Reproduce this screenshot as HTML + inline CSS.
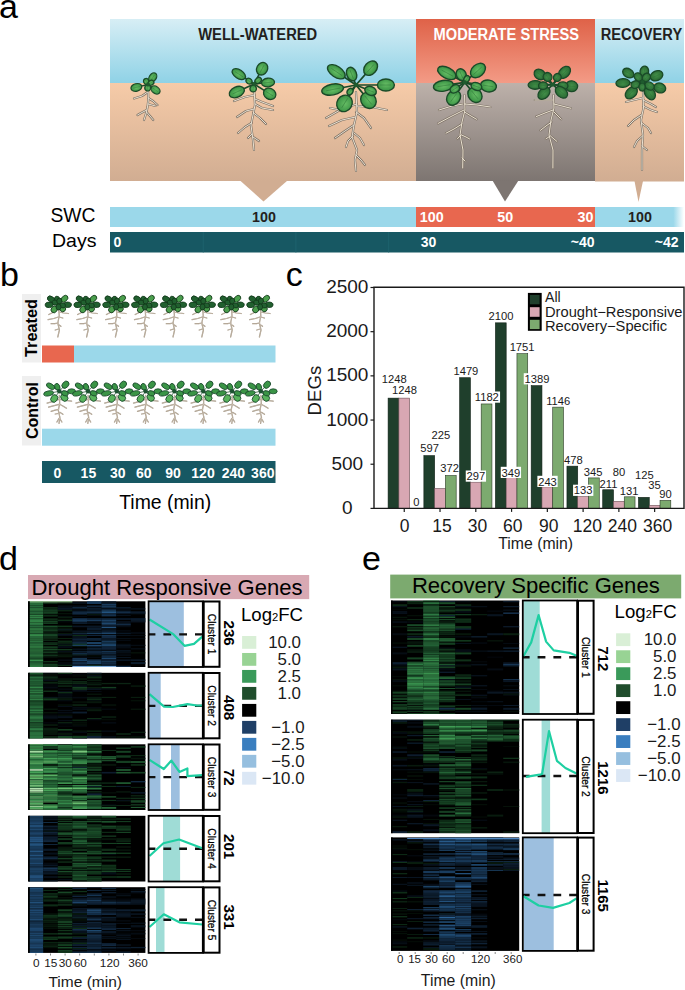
<!DOCTYPE html>
<html><head><meta charset="utf-8"><style>
html,body{margin:0;padding:0;background:#fff;}
body{width:685px;height:990px;overflow:hidden;}
svg{display:block;font-family:"Liberation Sans", sans-serif;}
</style></head><body>
<svg width="685" height="990" viewBox="0 0 685 990" font-family='"Liberation Sans", sans-serif'>
<defs><linearGradient id="skyB" x1="0" y1="0" x2="0" y2="1"><stop offset="0" stop-color="#d7eef5"/><stop offset="1" stop-color="#8fd2e6"/></linearGradient><linearGradient id="soilB" x1="0" y1="0" x2="0" y2="1"><stop offset="0" stop-color="#f6cba8"/><stop offset="1" stop-color="#d1ad92"/></linearGradient><linearGradient id="skyR" x1="0" y1="0" x2="0" y2="1"><stop offset="0" stop-color="#df6248"/><stop offset="1" stop-color="#f39b86"/></linearGradient><linearGradient id="soilG" x1="0" y1="0" x2="0" y2="1"><stop offset="0" stop-color="#bdb1aa"/><stop offset="1" stop-color="#7d7571"/></linearGradient><linearGradient id="swcFade" x1="0" y1="0" x2="1" y2="0"><stop offset="0" stop-color="#9bd8ea"/><stop offset="0.88" stop-color="#9bd8ea"/><stop offset="1" stop-color="#9bd8ea" stop-opacity="0"/></linearGradient><radialGradient id="leafG" cx="0.5" cy="0.45" r="0.6"><stop offset="0" stop-color="#66bd64"/><stop offset="1" stop-color="#338c40"/></radialGradient><radialGradient id="leafD" cx="0.5" cy="0.45" r="0.6"><stop offset="0" stop-color="#44914a"/><stop offset="1" stop-color="#25632f"/></radialGradient></defs>
<rect x="110.00" y="19.00" width="306.00" height="64.00" fill="url(#skyB)" />
<rect x="110.00" y="83.00" width="306.00" height="98.00" fill="url(#soilB)" />
<polygon points="240,180.5 287.5,180.5 263.5,201.5" fill="#d1ad92"/>
<rect x="416.00" y="19.00" width="179.00" height="64.00" fill="url(#skyR)" />
<rect x="416.00" y="83.00" width="179.00" height="98.00" fill="url(#soilG)" />
<polygon points="492.5,180.5 518.5,180.5 505,201.5" fill="#7d7571"/>
<rect x="595.00" y="19.00" width="89.00" height="64.00" fill="url(#skyB)" />
<rect x="595.00" y="83.00" width="89.00" height="98.50" fill="url(#soilB)" />
<polygon points="634.5,181 643,181 638.5,202" fill="#d1ad92"/>
<text x="257.70" y="40.40" font-size="15.6" text-anchor="middle" font-weight="bold" fill="#231f20" textLength="119" lengthAdjust="spacingAndGlyphs" >WELL-WATERED</text>
<text x="506.30" y="40.40" font-size="15.6" text-anchor="middle" font-weight="bold" fill="#ffffff" textLength="145.5" lengthAdjust="spacingAndGlyphs" >MODERATE STRESS</text>
<text x="641.40" y="40.20" font-size="15.6" text-anchor="middle" font-weight="bold" fill="#231f20" textLength="81.5" lengthAdjust="spacingAndGlyphs" >RECOVERY</text>
<rect x="110.00" y="207.00" width="306.00" height="20.00" fill="#9bd8ea" />
<rect x="416.00" y="207.00" width="179.00" height="20.00" fill="#e8674f" />
<rect x="595.00" y="207.00" width="89.00" height="20.00" fill="url(#swcFade)" />
<rect x="110.00" y="232.00" width="574.00" height="20.50" fill="#175863" />
<rect x="202.80" y="232.00" width="0.80" height="20.50" fill="#1e6470" />
<rect x="295.50" y="232.00" width="0.80" height="20.50" fill="#1e6470" />
<rect x="388.30" y="232.00" width="0.80" height="20.50" fill="#1e6470" />
<text x="72.90" y="222.00" font-size="19.3" text-anchor="middle" fill="#000" textLength="45" lengthAdjust="spacingAndGlyphs" >SWC</text>
<text x="74.20" y="247.40" font-size="19.0" text-anchor="middle" fill="#000" textLength="44.5" lengthAdjust="spacingAndGlyphs" >Days</text>
<text x="264.00" y="222.20" font-size="14.3" text-anchor="middle" font-weight="bold" fill="#231f20" >100</text>
<text x="431.80" y="222.20" font-size="14.3" text-anchor="middle" font-weight="bold" fill="#fff" >100</text>
<text x="505.30" y="222.20" font-size="14.3" text-anchor="middle" font-weight="bold" fill="#fff" >50</text>
<text x="585.50" y="222.20" font-size="14.3" text-anchor="middle" font-weight="bold" fill="#fff" >30</text>
<text x="640.00" y="222.20" font-size="14.3" text-anchor="middle" font-weight="bold" fill="#231f20" >100</text>
<text x="113.60" y="246.80" font-size="14" text-anchor="start" font-weight="bold" fill="#fff" >0</text>
<text x="428.50" y="246.80" font-size="14" text-anchor="middle" font-weight="bold" fill="#fff" >30</text>
<text x="594.50" y="246.80" font-size="14" text-anchor="end" font-weight="bold" fill="#fff" >~40</text>
<text x="678.50" y="246.80" font-size="14" text-anchor="end" font-weight="bold" fill="#fff" >~42</text>
<text x="-1.00" y="17.80" font-size="34" text-anchor="start" fill="#000" >a</text>
<g><path d="M148.0,86.0 L148.3,100.0 L147.5,107.0 L146.5,112.0 L144.0,120.0" fill="none" stroke="#7d7266" stroke-width="2.2" stroke-linecap="round" stroke-linejoin="round"/><path d="M147.8,92.0 L142.0,96.0 L134.0,98.5" fill="none" stroke="#7d7266" stroke-width="2.2" stroke-linecap="round" stroke-linejoin="round"/><path d="M148.2,98.0 L153.0,101.0 L157.5,105.0" fill="none" stroke="#7d7266" stroke-width="2.2" stroke-linecap="round" stroke-linejoin="round"/><path d="M148.2,104.0 L155.5,106.0" fill="none" stroke="#7d7266" stroke-width="2.2" stroke-linecap="round" stroke-linejoin="round"/><path d="M146.8,110.0 L141.0,113.0 L137.5,115.0" fill="none" stroke="#7d7266" stroke-width="2.2" stroke-linecap="round" stroke-linejoin="round"/><path d="M146.5,112.0 L150.0,116.0 L153.3,120.0" fill="none" stroke="#7d7266" stroke-width="2.2" stroke-linecap="round" stroke-linejoin="round"/><path d="M148.0,86.0 L148.3,100.0 L147.5,107.0 L146.5,112.0 L144.0,120.0" fill="none" stroke="#e9e0d0" stroke-width="1.0" stroke-linecap="round" stroke-linejoin="round"/><path d="M147.8,92.0 L142.0,96.0 L134.0,98.5" fill="none" stroke="#e9e0d0" stroke-width="1.0" stroke-linecap="round" stroke-linejoin="round"/><path d="M148.2,98.0 L153.0,101.0 L157.5,105.0" fill="none" stroke="#e9e0d0" stroke-width="1.0" stroke-linecap="round" stroke-linejoin="round"/><path d="M148.2,104.0 L155.5,106.0" fill="none" stroke="#e9e0d0" stroke-width="1.0" stroke-linecap="round" stroke-linejoin="round"/><path d="M146.8,110.0 L141.0,113.0 L137.5,115.0" fill="none" stroke="#e9e0d0" stroke-width="1.0" stroke-linecap="round" stroke-linejoin="round"/><path d="M146.5,112.0 L150.0,116.0 L153.3,120.0" fill="none" stroke="#e9e0d0" stroke-width="1.0" stroke-linecap="round" stroke-linejoin="round"/><line x1="148.0" y1="84.5" x2="147.0" y2="82.8" stroke="#1a4a28" stroke-width="1.44" stroke-linecap="round"/><line x1="148.0" y1="84.5" x2="147.8" y2="86.5" stroke="#1a4a28" stroke-width="1.44" stroke-linecap="round"/><line x1="148.0" y1="84.5" x2="149.7" y2="83.5" stroke="#1a4a28" stroke-width="1.44" stroke-linecap="round"/><line x1="148.0" y1="84.5" x2="150.8" y2="80.4" stroke="#1a4a28" stroke-width="1.44" stroke-linecap="round"/><line x1="148.0" y1="84.5" x2="140.2" y2="86.4" stroke="#1a4a28" stroke-width="1.44" stroke-linecap="round"/><line x1="148.0" y1="84.5" x2="152.7" y2="87.9" stroke="#1a4a28" stroke-width="1.44" stroke-linecap="round"/><g transform="translate(136.36,87.40) rotate(166.0)"><ellipse cx="0" cy="0" rx="5.50" ry="3.78" fill="url(#leafG)" stroke="#1a4a28" stroke-width="1.20"/><line x1="-3.85" y1="0" x2="3.30" y2="0" stroke="#2b7236" stroke-width="0.66" opacity="0.6"/></g><g transform="translate(155.52,89.97) rotate(36.0)"><ellipse cx="0" cy="0" rx="5.00" ry="3.51" fill="url(#leafG)" stroke="#1a4a28" stroke-width="1.20"/><line x1="-3.50" y1="0" x2="3.00" y2="0" stroke="#2b7236" stroke-width="0.66" opacity="0.6"/></g><g transform="translate(152.75,77.45) rotate(-56.0)"><ellipse cx="0" cy="0" rx="5.00" ry="3.51" fill="url(#leafG)" stroke="#1a4a28" stroke-width="1.20"/><line x1="-3.50" y1="0" x2="3.00" y2="0" stroke="#2b7236" stroke-width="0.66" opacity="0.6"/></g><g transform="translate(146.25,81.47) rotate(-120.0)"><ellipse cx="0" cy="0" rx="3.00" ry="2.70" fill="url(#leafG)" stroke="#1a4a28" stroke-width="1.20"/><line x1="-2.10" y1="0" x2="1.80" y2="0" stroke="#2b7236" stroke-width="0.66" opacity="0.6"/></g><g transform="translate(147.69,87.99) rotate(95.0)"><ellipse cx="0" cy="0" rx="3.00" ry="2.97" fill="url(#leafG)" stroke="#1a4a28" stroke-width="1.20"/><line x1="-2.10" y1="0" x2="1.80" y2="0" stroke="#2b7236" stroke-width="0.66" opacity="0.6"/></g><g transform="translate(151.03,82.75) rotate(-30.0)"><ellipse cx="0" cy="0" rx="3.00" ry="2.43" fill="url(#leafG)" stroke="#1a4a28" stroke-width="1.20"/><line x1="-2.10" y1="0" x2="1.80" y2="0" stroke="#2b7236" stroke-width="0.66" opacity="0.6"/></g><circle cx="148.0" cy="84.5" r="1.9" fill="#1f5a2e"/></g>
<g><path d="M254.0,88.0 L255.0,105.0 L253.0,115.0 L251.0,125.0 L253.0,140.0 L254.0,150.0" fill="none" stroke="#7d7266" stroke-width="2.2" stroke-linecap="round" stroke-linejoin="round"/><path d="M254.5,95.0 L245.0,97.0 L234.0,101.0" fill="none" stroke="#7d7266" stroke-width="2.2" stroke-linecap="round" stroke-linejoin="round"/><path d="M255.0,99.0 L262.0,102.0 L273.0,106.0" fill="none" stroke="#7d7266" stroke-width="2.2" stroke-linecap="round" stroke-linejoin="round"/><path d="M255.0,104.0 L262.0,108.0 L273.0,110.0" fill="none" stroke="#7d7266" stroke-width="2.2" stroke-linecap="round" stroke-linejoin="round"/><path d="M254.0,109.0 L246.0,111.0 L237.0,117.0" fill="none" stroke="#7d7266" stroke-width="2.2" stroke-linecap="round" stroke-linejoin="round"/><path d="M253.5,113.0 L260.0,118.0 L266.0,124.0" fill="none" stroke="#7d7266" stroke-width="2.2" stroke-linecap="round" stroke-linejoin="round"/><path d="M251.5,123.0 L245.0,127.0 L238.0,133.0" fill="none" stroke="#7d7266" stroke-width="2.2" stroke-linecap="round" stroke-linejoin="round"/><path d="M252.0,134.0 L248.0,138.0" fill="none" stroke="#7d7266" stroke-width="2.2" stroke-linecap="round" stroke-linejoin="round"/><path d="M253.0,137.0 L259.0,141.0" fill="none" stroke="#7d7266" stroke-width="2.2" stroke-linecap="round" stroke-linejoin="round"/><path d="M254.0,88.0 L255.0,105.0 L253.0,115.0 L251.0,125.0 L253.0,140.0 L254.0,150.0" fill="none" stroke="#e9e0d0" stroke-width="1.0" stroke-linecap="round" stroke-linejoin="round"/><path d="M254.5,95.0 L245.0,97.0 L234.0,101.0" fill="none" stroke="#e9e0d0" stroke-width="1.0" stroke-linecap="round" stroke-linejoin="round"/><path d="M255.0,99.0 L262.0,102.0 L273.0,106.0" fill="none" stroke="#e9e0d0" stroke-width="1.0" stroke-linecap="round" stroke-linejoin="round"/><path d="M255.0,104.0 L262.0,108.0 L273.0,110.0" fill="none" stroke="#e9e0d0" stroke-width="1.0" stroke-linecap="round" stroke-linejoin="round"/><path d="M254.0,109.0 L246.0,111.0 L237.0,117.0" fill="none" stroke="#e9e0d0" stroke-width="1.0" stroke-linecap="round" stroke-linejoin="round"/><path d="M253.5,113.0 L260.0,118.0 L266.0,124.0" fill="none" stroke="#e9e0d0" stroke-width="1.0" stroke-linecap="round" stroke-linejoin="round"/><path d="M251.5,123.0 L245.0,127.0 L238.0,133.0" fill="none" stroke="#e9e0d0" stroke-width="1.0" stroke-linecap="round" stroke-linejoin="round"/><path d="M252.0,134.0 L248.0,138.0" fill="none" stroke="#e9e0d0" stroke-width="1.0" stroke-linecap="round" stroke-linejoin="round"/><path d="M253.0,137.0 L259.0,141.0" fill="none" stroke="#e9e0d0" stroke-width="1.0" stroke-linecap="round" stroke-linejoin="round"/><line x1="254.0" y1="84.0" x2="250.5" y2="82.0" stroke="#1a4a28" stroke-width="1.56" stroke-linecap="round"/><line x1="254.0" y1="84.0" x2="253.5" y2="87.0" stroke="#1a4a28" stroke-width="1.56" stroke-linecap="round"/><line x1="254.0" y1="84.0" x2="256.7" y2="81.8" stroke="#1a4a28" stroke-width="1.56" stroke-linecap="round"/><line x1="254.0" y1="84.0" x2="259.8" y2="73.1" stroke="#1a4a28" stroke-width="1.56" stroke-linecap="round"/><line x1="254.0" y1="84.0" x2="243.9" y2="77.4" stroke="#1a4a28" stroke-width="1.56" stroke-linecap="round"/><line x1="254.0" y1="84.0" x2="242.7" y2="89.3" stroke="#1a4a28" stroke-width="1.56" stroke-linecap="round"/><line x1="254.0" y1="84.0" x2="263.1" y2="83.0" stroke="#1a4a28" stroke-width="1.56" stroke-linecap="round"/><line x1="254.0" y1="84.0" x2="265.4" y2="91.2" stroke="#1a4a28" stroke-width="1.56" stroke-linecap="round"/><g transform="translate(269.69,93.80) rotate(32.0)"><ellipse cx="0" cy="0" rx="6.50" ry="5.40" fill="url(#leafG)" stroke="#1a4a28" stroke-width="1.30"/><line x1="-4.55" y1="0" x2="3.90" y2="0" stroke="#2b7236" stroke-width="0.72" opacity="0.6"/></g><g transform="translate(236.78,92.03) rotate(155.0)"><ellipse cx="0" cy="0" rx="8.00" ry="5.13" fill="url(#leafG)" stroke="#1a4a28" stroke-width="1.30"/><line x1="-5.60" y1="0" x2="4.80" y2="0" stroke="#2b7236" stroke-width="0.72" opacity="0.6"/></g><g transform="translate(262.12,68.73) rotate(-62.0)"><ellipse cx="0" cy="0" rx="6.50" ry="5.40" fill="url(#leafG)" stroke="#1a4a28" stroke-width="1.30"/><line x1="-4.55" y1="0" x2="3.90" y2="0" stroke="#2b7236" stroke-width="0.72" opacity="0.6"/></g><g transform="translate(238.82,74.14) rotate(-147.0)"><ellipse cx="0" cy="0" rx="7.50" ry="4.32" fill="url(#leafG)" stroke="#1a4a28" stroke-width="1.30"/><line x1="-5.25" y1="0" x2="4.50" y2="0" stroke="#2b7236" stroke-width="0.72" opacity="0.6"/></g><g transform="translate(268.02,82.53) rotate(-6.0)"><ellipse cx="0" cy="0" rx="6.50" ry="4.32" fill="url(#leafG)" stroke="#1a4a28" stroke-width="1.30"/><line x1="-4.55" y1="0" x2="3.90" y2="0" stroke="#2b7236" stroke-width="0.72" opacity="0.6"/></g><g transform="translate(249.02,81.12) rotate(-150.0)"><ellipse cx="0" cy="0" rx="3.25" ry="2.70" fill="url(#leafG)" stroke="#1a4a28" stroke-width="1.30"/><line x1="-2.27" y1="0" x2="1.95" y2="0" stroke="#2b7236" stroke-width="0.72" opacity="0.6"/></g><g transform="translate(258.21,80.46) rotate(-40.0)"><ellipse cx="0" cy="0" rx="3.50" ry="2.70" fill="url(#leafG)" stroke="#1a4a28" stroke-width="1.30"/><line x1="-2.45" y1="0" x2="2.10" y2="0" stroke="#2b7236" stroke-width="0.72" opacity="0.6"/></g><g transform="translate(253.18,88.68) rotate(100.0)"><ellipse cx="0" cy="0" rx="3.25" ry="3.24" fill="url(#leafG)" stroke="#1a4a28" stroke-width="1.30"/><line x1="-2.27" y1="0" x2="1.95" y2="0" stroke="#2b7236" stroke-width="0.72" opacity="0.6"/></g><circle cx="254.0" cy="84.0" r="2.1" fill="#1f5a2e"/></g>
<g><path d="M356.0,92.0 L357.0,112.0 L354.0,125.0 L352.0,137.0 L357.0,150.0 L355.0,160.0 L356.0,171.0" fill="none" stroke="#7d7266" stroke-width="2.2" stroke-linecap="round" stroke-linejoin="round"/><path d="M356.5,104.0 L340.0,110.0 L326.0,118.0" fill="none" stroke="#7d7266" stroke-width="2.2" stroke-linecap="round" stroke-linejoin="round"/><path d="M340.0,110.0 L330.0,108.0" fill="none" stroke="#7d7266" stroke-width="2.2" stroke-linecap="round" stroke-linejoin="round"/><path d="M357.0,106.0 L372.0,107.0 L387.0,110.0" fill="none" stroke="#7d7266" stroke-width="2.2" stroke-linecap="round" stroke-linejoin="round"/><path d="M355.5,117.0 L342.0,120.0 L329.0,126.0" fill="none" stroke="#7d7266" stroke-width="2.2" stroke-linecap="round" stroke-linejoin="round"/><path d="M356.0,112.0 L364.0,118.0 L371.0,128.0" fill="none" stroke="#7d7266" stroke-width="2.2" stroke-linecap="round" stroke-linejoin="round"/><path d="M354.0,125.0 L345.0,131.0 L335.0,138.0" fill="none" stroke="#7d7266" stroke-width="2.2" stroke-linecap="round" stroke-linejoin="round"/><path d="M353.0,136.0 L348.0,141.0 L346.0,147.0" fill="none" stroke="#7d7266" stroke-width="2.2" stroke-linecap="round" stroke-linejoin="round"/><path d="M354.0,133.0 L360.0,138.0 L364.0,145.0" fill="none" stroke="#7d7266" stroke-width="2.2" stroke-linecap="round" stroke-linejoin="round"/><path d="M356.0,155.0 L361.0,160.0 L365.0,165.0" fill="none" stroke="#7d7266" stroke-width="2.2" stroke-linecap="round" stroke-linejoin="round"/><path d="M356.0,92.0 L357.0,112.0 L354.0,125.0 L352.0,137.0 L357.0,150.0 L355.0,160.0 L356.0,171.0" fill="none" stroke="#e9e0d0" stroke-width="1.0" stroke-linecap="round" stroke-linejoin="round"/><path d="M356.5,104.0 L340.0,110.0 L326.0,118.0" fill="none" stroke="#e9e0d0" stroke-width="1.0" stroke-linecap="round" stroke-linejoin="round"/><path d="M340.0,110.0 L330.0,108.0" fill="none" stroke="#e9e0d0" stroke-width="1.0" stroke-linecap="round" stroke-linejoin="round"/><path d="M357.0,106.0 L372.0,107.0 L387.0,110.0" fill="none" stroke="#e9e0d0" stroke-width="1.0" stroke-linecap="round" stroke-linejoin="round"/><path d="M355.5,117.0 L342.0,120.0 L329.0,126.0" fill="none" stroke="#e9e0d0" stroke-width="1.0" stroke-linecap="round" stroke-linejoin="round"/><path d="M356.0,112.0 L364.0,118.0 L371.0,128.0" fill="none" stroke="#e9e0d0" stroke-width="1.0" stroke-linecap="round" stroke-linejoin="round"/><path d="M354.0,125.0 L345.0,131.0 L335.0,138.0" fill="none" stroke="#e9e0d0" stroke-width="1.0" stroke-linecap="round" stroke-linejoin="round"/><path d="M353.0,136.0 L348.0,141.0 L346.0,147.0" fill="none" stroke="#e9e0d0" stroke-width="1.0" stroke-linecap="round" stroke-linejoin="round"/><path d="M354.0,133.0 L360.0,138.0 L364.0,145.0" fill="none" stroke="#e9e0d0" stroke-width="1.0" stroke-linecap="round" stroke-linejoin="round"/><path d="M356.0,155.0 L361.0,160.0 L365.0,165.0" fill="none" stroke="#e9e0d0" stroke-width="1.0" stroke-linecap="round" stroke-linejoin="round"/><line x1="356.0" y1="85.0" x2="351.4" y2="90.1" stroke="#1a4a28" stroke-width="1.68" stroke-linecap="round"/><line x1="356.0" y1="85.0" x2="353.6" y2="79.2" stroke="#1a4a28" stroke-width="1.68" stroke-linecap="round"/><line x1="356.0" y1="85.0" x2="343.4" y2="76.5" stroke="#1a4a28" stroke-width="1.68" stroke-linecap="round"/><line x1="356.0" y1="85.0" x2="366.4" y2="73.1" stroke="#1a4a28" stroke-width="1.68" stroke-linecap="round"/><line x1="356.0" y1="85.0" x2="378.9" y2="85.0" stroke="#1a4a28" stroke-width="1.68" stroke-linecap="round"/><line x1="356.0" y1="85.0" x2="342.0" y2="87.7" stroke="#1a4a28" stroke-width="1.68" stroke-linecap="round"/><line x1="356.0" y1="85.0" x2="366.4" y2="89.2" stroke="#1a4a28" stroke-width="1.68" stroke-linecap="round"/><line x1="356.0" y1="85.0" x2="348.2" y2="97.5" stroke="#1a4a28" stroke-width="1.68" stroke-linecap="round"/><line x1="356.0" y1="85.0" x2="364.1" y2="94.9" stroke="#1a4a28" stroke-width="1.68" stroke-linecap="round"/><g transform="translate(385.90,85.00) rotate(0.0)"><ellipse cx="0" cy="0" rx="8.50" ry="5.94" fill="url(#leafG)" stroke="#1a4a28" stroke-width="1.40"/><line x1="-5.95" y1="0" x2="5.10" y2="0" stroke="#2b7236" stroke-width="0.77" opacity="0.6"/></g><g transform="translate(370.63,68.17) rotate(-49.0)"><ellipse cx="0" cy="0" rx="8.00" ry="5.94" fill="url(#leafG)" stroke="#1a4a28" stroke-width="1.40"/><line x1="-5.60" y1="0" x2="4.80" y2="0" stroke="#2b7236" stroke-width="0.77" opacity="0.6"/></g><g transform="translate(336.35,71.75) rotate(-146.0)"><ellipse cx="0" cy="0" rx="10.00" ry="5.40" fill="url(#leafG)" stroke="#1a4a28" stroke-width="1.40"/><line x1="-7.00" y1="0" x2="6.00" y2="0" stroke="#2b7236" stroke-width="0.77" opacity="0.6"/></g><g transform="translate(344.50,103.40) rotate(122.0)"><ellipse cx="0" cy="0" rx="8.50" ry="7.56" fill="url(#leafG)" stroke="#1a4a28" stroke-width="1.40"/><line x1="-5.95" y1="0" x2="5.10" y2="0" stroke="#2b7236" stroke-width="0.77" opacity="0.6"/></g><g transform="translate(332.64,89.54) rotate(169.0)"><ellipse cx="0" cy="0" rx="11.00" ry="5.40" fill="url(#leafG)" stroke="#1a4a28" stroke-width="1.40"/><line x1="-7.70" y1="0" x2="6.60" y2="0" stroke="#2b7236" stroke-width="0.77" opacity="0.6"/></g><g transform="translate(368.46,100.39) rotate(51.0)"><ellipse cx="0" cy="0" rx="8.50" ry="7.29" fill="url(#leafG)" stroke="#1a4a28" stroke-width="1.40"/><line x1="-5.95" y1="0" x2="5.10" y2="0" stroke="#2b7236" stroke-width="0.77" opacity="0.6"/></g><g transform="translate(370.56,90.88) rotate(22.0)"><ellipse cx="0" cy="0" rx="6.00" ry="4.32" fill="url(#leafG)" stroke="#1a4a28" stroke-width="1.40"/><line x1="-4.20" y1="0" x2="3.60" y2="0" stroke="#2b7236" stroke-width="0.77" opacity="0.6"/></g><g transform="translate(350.04,91.61) rotate(132.0)"><ellipse cx="0" cy="0" rx="3.50" ry="2.70" fill="url(#leafG)" stroke="#1a4a28" stroke-width="1.40"/><line x1="-2.45" y1="0" x2="2.10" y2="0" stroke="#2b7236" stroke-width="0.77" opacity="0.6"/></g><g transform="translate(351.58,74.06) rotate(-112.0)"><ellipse cx="0" cy="0" rx="7.00" ry="4.86" fill="url(#leafG)" stroke="#1a4a28" stroke-width="1.40"/><line x1="-4.90" y1="0" x2="4.20" y2="0" stroke="#2b7236" stroke-width="0.77" opacity="0.6"/></g><circle cx="356.0" cy="85.0" r="2.2" fill="#1f5a2e"/></g>
<g><path d="M464.5,95.0 L465.0,110.0 L462.0,122.0 L460.0,135.0 L463.0,150.0 L462.7,168.0" fill="none" stroke="#7d7266" stroke-width="2.2" stroke-linecap="round" stroke-linejoin="round"/><path d="M463.0,104.0 L452.0,106.0 L439.0,110.0" fill="none" stroke="#7d7266" stroke-width="2.2" stroke-linecap="round" stroke-linejoin="round"/><path d="M464.0,110.0 L452.0,116.0 L438.0,123.5" fill="none" stroke="#7d7266" stroke-width="2.2" stroke-linecap="round" stroke-linejoin="round"/><path d="M464.5,104.0 L477.0,105.0 L490.4,107.0" fill="none" stroke="#7d7266" stroke-width="2.2" stroke-linecap="round" stroke-linejoin="round"/><path d="M464.5,112.0 L471.0,116.0 L476.6,119.3" fill="none" stroke="#7d7266" stroke-width="2.2" stroke-linecap="round" stroke-linejoin="round"/><path d="M462.0,124.0 L454.0,129.0 L446.0,133.2" fill="none" stroke="#7d7266" stroke-width="2.2" stroke-linecap="round" stroke-linejoin="round"/><path d="M461.0,135.0 L459.0,137.0 L457.2,139.0" fill="none" stroke="#7d7266" stroke-width="2.2" stroke-linecap="round" stroke-linejoin="round"/><path d="M461.5,135.0 L466.0,137.0 L469.6,139.0" fill="none" stroke="#7d7266" stroke-width="2.2" stroke-linecap="round" stroke-linejoin="round"/><path d="M462.0,158.0 L465.0,161.0" fill="none" stroke="#7d7266" stroke-width="2.2" stroke-linecap="round" stroke-linejoin="round"/><path d="M464.5,95.0 L465.0,110.0 L462.0,122.0 L460.0,135.0 L463.0,150.0 L462.7,168.0" fill="none" stroke="#e9e0d0" stroke-width="1.0" stroke-linecap="round" stroke-linejoin="round"/><path d="M463.0,104.0 L452.0,106.0 L439.0,110.0" fill="none" stroke="#e9e0d0" stroke-width="1.0" stroke-linecap="round" stroke-linejoin="round"/><path d="M464.0,110.0 L452.0,116.0 L438.0,123.5" fill="none" stroke="#e9e0d0" stroke-width="1.0" stroke-linecap="round" stroke-linejoin="round"/><path d="M464.5,104.0 L477.0,105.0 L490.4,107.0" fill="none" stroke="#e9e0d0" stroke-width="1.0" stroke-linecap="round" stroke-linejoin="round"/><path d="M464.5,112.0 L471.0,116.0 L476.6,119.3" fill="none" stroke="#e9e0d0" stroke-width="1.0" stroke-linecap="round" stroke-linejoin="round"/><path d="M462.0,124.0 L454.0,129.0 L446.0,133.2" fill="none" stroke="#e9e0d0" stroke-width="1.0" stroke-linecap="round" stroke-linejoin="round"/><path d="M461.0,135.0 L459.0,137.0 L457.2,139.0" fill="none" stroke="#e9e0d0" stroke-width="1.0" stroke-linecap="round" stroke-linejoin="round"/><path d="M461.5,135.0 L466.0,137.0 L469.6,139.0" fill="none" stroke="#e9e0d0" stroke-width="1.0" stroke-linecap="round" stroke-linejoin="round"/><path d="M462.0,158.0 L465.0,161.0" fill="none" stroke="#e9e0d0" stroke-width="1.0" stroke-linecap="round" stroke-linejoin="round"/><line x1="464.7" y1="82.4" x2="465.7" y2="80.7" stroke="#1a4a28" stroke-width="1.68" stroke-linecap="round"/><line x1="464.7" y1="82.4" x2="463.0" y2="78.7" stroke="#1a4a28" stroke-width="1.68" stroke-linecap="round"/><line x1="464.7" y1="82.4" x2="454.4" y2="76.9" stroke="#1a4a28" stroke-width="1.68" stroke-linecap="round"/><line x1="464.7" y1="82.4" x2="472.7" y2="75.2" stroke="#1a4a28" stroke-width="1.68" stroke-linecap="round"/><line x1="464.7" y1="82.4" x2="482.0" y2="85.0" stroke="#1a4a28" stroke-width="1.68" stroke-linecap="round"/><line x1="464.7" y1="82.4" x2="451.8" y2="84.4" stroke="#1a4a28" stroke-width="1.68" stroke-linecap="round"/><line x1="464.7" y1="82.4" x2="457.7" y2="86.9" stroke="#1a4a28" stroke-width="1.68" stroke-linecap="round"/><line x1="464.7" y1="82.4" x2="472.6" y2="85.1" stroke="#1a4a28" stroke-width="1.68" stroke-linecap="round"/><line x1="464.7" y1="82.4" x2="457.4" y2="92.4" stroke="#1a4a28" stroke-width="1.68" stroke-linecap="round"/><line x1="464.7" y1="82.4" x2="470.9" y2="90.0" stroke="#1a4a28" stroke-width="1.68" stroke-linecap="round"/><g transform="translate(488.43,85.99) rotate(8.6)"><ellipse cx="0" cy="0" rx="8.00" ry="5.94" fill="url(#leafG)" stroke="#1a4a28" stroke-width="1.40"/><line x1="-5.60" y1="0" x2="4.80" y2="0" stroke="#2b7236" stroke-width="0.77" opacity="0.6"/></g><g transform="translate(443.37,85.78) rotate(171.0)"><ellipse cx="0" cy="0" rx="10.00" ry="5.40" fill="url(#leafG)" stroke="#1a4a28" stroke-width="1.40"/><line x1="-7.00" y1="0" x2="6.00" y2="0" stroke="#2b7236" stroke-width="0.77" opacity="0.6"/></g><g transform="translate(453.59,97.69) rotate(126.0)"><ellipse cx="0" cy="0" rx="8.00" ry="6.48" fill="url(#leafG)" stroke="#1a4a28" stroke-width="1.40"/><line x1="-5.60" y1="0" x2="4.80" y2="0" stroke="#2b7236" stroke-width="0.77" opacity="0.6"/></g><g transform="translate(446.86,72.92) rotate(-152.0)"><ellipse cx="0" cy="0" rx="10.00" ry="5.40" fill="url(#leafG)" stroke="#1a4a28" stroke-width="1.40"/><line x1="-7.00" y1="0" x2="6.00" y2="0" stroke="#2b7236" stroke-width="0.77" opacity="0.6"/></g><g transform="translate(477.93,70.49) rotate(-42.0)"><ellipse cx="0" cy="0" rx="8.50" ry="5.94" fill="url(#leafG)" stroke="#1a4a28" stroke-width="1.40"/><line x1="-5.95" y1="0" x2="5.10" y2="0" stroke="#2b7236" stroke-width="0.77" opacity="0.6"/></g><g transform="translate(474.96,95.07) rotate(51.0)"><ellipse cx="0" cy="0" rx="8.00" ry="6.48" fill="url(#leafG)" stroke="#1a4a28" stroke-width="1.40"/><line x1="-5.60" y1="0" x2="4.80" y2="0" stroke="#2b7236" stroke-width="0.77" opacity="0.6"/></g><g transform="translate(476.42,86.44) rotate(19.0)"><ellipse cx="0" cy="0" rx="5.50" ry="3.78" fill="url(#leafG)" stroke="#1a4a28" stroke-width="1.40"/><line x1="-3.85" y1="0" x2="3.30" y2="0" stroke="#2b7236" stroke-width="0.77" opacity="0.6"/></g><g transform="translate(454.80,88.83) rotate(147.0)"><ellipse cx="0" cy="0" rx="5.00" ry="3.78" fill="url(#leafG)" stroke="#1a4a28" stroke-width="1.40"/><line x1="-3.50" y1="0" x2="3.00" y2="0" stroke="#2b7236" stroke-width="0.77" opacity="0.6"/></g><g transform="translate(461.20,74.54) rotate(-114.0)"><ellipse cx="0" cy="0" rx="6.00" ry="4.86" fill="url(#leafG)" stroke="#1a4a28" stroke-width="1.40"/><line x1="-4.20" y1="0" x2="3.60" y2="0" stroke="#2b7236" stroke-width="0.77" opacity="0.6"/></g><g transform="translate(466.70,78.94) rotate(-60.0)"><ellipse cx="0" cy="0" rx="3.50" ry="2.70" fill="url(#leafG)" stroke="#1a4a28" stroke-width="1.40"/><line x1="-2.45" y1="0" x2="2.10" y2="0" stroke="#2b7236" stroke-width="0.77" opacity="0.6"/></g><circle cx="464.7" cy="82.4" r="2.2" fill="#1f5a2e"/></g>
<g><path d="M553.5,95.0 L554.0,108.0 L551.0,120.0 L549.0,135.0 L553.0,150.0 L552.9,168.0" fill="none" stroke="#7d7266" stroke-width="2.2" stroke-linecap="round" stroke-linejoin="round"/><path d="M552.5,100.0 L543.0,100.0 L534.8,100.0" fill="none" stroke="#7d7266" stroke-width="2.2" stroke-linecap="round" stroke-linejoin="round"/><path d="M553.0,110.0 L545.0,113.0 L536.2,116.6" fill="none" stroke="#7d7266" stroke-width="2.2" stroke-linecap="round" stroke-linejoin="round"/><path d="M554.0,104.0 L562.0,106.0 L570.9,108.3" fill="none" stroke="#7d7266" stroke-width="2.2" stroke-linecap="round" stroke-linejoin="round"/><path d="M554.0,112.0 L558.0,116.0 L561.2,119.3" fill="none" stroke="#7d7266" stroke-width="2.2" stroke-linecap="round" stroke-linejoin="round"/><path d="M551.5,122.0 L546.0,126.0 L540.4,130.4" fill="none" stroke="#7d7266" stroke-width="2.2" stroke-linecap="round" stroke-linejoin="round"/><path d="M550.0,136.0 L548.0,137.5 L545.9,138.8" fill="none" stroke="#7d7266" stroke-width="2.2" stroke-linecap="round" stroke-linejoin="round"/><path d="M550.5,136.0 L554.0,139.0 L557.0,141.5" fill="none" stroke="#7d7266" stroke-width="2.2" stroke-linecap="round" stroke-linejoin="round"/><path d="M553.5,95.0 L554.0,108.0 L551.0,120.0 L549.0,135.0 L553.0,150.0 L552.9,168.0" fill="none" stroke="#e9e0d0" stroke-width="1.0" stroke-linecap="round" stroke-linejoin="round"/><path d="M552.5,100.0 L543.0,100.0 L534.8,100.0" fill="none" stroke="#e9e0d0" stroke-width="1.0" stroke-linecap="round" stroke-linejoin="round"/><path d="M553.0,110.0 L545.0,113.0 L536.2,116.6" fill="none" stroke="#e9e0d0" stroke-width="1.0" stroke-linecap="round" stroke-linejoin="round"/><path d="M554.0,104.0 L562.0,106.0 L570.9,108.3" fill="none" stroke="#e9e0d0" stroke-width="1.0" stroke-linecap="round" stroke-linejoin="round"/><path d="M554.0,112.0 L558.0,116.0 L561.2,119.3" fill="none" stroke="#e9e0d0" stroke-width="1.0" stroke-linecap="round" stroke-linejoin="round"/><path d="M551.5,122.0 L546.0,126.0 L540.4,130.4" fill="none" stroke="#e9e0d0" stroke-width="1.0" stroke-linecap="round" stroke-linejoin="round"/><path d="M550.0,136.0 L548.0,137.5 L545.9,138.8" fill="none" stroke="#e9e0d0" stroke-width="1.0" stroke-linecap="round" stroke-linejoin="round"/><path d="M550.5,136.0 L554.0,139.0 L557.0,141.5" fill="none" stroke="#e9e0d0" stroke-width="1.0" stroke-linecap="round" stroke-linejoin="round"/><line x1="552.7" y1="84.6" x2="549.2" y2="79.5" stroke="#1a4a28" stroke-width="1.56" stroke-linecap="round"/><line x1="552.7" y1="84.6" x2="556.0" y2="79.6" stroke="#1a4a28" stroke-width="1.56" stroke-linecap="round"/><line x1="552.7" y1="84.6" x2="543.2" y2="77.2" stroke="#1a4a28" stroke-width="1.56" stroke-linecap="round"/><line x1="552.7" y1="84.6" x2="560.7" y2="76.3" stroke="#1a4a28" stroke-width="1.56" stroke-linecap="round"/><line x1="552.7" y1="84.6" x2="567.1" y2="85.9" stroke="#1a4a28" stroke-width="1.56" stroke-linecap="round"/><line x1="552.7" y1="84.6" x2="540.6" y2="84.8" stroke="#1a4a28" stroke-width="1.56" stroke-linecap="round"/><line x1="552.7" y1="84.6" x2="546.0" y2="85.3" stroke="#1a4a28" stroke-width="1.56" stroke-linecap="round"/><line x1="552.7" y1="84.6" x2="559.5" y2="85.3" stroke="#1a4a28" stroke-width="1.56" stroke-linecap="round"/><line x1="552.7" y1="84.6" x2="547.9" y2="89.4" stroke="#1a4a28" stroke-width="1.56" stroke-linecap="round"/><line x1="552.7" y1="84.6" x2="557.3" y2="88.6" stroke="#1a4a28" stroke-width="1.56" stroke-linecap="round"/><g transform="translate(571.63,86.26) rotate(5.0)"><ellipse cx="0" cy="0" rx="6.00" ry="5.40" fill="url(#leafD)" stroke="#1a4a28" stroke-width="1.30"/><line x1="-4.20" y1="0" x2="3.60" y2="0" stroke="#2b7236" stroke-width="0.72" opacity="0.6"/></g><g transform="translate(535.10,84.91) rotate(179.0)"><ellipse cx="0" cy="0" rx="7.00" ry="4.32" fill="url(#leafD)" stroke="#1a4a28" stroke-width="1.30"/><line x1="-4.90" y1="0" x2="4.20" y2="0" stroke="#2b7236" stroke-width="0.72" opacity="0.6"/></g><g transform="translate(539.70,74.44) rotate(-142.0)"><ellipse cx="0" cy="0" rx="6.00" ry="4.86" fill="url(#leafD)" stroke="#1a4a28" stroke-width="1.30"/><line x1="-4.20" y1="0" x2="3.60" y2="0" stroke="#2b7236" stroke-width="0.72" opacity="0.6"/></g><g transform="translate(564.51,72.37) rotate(-46.0)"><ellipse cx="0" cy="0" rx="7.00" ry="4.86" fill="url(#leafD)" stroke="#1a4a28" stroke-width="1.30"/><line x1="-4.90" y1="0" x2="4.20" y2="0" stroke="#2b7236" stroke-width="0.72" opacity="0.6"/></g><g transform="translate(562.94,85.68) rotate(6.0)"><ellipse cx="0" cy="0" rx="5.00" ry="3.78" fill="url(#leafD)" stroke="#1a4a28" stroke-width="1.30"/><line x1="-3.50" y1="0" x2="3.00" y2="0" stroke="#2b7236" stroke-width="0.72" opacity="0.6"/></g><g transform="translate(544.00,93.30) rotate(135.0)"><ellipse cx="0" cy="0" rx="7.00" ry="4.86" fill="url(#leafD)" stroke="#1a4a28" stroke-width="1.30"/><line x1="-4.90" y1="0" x2="4.20" y2="0" stroke="#2b7236" stroke-width="0.72" opacity="0.6"/></g><g transform="translate(543.05,85.61) rotate(174.0)"><ellipse cx="0" cy="0" rx="4.50" ry="3.78" fill="url(#leafD)" stroke="#1a4a28" stroke-width="1.30"/><line x1="-3.15" y1="0" x2="2.70" y2="0" stroke="#2b7236" stroke-width="0.72" opacity="0.6"/></g><g transform="translate(547.56,76.97) rotate(-124.0)"><ellipse cx="0" cy="0" rx="4.50" ry="4.32" fill="url(#leafD)" stroke="#1a4a28" stroke-width="1.30"/><line x1="-3.15" y1="0" x2="2.70" y2="0" stroke="#2b7236" stroke-width="0.72" opacity="0.6"/></g><g transform="translate(561.45,92.21) rotate(41.0)"><ellipse cx="0" cy="0" rx="7.00" ry="4.86" fill="url(#leafD)" stroke="#1a4a28" stroke-width="1.30"/><line x1="-4.90" y1="0" x2="4.20" y2="0" stroke="#2b7236" stroke-width="0.72" opacity="0.6"/></g><g transform="translate(557.33,77.47) rotate(-57.0)"><ellipse cx="0" cy="0" rx="4.00" ry="3.78" fill="url(#leafD)" stroke="#1a4a28" stroke-width="1.30"/><line x1="-2.80" y1="0" x2="2.40" y2="0" stroke="#2b7236" stroke-width="0.72" opacity="0.6"/></g><circle cx="552.7" cy="84.6" r="2.1" fill="#1f5a2e"/></g>
<g><path d="M643.0,92.0 L643.5,108.0 L641.0,120.0 L643.0,135.0 L642.0,150.0 L642.0,170.0" fill="none" stroke="#7d7266" stroke-width="2.2" stroke-linecap="round" stroke-linejoin="round"/><path d="M642.5,98.0 L634.0,100.0 L626.0,102.0" fill="none" stroke="#7d7266" stroke-width="2.2" stroke-linecap="round" stroke-linejoin="round"/><path d="M643.0,100.0 L651.0,104.0 L656.0,107.0" fill="none" stroke="#7d7266" stroke-width="2.2" stroke-linecap="round" stroke-linejoin="round"/><path d="M643.0,106.0 L651.0,110.0 L657.0,112.0" fill="none" stroke="#7d7266" stroke-width="2.2" stroke-linecap="round" stroke-linejoin="round"/><path d="M641.5,115.0 L634.0,120.0 L628.0,126.0" fill="none" stroke="#7d7266" stroke-width="2.2" stroke-linecap="round" stroke-linejoin="round"/><path d="M641.5,123.0 L648.0,128.0 L651.0,133.0" fill="none" stroke="#7d7266" stroke-width="2.2" stroke-linecap="round" stroke-linejoin="round"/><path d="M642.5,136.0 L637.0,141.0 L634.0,147.0" fill="none" stroke="#7d7266" stroke-width="2.2" stroke-linecap="round" stroke-linejoin="round"/><path d="M642.0,146.0 L647.0,150.0" fill="none" stroke="#7d7266" stroke-width="2.2" stroke-linecap="round" stroke-linejoin="round"/><path d="M643.0,92.0 L643.5,108.0 L641.0,120.0 L643.0,135.0 L642.0,150.0 L642.0,170.0" fill="none" stroke="#e9e0d0" stroke-width="1.0" stroke-linecap="round" stroke-linejoin="round"/><path d="M642.5,98.0 L634.0,100.0 L626.0,102.0" fill="none" stroke="#e9e0d0" stroke-width="1.0" stroke-linecap="round" stroke-linejoin="round"/><path d="M643.0,100.0 L651.0,104.0 L656.0,107.0" fill="none" stroke="#e9e0d0" stroke-width="1.0" stroke-linecap="round" stroke-linejoin="round"/><path d="M643.0,106.0 L651.0,110.0 L657.0,112.0" fill="none" stroke="#e9e0d0" stroke-width="1.0" stroke-linecap="round" stroke-linejoin="round"/><path d="M641.5,115.0 L634.0,120.0 L628.0,126.0" fill="none" stroke="#e9e0d0" stroke-width="1.0" stroke-linecap="round" stroke-linejoin="round"/><path d="M641.5,123.0 L648.0,128.0 L651.0,133.0" fill="none" stroke="#e9e0d0" stroke-width="1.0" stroke-linecap="round" stroke-linejoin="round"/><path d="M642.5,136.0 L637.0,141.0 L634.0,147.0" fill="none" stroke="#e9e0d0" stroke-width="1.0" stroke-linecap="round" stroke-linejoin="round"/><path d="M642.0,146.0 L647.0,150.0" fill="none" stroke="#e9e0d0" stroke-width="1.0" stroke-linecap="round" stroke-linejoin="round"/><line x1="642.5" y1="82.0" x2="632.1" y2="75.5" stroke="#1a4a28" stroke-width="1.56" stroke-linecap="round"/><line x1="642.5" y1="82.0" x2="643.6" y2="75.6" stroke="#1a4a28" stroke-width="1.56" stroke-linecap="round"/><line x1="642.5" y1="82.0" x2="652.0" y2="77.8" stroke="#1a4a28" stroke-width="1.56" stroke-linecap="round"/><line x1="642.5" y1="82.0" x2="655.5" y2="86.5" stroke="#1a4a28" stroke-width="1.56" stroke-linecap="round"/><line x1="642.5" y1="82.0" x2="628.4" y2="82.7" stroke="#1a4a28" stroke-width="1.56" stroke-linecap="round"/><line x1="642.5" y1="82.0" x2="635.2" y2="89.0" stroke="#1a4a28" stroke-width="1.56" stroke-linecap="round"/><line x1="642.5" y1="82.0" x2="646.9" y2="88.7" stroke="#1a4a28" stroke-width="1.56" stroke-linecap="round"/><line x1="642.5" y1="82.0" x2="640.3" y2="79.3" stroke="#1a4a28" stroke-width="1.56" stroke-linecap="round"/><line x1="642.5" y1="82.0" x2="644.4" y2="79.7" stroke="#1a4a28" stroke-width="1.56" stroke-linecap="round"/><line x1="642.5" y1="82.0" x2="638.3" y2="83.5" stroke="#1a4a28" stroke-width="1.56" stroke-linecap="round"/><line x1="642.5" y1="82.0" x2="646.4" y2="84.2" stroke="#1a4a28" stroke-width="1.56" stroke-linecap="round"/><line x1="642.5" y1="82.0" x2="642.3" y2="84.5" stroke="#1a4a28" stroke-width="1.56" stroke-linecap="round"/><g transform="translate(622.93,83.03) rotate(177.0)"><ellipse cx="0" cy="0" rx="7.00" ry="4.32" fill="url(#leafD)" stroke="#1a4a28" stroke-width="1.30"/><line x1="-4.90" y1="0" x2="4.20" y2="0" stroke="#2b7236" stroke-width="0.72" opacity="0.6"/></g><g transform="translate(659.80,87.96) rotate(19.0)"><ellipse cx="0" cy="0" rx="6.00" ry="4.86" fill="url(#leafD)" stroke="#1a4a28" stroke-width="1.30"/><line x1="-4.20" y1="0" x2="3.60" y2="0" stroke="#2b7236" stroke-width="0.72" opacity="0.6"/></g><g transform="translate(628.25,73.10) rotate(-148.0)"><ellipse cx="0" cy="0" rx="6.00" ry="4.32" fill="url(#leafD)" stroke="#1a4a28" stroke-width="1.30"/><line x1="-4.20" y1="0" x2="3.60" y2="0" stroke="#2b7236" stroke-width="0.72" opacity="0.6"/></g><g transform="translate(656.57,75.74) rotate(-24.0)"><ellipse cx="0" cy="0" rx="6.50" ry="4.86" fill="url(#leafD)" stroke="#1a4a28" stroke-width="1.30"/><line x1="-4.55" y1="0" x2="3.90" y2="0" stroke="#2b7236" stroke-width="0.72" opacity="0.6"/></g><g transform="translate(631.28,92.84) rotate(136.0)"><ellipse cx="0" cy="0" rx="7.00" ry="4.86" fill="url(#leafD)" stroke="#1a4a28" stroke-width="1.30"/><line x1="-4.90" y1="0" x2="4.20" y2="0" stroke="#2b7236" stroke-width="0.72" opacity="0.6"/></g><g transform="translate(649.85,93.32) rotate(57.0)"><ellipse cx="0" cy="0" rx="7.00" ry="4.86" fill="url(#leafD)" stroke="#1a4a28" stroke-width="1.30"/><line x1="-4.90" y1="0" x2="4.20" y2="0" stroke="#2b7236" stroke-width="0.72" opacity="0.6"/></g><g transform="translate(644.32,71.66) rotate(-80.0)"><ellipse cx="0" cy="0" rx="5.50" ry="4.32" fill="url(#leafD)" stroke="#1a4a28" stroke-width="1.30"/><line x1="-3.85" y1="0" x2="3.30" y2="0" stroke="#2b7236" stroke-width="0.72" opacity="0.6"/></g><g transform="translate(635.45,84.57) rotate(160.0)"><ellipse cx="0" cy="0" rx="4.50" ry="3.78" fill="url(#leafD)" stroke="#1a4a28" stroke-width="1.30"/><line x1="-3.15" y1="0" x2="2.70" y2="0" stroke="#2b7236" stroke-width="0.72" opacity="0.6"/></g><g transform="translate(649.43,86.00) rotate(30.0)"><ellipse cx="0" cy="0" rx="5.00" ry="3.78" fill="url(#leafD)" stroke="#1a4a28" stroke-width="1.30"/><line x1="-3.50" y1="0" x2="3.00" y2="0" stroke="#2b7236" stroke-width="0.72" opacity="0.6"/></g><g transform="translate(638.32,77.02) rotate(-130.0)"><ellipse cx="0" cy="0" rx="4.50" ry="3.78" fill="url(#leafD)" stroke="#1a4a28" stroke-width="1.30"/><line x1="-3.15" y1="0" x2="2.70" y2="0" stroke="#2b7236" stroke-width="0.72" opacity="0.6"/></g><g transform="translate(646.36,77.40) rotate(-50.0)"><ellipse cx="0" cy="0" rx="4.50" ry="3.78" fill="url(#leafD)" stroke="#1a4a28" stroke-width="1.30"/><line x1="-3.15" y1="0" x2="2.70" y2="0" stroke="#2b7236" stroke-width="0.72" opacity="0.6"/></g><g transform="translate(642.06,86.98) rotate(95.0)"><ellipse cx="0" cy="0" rx="4.00" ry="3.24" fill="url(#leafD)" stroke="#1a4a28" stroke-width="1.30"/><line x1="-2.80" y1="0" x2="2.40" y2="0" stroke="#2b7236" stroke-width="0.72" opacity="0.6"/></g><circle cx="642.5" cy="82.0" r="2.1" fill="#1f5a2e"/></g>
<text x="0.00" y="285.50" font-size="34" text-anchor="start" fill="#000" >b</text>
<rect x="22.00" y="294.00" width="19.00" height="68.50" fill="#efefef" />
<rect x="22.00" y="376.00" width="19.00" height="69.50" fill="#efefef" />
<text transform="translate(37.4,328.0) rotate(-90)" font-size="16.6" font-weight="bold" text-anchor="middle" textLength="58" lengthAdjust="spacingAndGlyphs">Treated</text>
<text transform="translate(37.8,410.6) rotate(-90)" font-size="17" font-weight="bold" text-anchor="middle" textLength="57" lengthAdjust="spacingAndGlyphs">Control</text>
<g><path d="M58.8,308.0 L59.2,316.0 L57.8,323.0 L59.4,330.0 L57.8,337.0" fill="none" stroke="#9b8e7c" stroke-width="1.25" stroke-linecap="round" stroke-linejoin="round"/><path d="M58.3,309.0 L53.8,312.0 L48.8,314.5" fill="none" stroke="#9b8e7c" stroke-width="1.25" stroke-linecap="round" stroke-linejoin="round"/><path d="M59.0,312.0 L63.8,313.0 L68.5,313.5" fill="none" stroke="#9b8e7c" stroke-width="1.25" stroke-linecap="round" stroke-linejoin="round"/><path d="M58.3,317.0 L53.8,318.5 L48.1,319.6" fill="none" stroke="#9b8e7c" stroke-width="1.25" stroke-linecap="round" stroke-linejoin="round"/><path d="M59.1,317.0 L62.8,318.0" fill="none" stroke="#9b8e7c" stroke-width="1.25" stroke-linecap="round" stroke-linejoin="round"/><path d="M58.0,323.0 L54.8,323.7 L51.1,323.7" fill="none" stroke="#9b8e7c" stroke-width="1.25" stroke-linecap="round" stroke-linejoin="round"/><path d="M59.1,325.0 L60.9,326.3" fill="none" stroke="#9b8e7c" stroke-width="1.25" stroke-linecap="round" stroke-linejoin="round"/><path d="M58.5,329.0 L55.2,330.0" fill="none" stroke="#9b8e7c" stroke-width="1.25" stroke-linecap="round" stroke-linejoin="round"/><path d="M58.8,308.0 L59.2,316.0 L57.8,323.0 L59.4,330.0 L57.8,337.0" fill="none" stroke="#e4dacb" stroke-width="0.45" stroke-linecap="round" stroke-linejoin="round"/><path d="M58.3,309.0 L53.8,312.0 L48.8,314.5" fill="none" stroke="#e4dacb" stroke-width="0.45" stroke-linecap="round" stroke-linejoin="round"/><path d="M59.0,312.0 L63.8,313.0 L68.5,313.5" fill="none" stroke="#e4dacb" stroke-width="0.45" stroke-linecap="round" stroke-linejoin="round"/><path d="M58.3,317.0 L53.8,318.5 L48.1,319.6" fill="none" stroke="#e4dacb" stroke-width="0.45" stroke-linecap="round" stroke-linejoin="round"/><path d="M59.1,317.0 L62.8,318.0" fill="none" stroke="#e4dacb" stroke-width="0.45" stroke-linecap="round" stroke-linejoin="round"/><path d="M58.0,323.0 L54.8,323.7 L51.1,323.7" fill="none" stroke="#e4dacb" stroke-width="0.45" stroke-linecap="round" stroke-linejoin="round"/><path d="M59.1,325.0 L60.9,326.3" fill="none" stroke="#e4dacb" stroke-width="0.45" stroke-linecap="round" stroke-linejoin="round"/><path d="M58.5,329.0 L55.2,330.0" fill="none" stroke="#e4dacb" stroke-width="0.45" stroke-linecap="round" stroke-linejoin="round"/><line x1="58.8" y1="304.0" x2="53.2" y2="300.5" stroke="#143d1f" stroke-width="0.72" stroke-linecap="round"/><line x1="58.8" y1="304.0" x2="58.0" y2="301.5" stroke="#143d1f" stroke-width="0.72" stroke-linecap="round"/><line x1="58.8" y1="304.0" x2="51.6" y2="304.6" stroke="#143d1f" stroke-width="0.72" stroke-linecap="round"/><line x1="58.8" y1="304.0" x2="65.0" y2="304.5" stroke="#143d1f" stroke-width="0.72" stroke-linecap="round"/><line x1="58.8" y1="304.0" x2="62.6" y2="300.5" stroke="#143d1f" stroke-width="0.72" stroke-linecap="round"/><line x1="58.8" y1="304.0" x2="55.5" y2="307.9" stroke="#143d1f" stroke-width="0.72" stroke-linecap="round"/><line x1="58.8" y1="304.0" x2="61.1" y2="306.9" stroke="#143d1f" stroke-width="0.72" stroke-linecap="round"/><line x1="58.8" y1="304.0" x2="59.1" y2="302.5" stroke="#143d1f" stroke-width="0.72" stroke-linecap="round"/><line x1="58.8" y1="304.0" x2="56.5" y2="303.1" stroke="#143d1f" stroke-width="0.72" stroke-linecap="round"/><line x1="58.8" y1="304.0" x2="61.1" y2="304.9" stroke="#143d1f" stroke-width="0.72" stroke-linecap="round"/><line x1="58.8" y1="304.0" x2="58.7" y2="305.5" stroke="#143d1f" stroke-width="0.72" stroke-linecap="round"/><g transform="translate(49.14,304.85) rotate(175.0)"><ellipse cx="0" cy="0" rx="4.00" ry="2.75" fill="#21602f" stroke="#113719" stroke-width="0.80"/></g><g transform="translate(51.08,299.18) rotate(-148.0)"><ellipse cx="0" cy="0" rx="4.00" ry="2.75" fill="#21602f" stroke="#113719" stroke-width="0.80"/></g><g transform="translate(67.47,304.76) rotate(5.0)"><ellipse cx="0" cy="0" rx="4.00" ry="2.75" fill="#21602f" stroke="#113719" stroke-width="0.80"/></g><g transform="translate(64.43,298.75) rotate(-43.0)"><ellipse cx="0" cy="0" rx="4.00" ry="2.75" fill="#4a9e4c" stroke="#113719" stroke-width="0.80"/></g><g transform="translate(54.24,309.44) rotate(130.0)"><ellipse cx="0" cy="0" rx="3.50" ry="3.00" fill="#4a9e4c" stroke="#113719" stroke-width="0.80"/></g><g transform="translate(62.39,308.43) rotate(51.0)"><ellipse cx="0" cy="0" rx="3.50" ry="3.00" fill="#4a9e4c" stroke="#113719" stroke-width="0.80"/></g><g transform="translate(57.30,299.65) rotate(-109.0)"><ellipse cx="0" cy="0" rx="3.50" ry="2.75" fill="#21602f" stroke="#113719" stroke-width="0.80"/></g><g transform="translate(55.04,302.63) rotate(-160.0)"><ellipse cx="0" cy="0" rx="3.00" ry="2.50" fill="#21602f" stroke="#113719" stroke-width="0.80"/></g><g transform="translate(62.56,305.37) rotate(20.0)"><ellipse cx="0" cy="0" rx="3.00" ry="2.50" fill="#21602f" stroke="#113719" stroke-width="0.80"/></g><g transform="translate(59.32,301.05) rotate(-80.0)"><ellipse cx="0" cy="0" rx="3.00" ry="2.50" fill="#21602f" stroke="#113719" stroke-width="0.80"/></g><g transform="translate(58.54,306.99) rotate(95.0)"><ellipse cx="0" cy="0" rx="3.00" ry="2.50" fill="#21602f" stroke="#113719" stroke-width="0.80"/></g></g>
<g><path d="M87.6,308.0 L88.0,316.0 L86.6,323.0 L88.2,330.0 L86.6,337.0" fill="none" stroke="#9b8e7c" stroke-width="1.25" stroke-linecap="round" stroke-linejoin="round"/><path d="M87.1,309.0 L82.6,312.0 L77.6,314.5" fill="none" stroke="#9b8e7c" stroke-width="1.25" stroke-linecap="round" stroke-linejoin="round"/><path d="M87.8,312.0 L92.6,313.0 L97.3,313.5" fill="none" stroke="#9b8e7c" stroke-width="1.25" stroke-linecap="round" stroke-linejoin="round"/><path d="M87.1,317.0 L82.6,318.5 L76.9,319.6" fill="none" stroke="#9b8e7c" stroke-width="1.25" stroke-linecap="round" stroke-linejoin="round"/><path d="M87.9,317.0 L91.6,318.0" fill="none" stroke="#9b8e7c" stroke-width="1.25" stroke-linecap="round" stroke-linejoin="round"/><path d="M86.8,323.0 L83.6,323.7 L79.9,323.7" fill="none" stroke="#9b8e7c" stroke-width="1.25" stroke-linecap="round" stroke-linejoin="round"/><path d="M87.9,325.0 L89.7,326.3" fill="none" stroke="#9b8e7c" stroke-width="1.25" stroke-linecap="round" stroke-linejoin="round"/><path d="M87.3,329.0 L84.0,330.0" fill="none" stroke="#9b8e7c" stroke-width="1.25" stroke-linecap="round" stroke-linejoin="round"/><path d="M87.6,308.0 L88.0,316.0 L86.6,323.0 L88.2,330.0 L86.6,337.0" fill="none" stroke="#e4dacb" stroke-width="0.45" stroke-linecap="round" stroke-linejoin="round"/><path d="M87.1,309.0 L82.6,312.0 L77.6,314.5" fill="none" stroke="#e4dacb" stroke-width="0.45" stroke-linecap="round" stroke-linejoin="round"/><path d="M87.8,312.0 L92.6,313.0 L97.3,313.5" fill="none" stroke="#e4dacb" stroke-width="0.45" stroke-linecap="round" stroke-linejoin="round"/><path d="M87.1,317.0 L82.6,318.5 L76.9,319.6" fill="none" stroke="#e4dacb" stroke-width="0.45" stroke-linecap="round" stroke-linejoin="round"/><path d="M87.9,317.0 L91.6,318.0" fill="none" stroke="#e4dacb" stroke-width="0.45" stroke-linecap="round" stroke-linejoin="round"/><path d="M86.8,323.0 L83.6,323.7 L79.9,323.7" fill="none" stroke="#e4dacb" stroke-width="0.45" stroke-linecap="round" stroke-linejoin="round"/><path d="M87.9,325.0 L89.7,326.3" fill="none" stroke="#e4dacb" stroke-width="0.45" stroke-linecap="round" stroke-linejoin="round"/><path d="M87.3,329.0 L84.0,330.0" fill="none" stroke="#e4dacb" stroke-width="0.45" stroke-linecap="round" stroke-linejoin="round"/><line x1="87.6" y1="304.0" x2="82.0" y2="300.5" stroke="#143d1f" stroke-width="0.72" stroke-linecap="round"/><line x1="87.6" y1="304.0" x2="86.8" y2="301.5" stroke="#143d1f" stroke-width="0.72" stroke-linecap="round"/><line x1="87.6" y1="304.0" x2="80.4" y2="304.6" stroke="#143d1f" stroke-width="0.72" stroke-linecap="round"/><line x1="87.6" y1="304.0" x2="93.8" y2="304.5" stroke="#143d1f" stroke-width="0.72" stroke-linecap="round"/><line x1="87.6" y1="304.0" x2="91.4" y2="300.5" stroke="#143d1f" stroke-width="0.72" stroke-linecap="round"/><line x1="87.6" y1="304.0" x2="84.3" y2="307.9" stroke="#143d1f" stroke-width="0.72" stroke-linecap="round"/><line x1="87.6" y1="304.0" x2="89.9" y2="306.9" stroke="#143d1f" stroke-width="0.72" stroke-linecap="round"/><line x1="87.6" y1="304.0" x2="87.9" y2="302.5" stroke="#143d1f" stroke-width="0.72" stroke-linecap="round"/><line x1="87.6" y1="304.0" x2="85.3" y2="303.1" stroke="#143d1f" stroke-width="0.72" stroke-linecap="round"/><line x1="87.6" y1="304.0" x2="89.9" y2="304.9" stroke="#143d1f" stroke-width="0.72" stroke-linecap="round"/><line x1="87.6" y1="304.0" x2="87.5" y2="305.5" stroke="#143d1f" stroke-width="0.72" stroke-linecap="round"/><g transform="translate(77.94,304.85) rotate(175.0)"><ellipse cx="0" cy="0" rx="4.00" ry="2.75" fill="#21602f" stroke="#113719" stroke-width="0.80"/></g><g transform="translate(79.88,299.18) rotate(-148.0)"><ellipse cx="0" cy="0" rx="4.00" ry="2.75" fill="#21602f" stroke="#113719" stroke-width="0.80"/></g><g transform="translate(96.27,304.76) rotate(5.0)"><ellipse cx="0" cy="0" rx="4.00" ry="2.75" fill="#21602f" stroke="#113719" stroke-width="0.80"/></g><g transform="translate(93.23,298.75) rotate(-43.0)"><ellipse cx="0" cy="0" rx="4.00" ry="2.75" fill="#4a9e4c" stroke="#113719" stroke-width="0.80"/></g><g transform="translate(83.04,309.44) rotate(130.0)"><ellipse cx="0" cy="0" rx="3.50" ry="3.00" fill="#4a9e4c" stroke="#113719" stroke-width="0.80"/></g><g transform="translate(91.19,308.43) rotate(51.0)"><ellipse cx="0" cy="0" rx="3.50" ry="3.00" fill="#4a9e4c" stroke="#113719" stroke-width="0.80"/></g><g transform="translate(86.10,299.65) rotate(-109.0)"><ellipse cx="0" cy="0" rx="3.50" ry="2.75" fill="#21602f" stroke="#113719" stroke-width="0.80"/></g><g transform="translate(83.84,302.63) rotate(-160.0)"><ellipse cx="0" cy="0" rx="3.00" ry="2.50" fill="#21602f" stroke="#113719" stroke-width="0.80"/></g><g transform="translate(91.36,305.37) rotate(20.0)"><ellipse cx="0" cy="0" rx="3.00" ry="2.50" fill="#21602f" stroke="#113719" stroke-width="0.80"/></g><g transform="translate(88.12,301.05) rotate(-80.0)"><ellipse cx="0" cy="0" rx="3.00" ry="2.50" fill="#21602f" stroke="#113719" stroke-width="0.80"/></g><g transform="translate(87.34,306.99) rotate(95.0)"><ellipse cx="0" cy="0" rx="3.00" ry="2.50" fill="#21602f" stroke="#113719" stroke-width="0.80"/></g></g>
<g><path d="M116.4,308.0 L116.8,316.0 L115.4,323.0 L117.0,330.0 L115.4,337.0" fill="none" stroke="#9b8e7c" stroke-width="1.25" stroke-linecap="round" stroke-linejoin="round"/><path d="M115.9,309.0 L111.4,312.0 L106.4,314.5" fill="none" stroke="#9b8e7c" stroke-width="1.25" stroke-linecap="round" stroke-linejoin="round"/><path d="M116.6,312.0 L121.4,313.0 L126.1,313.5" fill="none" stroke="#9b8e7c" stroke-width="1.25" stroke-linecap="round" stroke-linejoin="round"/><path d="M115.9,317.0 L111.4,318.5 L105.7,319.6" fill="none" stroke="#9b8e7c" stroke-width="1.25" stroke-linecap="round" stroke-linejoin="round"/><path d="M116.7,317.0 L120.4,318.0" fill="none" stroke="#9b8e7c" stroke-width="1.25" stroke-linecap="round" stroke-linejoin="round"/><path d="M115.6,323.0 L112.4,323.7 L108.7,323.7" fill="none" stroke="#9b8e7c" stroke-width="1.25" stroke-linecap="round" stroke-linejoin="round"/><path d="M116.7,325.0 L118.5,326.3" fill="none" stroke="#9b8e7c" stroke-width="1.25" stroke-linecap="round" stroke-linejoin="round"/><path d="M116.1,329.0 L112.8,330.0" fill="none" stroke="#9b8e7c" stroke-width="1.25" stroke-linecap="round" stroke-linejoin="round"/><path d="M116.4,308.0 L116.8,316.0 L115.4,323.0 L117.0,330.0 L115.4,337.0" fill="none" stroke="#e4dacb" stroke-width="0.45" stroke-linecap="round" stroke-linejoin="round"/><path d="M115.9,309.0 L111.4,312.0 L106.4,314.5" fill="none" stroke="#e4dacb" stroke-width="0.45" stroke-linecap="round" stroke-linejoin="round"/><path d="M116.6,312.0 L121.4,313.0 L126.1,313.5" fill="none" stroke="#e4dacb" stroke-width="0.45" stroke-linecap="round" stroke-linejoin="round"/><path d="M115.9,317.0 L111.4,318.5 L105.7,319.6" fill="none" stroke="#e4dacb" stroke-width="0.45" stroke-linecap="round" stroke-linejoin="round"/><path d="M116.7,317.0 L120.4,318.0" fill="none" stroke="#e4dacb" stroke-width="0.45" stroke-linecap="round" stroke-linejoin="round"/><path d="M115.6,323.0 L112.4,323.7 L108.7,323.7" fill="none" stroke="#e4dacb" stroke-width="0.45" stroke-linecap="round" stroke-linejoin="round"/><path d="M116.7,325.0 L118.5,326.3" fill="none" stroke="#e4dacb" stroke-width="0.45" stroke-linecap="round" stroke-linejoin="round"/><path d="M116.1,329.0 L112.8,330.0" fill="none" stroke="#e4dacb" stroke-width="0.45" stroke-linecap="round" stroke-linejoin="round"/><line x1="116.4" y1="304.0" x2="110.8" y2="300.5" stroke="#143d1f" stroke-width="0.72" stroke-linecap="round"/><line x1="116.4" y1="304.0" x2="115.6" y2="301.5" stroke="#143d1f" stroke-width="0.72" stroke-linecap="round"/><line x1="116.4" y1="304.0" x2="109.2" y2="304.6" stroke="#143d1f" stroke-width="0.72" stroke-linecap="round"/><line x1="116.4" y1="304.0" x2="122.6" y2="304.5" stroke="#143d1f" stroke-width="0.72" stroke-linecap="round"/><line x1="116.4" y1="304.0" x2="120.2" y2="300.5" stroke="#143d1f" stroke-width="0.72" stroke-linecap="round"/><line x1="116.4" y1="304.0" x2="113.1" y2="307.9" stroke="#143d1f" stroke-width="0.72" stroke-linecap="round"/><line x1="116.4" y1="304.0" x2="118.7" y2="306.9" stroke="#143d1f" stroke-width="0.72" stroke-linecap="round"/><line x1="116.4" y1="304.0" x2="116.7" y2="302.5" stroke="#143d1f" stroke-width="0.72" stroke-linecap="round"/><line x1="116.4" y1="304.0" x2="114.1" y2="303.1" stroke="#143d1f" stroke-width="0.72" stroke-linecap="round"/><line x1="116.4" y1="304.0" x2="118.7" y2="304.9" stroke="#143d1f" stroke-width="0.72" stroke-linecap="round"/><line x1="116.4" y1="304.0" x2="116.3" y2="305.5" stroke="#143d1f" stroke-width="0.72" stroke-linecap="round"/><g transform="translate(106.74,304.85) rotate(175.0)"><ellipse cx="0" cy="0" rx="4.00" ry="2.75" fill="#21602f" stroke="#113719" stroke-width="0.80"/></g><g transform="translate(108.68,299.18) rotate(-148.0)"><ellipse cx="0" cy="0" rx="4.00" ry="2.75" fill="#21602f" stroke="#113719" stroke-width="0.80"/></g><g transform="translate(125.07,304.76) rotate(5.0)"><ellipse cx="0" cy="0" rx="4.00" ry="2.75" fill="#21602f" stroke="#113719" stroke-width="0.80"/></g><g transform="translate(122.03,298.75) rotate(-43.0)"><ellipse cx="0" cy="0" rx="4.00" ry="2.75" fill="#4a9e4c" stroke="#113719" stroke-width="0.80"/></g><g transform="translate(111.84,309.44) rotate(130.0)"><ellipse cx="0" cy="0" rx="3.50" ry="3.00" fill="#4a9e4c" stroke="#113719" stroke-width="0.80"/></g><g transform="translate(119.99,308.43) rotate(51.0)"><ellipse cx="0" cy="0" rx="3.50" ry="3.00" fill="#4a9e4c" stroke="#113719" stroke-width="0.80"/></g><g transform="translate(114.90,299.65) rotate(-109.0)"><ellipse cx="0" cy="0" rx="3.50" ry="2.75" fill="#21602f" stroke="#113719" stroke-width="0.80"/></g><g transform="translate(112.64,302.63) rotate(-160.0)"><ellipse cx="0" cy="0" rx="3.00" ry="2.50" fill="#21602f" stroke="#113719" stroke-width="0.80"/></g><g transform="translate(120.16,305.37) rotate(20.0)"><ellipse cx="0" cy="0" rx="3.00" ry="2.50" fill="#21602f" stroke="#113719" stroke-width="0.80"/></g><g transform="translate(116.92,301.05) rotate(-80.0)"><ellipse cx="0" cy="0" rx="3.00" ry="2.50" fill="#21602f" stroke="#113719" stroke-width="0.80"/></g><g transform="translate(116.14,306.99) rotate(95.0)"><ellipse cx="0" cy="0" rx="3.00" ry="2.50" fill="#21602f" stroke="#113719" stroke-width="0.80"/></g></g>
<g><path d="M145.2,308.0 L145.6,316.0 L144.2,323.0 L145.8,330.0 L144.2,337.0" fill="none" stroke="#9b8e7c" stroke-width="1.25" stroke-linecap="round" stroke-linejoin="round"/><path d="M144.7,309.0 L140.2,312.0 L135.2,314.5" fill="none" stroke="#9b8e7c" stroke-width="1.25" stroke-linecap="round" stroke-linejoin="round"/><path d="M145.4,312.0 L150.2,313.0 L154.9,313.5" fill="none" stroke="#9b8e7c" stroke-width="1.25" stroke-linecap="round" stroke-linejoin="round"/><path d="M144.7,317.0 L140.2,318.5 L134.5,319.6" fill="none" stroke="#9b8e7c" stroke-width="1.25" stroke-linecap="round" stroke-linejoin="round"/><path d="M145.5,317.0 L149.2,318.0" fill="none" stroke="#9b8e7c" stroke-width="1.25" stroke-linecap="round" stroke-linejoin="round"/><path d="M144.4,323.0 L141.2,323.7 L137.5,323.7" fill="none" stroke="#9b8e7c" stroke-width="1.25" stroke-linecap="round" stroke-linejoin="round"/><path d="M145.5,325.0 L147.3,326.3" fill="none" stroke="#9b8e7c" stroke-width="1.25" stroke-linecap="round" stroke-linejoin="round"/><path d="M144.9,329.0 L141.6,330.0" fill="none" stroke="#9b8e7c" stroke-width="1.25" stroke-linecap="round" stroke-linejoin="round"/><path d="M145.2,308.0 L145.6,316.0 L144.2,323.0 L145.8,330.0 L144.2,337.0" fill="none" stroke="#e4dacb" stroke-width="0.45" stroke-linecap="round" stroke-linejoin="round"/><path d="M144.7,309.0 L140.2,312.0 L135.2,314.5" fill="none" stroke="#e4dacb" stroke-width="0.45" stroke-linecap="round" stroke-linejoin="round"/><path d="M145.4,312.0 L150.2,313.0 L154.9,313.5" fill="none" stroke="#e4dacb" stroke-width="0.45" stroke-linecap="round" stroke-linejoin="round"/><path d="M144.7,317.0 L140.2,318.5 L134.5,319.6" fill="none" stroke="#e4dacb" stroke-width="0.45" stroke-linecap="round" stroke-linejoin="round"/><path d="M145.5,317.0 L149.2,318.0" fill="none" stroke="#e4dacb" stroke-width="0.45" stroke-linecap="round" stroke-linejoin="round"/><path d="M144.4,323.0 L141.2,323.7 L137.5,323.7" fill="none" stroke="#e4dacb" stroke-width="0.45" stroke-linecap="round" stroke-linejoin="round"/><path d="M145.5,325.0 L147.3,326.3" fill="none" stroke="#e4dacb" stroke-width="0.45" stroke-linecap="round" stroke-linejoin="round"/><path d="M144.9,329.0 L141.6,330.0" fill="none" stroke="#e4dacb" stroke-width="0.45" stroke-linecap="round" stroke-linejoin="round"/><line x1="145.2" y1="304.0" x2="139.6" y2="300.5" stroke="#143d1f" stroke-width="0.72" stroke-linecap="round"/><line x1="145.2" y1="304.0" x2="144.4" y2="301.5" stroke="#143d1f" stroke-width="0.72" stroke-linecap="round"/><line x1="145.2" y1="304.0" x2="138.0" y2="304.6" stroke="#143d1f" stroke-width="0.72" stroke-linecap="round"/><line x1="145.2" y1="304.0" x2="151.4" y2="304.5" stroke="#143d1f" stroke-width="0.72" stroke-linecap="round"/><line x1="145.2" y1="304.0" x2="149.0" y2="300.5" stroke="#143d1f" stroke-width="0.72" stroke-linecap="round"/><line x1="145.2" y1="304.0" x2="141.9" y2="307.9" stroke="#143d1f" stroke-width="0.72" stroke-linecap="round"/><line x1="145.2" y1="304.0" x2="147.5" y2="306.9" stroke="#143d1f" stroke-width="0.72" stroke-linecap="round"/><line x1="145.2" y1="304.0" x2="145.5" y2="302.5" stroke="#143d1f" stroke-width="0.72" stroke-linecap="round"/><line x1="145.2" y1="304.0" x2="142.9" y2="303.1" stroke="#143d1f" stroke-width="0.72" stroke-linecap="round"/><line x1="145.2" y1="304.0" x2="147.5" y2="304.9" stroke="#143d1f" stroke-width="0.72" stroke-linecap="round"/><line x1="145.2" y1="304.0" x2="145.1" y2="305.5" stroke="#143d1f" stroke-width="0.72" stroke-linecap="round"/><g transform="translate(135.54,304.85) rotate(175.0)"><ellipse cx="0" cy="0" rx="4.00" ry="2.75" fill="#21602f" stroke="#113719" stroke-width="0.80"/></g><g transform="translate(137.48,299.18) rotate(-148.0)"><ellipse cx="0" cy="0" rx="4.00" ry="2.75" fill="#21602f" stroke="#113719" stroke-width="0.80"/></g><g transform="translate(153.87,304.76) rotate(5.0)"><ellipse cx="0" cy="0" rx="4.00" ry="2.75" fill="#21602f" stroke="#113719" stroke-width="0.80"/></g><g transform="translate(150.83,298.75) rotate(-43.0)"><ellipse cx="0" cy="0" rx="4.00" ry="2.75" fill="#4a9e4c" stroke="#113719" stroke-width="0.80"/></g><g transform="translate(140.64,309.44) rotate(130.0)"><ellipse cx="0" cy="0" rx="3.50" ry="3.00" fill="#4a9e4c" stroke="#113719" stroke-width="0.80"/></g><g transform="translate(148.79,308.43) rotate(51.0)"><ellipse cx="0" cy="0" rx="3.50" ry="3.00" fill="#4a9e4c" stroke="#113719" stroke-width="0.80"/></g><g transform="translate(143.70,299.65) rotate(-109.0)"><ellipse cx="0" cy="0" rx="3.50" ry="2.75" fill="#21602f" stroke="#113719" stroke-width="0.80"/></g><g transform="translate(141.44,302.63) rotate(-160.0)"><ellipse cx="0" cy="0" rx="3.00" ry="2.50" fill="#21602f" stroke="#113719" stroke-width="0.80"/></g><g transform="translate(148.96,305.37) rotate(20.0)"><ellipse cx="0" cy="0" rx="3.00" ry="2.50" fill="#21602f" stroke="#113719" stroke-width="0.80"/></g><g transform="translate(145.72,301.05) rotate(-80.0)"><ellipse cx="0" cy="0" rx="3.00" ry="2.50" fill="#21602f" stroke="#113719" stroke-width="0.80"/></g><g transform="translate(144.94,306.99) rotate(95.0)"><ellipse cx="0" cy="0" rx="3.00" ry="2.50" fill="#21602f" stroke="#113719" stroke-width="0.80"/></g></g>
<g><path d="M174.0,308.0 L174.4,316.0 L173.0,323.0 L174.6,330.0 L173.0,337.0" fill="none" stroke="#9b8e7c" stroke-width="1.25" stroke-linecap="round" stroke-linejoin="round"/><path d="M173.5,309.0 L169.0,312.0 L164.0,314.5" fill="none" stroke="#9b8e7c" stroke-width="1.25" stroke-linecap="round" stroke-linejoin="round"/><path d="M174.2,312.0 L179.0,313.0 L183.7,313.5" fill="none" stroke="#9b8e7c" stroke-width="1.25" stroke-linecap="round" stroke-linejoin="round"/><path d="M173.5,317.0 L169.0,318.5 L163.3,319.6" fill="none" stroke="#9b8e7c" stroke-width="1.25" stroke-linecap="round" stroke-linejoin="round"/><path d="M174.3,317.0 L178.0,318.0" fill="none" stroke="#9b8e7c" stroke-width="1.25" stroke-linecap="round" stroke-linejoin="round"/><path d="M173.2,323.0 L170.0,323.7 L166.3,323.7" fill="none" stroke="#9b8e7c" stroke-width="1.25" stroke-linecap="round" stroke-linejoin="round"/><path d="M174.3,325.0 L176.1,326.3" fill="none" stroke="#9b8e7c" stroke-width="1.25" stroke-linecap="round" stroke-linejoin="round"/><path d="M173.7,329.0 L170.4,330.0" fill="none" stroke="#9b8e7c" stroke-width="1.25" stroke-linecap="round" stroke-linejoin="round"/><path d="M174.0,308.0 L174.4,316.0 L173.0,323.0 L174.6,330.0 L173.0,337.0" fill="none" stroke="#e4dacb" stroke-width="0.45" stroke-linecap="round" stroke-linejoin="round"/><path d="M173.5,309.0 L169.0,312.0 L164.0,314.5" fill="none" stroke="#e4dacb" stroke-width="0.45" stroke-linecap="round" stroke-linejoin="round"/><path d="M174.2,312.0 L179.0,313.0 L183.7,313.5" fill="none" stroke="#e4dacb" stroke-width="0.45" stroke-linecap="round" stroke-linejoin="round"/><path d="M173.5,317.0 L169.0,318.5 L163.3,319.6" fill="none" stroke="#e4dacb" stroke-width="0.45" stroke-linecap="round" stroke-linejoin="round"/><path d="M174.3,317.0 L178.0,318.0" fill="none" stroke="#e4dacb" stroke-width="0.45" stroke-linecap="round" stroke-linejoin="round"/><path d="M173.2,323.0 L170.0,323.7 L166.3,323.7" fill="none" stroke="#e4dacb" stroke-width="0.45" stroke-linecap="round" stroke-linejoin="round"/><path d="M174.3,325.0 L176.1,326.3" fill="none" stroke="#e4dacb" stroke-width="0.45" stroke-linecap="round" stroke-linejoin="round"/><path d="M173.7,329.0 L170.4,330.0" fill="none" stroke="#e4dacb" stroke-width="0.45" stroke-linecap="round" stroke-linejoin="round"/><line x1="174.0" y1="304.0" x2="168.4" y2="300.5" stroke="#143d1f" stroke-width="0.72" stroke-linecap="round"/><line x1="174.0" y1="304.0" x2="173.2" y2="301.5" stroke="#143d1f" stroke-width="0.72" stroke-linecap="round"/><line x1="174.0" y1="304.0" x2="166.8" y2="304.6" stroke="#143d1f" stroke-width="0.72" stroke-linecap="round"/><line x1="174.0" y1="304.0" x2="180.2" y2="304.5" stroke="#143d1f" stroke-width="0.72" stroke-linecap="round"/><line x1="174.0" y1="304.0" x2="177.8" y2="300.5" stroke="#143d1f" stroke-width="0.72" stroke-linecap="round"/><line x1="174.0" y1="304.0" x2="170.7" y2="307.9" stroke="#143d1f" stroke-width="0.72" stroke-linecap="round"/><line x1="174.0" y1="304.0" x2="176.3" y2="306.9" stroke="#143d1f" stroke-width="0.72" stroke-linecap="round"/><line x1="174.0" y1="304.0" x2="174.3" y2="302.5" stroke="#143d1f" stroke-width="0.72" stroke-linecap="round"/><line x1="174.0" y1="304.0" x2="171.7" y2="303.1" stroke="#143d1f" stroke-width="0.72" stroke-linecap="round"/><line x1="174.0" y1="304.0" x2="176.3" y2="304.9" stroke="#143d1f" stroke-width="0.72" stroke-linecap="round"/><line x1="174.0" y1="304.0" x2="173.9" y2="305.5" stroke="#143d1f" stroke-width="0.72" stroke-linecap="round"/><g transform="translate(164.34,304.85) rotate(175.0)"><ellipse cx="0" cy="0" rx="4.00" ry="2.75" fill="#21602f" stroke="#113719" stroke-width="0.80"/></g><g transform="translate(166.28,299.18) rotate(-148.0)"><ellipse cx="0" cy="0" rx="4.00" ry="2.75" fill="#21602f" stroke="#113719" stroke-width="0.80"/></g><g transform="translate(182.67,304.76) rotate(5.0)"><ellipse cx="0" cy="0" rx="4.00" ry="2.75" fill="#21602f" stroke="#113719" stroke-width="0.80"/></g><g transform="translate(179.63,298.75) rotate(-43.0)"><ellipse cx="0" cy="0" rx="4.00" ry="2.75" fill="#4a9e4c" stroke="#113719" stroke-width="0.80"/></g><g transform="translate(169.44,309.44) rotate(130.0)"><ellipse cx="0" cy="0" rx="3.50" ry="3.00" fill="#4a9e4c" stroke="#113719" stroke-width="0.80"/></g><g transform="translate(177.59,308.43) rotate(51.0)"><ellipse cx="0" cy="0" rx="3.50" ry="3.00" fill="#4a9e4c" stroke="#113719" stroke-width="0.80"/></g><g transform="translate(172.50,299.65) rotate(-109.0)"><ellipse cx="0" cy="0" rx="3.50" ry="2.75" fill="#21602f" stroke="#113719" stroke-width="0.80"/></g><g transform="translate(170.24,302.63) rotate(-160.0)"><ellipse cx="0" cy="0" rx="3.00" ry="2.50" fill="#21602f" stroke="#113719" stroke-width="0.80"/></g><g transform="translate(177.76,305.37) rotate(20.0)"><ellipse cx="0" cy="0" rx="3.00" ry="2.50" fill="#21602f" stroke="#113719" stroke-width="0.80"/></g><g transform="translate(174.52,301.05) rotate(-80.0)"><ellipse cx="0" cy="0" rx="3.00" ry="2.50" fill="#21602f" stroke="#113719" stroke-width="0.80"/></g><g transform="translate(173.74,306.99) rotate(95.0)"><ellipse cx="0" cy="0" rx="3.00" ry="2.50" fill="#21602f" stroke="#113719" stroke-width="0.80"/></g></g>
<g><path d="M202.8,308.0 L203.2,316.0 L201.8,323.0 L203.4,330.0 L201.8,337.0" fill="none" stroke="#9b8e7c" stroke-width="1.25" stroke-linecap="round" stroke-linejoin="round"/><path d="M202.3,309.0 L197.8,312.0 L192.8,314.5" fill="none" stroke="#9b8e7c" stroke-width="1.25" stroke-linecap="round" stroke-linejoin="round"/><path d="M203.0,312.0 L207.8,313.0 L212.5,313.5" fill="none" stroke="#9b8e7c" stroke-width="1.25" stroke-linecap="round" stroke-linejoin="round"/><path d="M202.3,317.0 L197.8,318.5 L192.1,319.6" fill="none" stroke="#9b8e7c" stroke-width="1.25" stroke-linecap="round" stroke-linejoin="round"/><path d="M203.1,317.0 L206.8,318.0" fill="none" stroke="#9b8e7c" stroke-width="1.25" stroke-linecap="round" stroke-linejoin="round"/><path d="M202.0,323.0 L198.8,323.7 L195.1,323.7" fill="none" stroke="#9b8e7c" stroke-width="1.25" stroke-linecap="round" stroke-linejoin="round"/><path d="M203.1,325.0 L204.9,326.3" fill="none" stroke="#9b8e7c" stroke-width="1.25" stroke-linecap="round" stroke-linejoin="round"/><path d="M202.5,329.0 L199.2,330.0" fill="none" stroke="#9b8e7c" stroke-width="1.25" stroke-linecap="round" stroke-linejoin="round"/><path d="M202.8,308.0 L203.2,316.0 L201.8,323.0 L203.4,330.0 L201.8,337.0" fill="none" stroke="#e4dacb" stroke-width="0.45" stroke-linecap="round" stroke-linejoin="round"/><path d="M202.3,309.0 L197.8,312.0 L192.8,314.5" fill="none" stroke="#e4dacb" stroke-width="0.45" stroke-linecap="round" stroke-linejoin="round"/><path d="M203.0,312.0 L207.8,313.0 L212.5,313.5" fill="none" stroke="#e4dacb" stroke-width="0.45" stroke-linecap="round" stroke-linejoin="round"/><path d="M202.3,317.0 L197.8,318.5 L192.1,319.6" fill="none" stroke="#e4dacb" stroke-width="0.45" stroke-linecap="round" stroke-linejoin="round"/><path d="M203.1,317.0 L206.8,318.0" fill="none" stroke="#e4dacb" stroke-width="0.45" stroke-linecap="round" stroke-linejoin="round"/><path d="M202.0,323.0 L198.8,323.7 L195.1,323.7" fill="none" stroke="#e4dacb" stroke-width="0.45" stroke-linecap="round" stroke-linejoin="round"/><path d="M203.1,325.0 L204.9,326.3" fill="none" stroke="#e4dacb" stroke-width="0.45" stroke-linecap="round" stroke-linejoin="round"/><path d="M202.5,329.0 L199.2,330.0" fill="none" stroke="#e4dacb" stroke-width="0.45" stroke-linecap="round" stroke-linejoin="round"/><line x1="202.8" y1="304.0" x2="197.2" y2="300.5" stroke="#143d1f" stroke-width="0.72" stroke-linecap="round"/><line x1="202.8" y1="304.0" x2="202.0" y2="301.5" stroke="#143d1f" stroke-width="0.72" stroke-linecap="round"/><line x1="202.8" y1="304.0" x2="195.6" y2="304.6" stroke="#143d1f" stroke-width="0.72" stroke-linecap="round"/><line x1="202.8" y1="304.0" x2="209.0" y2="304.5" stroke="#143d1f" stroke-width="0.72" stroke-linecap="round"/><line x1="202.8" y1="304.0" x2="206.6" y2="300.5" stroke="#143d1f" stroke-width="0.72" stroke-linecap="round"/><line x1="202.8" y1="304.0" x2="199.5" y2="307.9" stroke="#143d1f" stroke-width="0.72" stroke-linecap="round"/><line x1="202.8" y1="304.0" x2="205.1" y2="306.9" stroke="#143d1f" stroke-width="0.72" stroke-linecap="round"/><line x1="202.8" y1="304.0" x2="203.1" y2="302.5" stroke="#143d1f" stroke-width="0.72" stroke-linecap="round"/><line x1="202.8" y1="304.0" x2="200.5" y2="303.1" stroke="#143d1f" stroke-width="0.72" stroke-linecap="round"/><line x1="202.8" y1="304.0" x2="205.1" y2="304.9" stroke="#143d1f" stroke-width="0.72" stroke-linecap="round"/><line x1="202.8" y1="304.0" x2="202.7" y2="305.5" stroke="#143d1f" stroke-width="0.72" stroke-linecap="round"/><g transform="translate(193.14,304.85) rotate(175.0)"><ellipse cx="0" cy="0" rx="4.00" ry="2.75" fill="#21602f" stroke="#113719" stroke-width="0.80"/></g><g transform="translate(195.08,299.18) rotate(-148.0)"><ellipse cx="0" cy="0" rx="4.00" ry="2.75" fill="#21602f" stroke="#113719" stroke-width="0.80"/></g><g transform="translate(211.47,304.76) rotate(5.0)"><ellipse cx="0" cy="0" rx="4.00" ry="2.75" fill="#21602f" stroke="#113719" stroke-width="0.80"/></g><g transform="translate(208.43,298.75) rotate(-43.0)"><ellipse cx="0" cy="0" rx="4.00" ry="2.75" fill="#4a9e4c" stroke="#113719" stroke-width="0.80"/></g><g transform="translate(198.24,309.44) rotate(130.0)"><ellipse cx="0" cy="0" rx="3.50" ry="3.00" fill="#4a9e4c" stroke="#113719" stroke-width="0.80"/></g><g transform="translate(206.39,308.43) rotate(51.0)"><ellipse cx="0" cy="0" rx="3.50" ry="3.00" fill="#4a9e4c" stroke="#113719" stroke-width="0.80"/></g><g transform="translate(201.30,299.65) rotate(-109.0)"><ellipse cx="0" cy="0" rx="3.50" ry="2.75" fill="#21602f" stroke="#113719" stroke-width="0.80"/></g><g transform="translate(199.04,302.63) rotate(-160.0)"><ellipse cx="0" cy="0" rx="3.00" ry="2.50" fill="#21602f" stroke="#113719" stroke-width="0.80"/></g><g transform="translate(206.56,305.37) rotate(20.0)"><ellipse cx="0" cy="0" rx="3.00" ry="2.50" fill="#21602f" stroke="#113719" stroke-width="0.80"/></g><g transform="translate(203.32,301.05) rotate(-80.0)"><ellipse cx="0" cy="0" rx="3.00" ry="2.50" fill="#21602f" stroke="#113719" stroke-width="0.80"/></g><g transform="translate(202.54,306.99) rotate(95.0)"><ellipse cx="0" cy="0" rx="3.00" ry="2.50" fill="#21602f" stroke="#113719" stroke-width="0.80"/></g></g>
<g><path d="M231.6,308.0 L232.0,316.0 L230.6,323.0 L232.2,330.0 L230.6,337.0" fill="none" stroke="#9b8e7c" stroke-width="1.25" stroke-linecap="round" stroke-linejoin="round"/><path d="M231.1,309.0 L226.6,312.0 L221.6,314.5" fill="none" stroke="#9b8e7c" stroke-width="1.25" stroke-linecap="round" stroke-linejoin="round"/><path d="M231.8,312.0 L236.6,313.0 L241.3,313.5" fill="none" stroke="#9b8e7c" stroke-width="1.25" stroke-linecap="round" stroke-linejoin="round"/><path d="M231.1,317.0 L226.6,318.5 L220.9,319.6" fill="none" stroke="#9b8e7c" stroke-width="1.25" stroke-linecap="round" stroke-linejoin="round"/><path d="M231.9,317.0 L235.6,318.0" fill="none" stroke="#9b8e7c" stroke-width="1.25" stroke-linecap="round" stroke-linejoin="round"/><path d="M230.8,323.0 L227.6,323.7 L223.9,323.7" fill="none" stroke="#9b8e7c" stroke-width="1.25" stroke-linecap="round" stroke-linejoin="round"/><path d="M231.9,325.0 L233.7,326.3" fill="none" stroke="#9b8e7c" stroke-width="1.25" stroke-linecap="round" stroke-linejoin="round"/><path d="M231.3,329.0 L228.0,330.0" fill="none" stroke="#9b8e7c" stroke-width="1.25" stroke-linecap="round" stroke-linejoin="round"/><path d="M231.6,308.0 L232.0,316.0 L230.6,323.0 L232.2,330.0 L230.6,337.0" fill="none" stroke="#e4dacb" stroke-width="0.45" stroke-linecap="round" stroke-linejoin="round"/><path d="M231.1,309.0 L226.6,312.0 L221.6,314.5" fill="none" stroke="#e4dacb" stroke-width="0.45" stroke-linecap="round" stroke-linejoin="round"/><path d="M231.8,312.0 L236.6,313.0 L241.3,313.5" fill="none" stroke="#e4dacb" stroke-width="0.45" stroke-linecap="round" stroke-linejoin="round"/><path d="M231.1,317.0 L226.6,318.5 L220.9,319.6" fill="none" stroke="#e4dacb" stroke-width="0.45" stroke-linecap="round" stroke-linejoin="round"/><path d="M231.9,317.0 L235.6,318.0" fill="none" stroke="#e4dacb" stroke-width="0.45" stroke-linecap="round" stroke-linejoin="round"/><path d="M230.8,323.0 L227.6,323.7 L223.9,323.7" fill="none" stroke="#e4dacb" stroke-width="0.45" stroke-linecap="round" stroke-linejoin="round"/><path d="M231.9,325.0 L233.7,326.3" fill="none" stroke="#e4dacb" stroke-width="0.45" stroke-linecap="round" stroke-linejoin="round"/><path d="M231.3,329.0 L228.0,330.0" fill="none" stroke="#e4dacb" stroke-width="0.45" stroke-linecap="round" stroke-linejoin="round"/><line x1="231.6" y1="304.0" x2="226.0" y2="300.5" stroke="#143d1f" stroke-width="0.72" stroke-linecap="round"/><line x1="231.6" y1="304.0" x2="230.8" y2="301.5" stroke="#143d1f" stroke-width="0.72" stroke-linecap="round"/><line x1="231.6" y1="304.0" x2="224.4" y2="304.6" stroke="#143d1f" stroke-width="0.72" stroke-linecap="round"/><line x1="231.6" y1="304.0" x2="237.8" y2="304.5" stroke="#143d1f" stroke-width="0.72" stroke-linecap="round"/><line x1="231.6" y1="304.0" x2="235.4" y2="300.5" stroke="#143d1f" stroke-width="0.72" stroke-linecap="round"/><line x1="231.6" y1="304.0" x2="228.3" y2="307.9" stroke="#143d1f" stroke-width="0.72" stroke-linecap="round"/><line x1="231.6" y1="304.0" x2="233.9" y2="306.9" stroke="#143d1f" stroke-width="0.72" stroke-linecap="round"/><line x1="231.6" y1="304.0" x2="231.9" y2="302.5" stroke="#143d1f" stroke-width="0.72" stroke-linecap="round"/><line x1="231.6" y1="304.0" x2="229.3" y2="303.1" stroke="#143d1f" stroke-width="0.72" stroke-linecap="round"/><line x1="231.6" y1="304.0" x2="233.9" y2="304.9" stroke="#143d1f" stroke-width="0.72" stroke-linecap="round"/><line x1="231.6" y1="304.0" x2="231.5" y2="305.5" stroke="#143d1f" stroke-width="0.72" stroke-linecap="round"/><g transform="translate(221.94,304.85) rotate(175.0)"><ellipse cx="0" cy="0" rx="4.00" ry="2.75" fill="#21602f" stroke="#113719" stroke-width="0.80"/></g><g transform="translate(223.88,299.18) rotate(-148.0)"><ellipse cx="0" cy="0" rx="4.00" ry="2.75" fill="#21602f" stroke="#113719" stroke-width="0.80"/></g><g transform="translate(240.27,304.76) rotate(5.0)"><ellipse cx="0" cy="0" rx="4.00" ry="2.75" fill="#21602f" stroke="#113719" stroke-width="0.80"/></g><g transform="translate(237.23,298.75) rotate(-43.0)"><ellipse cx="0" cy="0" rx="4.00" ry="2.75" fill="#4a9e4c" stroke="#113719" stroke-width="0.80"/></g><g transform="translate(227.04,309.44) rotate(130.0)"><ellipse cx="0" cy="0" rx="3.50" ry="3.00" fill="#4a9e4c" stroke="#113719" stroke-width="0.80"/></g><g transform="translate(235.19,308.43) rotate(51.0)"><ellipse cx="0" cy="0" rx="3.50" ry="3.00" fill="#4a9e4c" stroke="#113719" stroke-width="0.80"/></g><g transform="translate(230.10,299.65) rotate(-109.0)"><ellipse cx="0" cy="0" rx="3.50" ry="2.75" fill="#21602f" stroke="#113719" stroke-width="0.80"/></g><g transform="translate(227.84,302.63) rotate(-160.0)"><ellipse cx="0" cy="0" rx="3.00" ry="2.50" fill="#21602f" stroke="#113719" stroke-width="0.80"/></g><g transform="translate(235.36,305.37) rotate(20.0)"><ellipse cx="0" cy="0" rx="3.00" ry="2.50" fill="#21602f" stroke="#113719" stroke-width="0.80"/></g><g transform="translate(232.12,301.05) rotate(-80.0)"><ellipse cx="0" cy="0" rx="3.00" ry="2.50" fill="#21602f" stroke="#113719" stroke-width="0.80"/></g><g transform="translate(231.34,306.99) rotate(95.0)"><ellipse cx="0" cy="0" rx="3.00" ry="2.50" fill="#21602f" stroke="#113719" stroke-width="0.80"/></g></g>
<g><path d="M260.4,308.0 L260.8,316.0 L259.4,323.0 L261.0,330.0 L259.4,337.0" fill="none" stroke="#9b8e7c" stroke-width="1.25" stroke-linecap="round" stroke-linejoin="round"/><path d="M259.9,309.0 L255.4,312.0 L250.4,314.5" fill="none" stroke="#9b8e7c" stroke-width="1.25" stroke-linecap="round" stroke-linejoin="round"/><path d="M260.6,312.0 L265.4,313.0 L270.1,313.5" fill="none" stroke="#9b8e7c" stroke-width="1.25" stroke-linecap="round" stroke-linejoin="round"/><path d="M259.9,317.0 L255.4,318.5 L249.7,319.6" fill="none" stroke="#9b8e7c" stroke-width="1.25" stroke-linecap="round" stroke-linejoin="round"/><path d="M260.7,317.0 L264.4,318.0" fill="none" stroke="#9b8e7c" stroke-width="1.25" stroke-linecap="round" stroke-linejoin="round"/><path d="M259.6,323.0 L256.4,323.7 L252.7,323.7" fill="none" stroke="#9b8e7c" stroke-width="1.25" stroke-linecap="round" stroke-linejoin="round"/><path d="M260.7,325.0 L262.5,326.3" fill="none" stroke="#9b8e7c" stroke-width="1.25" stroke-linecap="round" stroke-linejoin="round"/><path d="M260.1,329.0 L256.8,330.0" fill="none" stroke="#9b8e7c" stroke-width="1.25" stroke-linecap="round" stroke-linejoin="round"/><path d="M260.4,308.0 L260.8,316.0 L259.4,323.0 L261.0,330.0 L259.4,337.0" fill="none" stroke="#e4dacb" stroke-width="0.45" stroke-linecap="round" stroke-linejoin="round"/><path d="M259.9,309.0 L255.4,312.0 L250.4,314.5" fill="none" stroke="#e4dacb" stroke-width="0.45" stroke-linecap="round" stroke-linejoin="round"/><path d="M260.6,312.0 L265.4,313.0 L270.1,313.5" fill="none" stroke="#e4dacb" stroke-width="0.45" stroke-linecap="round" stroke-linejoin="round"/><path d="M259.9,317.0 L255.4,318.5 L249.7,319.6" fill="none" stroke="#e4dacb" stroke-width="0.45" stroke-linecap="round" stroke-linejoin="round"/><path d="M260.7,317.0 L264.4,318.0" fill="none" stroke="#e4dacb" stroke-width="0.45" stroke-linecap="round" stroke-linejoin="round"/><path d="M259.6,323.0 L256.4,323.7 L252.7,323.7" fill="none" stroke="#e4dacb" stroke-width="0.45" stroke-linecap="round" stroke-linejoin="round"/><path d="M260.7,325.0 L262.5,326.3" fill="none" stroke="#e4dacb" stroke-width="0.45" stroke-linecap="round" stroke-linejoin="round"/><path d="M260.1,329.0 L256.8,330.0" fill="none" stroke="#e4dacb" stroke-width="0.45" stroke-linecap="round" stroke-linejoin="round"/><line x1="260.4" y1="304.0" x2="254.8" y2="300.5" stroke="#143d1f" stroke-width="0.72" stroke-linecap="round"/><line x1="260.4" y1="304.0" x2="259.6" y2="301.5" stroke="#143d1f" stroke-width="0.72" stroke-linecap="round"/><line x1="260.4" y1="304.0" x2="253.2" y2="304.6" stroke="#143d1f" stroke-width="0.72" stroke-linecap="round"/><line x1="260.4" y1="304.0" x2="266.6" y2="304.5" stroke="#143d1f" stroke-width="0.72" stroke-linecap="round"/><line x1="260.4" y1="304.0" x2="264.2" y2="300.5" stroke="#143d1f" stroke-width="0.72" stroke-linecap="round"/><line x1="260.4" y1="304.0" x2="257.1" y2="307.9" stroke="#143d1f" stroke-width="0.72" stroke-linecap="round"/><line x1="260.4" y1="304.0" x2="262.7" y2="306.9" stroke="#143d1f" stroke-width="0.72" stroke-linecap="round"/><line x1="260.4" y1="304.0" x2="260.7" y2="302.5" stroke="#143d1f" stroke-width="0.72" stroke-linecap="round"/><line x1="260.4" y1="304.0" x2="258.1" y2="303.1" stroke="#143d1f" stroke-width="0.72" stroke-linecap="round"/><line x1="260.4" y1="304.0" x2="262.7" y2="304.9" stroke="#143d1f" stroke-width="0.72" stroke-linecap="round"/><line x1="260.4" y1="304.0" x2="260.3" y2="305.5" stroke="#143d1f" stroke-width="0.72" stroke-linecap="round"/><g transform="translate(250.74,304.85) rotate(175.0)"><ellipse cx="0" cy="0" rx="4.00" ry="2.75" fill="#21602f" stroke="#113719" stroke-width="0.80"/></g><g transform="translate(252.68,299.18) rotate(-148.0)"><ellipse cx="0" cy="0" rx="4.00" ry="2.75" fill="#21602f" stroke="#113719" stroke-width="0.80"/></g><g transform="translate(269.07,304.76) rotate(5.0)"><ellipse cx="0" cy="0" rx="4.00" ry="2.75" fill="#21602f" stroke="#113719" stroke-width="0.80"/></g><g transform="translate(266.03,298.75) rotate(-43.0)"><ellipse cx="0" cy="0" rx="4.00" ry="2.75" fill="#4a9e4c" stroke="#113719" stroke-width="0.80"/></g><g transform="translate(255.84,309.44) rotate(130.0)"><ellipse cx="0" cy="0" rx="3.50" ry="3.00" fill="#4a9e4c" stroke="#113719" stroke-width="0.80"/></g><g transform="translate(263.99,308.43) rotate(51.0)"><ellipse cx="0" cy="0" rx="3.50" ry="3.00" fill="#4a9e4c" stroke="#113719" stroke-width="0.80"/></g><g transform="translate(258.90,299.65) rotate(-109.0)"><ellipse cx="0" cy="0" rx="3.50" ry="2.75" fill="#21602f" stroke="#113719" stroke-width="0.80"/></g><g transform="translate(256.64,302.63) rotate(-160.0)"><ellipse cx="0" cy="0" rx="3.00" ry="2.50" fill="#21602f" stroke="#113719" stroke-width="0.80"/></g><g transform="translate(264.16,305.37) rotate(20.0)"><ellipse cx="0" cy="0" rx="3.00" ry="2.50" fill="#21602f" stroke="#113719" stroke-width="0.80"/></g><g transform="translate(260.92,301.05) rotate(-80.0)"><ellipse cx="0" cy="0" rx="3.00" ry="2.50" fill="#21602f" stroke="#113719" stroke-width="0.80"/></g><g transform="translate(260.14,306.99) rotate(95.0)"><ellipse cx="0" cy="0" rx="3.00" ry="2.50" fill="#21602f" stroke="#113719" stroke-width="0.80"/></g></g>
<g><path d="M59.3,395.3 L59.7,403.3 L58.3,410.3 L59.9,417.3 L59.0,423.3" fill="none" stroke="#9b8e7c" stroke-width="1.25" stroke-linecap="round" stroke-linejoin="round"/><path d="M58.8,399.3 L53.3,401.3 L47.1,403.1" fill="none" stroke="#9b8e7c" stroke-width="1.25" stroke-linecap="round" stroke-linejoin="round"/><path d="M59.0,404.3 L53.3,405.8 L48.6,407.2" fill="none" stroke="#9b8e7c" stroke-width="1.25" stroke-linecap="round" stroke-linejoin="round"/><path d="M58.5,409.3 L54.3,410.3 L51.1,411.3" fill="none" stroke="#9b8e7c" stroke-width="1.25" stroke-linecap="round" stroke-linejoin="round"/><path d="M58.8,413.3 L55.2,414.0" fill="none" stroke="#9b8e7c" stroke-width="1.25" stroke-linecap="round" stroke-linejoin="round"/><path d="M59.6,399.3 L65.3,400.3 L71.6,401.1" fill="none" stroke="#9b8e7c" stroke-width="1.25" stroke-linecap="round" stroke-linejoin="round"/><path d="M59.6,404.3 L63.3,406.3 L66.5,408.2" fill="none" stroke="#9b8e7c" stroke-width="1.25" stroke-linecap="round" stroke-linejoin="round"/><path d="M59.8,412.3 L62.9,414.3" fill="none" stroke="#9b8e7c" stroke-width="1.25" stroke-linecap="round" stroke-linejoin="round"/><path d="M59.6,418.3 L61.9,422.0" fill="none" stroke="#9b8e7c" stroke-width="1.25" stroke-linecap="round" stroke-linejoin="round"/><path d="M59.1,418.3 L56.9,422.0" fill="none" stroke="#9b8e7c" stroke-width="1.25" stroke-linecap="round" stroke-linejoin="round"/><path d="M59.3,395.3 L59.7,403.3 L58.3,410.3 L59.9,417.3 L59.0,423.3" fill="none" stroke="#e4dacb" stroke-width="0.45" stroke-linecap="round" stroke-linejoin="round"/><path d="M58.8,399.3 L53.3,401.3 L47.1,403.1" fill="none" stroke="#e4dacb" stroke-width="0.45" stroke-linecap="round" stroke-linejoin="round"/><path d="M59.0,404.3 L53.3,405.8 L48.6,407.2" fill="none" stroke="#e4dacb" stroke-width="0.45" stroke-linecap="round" stroke-linejoin="round"/><path d="M58.5,409.3 L54.3,410.3 L51.1,411.3" fill="none" stroke="#e4dacb" stroke-width="0.45" stroke-linecap="round" stroke-linejoin="round"/><path d="M58.8,413.3 L55.2,414.0" fill="none" stroke="#e4dacb" stroke-width="0.45" stroke-linecap="round" stroke-linejoin="round"/><path d="M59.6,399.3 L65.3,400.3 L71.6,401.1" fill="none" stroke="#e4dacb" stroke-width="0.45" stroke-linecap="round" stroke-linejoin="round"/><path d="M59.6,404.3 L63.3,406.3 L66.5,408.2" fill="none" stroke="#e4dacb" stroke-width="0.45" stroke-linecap="round" stroke-linejoin="round"/><path d="M59.8,412.3 L62.9,414.3" fill="none" stroke="#e4dacb" stroke-width="0.45" stroke-linecap="round" stroke-linejoin="round"/><path d="M59.6,418.3 L61.9,422.0" fill="none" stroke="#e4dacb" stroke-width="0.45" stroke-linecap="round" stroke-linejoin="round"/><path d="M59.1,418.3 L56.9,422.0" fill="none" stroke="#e4dacb" stroke-width="0.45" stroke-linecap="round" stroke-linejoin="round"/><line x1="59.3" y1="391.3" x2="53.2" y2="387.8" stroke="#1a4a28" stroke-width="0.72" stroke-linecap="round"/><line x1="59.3" y1="391.3" x2="58.1" y2="388.7" stroke="#1a4a28" stroke-width="0.72" stroke-linecap="round"/><line x1="59.3" y1="391.3" x2="63.7" y2="386.5" stroke="#1a4a28" stroke-width="0.72" stroke-linecap="round"/><line x1="59.3" y1="391.3" x2="52.0" y2="392.7" stroke="#1a4a28" stroke-width="0.72" stroke-linecap="round"/><line x1="59.3" y1="391.3" x2="69.1" y2="391.3" stroke="#1a4a28" stroke-width="0.72" stroke-linecap="round"/><line x1="59.3" y1="391.3" x2="63.1" y2="392.7" stroke="#1a4a28" stroke-width="0.72" stroke-linecap="round"/><line x1="59.3" y1="391.3" x2="55.7" y2="396.5" stroke="#1a4a28" stroke-width="0.72" stroke-linecap="round"/><line x1="59.3" y1="391.3" x2="62.8" y2="395.6" stroke="#1a4a28" stroke-width="0.72" stroke-linecap="round"/><g transform="translate(71.60,391.30) rotate(0.0)"><ellipse cx="0" cy="0" rx="4.00" ry="2.50" fill="#3a9446" stroke="#17452a" stroke-width="0.80"/></g><g transform="translate(48.60,393.38) rotate(169.0)"><ellipse cx="0" cy="0" rx="5.00" ry="2.50" fill="#3a9446" stroke="#17452a" stroke-width="0.80"/></g><g transform="translate(50.55,386.25) rotate(-150.0)"><ellipse cx="0" cy="0" rx="4.50" ry="2.50" fill="#3a9446" stroke="#17452a" stroke-width="0.80"/></g><g transform="translate(65.44,384.72) rotate(-47.0)"><ellipse cx="0" cy="0" rx="4.00" ry="3.00" fill="#3a9446" stroke="#17452a" stroke-width="0.80"/></g><g transform="translate(54.25,398.51) rotate(125.0)"><ellipse cx="0" cy="0" rx="4.00" ry="3.25" fill="#58b35c" stroke="#17452a" stroke-width="0.80"/></g><g transform="translate(64.33,397.52) rotate(51.0)"><ellipse cx="0" cy="0" rx="4.00" ry="3.25" fill="#58b35c" stroke="#17452a" stroke-width="0.80"/></g><g transform="translate(64.94,393.35) rotate(20.0)"><ellipse cx="0" cy="0" rx="3.50" ry="2.50" fill="#3a9446" stroke="#17452a" stroke-width="0.80"/></g><g transform="translate(57.31,386.82) rotate(-114.0)"><ellipse cx="0" cy="0" rx="3.50" ry="2.50" fill="#3a9446" stroke="#17452a" stroke-width="0.80"/></g><circle cx="59.3" cy="391.3" r="2.2" fill="#1c5230"/></g>
<g><path d="M88.1,395.3 L88.5,403.3 L87.1,410.3 L88.7,417.3 L87.8,423.3" fill="none" stroke="#9b8e7c" stroke-width="1.25" stroke-linecap="round" stroke-linejoin="round"/><path d="M87.6,399.3 L82.1,401.3 L75.9,403.1" fill="none" stroke="#9b8e7c" stroke-width="1.25" stroke-linecap="round" stroke-linejoin="round"/><path d="M87.8,404.3 L82.1,405.8 L77.4,407.2" fill="none" stroke="#9b8e7c" stroke-width="1.25" stroke-linecap="round" stroke-linejoin="round"/><path d="M87.3,409.3 L83.1,410.3 L79.9,411.3" fill="none" stroke="#9b8e7c" stroke-width="1.25" stroke-linecap="round" stroke-linejoin="round"/><path d="M87.6,413.3 L84.0,414.0" fill="none" stroke="#9b8e7c" stroke-width="1.25" stroke-linecap="round" stroke-linejoin="round"/><path d="M88.4,399.3 L94.1,400.3 L100.4,401.1" fill="none" stroke="#9b8e7c" stroke-width="1.25" stroke-linecap="round" stroke-linejoin="round"/><path d="M88.4,404.3 L92.1,406.3 L95.3,408.2" fill="none" stroke="#9b8e7c" stroke-width="1.25" stroke-linecap="round" stroke-linejoin="round"/><path d="M88.6,412.3 L91.7,414.3" fill="none" stroke="#9b8e7c" stroke-width="1.25" stroke-linecap="round" stroke-linejoin="round"/><path d="M88.4,418.3 L90.7,422.0" fill="none" stroke="#9b8e7c" stroke-width="1.25" stroke-linecap="round" stroke-linejoin="round"/><path d="M87.9,418.3 L85.7,422.0" fill="none" stroke="#9b8e7c" stroke-width="1.25" stroke-linecap="round" stroke-linejoin="round"/><path d="M88.1,395.3 L88.5,403.3 L87.1,410.3 L88.7,417.3 L87.8,423.3" fill="none" stroke="#e4dacb" stroke-width="0.45" stroke-linecap="round" stroke-linejoin="round"/><path d="M87.6,399.3 L82.1,401.3 L75.9,403.1" fill="none" stroke="#e4dacb" stroke-width="0.45" stroke-linecap="round" stroke-linejoin="round"/><path d="M87.8,404.3 L82.1,405.8 L77.4,407.2" fill="none" stroke="#e4dacb" stroke-width="0.45" stroke-linecap="round" stroke-linejoin="round"/><path d="M87.3,409.3 L83.1,410.3 L79.9,411.3" fill="none" stroke="#e4dacb" stroke-width="0.45" stroke-linecap="round" stroke-linejoin="round"/><path d="M87.6,413.3 L84.0,414.0" fill="none" stroke="#e4dacb" stroke-width="0.45" stroke-linecap="round" stroke-linejoin="round"/><path d="M88.4,399.3 L94.1,400.3 L100.4,401.1" fill="none" stroke="#e4dacb" stroke-width="0.45" stroke-linecap="round" stroke-linejoin="round"/><path d="M88.4,404.3 L92.1,406.3 L95.3,408.2" fill="none" stroke="#e4dacb" stroke-width="0.45" stroke-linecap="round" stroke-linejoin="round"/><path d="M88.6,412.3 L91.7,414.3" fill="none" stroke="#e4dacb" stroke-width="0.45" stroke-linecap="round" stroke-linejoin="round"/><path d="M88.4,418.3 L90.7,422.0" fill="none" stroke="#e4dacb" stroke-width="0.45" stroke-linecap="round" stroke-linejoin="round"/><path d="M87.9,418.3 L85.7,422.0" fill="none" stroke="#e4dacb" stroke-width="0.45" stroke-linecap="round" stroke-linejoin="round"/><line x1="88.1" y1="391.3" x2="82.0" y2="387.8" stroke="#1a4a28" stroke-width="0.72" stroke-linecap="round"/><line x1="88.1" y1="391.3" x2="86.9" y2="388.7" stroke="#1a4a28" stroke-width="0.72" stroke-linecap="round"/><line x1="88.1" y1="391.3" x2="92.5" y2="386.5" stroke="#1a4a28" stroke-width="0.72" stroke-linecap="round"/><line x1="88.1" y1="391.3" x2="80.8" y2="392.7" stroke="#1a4a28" stroke-width="0.72" stroke-linecap="round"/><line x1="88.1" y1="391.3" x2="97.9" y2="391.3" stroke="#1a4a28" stroke-width="0.72" stroke-linecap="round"/><line x1="88.1" y1="391.3" x2="91.9" y2="392.7" stroke="#1a4a28" stroke-width="0.72" stroke-linecap="round"/><line x1="88.1" y1="391.3" x2="84.5" y2="396.5" stroke="#1a4a28" stroke-width="0.72" stroke-linecap="round"/><line x1="88.1" y1="391.3" x2="91.6" y2="395.6" stroke="#1a4a28" stroke-width="0.72" stroke-linecap="round"/><g transform="translate(100.40,391.30) rotate(0.0)"><ellipse cx="0" cy="0" rx="4.00" ry="2.50" fill="#3a9446" stroke="#17452a" stroke-width="0.80"/></g><g transform="translate(77.40,393.38) rotate(169.0)"><ellipse cx="0" cy="0" rx="5.00" ry="2.50" fill="#3a9446" stroke="#17452a" stroke-width="0.80"/></g><g transform="translate(79.35,386.25) rotate(-150.0)"><ellipse cx="0" cy="0" rx="4.50" ry="2.50" fill="#3a9446" stroke="#17452a" stroke-width="0.80"/></g><g transform="translate(94.24,384.72) rotate(-47.0)"><ellipse cx="0" cy="0" rx="4.00" ry="3.00" fill="#3a9446" stroke="#17452a" stroke-width="0.80"/></g><g transform="translate(83.05,398.51) rotate(125.0)"><ellipse cx="0" cy="0" rx="4.00" ry="3.25" fill="#58b35c" stroke="#17452a" stroke-width="0.80"/></g><g transform="translate(93.13,397.52) rotate(51.0)"><ellipse cx="0" cy="0" rx="4.00" ry="3.25" fill="#58b35c" stroke="#17452a" stroke-width="0.80"/></g><g transform="translate(93.74,393.35) rotate(20.0)"><ellipse cx="0" cy="0" rx="3.50" ry="2.50" fill="#3a9446" stroke="#17452a" stroke-width="0.80"/></g><g transform="translate(86.11,386.82) rotate(-114.0)"><ellipse cx="0" cy="0" rx="3.50" ry="2.50" fill="#3a9446" stroke="#17452a" stroke-width="0.80"/></g><circle cx="88.1" cy="391.3" r="2.2" fill="#1c5230"/></g>
<g><path d="M116.9,395.3 L117.3,403.3 L115.9,410.3 L117.5,417.3 L116.6,423.3" fill="none" stroke="#9b8e7c" stroke-width="1.25" stroke-linecap="round" stroke-linejoin="round"/><path d="M116.4,399.3 L110.9,401.3 L104.7,403.1" fill="none" stroke="#9b8e7c" stroke-width="1.25" stroke-linecap="round" stroke-linejoin="round"/><path d="M116.6,404.3 L110.9,405.8 L106.2,407.2" fill="none" stroke="#9b8e7c" stroke-width="1.25" stroke-linecap="round" stroke-linejoin="round"/><path d="M116.1,409.3 L111.9,410.3 L108.7,411.3" fill="none" stroke="#9b8e7c" stroke-width="1.25" stroke-linecap="round" stroke-linejoin="round"/><path d="M116.4,413.3 L112.8,414.0" fill="none" stroke="#9b8e7c" stroke-width="1.25" stroke-linecap="round" stroke-linejoin="round"/><path d="M117.2,399.3 L122.9,400.3 L129.2,401.1" fill="none" stroke="#9b8e7c" stroke-width="1.25" stroke-linecap="round" stroke-linejoin="round"/><path d="M117.2,404.3 L120.9,406.3 L124.1,408.2" fill="none" stroke="#9b8e7c" stroke-width="1.25" stroke-linecap="round" stroke-linejoin="round"/><path d="M117.4,412.3 L120.5,414.3" fill="none" stroke="#9b8e7c" stroke-width="1.25" stroke-linecap="round" stroke-linejoin="round"/><path d="M117.2,418.3 L119.5,422.0" fill="none" stroke="#9b8e7c" stroke-width="1.25" stroke-linecap="round" stroke-linejoin="round"/><path d="M116.7,418.3 L114.5,422.0" fill="none" stroke="#9b8e7c" stroke-width="1.25" stroke-linecap="round" stroke-linejoin="round"/><path d="M116.9,395.3 L117.3,403.3 L115.9,410.3 L117.5,417.3 L116.6,423.3" fill="none" stroke="#e4dacb" stroke-width="0.45" stroke-linecap="round" stroke-linejoin="round"/><path d="M116.4,399.3 L110.9,401.3 L104.7,403.1" fill="none" stroke="#e4dacb" stroke-width="0.45" stroke-linecap="round" stroke-linejoin="round"/><path d="M116.6,404.3 L110.9,405.8 L106.2,407.2" fill="none" stroke="#e4dacb" stroke-width="0.45" stroke-linecap="round" stroke-linejoin="round"/><path d="M116.1,409.3 L111.9,410.3 L108.7,411.3" fill="none" stroke="#e4dacb" stroke-width="0.45" stroke-linecap="round" stroke-linejoin="round"/><path d="M116.4,413.3 L112.8,414.0" fill="none" stroke="#e4dacb" stroke-width="0.45" stroke-linecap="round" stroke-linejoin="round"/><path d="M117.2,399.3 L122.9,400.3 L129.2,401.1" fill="none" stroke="#e4dacb" stroke-width="0.45" stroke-linecap="round" stroke-linejoin="round"/><path d="M117.2,404.3 L120.9,406.3 L124.1,408.2" fill="none" stroke="#e4dacb" stroke-width="0.45" stroke-linecap="round" stroke-linejoin="round"/><path d="M117.4,412.3 L120.5,414.3" fill="none" stroke="#e4dacb" stroke-width="0.45" stroke-linecap="round" stroke-linejoin="round"/><path d="M117.2,418.3 L119.5,422.0" fill="none" stroke="#e4dacb" stroke-width="0.45" stroke-linecap="round" stroke-linejoin="round"/><path d="M116.7,418.3 L114.5,422.0" fill="none" stroke="#e4dacb" stroke-width="0.45" stroke-linecap="round" stroke-linejoin="round"/><line x1="116.9" y1="391.3" x2="110.8" y2="387.8" stroke="#1a4a28" stroke-width="0.72" stroke-linecap="round"/><line x1="116.9" y1="391.3" x2="115.7" y2="388.7" stroke="#1a4a28" stroke-width="0.72" stroke-linecap="round"/><line x1="116.9" y1="391.3" x2="121.3" y2="386.5" stroke="#1a4a28" stroke-width="0.72" stroke-linecap="round"/><line x1="116.9" y1="391.3" x2="109.6" y2="392.7" stroke="#1a4a28" stroke-width="0.72" stroke-linecap="round"/><line x1="116.9" y1="391.3" x2="126.7" y2="391.3" stroke="#1a4a28" stroke-width="0.72" stroke-linecap="round"/><line x1="116.9" y1="391.3" x2="120.7" y2="392.7" stroke="#1a4a28" stroke-width="0.72" stroke-linecap="round"/><line x1="116.9" y1="391.3" x2="113.3" y2="396.5" stroke="#1a4a28" stroke-width="0.72" stroke-linecap="round"/><line x1="116.9" y1="391.3" x2="120.4" y2="395.6" stroke="#1a4a28" stroke-width="0.72" stroke-linecap="round"/><g transform="translate(129.20,391.30) rotate(0.0)"><ellipse cx="0" cy="0" rx="4.00" ry="2.50" fill="#3a9446" stroke="#17452a" stroke-width="0.80"/></g><g transform="translate(106.20,393.38) rotate(169.0)"><ellipse cx="0" cy="0" rx="5.00" ry="2.50" fill="#3a9446" stroke="#17452a" stroke-width="0.80"/></g><g transform="translate(108.15,386.25) rotate(-150.0)"><ellipse cx="0" cy="0" rx="4.50" ry="2.50" fill="#3a9446" stroke="#17452a" stroke-width="0.80"/></g><g transform="translate(123.04,384.72) rotate(-47.0)"><ellipse cx="0" cy="0" rx="4.00" ry="3.00" fill="#3a9446" stroke="#17452a" stroke-width="0.80"/></g><g transform="translate(111.85,398.51) rotate(125.0)"><ellipse cx="0" cy="0" rx="4.00" ry="3.25" fill="#58b35c" stroke="#17452a" stroke-width="0.80"/></g><g transform="translate(121.93,397.52) rotate(51.0)"><ellipse cx="0" cy="0" rx="4.00" ry="3.25" fill="#58b35c" stroke="#17452a" stroke-width="0.80"/></g><g transform="translate(122.54,393.35) rotate(20.0)"><ellipse cx="0" cy="0" rx="3.50" ry="2.50" fill="#3a9446" stroke="#17452a" stroke-width="0.80"/></g><g transform="translate(114.91,386.82) rotate(-114.0)"><ellipse cx="0" cy="0" rx="3.50" ry="2.50" fill="#3a9446" stroke="#17452a" stroke-width="0.80"/></g><circle cx="116.9" cy="391.3" r="2.2" fill="#1c5230"/></g>
<g><path d="M145.7,395.3 L146.1,403.3 L144.7,410.3 L146.3,417.3 L145.4,423.3" fill="none" stroke="#9b8e7c" stroke-width="1.25" stroke-linecap="round" stroke-linejoin="round"/><path d="M145.2,399.3 L139.7,401.3 L133.5,403.1" fill="none" stroke="#9b8e7c" stroke-width="1.25" stroke-linecap="round" stroke-linejoin="round"/><path d="M145.4,404.3 L139.7,405.8 L135.0,407.2" fill="none" stroke="#9b8e7c" stroke-width="1.25" stroke-linecap="round" stroke-linejoin="round"/><path d="M144.9,409.3 L140.7,410.3 L137.5,411.3" fill="none" stroke="#9b8e7c" stroke-width="1.25" stroke-linecap="round" stroke-linejoin="round"/><path d="M145.2,413.3 L141.6,414.0" fill="none" stroke="#9b8e7c" stroke-width="1.25" stroke-linecap="round" stroke-linejoin="round"/><path d="M146.0,399.3 L151.7,400.3 L158.0,401.1" fill="none" stroke="#9b8e7c" stroke-width="1.25" stroke-linecap="round" stroke-linejoin="round"/><path d="M146.0,404.3 L149.7,406.3 L152.9,408.2" fill="none" stroke="#9b8e7c" stroke-width="1.25" stroke-linecap="round" stroke-linejoin="round"/><path d="M146.2,412.3 L149.3,414.3" fill="none" stroke="#9b8e7c" stroke-width="1.25" stroke-linecap="round" stroke-linejoin="round"/><path d="M146.0,418.3 L148.3,422.0" fill="none" stroke="#9b8e7c" stroke-width="1.25" stroke-linecap="round" stroke-linejoin="round"/><path d="M145.5,418.3 L143.3,422.0" fill="none" stroke="#9b8e7c" stroke-width="1.25" stroke-linecap="round" stroke-linejoin="round"/><path d="M145.7,395.3 L146.1,403.3 L144.7,410.3 L146.3,417.3 L145.4,423.3" fill="none" stroke="#e4dacb" stroke-width="0.45" stroke-linecap="round" stroke-linejoin="round"/><path d="M145.2,399.3 L139.7,401.3 L133.5,403.1" fill="none" stroke="#e4dacb" stroke-width="0.45" stroke-linecap="round" stroke-linejoin="round"/><path d="M145.4,404.3 L139.7,405.8 L135.0,407.2" fill="none" stroke="#e4dacb" stroke-width="0.45" stroke-linecap="round" stroke-linejoin="round"/><path d="M144.9,409.3 L140.7,410.3 L137.5,411.3" fill="none" stroke="#e4dacb" stroke-width="0.45" stroke-linecap="round" stroke-linejoin="round"/><path d="M145.2,413.3 L141.6,414.0" fill="none" stroke="#e4dacb" stroke-width="0.45" stroke-linecap="round" stroke-linejoin="round"/><path d="M146.0,399.3 L151.7,400.3 L158.0,401.1" fill="none" stroke="#e4dacb" stroke-width="0.45" stroke-linecap="round" stroke-linejoin="round"/><path d="M146.0,404.3 L149.7,406.3 L152.9,408.2" fill="none" stroke="#e4dacb" stroke-width="0.45" stroke-linecap="round" stroke-linejoin="round"/><path d="M146.2,412.3 L149.3,414.3" fill="none" stroke="#e4dacb" stroke-width="0.45" stroke-linecap="round" stroke-linejoin="round"/><path d="M146.0,418.3 L148.3,422.0" fill="none" stroke="#e4dacb" stroke-width="0.45" stroke-linecap="round" stroke-linejoin="round"/><path d="M145.5,418.3 L143.3,422.0" fill="none" stroke="#e4dacb" stroke-width="0.45" stroke-linecap="round" stroke-linejoin="round"/><line x1="145.7" y1="391.3" x2="139.6" y2="387.8" stroke="#1a4a28" stroke-width="0.72" stroke-linecap="round"/><line x1="145.7" y1="391.3" x2="144.5" y2="388.7" stroke="#1a4a28" stroke-width="0.72" stroke-linecap="round"/><line x1="145.7" y1="391.3" x2="150.1" y2="386.5" stroke="#1a4a28" stroke-width="0.72" stroke-linecap="round"/><line x1="145.7" y1="391.3" x2="138.4" y2="392.7" stroke="#1a4a28" stroke-width="0.72" stroke-linecap="round"/><line x1="145.7" y1="391.3" x2="155.5" y2="391.3" stroke="#1a4a28" stroke-width="0.72" stroke-linecap="round"/><line x1="145.7" y1="391.3" x2="149.5" y2="392.7" stroke="#1a4a28" stroke-width="0.72" stroke-linecap="round"/><line x1="145.7" y1="391.3" x2="142.1" y2="396.5" stroke="#1a4a28" stroke-width="0.72" stroke-linecap="round"/><line x1="145.7" y1="391.3" x2="149.2" y2="395.6" stroke="#1a4a28" stroke-width="0.72" stroke-linecap="round"/><g transform="translate(158.00,391.30) rotate(0.0)"><ellipse cx="0" cy="0" rx="4.00" ry="2.50" fill="#3a9446" stroke="#17452a" stroke-width="0.80"/></g><g transform="translate(135.00,393.38) rotate(169.0)"><ellipse cx="0" cy="0" rx="5.00" ry="2.50" fill="#3a9446" stroke="#17452a" stroke-width="0.80"/></g><g transform="translate(136.95,386.25) rotate(-150.0)"><ellipse cx="0" cy="0" rx="4.50" ry="2.50" fill="#3a9446" stroke="#17452a" stroke-width="0.80"/></g><g transform="translate(151.84,384.72) rotate(-47.0)"><ellipse cx="0" cy="0" rx="4.00" ry="3.00" fill="#3a9446" stroke="#17452a" stroke-width="0.80"/></g><g transform="translate(140.65,398.51) rotate(125.0)"><ellipse cx="0" cy="0" rx="4.00" ry="3.25" fill="#58b35c" stroke="#17452a" stroke-width="0.80"/></g><g transform="translate(150.73,397.52) rotate(51.0)"><ellipse cx="0" cy="0" rx="4.00" ry="3.25" fill="#58b35c" stroke="#17452a" stroke-width="0.80"/></g><g transform="translate(151.34,393.35) rotate(20.0)"><ellipse cx="0" cy="0" rx="3.50" ry="2.50" fill="#3a9446" stroke="#17452a" stroke-width="0.80"/></g><g transform="translate(143.71,386.82) rotate(-114.0)"><ellipse cx="0" cy="0" rx="3.50" ry="2.50" fill="#3a9446" stroke="#17452a" stroke-width="0.80"/></g><circle cx="145.7" cy="391.3" r="2.2" fill="#1c5230"/></g>
<g><path d="M174.5,395.3 L174.9,403.3 L173.5,410.3 L175.1,417.3 L174.2,423.3" fill="none" stroke="#9b8e7c" stroke-width="1.25" stroke-linecap="round" stroke-linejoin="round"/><path d="M174.0,399.3 L168.5,401.3 L162.3,403.1" fill="none" stroke="#9b8e7c" stroke-width="1.25" stroke-linecap="round" stroke-linejoin="round"/><path d="M174.2,404.3 L168.5,405.8 L163.8,407.2" fill="none" stroke="#9b8e7c" stroke-width="1.25" stroke-linecap="round" stroke-linejoin="round"/><path d="M173.7,409.3 L169.5,410.3 L166.3,411.3" fill="none" stroke="#9b8e7c" stroke-width="1.25" stroke-linecap="round" stroke-linejoin="round"/><path d="M174.0,413.3 L170.4,414.0" fill="none" stroke="#9b8e7c" stroke-width="1.25" stroke-linecap="round" stroke-linejoin="round"/><path d="M174.8,399.3 L180.5,400.3 L186.8,401.1" fill="none" stroke="#9b8e7c" stroke-width="1.25" stroke-linecap="round" stroke-linejoin="round"/><path d="M174.8,404.3 L178.5,406.3 L181.7,408.2" fill="none" stroke="#9b8e7c" stroke-width="1.25" stroke-linecap="round" stroke-linejoin="round"/><path d="M175.0,412.3 L178.1,414.3" fill="none" stroke="#9b8e7c" stroke-width="1.25" stroke-linecap="round" stroke-linejoin="round"/><path d="M174.8,418.3 L177.1,422.0" fill="none" stroke="#9b8e7c" stroke-width="1.25" stroke-linecap="round" stroke-linejoin="round"/><path d="M174.3,418.3 L172.1,422.0" fill="none" stroke="#9b8e7c" stroke-width="1.25" stroke-linecap="round" stroke-linejoin="round"/><path d="M174.5,395.3 L174.9,403.3 L173.5,410.3 L175.1,417.3 L174.2,423.3" fill="none" stroke="#e4dacb" stroke-width="0.45" stroke-linecap="round" stroke-linejoin="round"/><path d="M174.0,399.3 L168.5,401.3 L162.3,403.1" fill="none" stroke="#e4dacb" stroke-width="0.45" stroke-linecap="round" stroke-linejoin="round"/><path d="M174.2,404.3 L168.5,405.8 L163.8,407.2" fill="none" stroke="#e4dacb" stroke-width="0.45" stroke-linecap="round" stroke-linejoin="round"/><path d="M173.7,409.3 L169.5,410.3 L166.3,411.3" fill="none" stroke="#e4dacb" stroke-width="0.45" stroke-linecap="round" stroke-linejoin="round"/><path d="M174.0,413.3 L170.4,414.0" fill="none" stroke="#e4dacb" stroke-width="0.45" stroke-linecap="round" stroke-linejoin="round"/><path d="M174.8,399.3 L180.5,400.3 L186.8,401.1" fill="none" stroke="#e4dacb" stroke-width="0.45" stroke-linecap="round" stroke-linejoin="round"/><path d="M174.8,404.3 L178.5,406.3 L181.7,408.2" fill="none" stroke="#e4dacb" stroke-width="0.45" stroke-linecap="round" stroke-linejoin="round"/><path d="M175.0,412.3 L178.1,414.3" fill="none" stroke="#e4dacb" stroke-width="0.45" stroke-linecap="round" stroke-linejoin="round"/><path d="M174.8,418.3 L177.1,422.0" fill="none" stroke="#e4dacb" stroke-width="0.45" stroke-linecap="round" stroke-linejoin="round"/><path d="M174.3,418.3 L172.1,422.0" fill="none" stroke="#e4dacb" stroke-width="0.45" stroke-linecap="round" stroke-linejoin="round"/><line x1="174.5" y1="391.3" x2="168.4" y2="387.8" stroke="#1a4a28" stroke-width="0.72" stroke-linecap="round"/><line x1="174.5" y1="391.3" x2="173.3" y2="388.7" stroke="#1a4a28" stroke-width="0.72" stroke-linecap="round"/><line x1="174.5" y1="391.3" x2="178.9" y2="386.5" stroke="#1a4a28" stroke-width="0.72" stroke-linecap="round"/><line x1="174.5" y1="391.3" x2="167.2" y2="392.7" stroke="#1a4a28" stroke-width="0.72" stroke-linecap="round"/><line x1="174.5" y1="391.3" x2="184.3" y2="391.3" stroke="#1a4a28" stroke-width="0.72" stroke-linecap="round"/><line x1="174.5" y1="391.3" x2="178.3" y2="392.7" stroke="#1a4a28" stroke-width="0.72" stroke-linecap="round"/><line x1="174.5" y1="391.3" x2="170.9" y2="396.5" stroke="#1a4a28" stroke-width="0.72" stroke-linecap="round"/><line x1="174.5" y1="391.3" x2="178.0" y2="395.6" stroke="#1a4a28" stroke-width="0.72" stroke-linecap="round"/><g transform="translate(186.80,391.30) rotate(0.0)"><ellipse cx="0" cy="0" rx="4.00" ry="2.50" fill="#3a9446" stroke="#17452a" stroke-width="0.80"/></g><g transform="translate(163.80,393.38) rotate(169.0)"><ellipse cx="0" cy="0" rx="5.00" ry="2.50" fill="#3a9446" stroke="#17452a" stroke-width="0.80"/></g><g transform="translate(165.75,386.25) rotate(-150.0)"><ellipse cx="0" cy="0" rx="4.50" ry="2.50" fill="#3a9446" stroke="#17452a" stroke-width="0.80"/></g><g transform="translate(180.64,384.72) rotate(-47.0)"><ellipse cx="0" cy="0" rx="4.00" ry="3.00" fill="#3a9446" stroke="#17452a" stroke-width="0.80"/></g><g transform="translate(169.45,398.51) rotate(125.0)"><ellipse cx="0" cy="0" rx="4.00" ry="3.25" fill="#58b35c" stroke="#17452a" stroke-width="0.80"/></g><g transform="translate(179.53,397.52) rotate(51.0)"><ellipse cx="0" cy="0" rx="4.00" ry="3.25" fill="#58b35c" stroke="#17452a" stroke-width="0.80"/></g><g transform="translate(180.14,393.35) rotate(20.0)"><ellipse cx="0" cy="0" rx="3.50" ry="2.50" fill="#3a9446" stroke="#17452a" stroke-width="0.80"/></g><g transform="translate(172.51,386.82) rotate(-114.0)"><ellipse cx="0" cy="0" rx="3.50" ry="2.50" fill="#3a9446" stroke="#17452a" stroke-width="0.80"/></g><circle cx="174.5" cy="391.3" r="2.2" fill="#1c5230"/></g>
<g><path d="M203.3,395.3 L203.7,403.3 L202.3,410.3 L203.9,417.3 L203.0,423.3" fill="none" stroke="#9b8e7c" stroke-width="1.25" stroke-linecap="round" stroke-linejoin="round"/><path d="M202.8,399.3 L197.3,401.3 L191.1,403.1" fill="none" stroke="#9b8e7c" stroke-width="1.25" stroke-linecap="round" stroke-linejoin="round"/><path d="M203.0,404.3 L197.3,405.8 L192.6,407.2" fill="none" stroke="#9b8e7c" stroke-width="1.25" stroke-linecap="round" stroke-linejoin="round"/><path d="M202.5,409.3 L198.3,410.3 L195.1,411.3" fill="none" stroke="#9b8e7c" stroke-width="1.25" stroke-linecap="round" stroke-linejoin="round"/><path d="M202.8,413.3 L199.2,414.0" fill="none" stroke="#9b8e7c" stroke-width="1.25" stroke-linecap="round" stroke-linejoin="round"/><path d="M203.6,399.3 L209.3,400.3 L215.6,401.1" fill="none" stroke="#9b8e7c" stroke-width="1.25" stroke-linecap="round" stroke-linejoin="round"/><path d="M203.6,404.3 L207.3,406.3 L210.5,408.2" fill="none" stroke="#9b8e7c" stroke-width="1.25" stroke-linecap="round" stroke-linejoin="round"/><path d="M203.8,412.3 L206.9,414.3" fill="none" stroke="#9b8e7c" stroke-width="1.25" stroke-linecap="round" stroke-linejoin="round"/><path d="M203.6,418.3 L205.9,422.0" fill="none" stroke="#9b8e7c" stroke-width="1.25" stroke-linecap="round" stroke-linejoin="round"/><path d="M203.1,418.3 L200.9,422.0" fill="none" stroke="#9b8e7c" stroke-width="1.25" stroke-linecap="round" stroke-linejoin="round"/><path d="M203.3,395.3 L203.7,403.3 L202.3,410.3 L203.9,417.3 L203.0,423.3" fill="none" stroke="#e4dacb" stroke-width="0.45" stroke-linecap="round" stroke-linejoin="round"/><path d="M202.8,399.3 L197.3,401.3 L191.1,403.1" fill="none" stroke="#e4dacb" stroke-width="0.45" stroke-linecap="round" stroke-linejoin="round"/><path d="M203.0,404.3 L197.3,405.8 L192.6,407.2" fill="none" stroke="#e4dacb" stroke-width="0.45" stroke-linecap="round" stroke-linejoin="round"/><path d="M202.5,409.3 L198.3,410.3 L195.1,411.3" fill="none" stroke="#e4dacb" stroke-width="0.45" stroke-linecap="round" stroke-linejoin="round"/><path d="M202.8,413.3 L199.2,414.0" fill="none" stroke="#e4dacb" stroke-width="0.45" stroke-linecap="round" stroke-linejoin="round"/><path d="M203.6,399.3 L209.3,400.3 L215.6,401.1" fill="none" stroke="#e4dacb" stroke-width="0.45" stroke-linecap="round" stroke-linejoin="round"/><path d="M203.6,404.3 L207.3,406.3 L210.5,408.2" fill="none" stroke="#e4dacb" stroke-width="0.45" stroke-linecap="round" stroke-linejoin="round"/><path d="M203.8,412.3 L206.9,414.3" fill="none" stroke="#e4dacb" stroke-width="0.45" stroke-linecap="round" stroke-linejoin="round"/><path d="M203.6,418.3 L205.9,422.0" fill="none" stroke="#e4dacb" stroke-width="0.45" stroke-linecap="round" stroke-linejoin="round"/><path d="M203.1,418.3 L200.9,422.0" fill="none" stroke="#e4dacb" stroke-width="0.45" stroke-linecap="round" stroke-linejoin="round"/><line x1="203.3" y1="391.3" x2="197.2" y2="387.8" stroke="#1a4a28" stroke-width="0.72" stroke-linecap="round"/><line x1="203.3" y1="391.3" x2="202.1" y2="388.7" stroke="#1a4a28" stroke-width="0.72" stroke-linecap="round"/><line x1="203.3" y1="391.3" x2="207.7" y2="386.5" stroke="#1a4a28" stroke-width="0.72" stroke-linecap="round"/><line x1="203.3" y1="391.3" x2="196.0" y2="392.7" stroke="#1a4a28" stroke-width="0.72" stroke-linecap="round"/><line x1="203.3" y1="391.3" x2="213.1" y2="391.3" stroke="#1a4a28" stroke-width="0.72" stroke-linecap="round"/><line x1="203.3" y1="391.3" x2="207.1" y2="392.7" stroke="#1a4a28" stroke-width="0.72" stroke-linecap="round"/><line x1="203.3" y1="391.3" x2="199.7" y2="396.5" stroke="#1a4a28" stroke-width="0.72" stroke-linecap="round"/><line x1="203.3" y1="391.3" x2="206.8" y2="395.6" stroke="#1a4a28" stroke-width="0.72" stroke-linecap="round"/><g transform="translate(215.60,391.30) rotate(0.0)"><ellipse cx="0" cy="0" rx="4.00" ry="2.50" fill="#3a9446" stroke="#17452a" stroke-width="0.80"/></g><g transform="translate(192.60,393.38) rotate(169.0)"><ellipse cx="0" cy="0" rx="5.00" ry="2.50" fill="#3a9446" stroke="#17452a" stroke-width="0.80"/></g><g transform="translate(194.55,386.25) rotate(-150.0)"><ellipse cx="0" cy="0" rx="4.50" ry="2.50" fill="#3a9446" stroke="#17452a" stroke-width="0.80"/></g><g transform="translate(209.44,384.72) rotate(-47.0)"><ellipse cx="0" cy="0" rx="4.00" ry="3.00" fill="#3a9446" stroke="#17452a" stroke-width="0.80"/></g><g transform="translate(198.25,398.51) rotate(125.0)"><ellipse cx="0" cy="0" rx="4.00" ry="3.25" fill="#58b35c" stroke="#17452a" stroke-width="0.80"/></g><g transform="translate(208.33,397.52) rotate(51.0)"><ellipse cx="0" cy="0" rx="4.00" ry="3.25" fill="#58b35c" stroke="#17452a" stroke-width="0.80"/></g><g transform="translate(208.94,393.35) rotate(20.0)"><ellipse cx="0" cy="0" rx="3.50" ry="2.50" fill="#3a9446" stroke="#17452a" stroke-width="0.80"/></g><g transform="translate(201.31,386.82) rotate(-114.0)"><ellipse cx="0" cy="0" rx="3.50" ry="2.50" fill="#3a9446" stroke="#17452a" stroke-width="0.80"/></g><circle cx="203.3" cy="391.3" r="2.2" fill="#1c5230"/></g>
<g><path d="M232.1,395.3 L232.5,403.3 L231.1,410.3 L232.7,417.3 L231.8,423.3" fill="none" stroke="#9b8e7c" stroke-width="1.25" stroke-linecap="round" stroke-linejoin="round"/><path d="M231.6,399.3 L226.1,401.3 L219.9,403.1" fill="none" stroke="#9b8e7c" stroke-width="1.25" stroke-linecap="round" stroke-linejoin="round"/><path d="M231.8,404.3 L226.1,405.8 L221.4,407.2" fill="none" stroke="#9b8e7c" stroke-width="1.25" stroke-linecap="round" stroke-linejoin="round"/><path d="M231.3,409.3 L227.1,410.3 L223.9,411.3" fill="none" stroke="#9b8e7c" stroke-width="1.25" stroke-linecap="round" stroke-linejoin="round"/><path d="M231.6,413.3 L228.0,414.0" fill="none" stroke="#9b8e7c" stroke-width="1.25" stroke-linecap="round" stroke-linejoin="round"/><path d="M232.4,399.3 L238.1,400.3 L244.4,401.1" fill="none" stroke="#9b8e7c" stroke-width="1.25" stroke-linecap="round" stroke-linejoin="round"/><path d="M232.4,404.3 L236.1,406.3 L239.3,408.2" fill="none" stroke="#9b8e7c" stroke-width="1.25" stroke-linecap="round" stroke-linejoin="round"/><path d="M232.6,412.3 L235.7,414.3" fill="none" stroke="#9b8e7c" stroke-width="1.25" stroke-linecap="round" stroke-linejoin="round"/><path d="M232.4,418.3 L234.7,422.0" fill="none" stroke="#9b8e7c" stroke-width="1.25" stroke-linecap="round" stroke-linejoin="round"/><path d="M231.9,418.3 L229.7,422.0" fill="none" stroke="#9b8e7c" stroke-width="1.25" stroke-linecap="round" stroke-linejoin="round"/><path d="M232.1,395.3 L232.5,403.3 L231.1,410.3 L232.7,417.3 L231.8,423.3" fill="none" stroke="#e4dacb" stroke-width="0.45" stroke-linecap="round" stroke-linejoin="round"/><path d="M231.6,399.3 L226.1,401.3 L219.9,403.1" fill="none" stroke="#e4dacb" stroke-width="0.45" stroke-linecap="round" stroke-linejoin="round"/><path d="M231.8,404.3 L226.1,405.8 L221.4,407.2" fill="none" stroke="#e4dacb" stroke-width="0.45" stroke-linecap="round" stroke-linejoin="round"/><path d="M231.3,409.3 L227.1,410.3 L223.9,411.3" fill="none" stroke="#e4dacb" stroke-width="0.45" stroke-linecap="round" stroke-linejoin="round"/><path d="M231.6,413.3 L228.0,414.0" fill="none" stroke="#e4dacb" stroke-width="0.45" stroke-linecap="round" stroke-linejoin="round"/><path d="M232.4,399.3 L238.1,400.3 L244.4,401.1" fill="none" stroke="#e4dacb" stroke-width="0.45" stroke-linecap="round" stroke-linejoin="round"/><path d="M232.4,404.3 L236.1,406.3 L239.3,408.2" fill="none" stroke="#e4dacb" stroke-width="0.45" stroke-linecap="round" stroke-linejoin="round"/><path d="M232.6,412.3 L235.7,414.3" fill="none" stroke="#e4dacb" stroke-width="0.45" stroke-linecap="round" stroke-linejoin="round"/><path d="M232.4,418.3 L234.7,422.0" fill="none" stroke="#e4dacb" stroke-width="0.45" stroke-linecap="round" stroke-linejoin="round"/><path d="M231.9,418.3 L229.7,422.0" fill="none" stroke="#e4dacb" stroke-width="0.45" stroke-linecap="round" stroke-linejoin="round"/><line x1="232.1" y1="391.3" x2="226.0" y2="387.8" stroke="#1a4a28" stroke-width="0.72" stroke-linecap="round"/><line x1="232.1" y1="391.3" x2="230.9" y2="388.7" stroke="#1a4a28" stroke-width="0.72" stroke-linecap="round"/><line x1="232.1" y1="391.3" x2="236.5" y2="386.5" stroke="#1a4a28" stroke-width="0.72" stroke-linecap="round"/><line x1="232.1" y1="391.3" x2="224.8" y2="392.7" stroke="#1a4a28" stroke-width="0.72" stroke-linecap="round"/><line x1="232.1" y1="391.3" x2="241.9" y2="391.3" stroke="#1a4a28" stroke-width="0.72" stroke-linecap="round"/><line x1="232.1" y1="391.3" x2="235.9" y2="392.7" stroke="#1a4a28" stroke-width="0.72" stroke-linecap="round"/><line x1="232.1" y1="391.3" x2="228.5" y2="396.5" stroke="#1a4a28" stroke-width="0.72" stroke-linecap="round"/><line x1="232.1" y1="391.3" x2="235.6" y2="395.6" stroke="#1a4a28" stroke-width="0.72" stroke-linecap="round"/><g transform="translate(244.40,391.30) rotate(0.0)"><ellipse cx="0" cy="0" rx="4.00" ry="2.50" fill="#3a9446" stroke="#17452a" stroke-width="0.80"/></g><g transform="translate(221.40,393.38) rotate(169.0)"><ellipse cx="0" cy="0" rx="5.00" ry="2.50" fill="#3a9446" stroke="#17452a" stroke-width="0.80"/></g><g transform="translate(223.35,386.25) rotate(-150.0)"><ellipse cx="0" cy="0" rx="4.50" ry="2.50" fill="#3a9446" stroke="#17452a" stroke-width="0.80"/></g><g transform="translate(238.24,384.72) rotate(-47.0)"><ellipse cx="0" cy="0" rx="4.00" ry="3.00" fill="#3a9446" stroke="#17452a" stroke-width="0.80"/></g><g transform="translate(227.05,398.51) rotate(125.0)"><ellipse cx="0" cy="0" rx="4.00" ry="3.25" fill="#58b35c" stroke="#17452a" stroke-width="0.80"/></g><g transform="translate(237.13,397.52) rotate(51.0)"><ellipse cx="0" cy="0" rx="4.00" ry="3.25" fill="#58b35c" stroke="#17452a" stroke-width="0.80"/></g><g transform="translate(237.74,393.35) rotate(20.0)"><ellipse cx="0" cy="0" rx="3.50" ry="2.50" fill="#3a9446" stroke="#17452a" stroke-width="0.80"/></g><g transform="translate(230.11,386.82) rotate(-114.0)"><ellipse cx="0" cy="0" rx="3.50" ry="2.50" fill="#3a9446" stroke="#17452a" stroke-width="0.80"/></g><circle cx="232.10000000000002" cy="391.3" r="2.2" fill="#1c5230"/></g>
<g><path d="M260.9,395.3 L261.3,403.3 L259.9,410.3 L261.5,417.3 L260.6,423.3" fill="none" stroke="#9b8e7c" stroke-width="1.25" stroke-linecap="round" stroke-linejoin="round"/><path d="M260.4,399.3 L254.9,401.3 L248.7,403.1" fill="none" stroke="#9b8e7c" stroke-width="1.25" stroke-linecap="round" stroke-linejoin="round"/><path d="M260.6,404.3 L254.9,405.8 L250.2,407.2" fill="none" stroke="#9b8e7c" stroke-width="1.25" stroke-linecap="round" stroke-linejoin="round"/><path d="M260.1,409.3 L255.9,410.3 L252.7,411.3" fill="none" stroke="#9b8e7c" stroke-width="1.25" stroke-linecap="round" stroke-linejoin="round"/><path d="M260.4,413.3 L256.8,414.0" fill="none" stroke="#9b8e7c" stroke-width="1.25" stroke-linecap="round" stroke-linejoin="round"/><path d="M261.2,399.3 L266.9,400.3 L273.2,401.1" fill="none" stroke="#9b8e7c" stroke-width="1.25" stroke-linecap="round" stroke-linejoin="round"/><path d="M261.2,404.3 L264.9,406.3 L268.1,408.2" fill="none" stroke="#9b8e7c" stroke-width="1.25" stroke-linecap="round" stroke-linejoin="round"/><path d="M261.4,412.3 L264.5,414.3" fill="none" stroke="#9b8e7c" stroke-width="1.25" stroke-linecap="round" stroke-linejoin="round"/><path d="M261.2,418.3 L263.5,422.0" fill="none" stroke="#9b8e7c" stroke-width="1.25" stroke-linecap="round" stroke-linejoin="round"/><path d="M260.7,418.3 L258.5,422.0" fill="none" stroke="#9b8e7c" stroke-width="1.25" stroke-linecap="round" stroke-linejoin="round"/><path d="M260.9,395.3 L261.3,403.3 L259.9,410.3 L261.5,417.3 L260.6,423.3" fill="none" stroke="#e4dacb" stroke-width="0.45" stroke-linecap="round" stroke-linejoin="round"/><path d="M260.4,399.3 L254.9,401.3 L248.7,403.1" fill="none" stroke="#e4dacb" stroke-width="0.45" stroke-linecap="round" stroke-linejoin="round"/><path d="M260.6,404.3 L254.9,405.8 L250.2,407.2" fill="none" stroke="#e4dacb" stroke-width="0.45" stroke-linecap="round" stroke-linejoin="round"/><path d="M260.1,409.3 L255.9,410.3 L252.7,411.3" fill="none" stroke="#e4dacb" stroke-width="0.45" stroke-linecap="round" stroke-linejoin="round"/><path d="M260.4,413.3 L256.8,414.0" fill="none" stroke="#e4dacb" stroke-width="0.45" stroke-linecap="round" stroke-linejoin="round"/><path d="M261.2,399.3 L266.9,400.3 L273.2,401.1" fill="none" stroke="#e4dacb" stroke-width="0.45" stroke-linecap="round" stroke-linejoin="round"/><path d="M261.2,404.3 L264.9,406.3 L268.1,408.2" fill="none" stroke="#e4dacb" stroke-width="0.45" stroke-linecap="round" stroke-linejoin="round"/><path d="M261.4,412.3 L264.5,414.3" fill="none" stroke="#e4dacb" stroke-width="0.45" stroke-linecap="round" stroke-linejoin="round"/><path d="M261.2,418.3 L263.5,422.0" fill="none" stroke="#e4dacb" stroke-width="0.45" stroke-linecap="round" stroke-linejoin="round"/><path d="M260.7,418.3 L258.5,422.0" fill="none" stroke="#e4dacb" stroke-width="0.45" stroke-linecap="round" stroke-linejoin="round"/><line x1="260.9" y1="391.3" x2="254.8" y2="387.8" stroke="#1a4a28" stroke-width="0.72" stroke-linecap="round"/><line x1="260.9" y1="391.3" x2="259.7" y2="388.7" stroke="#1a4a28" stroke-width="0.72" stroke-linecap="round"/><line x1="260.9" y1="391.3" x2="265.3" y2="386.5" stroke="#1a4a28" stroke-width="0.72" stroke-linecap="round"/><line x1="260.9" y1="391.3" x2="253.6" y2="392.7" stroke="#1a4a28" stroke-width="0.72" stroke-linecap="round"/><line x1="260.9" y1="391.3" x2="270.7" y2="391.3" stroke="#1a4a28" stroke-width="0.72" stroke-linecap="round"/><line x1="260.9" y1="391.3" x2="264.7" y2="392.7" stroke="#1a4a28" stroke-width="0.72" stroke-linecap="round"/><line x1="260.9" y1="391.3" x2="257.3" y2="396.5" stroke="#1a4a28" stroke-width="0.72" stroke-linecap="round"/><line x1="260.9" y1="391.3" x2="264.4" y2="395.6" stroke="#1a4a28" stroke-width="0.72" stroke-linecap="round"/><g transform="translate(273.20,391.30) rotate(0.0)"><ellipse cx="0" cy="0" rx="4.00" ry="2.50" fill="#3a9446" stroke="#17452a" stroke-width="0.80"/></g><g transform="translate(250.20,393.38) rotate(169.0)"><ellipse cx="0" cy="0" rx="5.00" ry="2.50" fill="#3a9446" stroke="#17452a" stroke-width="0.80"/></g><g transform="translate(252.15,386.25) rotate(-150.0)"><ellipse cx="0" cy="0" rx="4.50" ry="2.50" fill="#3a9446" stroke="#17452a" stroke-width="0.80"/></g><g transform="translate(267.04,384.72) rotate(-47.0)"><ellipse cx="0" cy="0" rx="4.00" ry="3.00" fill="#3a9446" stroke="#17452a" stroke-width="0.80"/></g><g transform="translate(255.85,398.51) rotate(125.0)"><ellipse cx="0" cy="0" rx="4.00" ry="3.25" fill="#58b35c" stroke="#17452a" stroke-width="0.80"/></g><g transform="translate(265.93,397.52) rotate(51.0)"><ellipse cx="0" cy="0" rx="4.00" ry="3.25" fill="#58b35c" stroke="#17452a" stroke-width="0.80"/></g><g transform="translate(266.54,393.35) rotate(20.0)"><ellipse cx="0" cy="0" rx="3.50" ry="2.50" fill="#3a9446" stroke="#17452a" stroke-width="0.80"/></g><g transform="translate(258.91,386.82) rotate(-114.0)"><ellipse cx="0" cy="0" rx="3.50" ry="2.50" fill="#3a9446" stroke="#17452a" stroke-width="0.80"/></g><circle cx="260.9" cy="391.3" r="2.2" fill="#1c5230"/></g>
<rect x="42.00" y="345.50" width="32.00" height="17.00" fill="#e8674f" />
<rect x="74.00" y="345.50" width="201.50" height="17.00" fill="#9bd8ea" />
<rect x="42.00" y="428.70" width="233.50" height="17.00" fill="#9bd8ea" />
<rect x="42.00" y="461.00" width="233.50" height="22.00" fill="#175863" />
<text x="57.50" y="477.80" font-size="14" text-anchor="middle" font-weight="bold" fill="#fff" >0</text>
<text x="88.40" y="477.80" font-size="14" text-anchor="middle" font-weight="bold" fill="#fff" >15</text>
<text x="117.80" y="477.80" font-size="14" text-anchor="middle" font-weight="bold" fill="#fff" >30</text>
<text x="143.70" y="477.80" font-size="14" text-anchor="middle" font-weight="bold" fill="#fff" >60</text>
<text x="173.00" y="477.80" font-size="14" text-anchor="middle" font-weight="bold" fill="#fff" >90</text>
<text x="203.00" y="477.80" font-size="14" text-anchor="middle" font-weight="bold" fill="#fff" >120</text>
<text x="233.40" y="477.80" font-size="14" text-anchor="middle" font-weight="bold" fill="#fff" >240</text>
<text x="262.80" y="477.80" font-size="14" text-anchor="middle" font-weight="bold" fill="#fff" >360</text>
<text x="165.20" y="509.20" font-size="19.3" text-anchor="middle" fill="#000" textLength="92" lengthAdjust="spacingAndGlyphs" >Time (min)</text>
<text x="285.70" y="285.80" font-size="34" text-anchor="start" fill="#000" >c</text>
<rect x="388.10" y="398.13" width="10.77" height="110.27" fill="#1f3f2c" stroke="#0f1f15" stroke-width="0.6"/>
<rect x="398.87" y="398.13" width="10.77" height="110.27" fill="#d8a7b3" stroke="#6a5055" stroke-width="0.6"/>
<rect x="423.87" y="455.65" width="10.77" height="52.75" fill="#1f3f2c" stroke="#0f1f15" stroke-width="0.6"/>
<rect x="434.64" y="488.52" width="10.77" height="19.88" fill="#d8a7b3" stroke="#6a5055" stroke-width="0.6"/>
<rect x="445.41" y="475.53" width="10.77" height="32.87" fill="#7caa6f" stroke="#2a3a25" stroke-width="0.6"/>
<rect x="459.64" y="377.72" width="10.77" height="130.68" fill="#1f3f2c" stroke="#0f1f15" stroke-width="0.6"/>
<rect x="470.41" y="482.16" width="10.77" height="26.24" fill="#d8a7b3" stroke="#6a5055" stroke-width="0.6"/>
<rect x="481.18" y="403.96" width="10.77" height="104.44" fill="#7caa6f" stroke="#2a3a25" stroke-width="0.6"/>
<rect x="495.41" y="322.84" width="10.77" height="185.56" fill="#1f3f2c" stroke="#0f1f15" stroke-width="0.6"/>
<rect x="506.18" y="477.56" width="10.77" height="30.84" fill="#d8a7b3" stroke="#6a5055" stroke-width="0.6"/>
<rect x="516.95" y="353.68" width="10.77" height="154.72" fill="#7caa6f" stroke="#2a3a25" stroke-width="0.6"/>
<rect x="531.18" y="385.67" width="10.77" height="122.73" fill="#1f3f2c" stroke="#0f1f15" stroke-width="0.6"/>
<rect x="541.95" y="486.93" width="10.77" height="21.47" fill="#d8a7b3" stroke="#6a5055" stroke-width="0.6"/>
<rect x="552.72" y="407.14" width="10.77" height="101.26" fill="#7caa6f" stroke="#2a3a25" stroke-width="0.6"/>
<rect x="566.95" y="466.16" width="10.77" height="42.24" fill="#1f3f2c" stroke="#0f1f15" stroke-width="0.6"/>
<rect x="577.72" y="496.65" width="10.77" height="11.75" fill="#d8a7b3" stroke="#6a5055" stroke-width="0.6"/>
<rect x="588.49" y="477.92" width="10.77" height="30.48" fill="#7caa6f" stroke="#2a3a25" stroke-width="0.6"/>
<rect x="602.72" y="489.76" width="10.77" height="18.64" fill="#1f3f2c" stroke="#0f1f15" stroke-width="0.6"/>
<rect x="613.49" y="501.33" width="10.77" height="7.07" fill="#d8a7b3" stroke="#6a5055" stroke-width="0.6"/>
<rect x="624.26" y="496.82" width="10.77" height="11.58" fill="#7caa6f" stroke="#2a3a25" stroke-width="0.6"/>
<rect x="638.49" y="497.35" width="10.77" height="11.04" fill="#1f3f2c" stroke="#0f1f15" stroke-width="0.6"/>
<rect x="649.26" y="505.31" width="10.77" height="3.09" fill="#d8a7b3" stroke="#6a5055" stroke-width="0.6"/>
<rect x="660.03" y="500.45" width="10.77" height="7.95" fill="#7caa6f" stroke="#2a3a25" stroke-width="0.6"/>
<path d="M374,287.2 H684 V508.4 H374 Z" fill="none" stroke="#1a1a1a" stroke-width="1.4"/>
<line x1="370.5" y1="508.40" x2="374" y2="508.40" stroke="#1a1a1a" stroke-width="1.2"/>
<text x="347.30" y="513.90" font-size="19" text-anchor="middle" fill="#1a1a1a" >0</text>
<line x1="370.5" y1="464.22" x2="374" y2="464.22" stroke="#1a1a1a" stroke-width="1.2"/>
<text x="347.30" y="469.72" font-size="19" text-anchor="middle" fill="#1a1a1a" >500</text>
<line x1="370.5" y1="420.04" x2="374" y2="420.04" stroke="#1a1a1a" stroke-width="1.2"/>
<text x="347.30" y="425.54" font-size="19" text-anchor="middle" fill="#1a1a1a" >1000</text>
<line x1="370.5" y1="375.86" x2="374" y2="375.86" stroke="#1a1a1a" stroke-width="1.2"/>
<text x="347.30" y="381.36" font-size="19" text-anchor="middle" fill="#1a1a1a" >1500</text>
<line x1="370.5" y1="331.68" x2="374" y2="331.68" stroke="#1a1a1a" stroke-width="1.2"/>
<text x="347.30" y="337.18" font-size="19" text-anchor="middle" fill="#1a1a1a" >2000</text>
<line x1="370.5" y1="287.50" x2="374" y2="287.50" stroke="#1a1a1a" stroke-width="1.2"/>
<text x="347.30" y="293.00" font-size="19" text-anchor="middle" fill="#1a1a1a" >2500</text>
<line x1="404.25" y1="508.4" x2="404.25" y2="511.9" stroke="#1a1a1a" stroke-width="1.2"/>
<text x="404.50" y="531.50" font-size="17.5" text-anchor="middle" fill="#1a1a1a" >0</text>
<line x1="440.02" y1="508.4" x2="440.02" y2="511.9" stroke="#1a1a1a" stroke-width="1.2"/>
<text x="441.90" y="531.50" font-size="17.5" text-anchor="middle" fill="#1a1a1a" >15</text>
<line x1="475.80" y1="508.4" x2="475.80" y2="511.9" stroke="#1a1a1a" stroke-width="1.2"/>
<text x="477.40" y="531.50" font-size="17.5" text-anchor="middle" fill="#1a1a1a" >30</text>
<line x1="511.57" y1="508.4" x2="511.57" y2="511.9" stroke="#1a1a1a" stroke-width="1.2"/>
<text x="512.70" y="531.50" font-size="17.5" text-anchor="middle" fill="#1a1a1a" >60</text>
<line x1="547.34" y1="508.4" x2="547.34" y2="511.9" stroke="#1a1a1a" stroke-width="1.2"/>
<text x="548.70" y="531.50" font-size="17.5" text-anchor="middle" fill="#1a1a1a" >90</text>
<line x1="583.11" y1="508.4" x2="583.11" y2="511.9" stroke="#1a1a1a" stroke-width="1.2"/>
<text x="587.30" y="531.50" font-size="17.5" text-anchor="middle" fill="#1a1a1a" >120</text>
<line x1="618.88" y1="508.4" x2="618.88" y2="511.9" stroke="#1a1a1a" stroke-width="1.2"/>
<text x="622.30" y="531.50" font-size="17.5" text-anchor="middle" fill="#1a1a1a" >240</text>
<line x1="654.64" y1="508.4" x2="654.64" y2="511.9" stroke="#1a1a1a" stroke-width="1.2"/>
<text x="657.60" y="531.50" font-size="17.5" text-anchor="middle" fill="#1a1a1a" >360</text>
<text x="535.70" y="549.40" font-size="15.8" text-anchor="middle" fill="#1a1a1a" >Time (min)</text>
<text transform="translate(320.9,390.6) rotate(-90)" font-size="18.6" text-anchor="middle" fill="#1a1a1a">DEGs</text>
<text x="394.30" y="383.20" font-size="11.2" text-anchor="middle" fill="#1a1a1a" >1248</text>
<text x="404.50" y="394.00" font-size="11.2" text-anchor="middle" fill="#1a1a1a" >1248</text>
<text x="416.40" y="505.70" font-size="11.2" text-anchor="middle" fill="#1a1a1a" >0</text>
<text x="440.80" y="438.60" font-size="11.2" text-anchor="middle" fill="#1a1a1a" >225</text>
<text x="429.70" y="452.30" font-size="11.2" text-anchor="middle" fill="#1a1a1a" >597</text>
<text x="449.70" y="471.80" font-size="11.2" text-anchor="middle" fill="#1a1a1a" >372</text>
<text x="465.90" y="375.00" font-size="11.2" text-anchor="middle" fill="#1a1a1a" >1479</text>
<rect x="473.54" y="391.50" width="26.52" height="11.20" fill="#ffffff" />
<text x="486.80" y="401.20" font-size="11.2" text-anchor="middle" fill="#1a1a1a" >1182</text>
<rect x="465.75" y="470.50" width="20.29" height="11.20" fill="#ffffff" />
<text x="475.90" y="480.20" font-size="11.2" text-anchor="middle" fill="#1a1a1a" >297</text>
<text x="501.00" y="319.90" font-size="11.2" text-anchor="middle" fill="#1a1a1a" >2100</text>
<text x="522.10" y="350.80" font-size="11.2" text-anchor="middle" fill="#1a1a1a" >1751</text>
<rect x="500.75" y="466.80" width="20.29" height="11.20" fill="#ffffff" />
<text x="510.90" y="476.50" font-size="11.2" text-anchor="middle" fill="#1a1a1a" >349</text>
<rect x="523.74" y="373.20" width="26.52" height="11.20" fill="#ffffff" />
<text x="537.00" y="382.90" font-size="11.2" text-anchor="middle" fill="#1a1a1a" >1389</text>
<text x="558.20" y="405.30" font-size="11.2" text-anchor="middle" fill="#1a1a1a" >1146</text>
<rect x="537.36" y="475.80" width="20.29" height="11.20" fill="#ffffff" />
<text x="547.50" y="485.50" font-size="11.2" text-anchor="middle" fill="#1a1a1a" >243</text>
<text x="573.30" y="463.70" font-size="11.2" text-anchor="middle" fill="#1a1a1a" >478</text>
<text x="593.20" y="475.80" font-size="11.2" text-anchor="middle" fill="#1a1a1a" >345</text>
<rect x="573.06" y="484.70" width="20.29" height="11.20" fill="#ffffff" />
<text x="583.20" y="494.40" font-size="11.2" text-anchor="middle" fill="#1a1a1a" >133</text>
<text x="608.50" y="487.60" font-size="11.2" text-anchor="middle" fill="#1a1a1a" >211</text>
<text x="618.90" y="476.30" font-size="11.2" text-anchor="middle" fill="#1a1a1a" >80</text>
<text x="629.10" y="494.80" font-size="11.2" text-anchor="middle" fill="#1a1a1a" >131</text>
<text x="644.30" y="478.50" font-size="11.2" text-anchor="middle" fill="#1a1a1a" >125</text>
<text x="654.40" y="488.50" font-size="11.2" text-anchor="middle" fill="#1a1a1a" >35</text>
<text x="665.40" y="498.20" font-size="11.2" text-anchor="middle" fill="#1a1a1a" >90</text>
<rect x="527.90" y="292.90" width="13.80" height="37.90" fill="#000" />
<rect x="529.90" y="294.90" width="9.70" height="9.40" fill="#1f3f2c" />
<rect x="529.90" y="307.20" width="9.70" height="9.60" fill="#d8a7b3" />
<rect x="529.90" y="319.80" width="9.70" height="9.30" fill="#7caa6f" />
<text x="545.00" y="301.60" font-size="14.1" text-anchor="start" fill="#1a1a1a" >All</text>
<text x="545.00" y="316.50" font-size="14.1" text-anchor="start" fill="#1a1a1a" textLength="137.5" lengthAdjust="spacingAndGlyphs" >Drought&#8722;Responsive</text>
<text x="545.00" y="331.30" font-size="14.1" text-anchor="start" fill="#1a1a1a" textLength="122" lengthAdjust="spacingAndGlyphs" >Recovery&#8722;Specific</text>
<text x="-1.00" y="569.50" font-size="34" text-anchor="start" fill="#000" >d</text>
<rect x="28.00" y="575.00" width="281.20" height="24.10" fill="#d8a9b3" />
<text x="31.60" y="594.80" font-size="22.3" text-anchor="start" fill="#000" textLength="271" lengthAdjust="spacingAndGlyphs" >Drought Responsive Genes</text>
<rect x="28.60" y="601.30" width="116.80" height="65.70" fill="#000"/>
<rect x="28.6" y="601.3" width="14.6" height="0.9" fill="#256638"/><rect x="28.6" y="602.2" width="14.6" height="1.6" fill="#328347"/><rect x="28.6" y="603.8" width="14.6" height="1.6" fill="#276c3b"/><rect x="28.6" y="605.4" width="14.6" height="2.0" fill="#256839"/><rect x="28.6" y="607.4" width="14.6" height="1.0" fill="#26683a"/><rect x="28.6" y="608.4" width="14.6" height="1.0" fill="#3b9851"/><rect x="28.6" y="609.4" width="14.6" height="0.9" fill="#38914d"/><rect x="28.6" y="610.3" width="14.6" height="1.0" fill="#2d7942"/><rect x="28.6" y="611.3" width="14.6" height="2.0" fill="#246538"/><rect x="28.6" y="613.3" width="14.6" height="0.9" fill="#2f7d44"/><rect x="28.6" y="614.2" width="14.6" height="0.8" fill="#1d542e"/><rect x="28.6" y="615.0" width="14.6" height="0.9" fill="#368e4c"/><rect x="28.6" y="615.9" width="14.6" height="0.6" fill="#368d4c"/><rect x="28.6" y="616.5" width="14.6" height="1.6" fill="#307f45"/><rect x="28.6" y="618.1" width="14.6" height="0.6" fill="#236236"/><rect x="28.6" y="618.7" width="14.6" height="1.1" fill="#348849"/><rect x="28.6" y="619.8" width="14.6" height="1.3" fill="#307f45"/><rect x="28.6" y="621.1" width="14.6" height="1.3" fill="#378f4d"/><rect x="28.6" y="622.4" width="14.6" height="1.6" fill="#2e7a42"/><rect x="28.6" y="624.0" width="14.6" height="1.6" fill="#29703e"/><rect x="28.6" y="625.6" width="14.6" height="1.6" fill="#26683a"/><rect x="28.6" y="627.2" width="14.6" height="1.1" fill="#215e33"/><rect x="28.6" y="628.3" width="14.6" height="1.3" fill="#38924e"/><rect x="28.6" y="629.6" width="14.6" height="0.8" fill="#3f9d54"/><rect x="28.6" y="630.4" width="14.6" height="1.0" fill="#2d7942"/><rect x="28.6" y="631.4" width="14.6" height="1.3" fill="#368d4b"/><rect x="28.6" y="632.7" width="14.6" height="0.6" fill="#2f7c43"/><rect x="28.6" y="633.3" width="14.6" height="0.8" fill="#205b31"/><rect x="28.6" y="634.1" width="14.6" height="1.0" fill="#368d4c"/><rect x="28.6" y="635.1" width="14.6" height="0.9" fill="#3c9a52"/><rect x="28.6" y="636.0" width="14.6" height="2.0" fill="#256638"/><rect x="28.6" y="638.0" width="14.6" height="0.6" fill="#236336"/><rect x="28.6" y="638.6" width="14.6" height="0.6" fill="#358a4a"/><rect x="28.6" y="639.2" width="14.6" height="0.6" fill="#338749"/><rect x="28.6" y="639.8" width="14.6" height="0.8" fill="#328447"/><rect x="28.6" y="640.6" width="14.6" height="1.6" fill="#2a713e"/><rect x="28.6" y="642.2" width="14.6" height="1.6" fill="#266839"/><rect x="28.6" y="643.8" width="14.6" height="1.0" fill="#368c4b"/><rect x="28.6" y="644.8" width="14.6" height="1.1" fill="#276b3b"/><rect x="28.6" y="645.9" width="14.6" height="0.8" fill="#3d9b53"/><rect x="28.6" y="646.7" width="14.6" height="1.1" fill="#378f4d"/><rect x="28.6" y="647.8" width="14.6" height="0.8" fill="#286e3c"/><rect x="28.6" y="648.6" width="14.6" height="0.6" fill="#338548"/><rect x="28.6" y="649.2" width="14.6" height="1.1" fill="#2b743f"/><rect x="28.6" y="650.3" width="14.6" height="0.6" fill="#378e4c"/><rect x="28.6" y="650.9" width="14.6" height="0.6" fill="#328347"/><rect x="28.6" y="651.5" width="14.6" height="1.0" fill="#307e44"/><rect x="28.6" y="652.5" width="14.6" height="0.8" fill="#2e7b43"/><rect x="28.6" y="653.3" width="14.6" height="1.3" fill="#29713e"/><rect x="28.6" y="654.6" width="14.6" height="0.9" fill="#3a9650"/><rect x="28.6" y="655.5" width="14.6" height="0.8" fill="#39934e"/><rect x="28.6" y="656.3" width="14.6" height="0.9" fill="#2c7741"/><rect x="28.6" y="657.2" width="14.6" height="0.6" fill="#318246"/><rect x="28.6" y="657.8" width="14.6" height="1.6" fill="#184726"/><rect x="28.6" y="659.4" width="14.6" height="1.6" fill="#368c4b"/><rect x="28.6" y="661.0" width="14.6" height="1.1" fill="#1d552e"/><rect x="28.6" y="662.1" width="14.6" height="2.0" fill="#226035"/><rect x="28.6" y="664.1" width="14.6" height="0.8" fill="#2e7c43"/><rect x="28.6" y="664.9" width="14.6" height="0.9" fill="#348949"/><rect x="28.6" y="665.8" width="14.6" height="1.2" fill="#2d7942"/>
<rect x="43.2" y="602.2" width="14.6" height="1.6" fill="#10331a"/><rect x="43.2" y="607.4" width="14.6" height="1.0" fill="#164424"/><rect x="43.2" y="608.4" width="14.6" height="1.0" fill="#0d2915"/><rect x="43.2" y="609.4" width="14.6" height="0.9" fill="#143f21"/><rect x="43.2" y="610.3" width="14.6" height="1.0" fill="#194b28"/><rect x="43.2" y="611.3" width="14.6" height="2.0" fill="#144021"/><rect x="43.2" y="613.3" width="14.6" height="0.9" fill="#164524"/><rect x="43.2" y="615.0" width="14.6" height="0.9" fill="#10321a"/><rect x="43.2" y="615.9" width="14.6" height="0.6" fill="#10341b"/><rect x="43.2" y="618.1" width="14.6" height="0.6" fill="#091d0f"/><rect x="43.2" y="618.7" width="14.6" height="1.1" fill="#143e21"/><rect x="43.2" y="619.8" width="14.6" height="1.3" fill="#0a1f10"/><rect x="43.2" y="621.1" width="14.6" height="1.3" fill="#184826"/><rect x="43.2" y="622.4" width="14.6" height="1.6" fill="#133b1f"/><rect x="43.2" y="625.6" width="14.6" height="1.6" fill="#1a4d29"/><rect x="43.2" y="627.2" width="14.6" height="1.1" fill="#0e2e18"/><rect x="43.2" y="628.3" width="14.6" height="1.3" fill="#10321a"/><rect x="43.2" y="629.6" width="14.6" height="0.8" fill="#184927"/><rect x="43.2" y="630.4" width="14.6" height="1.0" fill="#1b502b"/><rect x="43.2" y="632.7" width="14.6" height="0.6" fill="#1b4f2b"/><rect x="43.2" y="633.3" width="14.6" height="0.8" fill="#0b2212"/><rect x="43.2" y="634.1" width="14.6" height="1.0" fill="#184927"/><rect x="43.2" y="635.1" width="14.6" height="0.9" fill="#1b4f2b"/><rect x="43.2" y="636.0" width="14.6" height="2.0" fill="#0d2a16"/><rect x="43.2" y="638.0" width="14.6" height="0.6" fill="#07170c"/><rect x="43.2" y="638.6" width="14.6" height="0.6" fill="#194a27"/><rect x="43.2" y="639.8" width="14.6" height="0.8" fill="#154022"/><rect x="43.2" y="642.2" width="14.6" height="1.6" fill="#0f2f19"/><rect x="43.2" y="643.8" width="14.6" height="1.0" fill="#133c1f"/><rect x="43.2" y="645.9" width="14.6" height="0.8" fill="#0d2b16"/><rect x="43.2" y="646.7" width="14.6" height="1.1" fill="#1a4c29"/><rect x="43.2" y="647.8" width="14.6" height="0.8" fill="#10351b"/><rect x="43.2" y="649.2" width="14.6" height="1.1" fill="#1f5930"/><rect x="43.2" y="650.9" width="14.6" height="0.6" fill="#133e20"/><rect x="43.2" y="651.5" width="14.6" height="1.0" fill="#0d2a16"/><rect x="43.2" y="652.5" width="14.6" height="0.8" fill="#205c32"/><rect x="43.2" y="653.3" width="14.6" height="1.3" fill="#051008"/><rect x="43.2" y="654.6" width="14.6" height="0.9" fill="#11371c"/><rect x="43.2" y="655.5" width="14.6" height="0.8" fill="#194a28"/><rect x="43.2" y="657.2" width="14.6" height="0.6" fill="#07170c"/><rect x="43.2" y="661.0" width="14.6" height="1.1" fill="#10331a"/><rect x="43.2" y="662.1" width="14.6" height="2.0" fill="#07160b"/><rect x="43.2" y="664.1" width="14.6" height="0.8" fill="#1a4c29"/><rect x="43.2" y="664.9" width="14.6" height="0.9" fill="#184726"/><rect x="43.2" y="665.8" width="14.6" height="1.2" fill="#11381d"/>
<rect x="57.8" y="602.2" width="14.6" height="1.6" fill="#0a1f10"/><rect x="57.8" y="605.4" width="14.6" height="2.0" fill="#060d15"/><rect x="57.8" y="607.4" width="14.6" height="1.0" fill="#091522"/><rect x="57.8" y="608.4" width="14.6" height="1.0" fill="#0f2135"/><rect x="57.8" y="609.4" width="14.6" height="0.9" fill="#0a1725"/><rect x="57.8" y="610.3" width="14.6" height="1.0" fill="#0f3019"/><rect x="57.8" y="613.3" width="14.6" height="0.9" fill="#081b0e"/><rect x="57.8" y="615.9" width="14.6" height="0.6" fill="#07111a"/><rect x="57.8" y="616.5" width="14.6" height="1.6" fill="#081b0e"/><rect x="57.8" y="618.7" width="14.6" height="1.1" fill="#07150b"/><rect x="57.8" y="619.8" width="14.6" height="1.3" fill="#0f3019"/><rect x="57.8" y="621.1" width="14.6" height="1.3" fill="#03080c"/><rect x="57.8" y="625.6" width="14.6" height="1.6" fill="#11371c"/><rect x="57.8" y="628.3" width="14.6" height="1.3" fill="#0a2011"/><rect x="57.8" y="629.6" width="14.6" height="0.8" fill="#10263c"/><rect x="57.8" y="630.4" width="14.6" height="1.0" fill="#091c0f"/><rect x="57.8" y="633.3" width="14.6" height="0.8" fill="#0b2212"/><rect x="57.8" y="634.1" width="14.6" height="1.0" fill="#0b1826"/><rect x="57.8" y="635.1" width="14.6" height="0.9" fill="#08111b"/><rect x="57.8" y="638.0" width="14.6" height="0.6" fill="#11371c"/><rect x="57.8" y="640.6" width="14.6" height="1.6" fill="#0d2b16"/><rect x="57.8" y="642.2" width="14.6" height="1.6" fill="#0d2a16"/><rect x="57.8" y="643.8" width="14.6" height="1.0" fill="#060e16"/><rect x="57.8" y="644.8" width="14.6" height="1.1" fill="#0c2815"/><rect x="57.8" y="645.9" width="14.6" height="0.8" fill="#08111c"/><rect x="57.8" y="646.7" width="14.6" height="1.1" fill="#07101a"/><rect x="57.8" y="649.2" width="14.6" height="1.1" fill="#184927"/><rect x="57.8" y="650.9" width="14.6" height="0.6" fill="#091522"/><rect x="57.8" y="651.5" width="14.6" height="1.0" fill="#08131d"/><rect x="57.8" y="652.5" width="14.6" height="0.8" fill="#07160b"/><rect x="57.8" y="654.6" width="14.6" height="0.9" fill="#0c2815"/><rect x="57.8" y="656.3" width="14.6" height="0.9" fill="#0a2111"/><rect x="57.8" y="659.4" width="14.6" height="1.6" fill="#050a11"/><rect x="57.8" y="662.1" width="14.6" height="2.0" fill="#04090e"/><rect x="57.8" y="664.1" width="14.6" height="0.8" fill="#060e16"/><rect x="57.8" y="664.9" width="14.6" height="0.9" fill="#123a1e"/>
<rect x="72.4" y="602.2" width="14.6" height="1.6" fill="#091420"/><rect x="72.4" y="605.4" width="14.6" height="2.0" fill="#060e17"/><rect x="72.4" y="607.4" width="14.6" height="1.0" fill="#1b4063"/><rect x="72.4" y="609.4" width="14.6" height="0.9" fill="#07111a"/><rect x="72.4" y="610.3" width="14.6" height="1.0" fill="#08111b"/><rect x="72.4" y="611.3" width="14.6" height="2.0" fill="#11283f"/><rect x="72.4" y="613.3" width="14.6" height="0.9" fill="#173654"/><rect x="72.4" y="614.2" width="14.6" height="0.8" fill="#0c1c2c"/><rect x="72.4" y="615.9" width="14.6" height="0.6" fill="#07111b"/><rect x="72.4" y="618.1" width="14.6" height="0.6" fill="#173553"/><rect x="72.4" y="618.7" width="14.6" height="1.1" fill="#1a3e60"/><rect x="72.4" y="619.8" width="14.6" height="1.3" fill="#193b5c"/><rect x="72.4" y="621.1" width="14.6" height="1.3" fill="#163350"/><rect x="72.4" y="622.4" width="14.6" height="1.6" fill="#0c1c2c"/><rect x="72.4" y="625.6" width="14.6" height="1.6" fill="#0a1624"/><rect x="72.4" y="630.4" width="14.6" height="1.0" fill="#08111b"/><rect x="72.4" y="631.4" width="14.6" height="1.3" fill="#0c1b2a"/><rect x="72.4" y="632.7" width="14.6" height="0.6" fill="#051109"/><rect x="72.4" y="633.3" width="14.6" height="0.8" fill="#173553"/><rect x="72.4" y="634.1" width="14.6" height="1.0" fill="#08111b"/><rect x="72.4" y="635.1" width="14.6" height="0.9" fill="#10331a"/><rect x="72.4" y="636.0" width="14.6" height="2.0" fill="#07111b"/><rect x="72.4" y="638.0" width="14.6" height="0.6" fill="#132c46"/><rect x="72.4" y="638.6" width="14.6" height="0.6" fill="#0a1725"/><rect x="72.4" y="639.2" width="14.6" height="0.6" fill="#173655"/><rect x="72.4" y="639.8" width="14.6" height="0.8" fill="#11273d"/><rect x="72.4" y="640.6" width="14.6" height="1.6" fill="#0b1a29"/><rect x="72.4" y="642.2" width="14.6" height="1.6" fill="#15314d"/><rect x="72.4" y="643.8" width="14.6" height="1.0" fill="#133d20"/><rect x="72.4" y="644.8" width="14.6" height="1.1" fill="#204c75"/><rect x="72.4" y="645.9" width="14.6" height="0.8" fill="#081a0d"/><rect x="72.4" y="648.6" width="14.6" height="0.6" fill="#08131d"/><rect x="72.4" y="649.2" width="14.6" height="1.1" fill="#091420"/><rect x="72.4" y="650.9" width="14.6" height="0.6" fill="#04090e"/><rect x="72.4" y="651.5" width="14.6" height="1.0" fill="#173655"/><rect x="72.4" y="652.5" width="14.6" height="0.8" fill="#060e17"/><rect x="72.4" y="653.3" width="14.6" height="1.3" fill="#193b5c"/><rect x="72.4" y="654.6" width="14.6" height="0.9" fill="#0b2312"/><rect x="72.4" y="655.5" width="14.6" height="0.8" fill="#0a1826"/><rect x="72.4" y="657.8" width="14.6" height="1.6" fill="#16334f"/><rect x="72.4" y="659.4" width="14.6" height="1.6" fill="#1d4469"/><rect x="72.4" y="661.0" width="14.6" height="1.1" fill="#0c1a29"/><rect x="72.4" y="662.1" width="14.6" height="2.0" fill="#132d47"/><rect x="72.4" y="664.1" width="14.6" height="0.8" fill="#11263d"/><rect x="72.4" y="664.9" width="14.6" height="0.9" fill="#0f2236"/><rect x="72.4" y="665.8" width="14.6" height="1.2" fill="#193a5b"/>
<rect x="87.0" y="601.3" width="14.6" height="0.9" fill="#1d456a"/><rect x="87.0" y="602.2" width="14.6" height="1.6" fill="#1d456b"/><rect x="87.0" y="605.4" width="14.6" height="2.0" fill="#11263c"/><rect x="87.0" y="607.4" width="14.6" height="1.0" fill="#050b12"/><rect x="87.0" y="608.4" width="14.6" height="1.0" fill="#132b44"/><rect x="87.0" y="609.4" width="14.6" height="0.9" fill="#0d1d2e"/><rect x="87.0" y="610.3" width="14.6" height="1.0" fill="#0c1a2a"/><rect x="87.0" y="611.3" width="14.6" height="2.0" fill="#142e47"/><rect x="87.0" y="613.3" width="14.6" height="0.9" fill="#0e2033"/><rect x="87.0" y="614.2" width="14.6" height="0.8" fill="#081a0d"/><rect x="87.0" y="615.0" width="14.6" height="0.9" fill="#050c12"/><rect x="87.0" y="618.1" width="14.6" height="0.6" fill="#142f4a"/><rect x="87.0" y="618.7" width="14.6" height="1.1" fill="#11273e"/><rect x="87.0" y="619.8" width="14.6" height="1.3" fill="#193a5a"/><rect x="87.0" y="621.1" width="14.6" height="1.3" fill="#0a1724"/><rect x="87.0" y="622.4" width="14.6" height="1.6" fill="#08121d"/><rect x="87.0" y="625.6" width="14.6" height="1.6" fill="#0a1826"/><rect x="87.0" y="627.2" width="14.6" height="1.1" fill="#0a1725"/><rect x="87.0" y="628.3" width="14.6" height="1.3" fill="#11263c"/><rect x="87.0" y="629.6" width="14.6" height="0.8" fill="#102438"/><rect x="87.0" y="631.4" width="14.6" height="1.3" fill="#10253a"/><rect x="87.0" y="632.7" width="14.6" height="0.6" fill="#0b1927"/><rect x="87.0" y="633.3" width="14.6" height="0.8" fill="#23517c"/><rect x="87.0" y="635.1" width="14.6" height="0.9" fill="#11283f"/><rect x="87.0" y="638.0" width="14.6" height="0.6" fill="#1a3c5e"/><rect x="87.0" y="639.2" width="14.6" height="0.6" fill="#173653"/><rect x="87.0" y="639.8" width="14.6" height="0.8" fill="#15304b"/><rect x="87.0" y="642.2" width="14.6" height="1.6" fill="#214f79"/><rect x="87.0" y="644.8" width="14.6" height="1.1" fill="#23537f"/><rect x="87.0" y="645.9" width="14.6" height="0.8" fill="#173653"/><rect x="87.0" y="646.7" width="14.6" height="1.1" fill="#08121c"/><rect x="87.0" y="647.8" width="14.6" height="0.8" fill="#091522"/><rect x="87.0" y="648.6" width="14.6" height="0.6" fill="#1a3f61"/><rect x="87.0" y="649.2" width="14.6" height="1.1" fill="#0d1e30"/><rect x="87.0" y="650.3" width="14.6" height="0.6" fill="#09141f"/><rect x="87.0" y="650.9" width="14.6" height="0.6" fill="#11263c"/><rect x="87.0" y="651.5" width="14.6" height="1.0" fill="#173755"/><rect x="87.0" y="652.5" width="14.6" height="0.8" fill="#142e48"/><rect x="87.0" y="653.3" width="14.6" height="1.3" fill="#10253b"/><rect x="87.0" y="655.5" width="14.6" height="0.8" fill="#06130a"/><rect x="87.0" y="657.2" width="14.6" height="0.6" fill="#07111b"/><rect x="87.0" y="659.4" width="14.6" height="1.6" fill="#142f49"/><rect x="87.0" y="661.0" width="14.6" height="1.1" fill="#1a3e5f"/><rect x="87.0" y="662.1" width="14.6" height="2.0" fill="#1b4063"/><rect x="87.0" y="664.1" width="14.6" height="0.8" fill="#091521"/><rect x="87.0" y="664.9" width="14.6" height="0.9" fill="#11361c"/><rect x="87.0" y="665.8" width="14.6" height="1.2" fill="#1d456a"/>
<rect x="101.6" y="601.3" width="14.6" height="0.9" fill="#0d1d2d"/><rect x="101.6" y="602.2" width="14.6" height="1.6" fill="#0b1928"/><rect x="101.6" y="603.8" width="14.6" height="1.6" fill="#193b5c"/><rect x="101.6" y="605.4" width="14.6" height="2.0" fill="#183857"/><rect x="101.6" y="607.4" width="14.6" height="1.0" fill="#173653"/><rect x="101.6" y="608.4" width="14.6" height="1.0" fill="#060e16"/><rect x="101.6" y="609.4" width="14.6" height="0.9" fill="#183857"/><rect x="101.6" y="610.3" width="14.6" height="1.0" fill="#1c4368"/><rect x="101.6" y="611.3" width="14.6" height="2.0" fill="#23537f"/><rect x="101.6" y="613.3" width="14.6" height="0.9" fill="#132b44"/><rect x="101.6" y="614.2" width="14.6" height="0.8" fill="#15304b"/><rect x="101.6" y="615.0" width="14.6" height="0.9" fill="#183756"/><rect x="101.6" y="615.9" width="14.6" height="0.6" fill="#102439"/><rect x="101.6" y="618.1" width="14.6" height="0.6" fill="#15304b"/><rect x="101.6" y="618.7" width="14.6" height="1.1" fill="#132b44"/><rect x="101.6" y="619.8" width="14.6" height="1.3" fill="#1b4063"/><rect x="101.6" y="621.1" width="14.6" height="1.3" fill="#15324e"/><rect x="101.6" y="622.4" width="14.6" height="1.6" fill="#1e476d"/><rect x="101.6" y="624.0" width="14.6" height="1.6" fill="#142f49"/><rect x="101.6" y="625.6" width="14.6" height="1.6" fill="#0e2033"/><rect x="101.6" y="627.2" width="14.6" height="1.1" fill="#2c6498"/><rect x="101.6" y="628.3" width="14.6" height="1.3" fill="#060d14"/><rect x="101.6" y="629.6" width="14.6" height="0.8" fill="#0f2135"/><rect x="101.6" y="630.4" width="14.6" height="1.0" fill="#0d1e30"/><rect x="101.6" y="631.4" width="14.6" height="1.3" fill="#11273e"/><rect x="101.6" y="632.7" width="14.6" height="0.6" fill="#245581"/><rect x="101.6" y="633.3" width="14.6" height="0.8" fill="#265785"/><rect x="101.6" y="635.1" width="14.6" height="0.9" fill="#193a5b"/><rect x="101.6" y="636.0" width="14.6" height="2.0" fill="#122840"/><rect x="101.6" y="638.0" width="14.6" height="0.6" fill="#122940"/><rect x="101.6" y="639.2" width="14.6" height="1.4" fill="#0d1d2f"/><rect x="101.6" y="640.6" width="14.6" height="1.6" fill="#183a59"/><rect x="101.6" y="642.2" width="14.6" height="1.6" fill="#15324d"/><rect x="101.6" y="643.8" width="14.6" height="1.0" fill="#204d76"/><rect x="101.6" y="644.8" width="14.6" height="1.1" fill="#22517c"/><rect x="101.6" y="645.9" width="14.6" height="0.8" fill="#15324e"/><rect x="101.6" y="646.7" width="14.6" height="1.1" fill="#11263d"/><rect x="101.6" y="647.8" width="14.6" height="0.8" fill="#142f4a"/><rect x="101.6" y="648.6" width="14.6" height="0.6" fill="#142f49"/><rect x="101.6" y="649.2" width="14.6" height="1.1" fill="#0e2033"/><rect x="101.6" y="650.9" width="14.6" height="0.6" fill="#163452"/><rect x="101.6" y="651.5" width="14.6" height="1.0" fill="#214d76"/><rect x="101.6" y="652.5" width="14.6" height="0.8" fill="#0d1d2e"/><rect x="101.6" y="653.3" width="14.6" height="1.3" fill="#16334f"/><rect x="101.6" y="654.6" width="14.6" height="0.9" fill="#04090e"/><rect x="101.6" y="655.5" width="14.6" height="0.8" fill="#183857"/><rect x="101.6" y="656.3" width="14.6" height="0.9" fill="#163452"/><rect x="101.6" y="657.2" width="14.6" height="0.6" fill="#15304b"/><rect x="101.6" y="657.8" width="14.6" height="1.6" fill="#1d456b"/><rect x="101.6" y="659.4" width="14.6" height="1.6" fill="#0e1f32"/><rect x="101.6" y="661.0" width="14.6" height="1.1" fill="#163451"/><rect x="101.6" y="662.1" width="14.6" height="2.0" fill="#122840"/><rect x="101.6" y="664.1" width="14.6" height="0.8" fill="#11263c"/><rect x="101.6" y="664.9" width="14.6" height="0.9" fill="#10263b"/><rect x="101.6" y="665.8" width="14.6" height="1.2" fill="#193b5c"/>
<rect x="116.2" y="607.4" width="14.6" height="1.0" fill="#122a42"/><rect x="116.2" y="609.4" width="14.6" height="0.9" fill="#07101a"/><rect x="116.2" y="610.3" width="14.6" height="1.0" fill="#07111a"/><rect x="116.2" y="611.3" width="14.6" height="2.0" fill="#132c45"/><rect x="116.2" y="613.3" width="14.6" height="0.9" fill="#0c1b2b"/><rect x="116.2" y="615.0" width="14.6" height="0.9" fill="#08121d"/><rect x="116.2" y="618.1" width="14.6" height="0.6" fill="#0f2338"/><rect x="116.2" y="618.7" width="14.6" height="1.1" fill="#0d1c2d"/><rect x="116.2" y="621.1" width="14.6" height="1.3" fill="#08111c"/><rect x="116.2" y="622.4" width="14.6" height="1.6" fill="#0a1724"/><rect x="116.2" y="624.0" width="14.6" height="1.6" fill="#122a43"/><rect x="116.2" y="625.6" width="14.6" height="1.6" fill="#050b12"/><rect x="116.2" y="630.4" width="14.6" height="1.0" fill="#060e17"/><rect x="116.2" y="632.7" width="14.6" height="0.6" fill="#0c1b2b"/><rect x="116.2" y="633.3" width="14.6" height="0.8" fill="#0e2033"/><rect x="116.2" y="635.1" width="14.6" height="0.9" fill="#08131e"/><rect x="116.2" y="638.0" width="14.6" height="0.6" fill="#0b1927"/><rect x="116.2" y="639.8" width="14.6" height="0.8" fill="#08121d"/><rect x="116.2" y="643.8" width="14.6" height="1.0" fill="#070f18"/><rect x="116.2" y="644.8" width="14.6" height="1.9" fill="#091420"/><rect x="116.2" y="646.7" width="14.6" height="1.1" fill="#070f18"/><rect x="116.2" y="648.6" width="14.6" height="0.6" fill="#060e17"/><rect x="116.2" y="650.3" width="14.6" height="0.6" fill="#0d1d2e"/><rect x="116.2" y="650.9" width="14.6" height="0.6" fill="#0e2134"/><rect x="116.2" y="651.5" width="14.6" height="1.0" fill="#050c13"/><rect x="116.2" y="652.5" width="14.6" height="0.8" fill="#0a1623"/><rect x="116.2" y="654.6" width="14.6" height="0.9" fill="#091521"/><rect x="116.2" y="657.2" width="14.6" height="0.6" fill="#0e2033"/><rect x="116.2" y="659.4" width="14.6" height="1.6" fill="#091522"/><rect x="116.2" y="665.8" width="14.6" height="1.2" fill="#132c46"/>
<rect x="130.8" y="608.4" width="14.6" height="1.0" fill="#0b1a29"/><rect x="130.8" y="611.3" width="14.6" height="2.0" fill="#0c1a2a"/><rect x="130.8" y="613.3" width="14.6" height="0.9" fill="#0b1927"/><rect x="130.8" y="618.1" width="14.6" height="0.6" fill="#0f2337"/><rect x="130.8" y="618.7" width="14.6" height="1.1" fill="#102439"/><rect x="130.8" y="619.8" width="14.6" height="1.3" fill="#0a1725"/><rect x="130.8" y="621.1" width="14.6" height="1.3" fill="#0a1623"/><rect x="130.8" y="632.7" width="14.6" height="0.6" fill="#0e2033"/><rect x="130.8" y="635.1" width="14.6" height="0.9" fill="#060e16"/><rect x="130.8" y="638.0" width="14.6" height="0.6" fill="#08121c"/><rect x="130.8" y="644.8" width="14.6" height="1.1" fill="#060e16"/><rect x="130.8" y="648.6" width="14.6" height="0.6" fill="#0e1f31"/><rect x="130.8" y="652.5" width="14.6" height="0.8" fill="#0a1f10"/><rect x="130.8" y="659.4" width="14.6" height="1.6" fill="#0b1826"/><rect x="130.8" y="662.1" width="14.6" height="2.0" fill="#0c1c2c"/>
<rect x="28.60" y="601.30" width="43.80" height="1.00" fill="#a8d8a0" />
<rect x="72.40" y="666.00" width="43.80" height="1.00" fill="#7aa8d8" />
<rect x="28" y="601.30" width="1.8" height="65.70" fill="#000"/>
<rect x="28.60" y="672.80" width="116.80" height="65.70" fill="#000"/>
<rect x="28.6" y="672.8" width="14.6" height="1.0" fill="#266a3a"/><rect x="28.6" y="673.8" width="14.6" height="0.6" fill="#205c32"/><rect x="28.6" y="674.4" width="14.6" height="1.0" fill="#194a28"/><rect x="28.6" y="675.4" width="14.6" height="1.0" fill="#12391d"/><rect x="28.6" y="676.4" width="14.6" height="2.0" fill="#276a3b"/><rect x="28.6" y="678.4" width="14.6" height="1.3" fill="#2a723e"/><rect x="28.6" y="679.7" width="14.6" height="1.3" fill="#246538"/><rect x="28.6" y="681.0" width="14.6" height="0.8" fill="#246437"/><rect x="28.6" y="681.8" width="14.6" height="1.1" fill="#236336"/><rect x="28.6" y="682.9" width="14.6" height="1.3" fill="#1e562f"/><rect x="28.6" y="684.2" width="14.6" height="1.1" fill="#286e3c"/><rect x="28.6" y="685.3" width="14.6" height="1.6" fill="#236236"/><rect x="28.6" y="686.9" width="14.6" height="1.6" fill="#308045"/><rect x="28.6" y="688.5" width="14.6" height="1.3" fill="#256638"/><rect x="28.6" y="689.8" width="14.6" height="1.3" fill="#29713e"/><rect x="28.6" y="691.1" width="14.6" height="0.9" fill="#246437"/><rect x="28.6" y="692.0" width="14.6" height="1.6" fill="#2e7a42"/><rect x="28.6" y="693.6" width="14.6" height="1.3" fill="#225f34"/><rect x="28.6" y="694.9" width="14.6" height="2.0" fill="#29713e"/><rect x="28.6" y="696.9" width="14.6" height="0.9" fill="#2e7b43"/><rect x="28.6" y="697.8" width="14.6" height="0.6" fill="#2a713e"/><rect x="28.6" y="698.4" width="14.6" height="2.0" fill="#2d7a42"/><rect x="28.6" y="700.4" width="14.6" height="0.8" fill="#1e572f"/><rect x="28.6" y="701.2" width="14.6" height="2.0" fill="#1a4c29"/><rect x="28.6" y="703.2" width="14.6" height="0.9" fill="#236135"/><rect x="28.6" y="704.1" width="14.6" height="2.0" fill="#1c512c"/><rect x="28.6" y="706.1" width="14.6" height="0.9" fill="#286e3c"/><rect x="28.6" y="707.0" width="14.6" height="1.6" fill="#256839"/><rect x="28.6" y="708.6" width="14.6" height="1.3" fill="#26693a"/><rect x="28.6" y="709.9" width="14.6" height="1.3" fill="#2d7942"/><rect x="28.6" y="711.2" width="14.6" height="0.9" fill="#246437"/><rect x="28.6" y="712.1" width="14.6" height="1.3" fill="#2d7841"/><rect x="28.6" y="713.4" width="14.6" height="1.1" fill="#276b3b"/><rect x="28.6" y="714.5" width="14.6" height="1.6" fill="#215c32"/><rect x="28.6" y="716.1" width="14.6" height="2.0" fill="#2d7842"/><rect x="28.6" y="718.1" width="14.6" height="1.1" fill="#2e7b43"/><rect x="28.6" y="719.2" width="14.6" height="1.0" fill="#266a3a"/><rect x="28.6" y="720.2" width="14.6" height="0.9" fill="#276c3c"/><rect x="28.6" y="721.1" width="14.6" height="1.3" fill="#2a723f"/><rect x="28.6" y="722.4" width="14.6" height="1.0" fill="#184726"/><rect x="28.6" y="723.4" width="14.6" height="1.0" fill="#286c3c"/><rect x="28.6" y="724.4" width="14.6" height="1.3" fill="#256839"/><rect x="28.6" y="725.7" width="14.6" height="2.0" fill="#1e572f"/><rect x="28.6" y="727.7" width="14.6" height="1.3" fill="#286e3d"/><rect x="28.6" y="729.0" width="14.6" height="1.6" fill="#2d7942"/><rect x="28.6" y="730.6" width="14.6" height="1.1" fill="#286e3c"/><rect x="28.6" y="731.7" width="14.6" height="1.3" fill="#276b3b"/><rect x="28.6" y="733.0" width="14.6" height="2.0" fill="#296f3d"/><rect x="28.6" y="735.0" width="14.6" height="1.0" fill="#266839"/><rect x="28.6" y="736.0" width="14.6" height="2.0" fill="#2a723f"/><rect x="28.6" y="738.0" width="14.6" height="0.5" fill="#2f7d44"/>
<rect x="43.2" y="672.8" width="14.6" height="1.0" fill="#040a10"/><rect x="43.2" y="673.8" width="14.6" height="0.6" fill="#0a2211"/><rect x="43.2" y="675.4" width="14.6" height="1.0" fill="#07150b"/><rect x="43.2" y="676.4" width="14.6" height="2.0" fill="#0c2714"/><rect x="43.2" y="678.4" width="14.6" height="1.3" fill="#0c2614"/><rect x="43.2" y="679.7" width="14.6" height="1.3" fill="#060e16"/><rect x="43.2" y="681.8" width="14.6" height="1.1" fill="#0e2d17"/><rect x="43.2" y="682.9" width="14.6" height="1.3" fill="#081a0e"/><rect x="43.2" y="684.2" width="14.6" height="1.1" fill="#03060a"/><rect x="43.2" y="685.3" width="14.6" height="1.6" fill="#03080c"/><rect x="43.2" y="686.9" width="14.6" height="1.6" fill="#050b12"/><rect x="43.2" y="689.8" width="14.6" height="1.3" fill="#08180d"/><rect x="43.2" y="691.1" width="14.6" height="0.9" fill="#11351c"/><rect x="43.2" y="696.9" width="14.6" height="0.9" fill="#0a1724"/><rect x="43.2" y="697.8" width="14.6" height="0.6" fill="#0c2613"/><rect x="43.2" y="698.4" width="14.6" height="2.0" fill="#123b1f"/><rect x="43.2" y="708.6" width="14.6" height="1.3" fill="#06140a"/><rect x="43.2" y="712.1" width="14.6" height="1.3" fill="#08180d"/><rect x="43.2" y="714.5" width="14.6" height="1.6" fill="#04090e"/><rect x="43.2" y="716.1" width="14.6" height="2.0" fill="#070f18"/><rect x="43.2" y="718.1" width="14.6" height="1.1" fill="#050c13"/><rect x="43.2" y="722.4" width="14.6" height="1.0" fill="#050a11"/><rect x="43.2" y="724.4" width="14.6" height="1.3" fill="#0a2211"/><rect x="43.2" y="727.7" width="14.6" height="1.3" fill="#091d0f"/><rect x="43.2" y="729.0" width="14.6" height="1.6" fill="#0a2011"/><rect x="43.2" y="730.6" width="14.6" height="1.1" fill="#0b2412"/><rect x="43.2" y="731.7" width="14.6" height="1.3" fill="#07160b"/><rect x="43.2" y="733.0" width="14.6" height="2.0" fill="#06140b"/><rect x="43.2" y="736.0" width="14.6" height="2.0" fill="#0b2412"/>
<rect x="57.8" y="672.8" width="14.6" height="1.0" fill="#133c1f"/><rect x="57.8" y="674.4" width="14.6" height="1.0" fill="#03060a"/><rect x="57.8" y="678.4" width="14.6" height="1.3" fill="#081a0e"/><rect x="57.8" y="679.7" width="14.6" height="1.3" fill="#07160b"/><rect x="57.8" y="681.0" width="14.6" height="0.8" fill="#10331b"/><rect x="57.8" y="681.8" width="14.6" height="1.1" fill="#0a2010"/><rect x="57.8" y="682.9" width="14.6" height="1.3" fill="#0e2e18"/><rect x="57.8" y="685.3" width="14.6" height="1.6" fill="#0b2413"/><rect x="57.8" y="688.5" width="14.6" height="1.3" fill="#050a11"/><rect x="57.8" y="691.1" width="14.6" height="0.9" fill="#070f18"/><rect x="57.8" y="692.0" width="14.6" height="1.6" fill="#0e2f18"/><rect x="57.8" y="693.6" width="14.6" height="1.3" fill="#050c13"/><rect x="57.8" y="694.9" width="14.6" height="2.0" fill="#04090e"/><rect x="57.8" y="696.9" width="14.6" height="0.9" fill="#07111a"/><rect x="57.8" y="697.8" width="14.6" height="0.6" fill="#0f2f18"/><rect x="57.8" y="698.4" width="14.6" height="2.0" fill="#07170c"/><rect x="57.8" y="700.4" width="14.6" height="0.8" fill="#060e16"/><rect x="57.8" y="704.1" width="14.6" height="2.0" fill="#040e07"/><rect x="57.8" y="706.1" width="14.6" height="0.9" fill="#07101a"/><rect x="57.8" y="709.9" width="14.6" height="1.3" fill="#060d15"/><rect x="57.8" y="712.1" width="14.6" height="1.3" fill="#060e17"/><rect x="57.8" y="714.5" width="14.6" height="1.6" fill="#050f08"/><rect x="57.8" y="716.1" width="14.6" height="2.0" fill="#08111c"/><rect x="57.8" y="720.2" width="14.6" height="0.9" fill="#070f18"/><rect x="57.8" y="722.4" width="14.6" height="1.0" fill="#11361c"/><rect x="57.8" y="723.4" width="14.6" height="1.0" fill="#04090e"/><rect x="57.8" y="725.7" width="14.6" height="1.0" fill="#04090e"/><rect x="57.8" y="729.0" width="14.6" height="1.6" fill="#144021"/><rect x="57.8" y="731.7" width="14.6" height="1.3" fill="#03070b"/><rect x="57.8" y="733.0" width="14.6" height="2.0" fill="#07160b"/><rect x="57.8" y="735.0" width="14.6" height="1.0" fill="#04090e"/><rect x="57.8" y="736.0" width="14.6" height="2.0" fill="#174625"/>
<rect x="72.4" y="673.8" width="14.6" height="0.6" fill="#060e17"/><rect x="72.4" y="675.4" width="14.6" height="1.0" fill="#050f08"/><rect x="72.4" y="678.4" width="14.6" height="1.3" fill="#091d0f"/><rect x="72.4" y="681.0" width="14.6" height="0.8" fill="#10321a"/><rect x="72.4" y="681.8" width="14.6" height="1.1" fill="#0a2111"/><rect x="72.4" y="682.9" width="14.6" height="1.3" fill="#0d2815"/><rect x="72.4" y="684.2" width="14.6" height="1.1" fill="#040a10"/><rect x="72.4" y="685.3" width="14.6" height="1.6" fill="#070f18"/><rect x="72.4" y="686.9" width="14.6" height="1.6" fill="#144021"/><rect x="72.4" y="688.5" width="14.6" height="1.3" fill="#154122"/><rect x="72.4" y="689.8" width="14.6" height="1.3" fill="#070f18"/><rect x="72.4" y="691.1" width="14.6" height="0.9" fill="#050c12"/><rect x="72.4" y="696.9" width="14.6" height="0.9" fill="#060e16"/><rect x="72.4" y="697.8" width="14.6" height="0.6" fill="#050b11"/><rect x="72.4" y="701.2" width="14.6" height="2.0" fill="#051008"/><rect x="72.4" y="704.1" width="14.6" height="2.0" fill="#0a2010"/><rect x="72.4" y="707.0" width="14.6" height="1.6" fill="#050b12"/><rect x="72.4" y="708.6" width="14.6" height="1.3" fill="#060e16"/><rect x="72.4" y="711.2" width="14.6" height="0.9" fill="#050c13"/><rect x="72.4" y="712.1" width="14.6" height="1.3" fill="#0e2134"/><rect x="72.4" y="719.2" width="14.6" height="1.0" fill="#07170c"/><rect x="72.4" y="720.2" width="14.6" height="0.9" fill="#0e2e18"/><rect x="72.4" y="722.4" width="14.6" height="1.0" fill="#06140a"/><rect x="72.4" y="724.4" width="14.6" height="1.3" fill="#07150b"/><rect x="72.4" y="725.7" width="14.6" height="1.0" fill="#04090e"/><rect x="72.4" y="730.6" width="14.6" height="1.1" fill="#091f10"/><rect x="72.4" y="731.7" width="14.6" height="1.3" fill="#050b12"/><rect x="72.4" y="735.0" width="14.6" height="1.0" fill="#040c06"/><rect x="72.4" y="736.0" width="14.6" height="2.0" fill="#133d20"/><rect x="72.4" y="738.0" width="14.6" height="0.5" fill="#071019"/>
<rect x="87.0" y="672.8" width="14.6" height="1.0" fill="#0c1b2b"/><rect x="87.0" y="673.8" width="14.6" height="0.6" fill="#0a2111"/><rect x="87.0" y="675.4" width="14.6" height="1.0" fill="#0a1725"/><rect x="87.0" y="676.4" width="14.6" height="2.0" fill="#0d2815"/><rect x="87.0" y="679.7" width="14.6" height="1.3" fill="#081b0e"/><rect x="87.0" y="681.8" width="14.6" height="1.1" fill="#06140b"/><rect x="87.0" y="682.9" width="14.6" height="1.3" fill="#051109"/><rect x="87.0" y="684.2" width="14.6" height="1.1" fill="#0c2614"/><rect x="87.0" y="686.9" width="14.6" height="1.6" fill="#091d0f"/><rect x="87.0" y="688.5" width="14.6" height="1.3" fill="#0a1624"/><rect x="87.0" y="691.1" width="14.6" height="0.9" fill="#050c13"/><rect x="87.0" y="693.6" width="14.6" height="1.3" fill="#07160b"/><rect x="87.0" y="696.9" width="14.6" height="0.9" fill="#0b2413"/><rect x="87.0" y="697.8" width="14.6" height="0.6" fill="#070f18"/><rect x="87.0" y="698.4" width="14.6" height="2.0" fill="#0d2915"/><rect x="87.0" y="700.4" width="14.6" height="0.8" fill="#040a10"/><rect x="87.0" y="701.2" width="14.6" height="2.0" fill="#07170c"/><rect x="87.0" y="707.0" width="14.6" height="1.6" fill="#04090e"/><rect x="87.0" y="708.6" width="14.6" height="1.3" fill="#08190d"/><rect x="87.0" y="709.9" width="14.6" height="1.3" fill="#081b0e"/><rect x="87.0" y="718.1" width="14.6" height="1.1" fill="#0f3119"/><rect x="87.0" y="719.2" width="14.6" height="1.0" fill="#060d15"/><rect x="87.0" y="730.6" width="14.6" height="1.1" fill="#0f2f18"/><rect x="87.0" y="733.0" width="14.6" height="2.0" fill="#07180c"/><rect x="87.0" y="735.0" width="14.6" height="1.0" fill="#091d0f"/><rect x="87.0" y="736.0" width="14.6" height="2.0" fill="#0f2236"/>
<rect x="101.6" y="682.9" width="14.6" height="1.3" fill="#0b2312"/><rect x="101.6" y="686.9" width="14.6" height="1.6" fill="#143f21"/><rect x="101.6" y="688.5" width="14.6" height="1.3" fill="#040a10"/><rect x="101.6" y="696.9" width="14.6" height="0.9" fill="#0d2915"/><rect x="101.6" y="704.1" width="14.6" height="2.0" fill="#050f08"/><rect x="101.6" y="708.6" width="14.6" height="1.3" fill="#04090f"/><rect x="101.6" y="716.1" width="14.6" height="2.0" fill="#081a0e"/><rect x="101.6" y="719.2" width="14.6" height="1.0" fill="#051008"/><rect x="101.6" y="722.4" width="14.6" height="1.0" fill="#071019"/><rect x="101.6" y="730.6" width="14.6" height="1.1" fill="#07101a"/><rect x="101.6" y="736.0" width="14.6" height="2.0" fill="#060f17"/>
<rect x="116.2" y="682.9" width="14.6" height="1.3" fill="#0b2413"/><rect x="116.2" y="733.0" width="14.6" height="2.0" fill="#0a1f10"/><rect x="116.2" y="736.0" width="14.6" height="2.0" fill="#051109"/>
<rect x="130.8" y="685.3" width="14.6" height="1.6" fill="#07180c"/><rect x="130.8" y="696.9" width="14.6" height="0.9" fill="#0b2312"/><rect x="130.8" y="700.4" width="14.6" height="0.8" fill="#08190d"/><rect x="130.8" y="708.6" width="14.6" height="1.3" fill="#07160b"/><rect x="130.8" y="731.7" width="14.6" height="1.3" fill="#0a1f10"/><rect x="130.8" y="736.0" width="14.6" height="2.0" fill="#051109"/>
<rect x="28" y="672.80" width="1.8" height="65.70" fill="#000"/>
<rect x="28.60" y="744.30" width="116.80" height="65.70" fill="#000"/>
<rect x="28.6" y="744.3" width="14.6" height="0.9" fill="#5cb366"/><rect x="28.6" y="745.2" width="14.6" height="0.9" fill="#2f7d44"/><rect x="28.6" y="746.1" width="14.6" height="1.6" fill="#38914d"/><rect x="28.6" y="747.7" width="14.6" height="0.9" fill="#54ad61"/><rect x="28.6" y="748.6" width="14.6" height="1.6" fill="#358b4b"/><rect x="28.6" y="750.2" width="14.6" height="0.6" fill="#348849"/><rect x="28.6" y="750.8" width="14.6" height="2.0" fill="#a5daa2"/><rect x="28.6" y="752.8" width="14.6" height="0.9" fill="#358a4a"/><rect x="28.6" y="753.7" width="14.6" height="1.6" fill="#4ba65b"/><rect x="28.6" y="755.3" width="14.6" height="0.8" fill="#69be6e"/><rect x="28.6" y="756.1" width="14.6" height="1.6" fill="#7dc87f"/><rect x="28.6" y="757.7" width="14.6" height="1.6" fill="#328447"/><rect x="28.6" y="759.3" width="14.6" height="0.9" fill="#2d7942"/><rect x="28.6" y="760.2" width="14.6" height="1.0" fill="#38914e"/><rect x="28.6" y="761.2" width="14.6" height="1.6" fill="#4da75c"/><rect x="28.6" y="762.8" width="14.6" height="1.1" fill="#5eb567"/><rect x="28.6" y="763.9" width="14.6" height="2.0" fill="#2e7b43"/><rect x="28.6" y="765.9" width="14.6" height="1.0" fill="#318146"/><rect x="28.6" y="766.9" width="14.6" height="1.0" fill="#338548"/><rect x="28.6" y="767.9" width="14.6" height="1.3" fill="#338749"/><rect x="28.6" y="769.2" width="14.6" height="1.6" fill="#c8ebc2"/><rect x="28.6" y="770.8" width="14.6" height="1.1" fill="#3a9650"/><rect x="28.6" y="771.9" width="14.6" height="1.6" fill="#46a258"/><rect x="28.6" y="773.5" width="14.6" height="0.9" fill="#338548"/><rect x="28.6" y="774.4" width="14.6" height="2.0" fill="#5ab265"/><rect x="28.6" y="776.4" width="14.6" height="0.9" fill="#77c579"/><rect x="28.6" y="777.3" width="14.6" height="2.0" fill="#61b869"/><rect x="28.6" y="779.3" width="14.6" height="1.1" fill="#2c7741"/><rect x="28.6" y="780.4" width="14.6" height="0.8" fill="#7ac77d"/><rect x="28.6" y="781.2" width="14.6" height="1.1" fill="#54ad61"/><rect x="28.6" y="782.3" width="14.6" height="1.6" fill="#64b96b"/><rect x="28.6" y="783.9" width="14.6" height="1.0" fill="#328447"/><rect x="28.6" y="784.9" width="14.6" height="1.0" fill="#85cc87"/><rect x="28.6" y="785.9" width="14.6" height="1.0" fill="#67bc6d"/><rect x="28.6" y="786.9" width="14.6" height="1.0" fill="#236236"/><rect x="28.6" y="787.9" width="14.6" height="1.6" fill="#b1e0ad"/><rect x="28.6" y="789.5" width="14.6" height="2.0" fill="#afdfab"/><rect x="28.6" y="791.5" width="14.6" height="0.9" fill="#addeaa"/><rect x="28.6" y="792.4" width="14.6" height="1.0" fill="#7ec880"/><rect x="28.6" y="793.4" width="14.6" height="2.0" fill="#2b743f"/><rect x="28.6" y="795.4" width="14.6" height="0.9" fill="#328447"/><rect x="28.6" y="796.3" width="14.6" height="0.6" fill="#7fc981"/><rect x="28.6" y="796.9" width="14.6" height="0.9" fill="#3b9851"/><rect x="28.6" y="797.8" width="14.6" height="0.8" fill="#94d394"/><rect x="28.6" y="798.6" width="14.6" height="1.3" fill="#2f7c43"/><rect x="28.6" y="799.9" width="14.6" height="1.0" fill="#4ba65c"/><rect x="28.6" y="800.9" width="14.6" height="0.6" fill="#368e4c"/><rect x="28.6" y="801.5" width="14.6" height="0.9" fill="#90d190"/><rect x="28.6" y="802.4" width="14.6" height="2.0" fill="#52ab60"/><rect x="28.6" y="804.4" width="14.6" height="1.0" fill="#74c477"/><rect x="28.6" y="805.4" width="14.6" height="0.6" fill="#38914e"/><rect x="28.6" y="806.0" width="14.6" height="0.9" fill="#addeaa"/><rect x="28.6" y="806.9" width="14.6" height="1.1" fill="#48a359"/><rect x="28.6" y="808.0" width="14.6" height="0.9" fill="#5eb567"/><rect x="28.6" y="808.9" width="14.6" height="0.8" fill="#83cb85"/><rect x="28.6" y="809.7" width="14.6" height="0.3" fill="#143e21"/>
<rect x="43.2" y="744.3" width="14.6" height="0.9" fill="#34894a"/><rect x="43.2" y="745.2" width="14.6" height="0.9" fill="#378f4d"/><rect x="43.2" y="746.1" width="14.6" height="1.6" fill="#123a1e"/><rect x="43.2" y="747.7" width="14.6" height="0.9" fill="#205b32"/><rect x="43.2" y="750.2" width="14.6" height="0.6" fill="#419e55"/><rect x="43.2" y="750.8" width="14.6" height="2.0" fill="#38904d"/><rect x="43.2" y="752.8" width="14.6" height="0.9" fill="#246538"/><rect x="43.2" y="753.7" width="14.6" height="1.6" fill="#286d3c"/><rect x="43.2" y="755.3" width="14.6" height="0.8" fill="#3a954f"/><rect x="43.2" y="756.1" width="14.6" height="1.6" fill="#296f3d"/><rect x="43.2" y="757.7" width="14.6" height="1.6" fill="#419e55"/><rect x="43.2" y="759.3" width="14.6" height="0.9" fill="#3e9b53"/><rect x="43.2" y="760.2" width="14.6" height="1.0" fill="#439f56"/><rect x="43.2" y="761.2" width="14.6" height="1.6" fill="#62b86a"/><rect x="43.2" y="762.8" width="14.6" height="1.1" fill="#38924e"/><rect x="43.2" y="763.9" width="14.6" height="2.0" fill="#091e0f"/><rect x="43.2" y="765.9" width="14.6" height="1.0" fill="#256638"/><rect x="43.2" y="766.9" width="14.6" height="1.0" fill="#215e33"/><rect x="43.2" y="767.9" width="14.6" height="1.3" fill="#43a057"/><rect x="43.2" y="769.2" width="14.6" height="1.6" fill="#368c4b"/><rect x="43.2" y="770.8" width="14.6" height="1.1" fill="#43a057"/><rect x="43.2" y="771.9" width="14.6" height="1.6" fill="#2f7d44"/><rect x="43.2" y="773.5" width="14.6" height="0.9" fill="#0a2111"/><rect x="43.2" y="774.4" width="14.6" height="2.0" fill="#58b063"/><rect x="43.2" y="776.4" width="14.6" height="0.9" fill="#307e44"/><rect x="43.2" y="777.3" width="14.6" height="2.0" fill="#378e4c"/><rect x="43.2" y="779.3" width="14.6" height="1.1" fill="#4aa55b"/><rect x="43.2" y="780.4" width="14.6" height="0.8" fill="#184826"/><rect x="43.2" y="781.2" width="14.6" height="1.1" fill="#226135"/><rect x="43.2" y="782.3" width="14.6" height="1.6" fill="#2c7741"/><rect x="43.2" y="783.9" width="14.6" height="1.0" fill="#1d542e"/><rect x="43.2" y="784.9" width="14.6" height="1.0" fill="#2a723e"/><rect x="43.2" y="785.9" width="14.6" height="1.0" fill="#256638"/><rect x="43.2" y="786.9" width="14.6" height="1.0" fill="#2a723f"/><rect x="43.2" y="787.9" width="14.6" height="1.6" fill="#5ab265"/><rect x="43.2" y="789.5" width="14.6" height="2.0" fill="#46a258"/><rect x="43.2" y="791.5" width="14.6" height="0.9" fill="#307e44"/><rect x="43.2" y="792.4" width="14.6" height="1.0" fill="#46a258"/><rect x="43.2" y="793.4" width="14.6" height="2.0" fill="#2f7c44"/><rect x="43.2" y="795.4" width="14.6" height="0.9" fill="#5fb568"/><rect x="43.2" y="796.3" width="14.6" height="0.6" fill="#45a158"/><rect x="43.2" y="796.9" width="14.6" height="0.9" fill="#2c7741"/><rect x="43.2" y="797.8" width="14.6" height="0.8" fill="#51ab5f"/><rect x="43.2" y="798.6" width="14.6" height="1.3" fill="#2d7841"/><rect x="43.2" y="799.9" width="14.6" height="1.0" fill="#409d54"/><rect x="43.2" y="800.9" width="14.6" height="0.6" fill="#184927"/><rect x="43.2" y="801.5" width="14.6" height="0.9" fill="#61b769"/><rect x="43.2" y="804.4" width="14.6" height="1.0" fill="#3b9851"/><rect x="43.2" y="805.4" width="14.6" height="0.6" fill="#4ea85d"/><rect x="43.2" y="806.0" width="14.6" height="0.9" fill="#5db467"/><rect x="43.2" y="806.9" width="14.6" height="1.1" fill="#419e55"/><rect x="43.2" y="808.0" width="14.6" height="0.9" fill="#2d7942"/><rect x="43.2" y="808.9" width="14.6" height="0.8" fill="#46a258"/><rect x="43.2" y="809.7" width="14.6" height="0.3" fill="#1a4c29"/>
<rect x="57.8" y="744.3" width="14.6" height="0.9" fill="#10331a"/><rect x="57.8" y="745.2" width="14.6" height="0.9" fill="#368c4b"/><rect x="57.8" y="746.1" width="14.6" height="1.6" fill="#2a733f"/><rect x="57.8" y="747.7" width="14.6" height="0.9" fill="#3b9751"/><rect x="57.8" y="748.6" width="14.6" height="1.6" fill="#1e572f"/><rect x="57.8" y="750.2" width="14.6" height="0.6" fill="#184826"/><rect x="57.8" y="750.8" width="14.6" height="2.0" fill="#2d7942"/><rect x="57.8" y="752.8" width="14.6" height="0.9" fill="#1c512b"/><rect x="57.8" y="753.7" width="14.6" height="1.6" fill="#2b743f"/><rect x="57.8" y="755.3" width="14.6" height="0.8" fill="#256638"/><rect x="57.8" y="756.1" width="14.6" height="1.6" fill="#2d7841"/><rect x="57.8" y="757.7" width="14.6" height="1.6" fill="#3b9750"/><rect x="57.8" y="759.3" width="14.6" height="0.9" fill="#429f56"/><rect x="57.8" y="760.2" width="14.6" height="1.0" fill="#34894a"/><rect x="57.8" y="761.2" width="14.6" height="1.6" fill="#256638"/><rect x="57.8" y="762.8" width="14.6" height="1.1" fill="#46a259"/><rect x="57.8" y="763.9" width="14.6" height="2.0" fill="#1b502b"/><rect x="57.8" y="765.9" width="14.6" height="1.0" fill="#328447"/><rect x="57.8" y="766.9" width="14.6" height="1.0" fill="#0f3119"/><rect x="57.8" y="767.9" width="14.6" height="1.3" fill="#256638"/><rect x="57.8" y="769.2" width="14.6" height="1.6" fill="#338648"/><rect x="57.8" y="770.8" width="14.6" height="1.1" fill="#2a723f"/><rect x="57.8" y="771.9" width="14.6" height="1.6" fill="#1d532d"/><rect x="57.8" y="773.5" width="14.6" height="0.9" fill="#2f7c43"/><rect x="57.8" y="774.4" width="14.6" height="2.0" fill="#215d33"/><rect x="57.8" y="776.4" width="14.6" height="0.9" fill="#3c9a52"/><rect x="57.8" y="777.3" width="14.6" height="2.0" fill="#276b3b"/><rect x="57.8" y="779.3" width="14.6" height="1.1" fill="#39934e"/><rect x="57.8" y="780.4" width="14.6" height="0.8" fill="#286e3c"/><rect x="57.8" y="781.2" width="14.6" height="1.1" fill="#1a4e2a"/><rect x="57.8" y="782.3" width="14.6" height="1.6" fill="#429f56"/><rect x="57.8" y="784.9" width="14.6" height="1.0" fill="#1e572f"/><rect x="57.8" y="785.9" width="14.6" height="1.0" fill="#0a2111"/><rect x="57.8" y="786.9" width="14.6" height="1.0" fill="#378f4d"/><rect x="57.8" y="787.9" width="14.6" height="1.6" fill="#72c375"/><rect x="57.8" y="789.5" width="14.6" height="2.0" fill="#307e44"/><rect x="57.8" y="791.5" width="14.6" height="0.9" fill="#1a4d29"/><rect x="57.8" y="792.4" width="14.6" height="1.0" fill="#154022"/><rect x="57.8" y="793.4" width="14.6" height="2.0" fill="#12391d"/><rect x="57.8" y="795.4" width="14.6" height="0.9" fill="#307f45"/><rect x="57.8" y="796.3" width="14.6" height="0.6" fill="#4ea85d"/><rect x="57.8" y="796.9" width="14.6" height="0.9" fill="#1f5930"/><rect x="57.8" y="797.8" width="14.6" height="0.8" fill="#348949"/><rect x="57.8" y="798.6" width="14.6" height="1.3" fill="#1e562e"/><rect x="57.8" y="799.9" width="14.6" height="1.0" fill="#368d4c"/><rect x="57.8" y="800.9" width="14.6" height="0.6" fill="#276a3b"/><rect x="57.8" y="801.5" width="14.6" height="0.9" fill="#409d55"/><rect x="57.8" y="802.4" width="14.6" height="2.0" fill="#34894a"/><rect x="57.8" y="804.4" width="14.6" height="1.0" fill="#307e44"/><rect x="57.8" y="805.4" width="14.6" height="0.6" fill="#2c7640"/><rect x="57.8" y="806.0" width="14.6" height="0.9" fill="#2c7641"/><rect x="57.8" y="806.9" width="14.6" height="1.1" fill="#10321a"/><rect x="57.8" y="808.0" width="14.6" height="0.9" fill="#194a27"/><rect x="57.8" y="808.9" width="14.6" height="0.8" fill="#439f56"/><rect x="57.8" y="809.7" width="14.6" height="0.3" fill="#1f5930"/>
<rect x="72.4" y="744.3" width="14.6" height="0.9" fill="#338648"/><rect x="72.4" y="745.2" width="14.6" height="0.9" fill="#236336"/><rect x="72.4" y="746.1" width="14.6" height="1.6" fill="#38904d"/><rect x="72.4" y="747.7" width="14.6" height="0.9" fill="#368c4b"/><rect x="72.4" y="748.6" width="14.6" height="1.6" fill="#1c522c"/><rect x="72.4" y="750.2" width="14.6" height="0.6" fill="#4ea85d"/><rect x="72.4" y="750.8" width="14.6" height="2.0" fill="#78c67b"/><rect x="72.4" y="752.8" width="14.6" height="0.9" fill="#225f34"/><rect x="72.4" y="753.7" width="14.6" height="1.6" fill="#276b3b"/><rect x="72.4" y="755.3" width="14.6" height="0.8" fill="#1d552e"/><rect x="72.4" y="756.1" width="14.6" height="1.6" fill="#236236"/><rect x="72.4" y="757.7" width="14.6" height="1.6" fill="#0f3019"/><rect x="72.4" y="759.3" width="14.6" height="0.9" fill="#2e7b43"/><rect x="72.4" y="760.2" width="14.6" height="1.0" fill="#348849"/><rect x="72.4" y="761.2" width="14.6" height="1.6" fill="#3f9c54"/><rect x="72.4" y="762.8" width="14.6" height="1.1" fill="#48a359"/><rect x="72.4" y="763.9" width="14.6" height="2.0" fill="#0e2e18"/><rect x="72.4" y="765.9" width="14.6" height="1.0" fill="#123a1e"/><rect x="72.4" y="766.9" width="14.6" height="1.0" fill="#0d1e30"/><rect x="72.4" y="767.9" width="14.6" height="1.3" fill="#266a3a"/><rect x="72.4" y="769.2" width="14.6" height="1.6" fill="#225f34"/><rect x="72.4" y="770.8" width="14.6" height="1.1" fill="#43a057"/><rect x="72.4" y="771.9" width="14.6" height="1.6" fill="#286c3c"/><rect x="72.4" y="773.5" width="14.6" height="0.9" fill="#338648"/><rect x="72.4" y="774.4" width="14.6" height="2.0" fill="#091d0f"/><rect x="72.4" y="776.4" width="14.6" height="0.9" fill="#2e7c43"/><rect x="72.4" y="777.3" width="14.6" height="2.0" fill="#4ba65b"/><rect x="72.4" y="779.3" width="14.6" height="1.1" fill="#2f7d44"/><rect x="72.4" y="780.4" width="14.6" height="0.8" fill="#47a359"/><rect x="72.4" y="781.2" width="14.6" height="1.1" fill="#39934e"/><rect x="72.4" y="782.3" width="14.6" height="1.6" fill="#318246"/><rect x="72.4" y="784.9" width="14.6" height="1.0" fill="#43a056"/><rect x="72.4" y="785.9" width="14.6" height="1.0" fill="#205a31"/><rect x="72.4" y="786.9" width="14.6" height="1.0" fill="#3c9a52"/><rect x="72.4" y="787.9" width="14.6" height="1.6" fill="#66bc6d"/><rect x="72.4" y="789.5" width="14.6" height="2.0" fill="#296f3d"/><rect x="72.4" y="791.5" width="14.6" height="0.9" fill="#3a9750"/><rect x="72.4" y="792.4" width="14.6" height="1.0" fill="#236236"/><rect x="72.4" y="795.4" width="14.6" height="0.9" fill="#1d552e"/><rect x="72.4" y="796.3" width="14.6" height="0.6" fill="#5db467"/><rect x="72.4" y="796.9" width="14.6" height="0.9" fill="#3a9550"/><rect x="72.4" y="797.8" width="14.6" height="0.8" fill="#296f3d"/><rect x="72.4" y="798.6" width="14.6" height="1.3" fill="#318246"/><rect x="72.4" y="799.9" width="14.6" height="1.0" fill="#0f3119"/><rect x="72.4" y="800.9" width="14.6" height="0.6" fill="#256638"/><rect x="72.4" y="801.5" width="14.6" height="0.9" fill="#64b96b"/><rect x="72.4" y="802.4" width="14.6" height="2.0" fill="#66bc6d"/><rect x="72.4" y="804.4" width="14.6" height="1.0" fill="#328347"/><rect x="72.4" y="805.4" width="14.6" height="0.6" fill="#328447"/><rect x="72.4" y="806.0" width="14.6" height="0.9" fill="#38904d"/><rect x="72.4" y="806.9" width="14.6" height="1.1" fill="#39934f"/><rect x="72.4" y="808.0" width="14.6" height="0.9" fill="#4fa95e"/><rect x="72.4" y="809.7" width="14.6" height="0.3" fill="#0d2915"/>
<rect x="87.0" y="744.3" width="14.6" height="0.9" fill="#123b1e"/><rect x="87.0" y="745.2" width="14.6" height="0.9" fill="#1e552e"/><rect x="87.0" y="746.1" width="14.6" height="1.6" fill="#133c1f"/><rect x="87.0" y="747.7" width="14.6" height="2.5" fill="#133d20"/><rect x="87.0" y="750.2" width="14.6" height="0.6" fill="#0b2212"/><rect x="87.0" y="750.8" width="14.6" height="2.0" fill="#2e7b43"/><rect x="87.0" y="752.8" width="14.6" height="0.9" fill="#123b1f"/><rect x="87.0" y="753.7" width="14.6" height="1.6" fill="#050f08"/><rect x="87.0" y="755.3" width="14.6" height="0.8" fill="#11381d"/><rect x="87.0" y="756.1" width="14.6" height="1.6" fill="#2b7540"/><rect x="87.0" y="757.7" width="14.6" height="1.6" fill="#1e562f"/><rect x="87.0" y="759.3" width="14.6" height="0.9" fill="#10351b"/><rect x="87.0" y="760.2" width="14.6" height="1.0" fill="#266839"/><rect x="87.0" y="761.2" width="14.6" height="1.6" fill="#2e7a42"/><rect x="87.0" y="762.8" width="14.6" height="1.1" fill="#06130a"/><rect x="87.0" y="763.9" width="14.6" height="2.0" fill="#08190d"/><rect x="87.0" y="765.9" width="14.6" height="1.0" fill="#081a0d"/><rect x="87.0" y="766.9" width="14.6" height="1.0" fill="#164424"/><rect x="87.0" y="767.9" width="14.6" height="1.3" fill="#0b2312"/><rect x="87.0" y="769.2" width="14.6" height="1.6" fill="#194b28"/><rect x="87.0" y="771.9" width="14.6" height="1.6" fill="#0a2111"/><rect x="87.0" y="774.4" width="14.6" height="2.0" fill="#1b4f2a"/><rect x="87.0" y="776.4" width="14.6" height="0.9" fill="#133c1f"/><rect x="87.0" y="777.3" width="14.6" height="2.0" fill="#1e572f"/><rect x="87.0" y="779.3" width="14.6" height="1.1" fill="#1b502b"/><rect x="87.0" y="782.3" width="14.6" height="1.6" fill="#0e2c17"/><rect x="87.0" y="783.9" width="14.6" height="1.0" fill="#051209"/><rect x="87.0" y="784.9" width="14.6" height="1.0" fill="#2c7540"/><rect x="87.0" y="785.9" width="14.6" height="1.0" fill="#0c1b2c"/><rect x="87.0" y="786.9" width="14.6" height="1.0" fill="#0e2c17"/><rect x="87.0" y="787.9" width="14.6" height="1.6" fill="#2b7540"/><rect x="87.0" y="791.5" width="14.6" height="0.9" fill="#1a4d29"/><rect x="87.0" y="792.4" width="14.6" height="1.0" fill="#06130a"/><rect x="87.0" y="793.4" width="14.6" height="2.0" fill="#0f2135"/><rect x="87.0" y="795.4" width="14.6" height="0.9" fill="#286d3c"/><rect x="87.0" y="796.3" width="14.6" height="0.6" fill="#3a944f"/><rect x="87.0" y="796.9" width="14.6" height="0.9" fill="#225f34"/><rect x="87.0" y="797.8" width="14.6" height="0.8" fill="#225e34"/><rect x="87.0" y="799.9" width="14.6" height="1.0" fill="#246337"/><rect x="87.0" y="800.9" width="14.6" height="0.6" fill="#0e2d17"/><rect x="87.0" y="801.5" width="14.6" height="0.9" fill="#368d4c"/><rect x="87.0" y="802.4" width="14.6" height="2.0" fill="#1c532d"/><rect x="87.0" y="804.4" width="14.6" height="1.0" fill="#1f5830"/><rect x="87.0" y="805.4" width="14.6" height="0.6" fill="#1c522c"/><rect x="87.0" y="806.0" width="14.6" height="0.9" fill="#1f5830"/><rect x="87.0" y="806.9" width="14.6" height="1.1" fill="#276b3b"/><rect x="87.0" y="808.0" width="14.6" height="0.9" fill="#296f3d"/><rect x="87.0" y="809.7" width="14.6" height="0.3" fill="#11361c"/>
<rect x="101.6" y="750.2" width="14.6" height="0.6" fill="#184927"/><rect x="101.6" y="756.1" width="14.6" height="1.6" fill="#215d33"/><rect x="101.6" y="757.7" width="14.6" height="1.6" fill="#215e33"/><rect x="101.6" y="760.2" width="14.6" height="1.0" fill="#215c32"/><rect x="101.6" y="763.9" width="14.6" height="2.0" fill="#07160b"/><rect x="101.6" y="771.9" width="14.6" height="1.6" fill="#0c1b2c"/><rect x="101.6" y="782.3" width="14.6" height="1.6" fill="#0b2513"/><rect x="101.6" y="785.9" width="14.6" height="1.0" fill="#11361c"/><rect x="101.6" y="792.4" width="14.6" height="1.0" fill="#07160c"/><rect x="101.6" y="796.3" width="14.6" height="0.6" fill="#2a713e"/><rect x="101.6" y="796.9" width="14.6" height="0.9" fill="#133c1f"/><rect x="101.6" y="799.9" width="14.6" height="1.0" fill="#12391e"/><rect x="101.6" y="804.4" width="14.6" height="1.0" fill="#050c14"/><rect x="101.6" y="805.4" width="14.6" height="0.6" fill="#10331a"/><rect x="101.6" y="806.9" width="14.6" height="1.1" fill="#256638"/><rect x="101.6" y="808.0" width="14.6" height="0.9" fill="#215d33"/>
<rect x="116.2" y="747.7" width="14.6" height="0.9" fill="#1f5830"/><rect x="116.2" y="750.8" width="14.6" height="2.0" fill="#154223"/><rect x="116.2" y="755.3" width="14.6" height="2.4" fill="#133d20"/><rect x="116.2" y="760.2" width="14.6" height="1.0" fill="#051008"/><rect x="116.2" y="761.2" width="14.6" height="1.6" fill="#1b4f2b"/><rect x="116.2" y="766.9" width="14.6" height="1.0" fill="#060d15"/><rect x="116.2" y="769.2" width="14.6" height="1.6" fill="#246437"/><rect x="116.2" y="771.9" width="14.6" height="1.6" fill="#1e562f"/><rect x="116.2" y="782.3" width="14.6" height="1.6" fill="#226135"/><rect x="116.2" y="785.9" width="14.6" height="1.0" fill="#0d1e30"/><rect x="116.2" y="791.5" width="14.6" height="0.9" fill="#0c2614"/><rect x="116.2" y="797.8" width="14.6" height="0.8" fill="#133d1f"/><rect x="116.2" y="799.9" width="14.6" height="1.0" fill="#08131e"/><rect x="116.2" y="800.9" width="14.6" height="0.6" fill="#07150b"/><rect x="116.2" y="805.4" width="14.6" height="0.6" fill="#154022"/><rect x="116.2" y="809.7" width="14.6" height="0.3" fill="#10341b"/>
<rect x="130.8" y="746.1" width="14.6" height="1.6" fill="#11361c"/><rect x="130.8" y="755.3" width="14.6" height="0.8" fill="#10351b"/><rect x="130.8" y="757.7" width="14.6" height="1.6" fill="#06140a"/><rect x="130.8" y="761.2" width="14.6" height="1.6" fill="#215e33"/><rect x="130.8" y="763.9" width="14.6" height="2.0" fill="#0d2915"/><rect x="130.8" y="771.9" width="14.6" height="1.6" fill="#143e20"/><rect x="130.8" y="781.2" width="14.6" height="1.1" fill="#163350"/><rect x="130.8" y="786.9" width="14.6" height="1.0" fill="#0c2714"/><rect x="130.8" y="792.4" width="14.6" height="1.0" fill="#10253a"/><rect x="130.8" y="795.4" width="14.6" height="0.9" fill="#11361c"/><rect x="130.8" y="797.8" width="14.6" height="0.8" fill="#1b4f2a"/><rect x="130.8" y="799.9" width="14.6" height="1.0" fill="#144021"/><rect x="130.8" y="800.9" width="14.6" height="0.6" fill="#0e2c17"/><rect x="130.8" y="801.5" width="14.6" height="0.9" fill="#276c3c"/><rect x="130.8" y="804.4" width="14.6" height="1.0" fill="#1c512c"/><rect x="130.8" y="806.9" width="14.6" height="1.1" fill="#1f5830"/><rect x="130.8" y="809.7" width="14.6" height="0.3" fill="#07150b"/>
<rect x="28" y="744.30" width="1.8" height="65.70" fill="#000"/>
<rect x="28.60" y="815.80" width="116.80" height="65.70" fill="#000"/>
<rect x="28.6" y="815.8" width="14.6" height="2.0" fill="#193c5c"/><rect x="28.6" y="817.8" width="14.6" height="0.8" fill="#204d76"/><rect x="28.6" y="818.6" width="14.6" height="0.8" fill="#204c75"/><rect x="28.6" y="819.4" width="14.6" height="0.8" fill="#23527e"/><rect x="28.6" y="820.2" width="14.6" height="0.9" fill="#1b4164"/><rect x="28.6" y="821.1" width="14.6" height="1.0" fill="#1b3f62"/><rect x="28.6" y="822.1" width="14.6" height="0.9" fill="#1e476d"/><rect x="28.6" y="823.0" width="14.6" height="1.6" fill="#1c4368"/><rect x="28.6" y="824.6" width="14.6" height="3.0" fill="#204c75"/><rect x="28.6" y="827.6" width="14.6" height="1.1" fill="#1f4971"/><rect x="28.6" y="828.7" width="14.6" height="2.0" fill="#1d466c"/><rect x="28.6" y="830.7" width="14.6" height="1.1" fill="#183959"/><rect x="28.6" y="831.8" width="14.6" height="1.1" fill="#1d4469"/><rect x="28.6" y="832.9" width="14.6" height="2.0" fill="#1c4267"/><rect x="28.6" y="834.9" width="14.6" height="0.8" fill="#1d456a"/><rect x="28.6" y="835.7" width="14.6" height="0.8" fill="#183959"/><rect x="28.6" y="836.5" width="14.6" height="1.6" fill="#22507b"/><rect x="28.6" y="838.1" width="14.6" height="2.0" fill="#224f7a"/><rect x="28.6" y="840.1" width="14.6" height="2.0" fill="#23527d"/><rect x="28.6" y="842.1" width="14.6" height="0.8" fill="#1a3d5f"/><rect x="28.6" y="842.9" width="14.6" height="1.1" fill="#1d466b"/><rect x="28.6" y="844.0" width="14.6" height="1.0" fill="#23527d"/><rect x="28.6" y="845.0" width="14.6" height="1.6" fill="#1f4b73"/><rect x="28.6" y="846.6" width="14.6" height="0.8" fill="#1f4971"/><rect x="28.6" y="847.4" width="14.6" height="1.3" fill="#214f79"/><rect x="28.6" y="848.7" width="14.6" height="0.9" fill="#193c5d"/><rect x="28.6" y="849.6" width="14.6" height="1.0" fill="#214d76"/><rect x="28.6" y="850.6" width="14.6" height="2.0" fill="#245480"/><rect x="28.6" y="852.6" width="14.6" height="1.3" fill="#193a5a"/><rect x="28.6" y="853.9" width="14.6" height="0.6" fill="#1e466d"/><rect x="28.6" y="854.5" width="14.6" height="2.0" fill="#22517c"/><rect x="28.6" y="856.5" width="14.6" height="1.3" fill="#1c4367"/><rect x="28.6" y="857.8" width="14.6" height="1.6" fill="#1e486f"/><rect x="28.6" y="859.4" width="14.6" height="0.9" fill="#255684"/><rect x="28.6" y="860.3" width="14.6" height="1.1" fill="#1e466d"/><rect x="28.6" y="861.4" width="14.6" height="1.3" fill="#1f4b73"/><rect x="28.6" y="862.7" width="14.6" height="2.0" fill="#1e4870"/><rect x="28.6" y="864.7" width="14.6" height="1.6" fill="#173552"/><rect x="28.6" y="866.3" width="14.6" height="0.6" fill="#193a5a"/><rect x="28.6" y="866.9" width="14.6" height="0.6" fill="#1f4970"/><rect x="28.6" y="867.5" width="14.6" height="1.6" fill="#1a3d5e"/><rect x="28.6" y="869.1" width="14.6" height="1.1" fill="#1d466c"/><rect x="28.6" y="870.2" width="14.6" height="0.8" fill="#1d456a"/><rect x="28.6" y="871.0" width="14.6" height="0.9" fill="#1c4368"/><rect x="28.6" y="871.9" width="14.6" height="0.6" fill="#214e77"/><rect x="28.6" y="872.5" width="14.6" height="1.1" fill="#1f4b73"/><rect x="28.6" y="873.6" width="14.6" height="0.8" fill="#1b4164"/><rect x="28.6" y="874.4" width="14.6" height="1.6" fill="#1f4971"/><rect x="28.6" y="876.0" width="14.6" height="2.0" fill="#224f79"/><rect x="28.6" y="878.0" width="14.6" height="1.0" fill="#1a3d5f"/><rect x="28.6" y="879.0" width="14.6" height="1.1" fill="#1b4164"/><rect x="28.6" y="880.1" width="14.6" height="1.4" fill="#1d456a"/>
<rect x="43.2" y="815.8" width="14.6" height="2.0" fill="#08121c"/><rect x="43.2" y="817.8" width="14.6" height="0.8" fill="#0b1928"/><rect x="43.2" y="818.6" width="14.6" height="0.8" fill="#04090f"/><rect x="43.2" y="819.4" width="14.6" height="0.8" fill="#0e1f31"/><rect x="43.2" y="822.1" width="14.6" height="0.9" fill="#15314c"/><rect x="43.2" y="825.6" width="14.6" height="2.0" fill="#0d1e2f"/><rect x="43.2" y="827.6" width="14.6" height="1.1" fill="#060e16"/><rect x="43.2" y="828.7" width="14.6" height="2.0" fill="#0c1b2b"/><rect x="43.2" y="830.7" width="14.6" height="1.1" fill="#061209"/><rect x="43.2" y="831.8" width="14.6" height="1.1" fill="#122840"/><rect x="43.2" y="832.9" width="14.6" height="2.0" fill="#0b1826"/><rect x="43.2" y="835.7" width="14.6" height="0.8" fill="#08131e"/><rect x="43.2" y="836.5" width="14.6" height="1.6" fill="#0c1b2b"/><rect x="43.2" y="838.1" width="14.6" height="2.0" fill="#0c1c2d"/><rect x="43.2" y="840.1" width="14.6" height="2.0" fill="#11263c"/><rect x="43.2" y="844.0" width="14.6" height="1.0" fill="#10253a"/><rect x="43.2" y="848.7" width="14.6" height="0.9" fill="#0e1f31"/><rect x="43.2" y="849.6" width="14.6" height="1.0" fill="#11263c"/><rect x="43.2" y="852.6" width="14.6" height="1.3" fill="#08121d"/><rect x="43.2" y="853.9" width="14.6" height="0.6" fill="#091521"/><rect x="43.2" y="856.5" width="14.6" height="1.3" fill="#10263b"/><rect x="43.2" y="857.8" width="14.6" height="1.6" fill="#11273e"/><rect x="43.2" y="859.4" width="14.6" height="0.9" fill="#07111a"/><rect x="43.2" y="862.7" width="14.6" height="2.0" fill="#050b12"/><rect x="43.2" y="864.7" width="14.6" height="1.6" fill="#091522"/><rect x="43.2" y="866.9" width="14.6" height="0.6" fill="#07111b"/><rect x="43.2" y="867.5" width="14.6" height="1.6" fill="#16334f"/><rect x="43.2" y="869.1" width="14.6" height="1.1" fill="#11283f"/><rect x="43.2" y="870.2" width="14.6" height="0.8" fill="#142e49"/><rect x="43.2" y="871.0" width="14.6" height="0.9" fill="#0a1724"/><rect x="43.2" y="871.9" width="14.6" height="0.6" fill="#060d15"/><rect x="43.2" y="872.5" width="14.6" height="1.1" fill="#0f2236"/><rect x="43.2" y="873.6" width="14.6" height="0.8" fill="#0e1f31"/><rect x="43.2" y="876.0" width="14.6" height="2.0" fill="#070f18"/><rect x="43.2" y="880.1" width="14.6" height="1.4" fill="#08121c"/>
<rect x="57.8" y="815.8" width="14.6" height="2.0" fill="#12391e"/><rect x="57.8" y="817.8" width="14.6" height="0.8" fill="#0d2a16"/><rect x="57.8" y="819.4" width="14.6" height="0.8" fill="#194a27"/><rect x="57.8" y="821.1" width="14.6" height="1.0" fill="#164324"/><rect x="57.8" y="823.0" width="14.6" height="1.6" fill="#194927"/><rect x="57.8" y="824.6" width="14.6" height="1.0" fill="#154122"/><rect x="57.8" y="825.6" width="14.6" height="2.0" fill="#12391e"/><rect x="57.8" y="827.6" width="14.6" height="1.1" fill="#1b502b"/><rect x="57.8" y="828.7" width="14.6" height="2.0" fill="#0f2f18"/><rect x="57.8" y="831.8" width="14.6" height="1.1" fill="#133c1f"/><rect x="57.8" y="832.9" width="14.6" height="2.0" fill="#1d532d"/><rect x="57.8" y="835.7" width="14.6" height="0.8" fill="#1b4e2a"/><rect x="57.8" y="838.1" width="14.6" height="2.0" fill="#11361c"/><rect x="57.8" y="842.1" width="14.6" height="0.8" fill="#1a4c29"/><rect x="57.8" y="842.9" width="14.6" height="1.1" fill="#133b1f"/><rect x="57.8" y="844.0" width="14.6" height="1.0" fill="#07180c"/><rect x="57.8" y="846.6" width="14.6" height="2.1" fill="#07160b"/><rect x="57.8" y="848.7" width="14.6" height="0.9" fill="#11361c"/><rect x="57.8" y="849.6" width="14.6" height="1.0" fill="#081b0e"/><rect x="57.8" y="850.6" width="14.6" height="2.0" fill="#154122"/><rect x="57.8" y="852.6" width="14.6" height="1.3" fill="#1d542e"/><rect x="57.8" y="853.9" width="14.6" height="0.6" fill="#1a4c29"/><rect x="57.8" y="854.5" width="14.6" height="2.0" fill="#0a2111"/><rect x="57.8" y="857.8" width="14.6" height="1.6" fill="#154022"/><rect x="57.8" y="859.4" width="14.6" height="0.9" fill="#08190d"/><rect x="57.8" y="861.4" width="14.6" height="1.3" fill="#10331a"/><rect x="57.8" y="866.3" width="14.6" height="0.6" fill="#1c532d"/><rect x="57.8" y="866.9" width="14.6" height="0.6" fill="#194b28"/><rect x="57.8" y="867.5" width="14.6" height="1.6" fill="#143f21"/><rect x="57.8" y="869.1" width="14.6" height="1.1" fill="#11371d"/><rect x="57.8" y="871.0" width="14.6" height="0.9" fill="#1f5930"/><rect x="57.8" y="871.9" width="14.6" height="0.6" fill="#143e20"/><rect x="57.8" y="873.6" width="14.6" height="0.8" fill="#154022"/><rect x="57.8" y="876.0" width="14.6" height="2.0" fill="#0a1f10"/><rect x="57.8" y="879.0" width="14.6" height="1.1" fill="#060d15"/>
<rect x="72.4" y="815.8" width="14.6" height="2.0" fill="#226035"/><rect x="72.4" y="817.8" width="14.6" height="0.8" fill="#194927"/><rect x="72.4" y="819.4" width="14.6" height="0.8" fill="#06130a"/><rect x="72.4" y="821.1" width="14.6" height="1.0" fill="#1c512c"/><rect x="72.4" y="822.1" width="14.6" height="0.9" fill="#143f21"/><rect x="72.4" y="823.0" width="14.6" height="1.6" fill="#1b4e2a"/><rect x="72.4" y="824.6" width="14.6" height="1.0" fill="#215c32"/><rect x="72.4" y="825.6" width="14.6" height="2.0" fill="#205c32"/><rect x="72.4" y="827.6" width="14.6" height="1.1" fill="#2b733f"/><rect x="72.4" y="828.7" width="14.6" height="2.0" fill="#06130a"/><rect x="72.4" y="830.7" width="14.6" height="1.1" fill="#164424"/><rect x="72.4" y="831.8" width="14.6" height="1.1" fill="#1b4f2b"/><rect x="72.4" y="832.9" width="14.6" height="2.0" fill="#205c32"/><rect x="72.4" y="834.9" width="14.6" height="0.8" fill="#133d20"/><rect x="72.4" y="835.7" width="14.6" height="0.8" fill="#215c32"/><rect x="72.4" y="836.5" width="14.6" height="1.6" fill="#1d552e"/><rect x="72.4" y="838.1" width="14.6" height="2.0" fill="#0e2f18"/><rect x="72.4" y="840.1" width="14.6" height="2.0" fill="#205c32"/><rect x="72.4" y="842.1" width="14.6" height="0.8" fill="#1b4f2b"/><rect x="72.4" y="842.9" width="14.6" height="1.1" fill="#226034"/><rect x="72.4" y="844.0" width="14.6" height="1.0" fill="#0b2312"/><rect x="72.4" y="845.0" width="14.6" height="1.6" fill="#0e2d17"/><rect x="72.4" y="846.6" width="14.6" height="0.8" fill="#1a4d29"/><rect x="72.4" y="848.7" width="14.6" height="0.9" fill="#0f311a"/><rect x="72.4" y="849.6" width="14.6" height="1.0" fill="#1c522c"/><rect x="72.4" y="852.6" width="14.6" height="1.3" fill="#286d3c"/><rect x="72.4" y="853.9" width="14.6" height="0.6" fill="#11361c"/><rect x="72.4" y="854.5" width="14.6" height="2.0" fill="#0f2f19"/><rect x="72.4" y="856.5" width="14.6" height="1.3" fill="#1a4c29"/><rect x="72.4" y="857.8" width="14.6" height="1.6" fill="#1a4e2a"/><rect x="72.4" y="859.4" width="14.6" height="0.9" fill="#143f21"/><rect x="72.4" y="860.3" width="14.6" height="1.1" fill="#236236"/><rect x="72.4" y="862.7" width="14.6" height="2.0" fill="#1e572f"/><rect x="72.4" y="864.7" width="14.6" height="1.6" fill="#1a4c29"/><rect x="72.4" y="866.3" width="14.6" height="0.6" fill="#256739"/><rect x="72.4" y="866.9" width="14.6" height="0.6" fill="#236135"/><rect x="72.4" y="867.5" width="14.6" height="1.6" fill="#081a0d"/><rect x="72.4" y="869.1" width="14.6" height="1.1" fill="#154122"/><rect x="72.4" y="870.2" width="14.6" height="0.8" fill="#06130a"/><rect x="72.4" y="871.0" width="14.6" height="0.9" fill="#1e552e"/><rect x="72.4" y="871.9" width="14.6" height="0.6" fill="#0e2e18"/><rect x="72.4" y="872.5" width="14.6" height="1.1" fill="#236135"/><rect x="72.4" y="873.6" width="14.6" height="0.8" fill="#123a1e"/><rect x="72.4" y="874.4" width="14.6" height="1.6" fill="#1e572f"/><rect x="72.4" y="876.0" width="14.6" height="2.0" fill="#123b1e"/><rect x="72.4" y="878.0" width="14.6" height="1.0" fill="#174625"/><rect x="72.4" y="879.0" width="14.6" height="1.1" fill="#184826"/><rect x="72.4" y="880.1" width="14.6" height="1.4" fill="#081a0d"/>
<rect x="87.0" y="815.8" width="14.6" height="2.0" fill="#0a2111"/><rect x="87.0" y="817.8" width="14.6" height="0.8" fill="#0b2413"/><rect x="87.0" y="819.4" width="14.6" height="0.8" fill="#1a4c29"/><rect x="87.0" y="820.2" width="14.6" height="0.9" fill="#08190d"/><rect x="87.0" y="821.1" width="14.6" height="1.0" fill="#1e572f"/><rect x="87.0" y="822.1" width="14.6" height="0.9" fill="#07150b"/><rect x="87.0" y="824.6" width="14.6" height="1.0" fill="#205c32"/><rect x="87.0" y="825.6" width="14.6" height="2.0" fill="#0d2815"/><rect x="87.0" y="827.6" width="14.6" height="1.1" fill="#266839"/><rect x="87.0" y="828.7" width="14.6" height="2.0" fill="#143f21"/><rect x="87.0" y="830.7" width="14.6" height="1.1" fill="#226035"/><rect x="87.0" y="831.8" width="14.6" height="1.1" fill="#1b4f2a"/><rect x="87.0" y="832.9" width="14.6" height="2.0" fill="#174625"/><rect x="87.0" y="834.9" width="14.6" height="0.8" fill="#1b4e2a"/><rect x="87.0" y="835.7" width="14.6" height="0.8" fill="#1b502b"/><rect x="87.0" y="836.5" width="14.6" height="1.6" fill="#184826"/><rect x="87.0" y="838.1" width="14.6" height="2.0" fill="#08190d"/><rect x="87.0" y="840.1" width="14.6" height="2.0" fill="#051008"/><rect x="87.0" y="842.1" width="14.6" height="0.8" fill="#11361c"/><rect x="87.0" y="842.9" width="14.6" height="1.1" fill="#1a4e2a"/><rect x="87.0" y="844.0" width="14.6" height="1.0" fill="#0a1f10"/><rect x="87.0" y="845.0" width="14.6" height="1.6" fill="#164324"/><rect x="87.0" y="846.6" width="14.6" height="0.8" fill="#184927"/><rect x="87.0" y="847.4" width="14.6" height="1.3" fill="#07160b"/><rect x="87.0" y="848.7" width="14.6" height="0.9" fill="#133c1f"/><rect x="87.0" y="849.6" width="14.6" height="1.0" fill="#061209"/><rect x="87.0" y="850.6" width="14.6" height="2.0" fill="#164424"/><rect x="87.0" y="852.6" width="14.6" height="1.3" fill="#1f5830"/><rect x="87.0" y="853.9" width="14.6" height="0.6" fill="#143f21"/><rect x="87.0" y="856.5" width="14.6" height="1.3" fill="#164424"/><rect x="87.0" y="857.8" width="14.6" height="1.6" fill="#11371d"/><rect x="87.0" y="859.4" width="14.6" height="0.9" fill="#091d0f"/><rect x="87.0" y="860.3" width="14.6" height="1.1" fill="#143f21"/><rect x="87.0" y="862.7" width="14.6" height="2.0" fill="#174525"/><rect x="87.0" y="864.7" width="14.6" height="1.6" fill="#225f34"/><rect x="87.0" y="866.9" width="14.6" height="0.6" fill="#0d2815"/><rect x="87.0" y="867.5" width="14.6" height="1.6" fill="#143f21"/><rect x="87.0" y="869.1" width="14.6" height="1.1" fill="#0f311a"/><rect x="87.0" y="870.2" width="14.6" height="0.8" fill="#051008"/><rect x="87.0" y="871.0" width="14.6" height="0.9" fill="#144021"/><rect x="87.0" y="871.9" width="14.6" height="0.6" fill="#215c32"/><rect x="87.0" y="872.5" width="14.6" height="1.1" fill="#133e20"/><rect x="87.0" y="873.6" width="14.6" height="0.8" fill="#194a28"/><rect x="87.0" y="876.0" width="14.6" height="2.0" fill="#0e2e18"/><rect x="87.0" y="878.0" width="14.6" height="1.0" fill="#133d20"/><rect x="87.0" y="879.0" width="14.6" height="1.1" fill="#0f3019"/><rect x="87.0" y="880.1" width="14.6" height="1.4" fill="#10351b"/>
<rect x="101.6" y="815.8" width="14.6" height="2.0" fill="#1a4c29"/><rect x="101.6" y="817.8" width="14.6" height="0.8" fill="#0a1f10"/><rect x="101.6" y="819.4" width="14.6" height="0.8" fill="#10341b"/><rect x="101.6" y="821.1" width="14.6" height="1.0" fill="#215d33"/><rect x="101.6" y="822.1" width="14.6" height="0.9" fill="#143e20"/><rect x="101.6" y="825.6" width="14.6" height="2.0" fill="#174524"/><rect x="101.6" y="827.6" width="14.6" height="1.1" fill="#184927"/><rect x="101.6" y="831.8" width="14.6" height="1.1" fill="#0e2f18"/><rect x="101.6" y="835.7" width="14.6" height="0.8" fill="#226035"/><rect x="101.6" y="838.1" width="14.6" height="2.0" fill="#07150b"/><rect x="101.6" y="842.9" width="14.6" height="1.1" fill="#154122"/><rect x="101.6" y="848.7" width="14.6" height="0.9" fill="#0e2c17"/><rect x="101.6" y="849.6" width="14.6" height="1.0" fill="#194a27"/><rect x="101.6" y="852.6" width="14.6" height="1.3" fill="#225f34"/><rect x="101.6" y="853.9" width="14.6" height="0.6" fill="#091420"/><rect x="101.6" y="856.5" width="14.6" height="1.3" fill="#0b2312"/><rect x="101.6" y="859.4" width="14.6" height="0.9" fill="#0c2513"/><rect x="101.6" y="860.3" width="14.6" height="1.1" fill="#174524"/><rect x="101.6" y="864.7" width="14.6" height="1.6" fill="#10331a"/><rect x="101.6" y="866.3" width="14.6" height="0.6" fill="#143f21"/><rect x="101.6" y="866.9" width="14.6" height="0.6" fill="#133c1f"/><rect x="101.6" y="867.5" width="14.6" height="1.6" fill="#10331a"/><rect x="101.6" y="869.1" width="14.6" height="1.1" fill="#0f3119"/><rect x="101.6" y="870.2" width="14.6" height="0.8" fill="#0c2814"/><rect x="101.6" y="871.0" width="14.6" height="0.9" fill="#1e562f"/><rect x="101.6" y="871.9" width="14.6" height="0.6" fill="#0d2915"/><rect x="101.6" y="872.5" width="14.6" height="1.1" fill="#08121d"/><rect x="101.6" y="873.6" width="14.6" height="0.8" fill="#091522"/><rect x="101.6" y="876.0" width="14.6" height="2.0" fill="#0c2614"/>
<rect x="116.2" y="818.6" width="14.6" height="0.8" fill="#1a4d2a"/><rect x="116.2" y="821.1" width="14.6" height="1.0" fill="#164324"/><rect x="116.2" y="825.6" width="14.6" height="2.0" fill="#0f3019"/><rect x="116.2" y="827.6" width="14.6" height="1.1" fill="#143e20"/><rect x="116.2" y="828.7" width="14.6" height="2.0" fill="#11381d"/><rect x="116.2" y="831.8" width="14.6" height="1.1" fill="#194b28"/><rect x="116.2" y="838.1" width="14.6" height="2.0" fill="#081a0d"/><rect x="116.2" y="840.1" width="14.6" height="2.0" fill="#0b2312"/><rect x="116.2" y="842.9" width="14.6" height="1.1" fill="#184826"/><rect x="116.2" y="846.6" width="14.6" height="0.8" fill="#0d2a16"/><rect x="116.2" y="849.6" width="14.6" height="1.0" fill="#091e10"/><rect x="116.2" y="852.6" width="14.6" height="1.3" fill="#133d20"/><rect x="116.2" y="856.5" width="14.6" height="1.3" fill="#091e0f"/><rect x="116.2" y="869.1" width="14.6" height="1.1" fill="#154223"/><rect x="116.2" y="871.0" width="14.6" height="0.9" fill="#154122"/><rect x="116.2" y="873.6" width="14.6" height="0.8" fill="#10331a"/><rect x="116.2" y="876.0" width="14.6" height="2.0" fill="#0e2e18"/>

<rect x="28" y="815.80" width="1.8" height="65.70" fill="#000"/>
<rect x="28.60" y="887.20" width="116.80" height="65.70" fill="#000"/>
<rect x="28.6" y="887.2" width="14.6" height="0.6" fill="#15314d"/><rect x="28.6" y="887.8" width="14.6" height="1.3" fill="#214e77"/><rect x="28.6" y="889.1" width="14.6" height="0.9" fill="#1e476e"/><rect x="28.6" y="890.0" width="14.6" height="0.9" fill="#1e4970"/><rect x="28.6" y="890.9" width="14.6" height="1.3" fill="#1a3d5e"/><rect x="28.6" y="892.2" width="14.6" height="1.1" fill="#193b5b"/><rect x="28.6" y="893.3" width="14.6" height="1.3" fill="#1c4368"/><rect x="28.6" y="894.6" width="14.6" height="0.6" fill="#214d76"/><rect x="28.6" y="895.2" width="14.6" height="1.0" fill="#224f7a"/><rect x="28.6" y="896.2" width="14.6" height="0.8" fill="#193b5b"/><rect x="28.6" y="897.0" width="14.6" height="0.8" fill="#1e476e"/><rect x="28.6" y="897.8" width="14.6" height="0.8" fill="#214f79"/><rect x="28.6" y="898.6" width="14.6" height="1.0" fill="#214e78"/><rect x="28.6" y="899.6" width="14.6" height="2.0" fill="#183a5a"/><rect x="28.6" y="901.6" width="14.6" height="2.0" fill="#214f79"/><rect x="28.6" y="903.6" width="14.6" height="0.9" fill="#1d456b"/><rect x="28.6" y="904.5" width="14.6" height="0.9" fill="#1a3e60"/><rect x="28.6" y="905.4" width="14.6" height="0.9" fill="#23527e"/><rect x="28.6" y="906.3" width="14.6" height="2.0" fill="#1c4367"/><rect x="28.6" y="908.3" width="14.6" height="1.0" fill="#173553"/><rect x="28.6" y="909.3" width="14.6" height="2.0" fill="#1e4870"/><rect x="28.6" y="911.3" width="14.6" height="2.0" fill="#1d456a"/><rect x="28.6" y="913.3" width="14.6" height="1.6" fill="#1d456b"/><rect x="28.6" y="914.9" width="14.6" height="2.0" fill="#183958"/><rect x="28.6" y="916.9" width="14.6" height="0.6" fill="#204c74"/><rect x="28.6" y="917.5" width="14.6" height="1.0" fill="#204d76"/><rect x="28.6" y="918.5" width="14.6" height="2.0" fill="#1e486f"/><rect x="28.6" y="920.5" width="14.6" height="0.8" fill="#193c5d"/><rect x="28.6" y="921.3" width="14.6" height="1.1" fill="#132d46"/><rect x="28.6" y="922.4" width="14.6" height="0.8" fill="#1b4064"/><rect x="28.6" y="923.2" width="14.6" height="0.6" fill="#1d456a"/><rect x="28.6" y="923.8" width="14.6" height="1.6" fill="#183958"/><rect x="28.6" y="925.4" width="14.6" height="0.9" fill="#1f4a73"/><rect x="28.6" y="926.3" width="14.6" height="1.0" fill="#1b4063"/><rect x="28.6" y="927.3" width="14.6" height="0.8" fill="#1e4970"/><rect x="28.6" y="928.1" width="14.6" height="1.0" fill="#214d77"/><rect x="28.6" y="929.1" width="14.6" height="1.0" fill="#1f4b73"/><rect x="28.6" y="930.1" width="14.6" height="1.1" fill="#1f4970"/><rect x="28.6" y="931.2" width="14.6" height="1.6" fill="#193a5a"/><rect x="28.6" y="932.8" width="14.6" height="1.6" fill="#1c4266"/><rect x="28.6" y="934.4" width="14.6" height="2.0" fill="#1d466b"/><rect x="28.6" y="936.4" width="14.6" height="0.9" fill="#1d466c"/><rect x="28.6" y="937.3" width="14.6" height="0.9" fill="#1f4b73"/><rect x="28.6" y="938.2" width="14.6" height="0.6" fill="#1d466c"/><rect x="28.6" y="938.8" width="14.6" height="1.1" fill="#24537f"/><rect x="28.6" y="939.9" width="14.6" height="2.0" fill="#1e476d"/><rect x="28.6" y="941.9" width="14.6" height="0.8" fill="#1f4a72"/><rect x="28.6" y="942.7" width="14.6" height="0.6" fill="#23517c"/><rect x="28.6" y="943.3" width="14.6" height="0.8" fill="#1c4165"/><rect x="28.6" y="944.1" width="14.6" height="2.0" fill="#1c4267"/><rect x="28.6" y="946.1" width="14.6" height="0.8" fill="#204b74"/><rect x="28.6" y="946.9" width="14.6" height="1.3" fill="#1e486f"/><rect x="28.6" y="948.2" width="14.6" height="1.0" fill="#1b4064"/><rect x="28.6" y="949.2" width="14.6" height="1.0" fill="#173756"/><rect x="28.6" y="950.2" width="14.6" height="1.3" fill="#1c4266"/><rect x="28.6" y="951.5" width="14.6" height="1.4" fill="#214f79"/>
<rect x="43.2" y="890.0" width="14.6" height="0.9" fill="#0f321a"/><rect x="43.2" y="893.3" width="14.6" height="1.3" fill="#123a1e"/><rect x="43.2" y="895.2" width="14.6" height="1.0" fill="#0c2614"/><rect x="43.2" y="896.2" width="14.6" height="0.8" fill="#154122"/><rect x="43.2" y="897.0" width="14.6" height="0.8" fill="#10331a"/><rect x="43.2" y="898.6" width="14.6" height="1.0" fill="#0c2613"/><rect x="43.2" y="899.6" width="14.6" height="2.0" fill="#0c2614"/><rect x="43.2" y="904.5" width="14.6" height="0.9" fill="#133b1f"/><rect x="43.2" y="905.4" width="14.6" height="0.9" fill="#133d20"/><rect x="43.2" y="913.3" width="14.6" height="1.6" fill="#06130a"/><rect x="43.2" y="914.9" width="14.6" height="2.0" fill="#0f311a"/><rect x="43.2" y="916.9" width="14.6" height="0.6" fill="#0f3119"/><rect x="43.2" y="917.5" width="14.6" height="1.0" fill="#11371c"/><rect x="43.2" y="918.5" width="14.6" height="2.0" fill="#061209"/><rect x="43.2" y="920.5" width="14.6" height="0.8" fill="#133b1f"/><rect x="43.2" y="921.3" width="14.6" height="1.1" fill="#08190d"/><rect x="43.2" y="922.4" width="14.6" height="0.8" fill="#0c2614"/><rect x="43.2" y="923.8" width="14.6" height="1.6" fill="#061209"/><rect x="43.2" y="925.4" width="14.6" height="0.9" fill="#081a0d"/><rect x="43.2" y="926.3" width="14.6" height="1.0" fill="#091e10"/><rect x="43.2" y="928.1" width="14.6" height="1.0" fill="#051209"/><rect x="43.2" y="933.4" width="14.6" height="1.0" fill="#164524"/><rect x="43.2" y="936.4" width="14.6" height="0.9" fill="#0a2211"/><rect x="43.2" y="937.3" width="14.6" height="0.9" fill="#164424"/><rect x="43.2" y="938.2" width="14.6" height="0.6" fill="#12391d"/><rect x="43.2" y="938.8" width="14.6" height="1.1" fill="#133c1f"/><rect x="43.2" y="941.9" width="14.6" height="0.8" fill="#0b2412"/><rect x="43.2" y="942.7" width="14.6" height="0.6" fill="#133c1f"/><rect x="43.2" y="944.1" width="14.6" height="2.0" fill="#07180c"/><rect x="43.2" y="946.1" width="14.6" height="0.8" fill="#0e2e18"/><rect x="43.2" y="946.9" width="14.6" height="1.3" fill="#051109"/>
<rect x="57.8" y="887.2" width="14.6" height="0.6" fill="#1b502b"/><rect x="57.8" y="889.1" width="14.6" height="0.9" fill="#0b2513"/><rect x="57.8" y="890.9" width="14.6" height="1.3" fill="#091c0f"/><rect x="57.8" y="892.2" width="14.6" height="1.1" fill="#1f5930"/><rect x="57.8" y="894.6" width="14.6" height="0.6" fill="#0f2f18"/><rect x="57.8" y="897.0" width="14.6" height="0.8" fill="#07150b"/><rect x="57.8" y="898.6" width="14.6" height="1.0" fill="#06130a"/><rect x="57.8" y="899.6" width="14.6" height="2.0" fill="#164223"/><rect x="57.8" y="901.6" width="14.6" height="2.0" fill="#081a0e"/><rect x="57.8" y="904.5" width="14.6" height="0.9" fill="#1e552e"/><rect x="57.8" y="909.3" width="14.6" height="2.0" fill="#154122"/><rect x="57.8" y="911.3" width="14.6" height="2.0" fill="#07170c"/><rect x="57.8" y="913.3" width="14.6" height="1.6" fill="#133d20"/><rect x="57.8" y="914.9" width="14.6" height="2.0" fill="#184726"/><rect x="57.8" y="916.9" width="14.6" height="0.6" fill="#060e16"/><rect x="57.8" y="917.5" width="14.6" height="1.0" fill="#0a2011"/><rect x="57.8" y="918.5" width="14.6" height="2.0" fill="#0a2010"/><rect x="57.8" y="920.5" width="14.6" height="0.8" fill="#0f2f18"/><rect x="57.8" y="921.3" width="14.6" height="1.1" fill="#1e572f"/><rect x="57.8" y="922.4" width="14.6" height="0.8" fill="#1e562f"/><rect x="57.8" y="923.2" width="14.6" height="0.6" fill="#051008"/><rect x="57.8" y="923.8" width="14.6" height="1.6" fill="#154022"/><rect x="57.8" y="925.4" width="14.6" height="0.9" fill="#091c0e"/><rect x="57.8" y="926.3" width="14.6" height="1.0" fill="#1d542d"/><rect x="57.8" y="927.3" width="14.6" height="0.8" fill="#0b2312"/><rect x="57.8" y="928.1" width="14.6" height="1.0" fill="#0c2614"/><rect x="57.8" y="930.1" width="14.6" height="1.1" fill="#133c1f"/><rect x="57.8" y="932.8" width="14.6" height="0.6" fill="#143e20"/><rect x="57.8" y="933.4" width="14.6" height="1.0" fill="#1d542e"/><rect x="57.8" y="936.4" width="14.6" height="0.9" fill="#12391e"/><rect x="57.8" y="937.3" width="14.6" height="0.9" fill="#1b4e2a"/><rect x="57.8" y="938.2" width="14.6" height="0.6" fill="#11361c"/><rect x="57.8" y="941.9" width="14.6" height="0.8" fill="#133d20"/><rect x="57.8" y="943.3" width="14.6" height="0.8" fill="#0c2614"/><rect x="57.8" y="944.1" width="14.6" height="2.0" fill="#133d20"/><rect x="57.8" y="946.9" width="14.6" height="1.3" fill="#184927"/><rect x="57.8" y="948.2" width="14.6" height="1.0" fill="#0d2a16"/><rect x="57.8" y="950.2" width="14.6" height="1.3" fill="#194b28"/><rect x="57.8" y="951.5" width="14.6" height="1.4" fill="#123a1e"/>
<rect x="72.4" y="887.8" width="14.6" height="1.3" fill="#11273e"/><rect x="72.4" y="890.9" width="14.6" height="1.3" fill="#0f321a"/><rect x="72.4" y="894.6" width="14.6" height="0.6" fill="#0e2d17"/><rect x="72.4" y="895.2" width="14.6" height="1.0" fill="#091420"/><rect x="72.4" y="896.2" width="14.6" height="0.8" fill="#142e48"/><rect x="72.4" y="897.8" width="14.6" height="0.8" fill="#0c1c2d"/><rect x="72.4" y="898.6" width="14.6" height="1.0" fill="#0c1b2a"/><rect x="72.4" y="899.6" width="14.6" height="2.0" fill="#122a42"/><rect x="72.4" y="901.6" width="14.6" height="2.0" fill="#1d4469"/><rect x="72.4" y="903.6" width="14.6" height="0.9" fill="#0a1725"/><rect x="72.4" y="904.5" width="14.6" height="0.9" fill="#051209"/><rect x="72.4" y="905.4" width="14.6" height="0.9" fill="#07111b"/><rect x="72.4" y="908.3" width="14.6" height="1.0" fill="#0e1f31"/><rect x="72.4" y="909.3" width="14.6" height="2.0" fill="#0a1623"/><rect x="72.4" y="911.3" width="14.6" height="2.0" fill="#0e2134"/><rect x="72.4" y="913.3" width="14.6" height="1.6" fill="#081a0e"/><rect x="72.4" y="914.9" width="14.6" height="2.0" fill="#08121d"/><rect x="72.4" y="916.9" width="14.6" height="0.6" fill="#133b1f"/><rect x="72.4" y="917.5" width="14.6" height="1.0" fill="#11283f"/><rect x="72.4" y="918.5" width="14.6" height="2.0" fill="#050f08"/><rect x="72.4" y="920.5" width="14.6" height="0.8" fill="#06140a"/><rect x="72.4" y="921.3" width="14.6" height="1.1" fill="#040a10"/><rect x="72.4" y="923.2" width="14.6" height="0.6" fill="#183958"/><rect x="72.4" y="923.8" width="14.6" height="1.6" fill="#070f18"/><rect x="72.4" y="925.4" width="14.6" height="0.9" fill="#102439"/><rect x="72.4" y="926.3" width="14.6" height="1.0" fill="#0b2312"/><rect x="72.4" y="927.3" width="14.6" height="0.8" fill="#0e2032"/><rect x="72.4" y="928.1" width="14.6" height="1.0" fill="#10331a"/><rect x="72.4" y="929.1" width="14.6" height="1.0" fill="#16324e"/><rect x="72.4" y="930.1" width="14.6" height="1.1" fill="#10253a"/><rect x="72.4" y="931.2" width="14.6" height="1.6" fill="#091521"/><rect x="72.4" y="932.8" width="14.6" height="0.6" fill="#0b1a29"/><rect x="72.4" y="933.4" width="14.6" height="1.0" fill="#0c2513"/><rect x="72.4" y="936.4" width="14.6" height="0.9" fill="#123a1e"/><rect x="72.4" y="937.3" width="14.6" height="0.9" fill="#10253a"/><rect x="72.4" y="938.2" width="14.6" height="0.6" fill="#142e48"/><rect x="72.4" y="939.9" width="14.6" height="2.0" fill="#050b11"/><rect x="72.4" y="941.9" width="14.6" height="0.8" fill="#091522"/><rect x="72.4" y="942.7" width="14.6" height="0.6" fill="#123a1e"/><rect x="72.4" y="943.3" width="14.6" height="0.8" fill="#11351c"/><rect x="72.4" y="944.1" width="14.6" height="2.0" fill="#0d1e30"/><rect x="72.4" y="946.9" width="14.6" height="1.3" fill="#0f2237"/><rect x="72.4" y="948.2" width="14.6" height="1.0" fill="#0c2714"/><rect x="72.4" y="949.2" width="14.6" height="1.0" fill="#0b1a29"/><rect x="72.4" y="951.5" width="14.6" height="1.4" fill="#142e48"/>
<rect x="87.0" y="887.2" width="14.6" height="0.6" fill="#0b1928"/><rect x="87.0" y="890.0" width="14.6" height="0.9" fill="#11283f"/><rect x="87.0" y="893.3" width="14.6" height="1.3" fill="#0e2033"/><rect x="87.0" y="894.6" width="14.6" height="0.6" fill="#15304c"/><rect x="87.0" y="895.2" width="14.6" height="1.0" fill="#1b4064"/><rect x="87.0" y="897.0" width="14.6" height="0.8" fill="#091420"/><rect x="87.0" y="897.8" width="14.6" height="0.8" fill="#1b3f62"/><rect x="87.0" y="898.6" width="14.6" height="1.0" fill="#0b1928"/><rect x="87.0" y="899.6" width="14.6" height="2.0" fill="#193a5a"/><rect x="87.0" y="901.6" width="14.6" height="2.0" fill="#10243a"/><rect x="87.0" y="903.6" width="14.6" height="0.9" fill="#15314d"/><rect x="87.0" y="908.3" width="14.6" height="1.0" fill="#0f2236"/><rect x="87.0" y="909.3" width="14.6" height="2.0" fill="#1d4469"/><rect x="87.0" y="911.3" width="14.6" height="2.0" fill="#183a5a"/><rect x="87.0" y="913.3" width="14.6" height="1.6" fill="#173756"/><rect x="87.0" y="914.9" width="14.6" height="2.0" fill="#050c13"/><rect x="87.0" y="916.9" width="14.6" height="0.6" fill="#0b1928"/><rect x="87.0" y="917.5" width="14.6" height="1.0" fill="#0e2034"/><rect x="87.0" y="918.5" width="14.6" height="2.0" fill="#16334f"/><rect x="87.0" y="920.5" width="14.6" height="0.8" fill="#0c1b2c"/><rect x="87.0" y="922.4" width="14.6" height="0.8" fill="#193b5c"/><rect x="87.0" y="923.2" width="14.6" height="0.6" fill="#102438"/><rect x="87.0" y="923.8" width="14.6" height="1.6" fill="#0a1725"/><rect x="87.0" y="925.4" width="14.6" height="0.9" fill="#102338"/><rect x="87.0" y="926.3" width="14.6" height="1.0" fill="#0c1b2b"/><rect x="87.0" y="927.3" width="14.6" height="0.8" fill="#16334f"/><rect x="87.0" y="928.1" width="14.6" height="1.0" fill="#193a5a"/><rect x="87.0" y="930.1" width="14.6" height="1.1" fill="#22517c"/><rect x="87.0" y="931.2" width="14.6" height="1.6" fill="#173654"/><rect x="87.0" y="932.8" width="14.6" height="0.6" fill="#142f49"/><rect x="87.0" y="933.4" width="14.6" height="1.0" fill="#07101a"/><rect x="87.0" y="934.4" width="14.6" height="2.0" fill="#142e48"/><rect x="87.0" y="936.4" width="14.6" height="0.9" fill="#183857"/><rect x="87.0" y="937.3" width="14.6" height="0.9" fill="#163450"/><rect x="87.0" y="938.2" width="14.6" height="0.6" fill="#173552"/><rect x="87.0" y="938.8" width="14.6" height="1.1" fill="#10253a"/><rect x="87.0" y="939.9" width="14.6" height="2.0" fill="#0c1b2b"/><rect x="87.0" y="941.9" width="14.6" height="0.8" fill="#102439"/><rect x="87.0" y="942.7" width="14.6" height="0.6" fill="#193b5b"/><rect x="87.0" y="943.3" width="14.6" height="0.8" fill="#183856"/><rect x="87.0" y="944.1" width="14.6" height="2.0" fill="#0d1e30"/><rect x="87.0" y="946.1" width="14.6" height="0.8" fill="#0f2236"/><rect x="87.0" y="946.9" width="14.6" height="1.3" fill="#11283e"/><rect x="87.0" y="948.2" width="14.6" height="1.0" fill="#15304b"/><rect x="87.0" y="949.2" width="14.6" height="1.0" fill="#071019"/><rect x="87.0" y="950.2" width="14.6" height="1.3" fill="#0b1a29"/><rect x="87.0" y="951.5" width="14.6" height="1.4" fill="#16324f"/>
<rect x="101.6" y="887.8" width="14.6" height="1.3" fill="#11273e"/><rect x="101.6" y="890.0" width="14.6" height="0.9" fill="#0c1b2a"/><rect x="101.6" y="892.2" width="14.6" height="1.1" fill="#0f2236"/><rect x="101.6" y="896.2" width="14.6" height="0.8" fill="#071019"/><rect x="101.6" y="897.0" width="14.6" height="0.8" fill="#08121c"/><rect x="101.6" y="898.6" width="14.6" height="1.0" fill="#050c13"/><rect x="101.6" y="899.6" width="14.6" height="2.0" fill="#08111b"/><rect x="101.6" y="901.6" width="14.6" height="2.0" fill="#14304a"/><rect x="101.6" y="903.6" width="14.6" height="0.9" fill="#132b44"/><rect x="101.6" y="908.3" width="14.6" height="1.0" fill="#08111b"/><rect x="101.6" y="909.3" width="14.6" height="2.0" fill="#0c1c2c"/><rect x="101.6" y="911.3" width="14.6" height="2.0" fill="#091521"/><rect x="101.6" y="913.3" width="14.6" height="1.6" fill="#142e49"/><rect x="101.6" y="916.9" width="14.6" height="0.6" fill="#132c45"/><rect x="101.6" y="917.5" width="14.6" height="1.0" fill="#0f2235"/><rect x="101.6" y="918.5" width="14.6" height="2.0" fill="#08111b"/><rect x="101.6" y="920.5" width="14.6" height="0.8" fill="#0b1826"/><rect x="101.6" y="923.2" width="14.6" height="0.6" fill="#132b43"/><rect x="101.6" y="923.8" width="14.6" height="1.6" fill="#0b1a29"/><rect x="101.6" y="925.4" width="14.6" height="0.9" fill="#0b1827"/><rect x="101.6" y="926.3" width="14.6" height="1.0" fill="#0d1e2f"/><rect x="101.6" y="927.3" width="14.6" height="0.8" fill="#0c1c2c"/><rect x="101.6" y="928.1" width="14.6" height="1.0" fill="#10253b"/><rect x="101.6" y="929.1" width="14.6" height="1.0" fill="#122a42"/><rect x="101.6" y="931.2" width="14.6" height="1.6" fill="#0d1d2f"/><rect x="101.6" y="933.4" width="14.6" height="1.0" fill="#08121c"/><rect x="101.6" y="936.4" width="14.6" height="0.9" fill="#0c1b2b"/><rect x="101.6" y="938.2" width="14.6" height="0.6" fill="#0b1928"/><rect x="101.6" y="943.3" width="14.6" height="0.8" fill="#132d46"/><rect x="101.6" y="944.1" width="14.6" height="2.0" fill="#11273e"/><rect x="101.6" y="946.9" width="14.6" height="1.3" fill="#0f2235"/><rect x="101.6" y="948.2" width="14.6" height="1.0" fill="#0b1827"/><rect x="101.6" y="950.2" width="14.6" height="1.3" fill="#08111b"/>
<rect x="116.2" y="893.3" width="14.6" height="1.3" fill="#050b12"/><rect x="116.2" y="894.6" width="14.6" height="0.6" fill="#04090e"/><rect x="116.2" y="895.2" width="14.6" height="1.0" fill="#09141f"/><rect x="116.2" y="898.6" width="14.6" height="1.0" fill="#04090f"/><rect x="116.2" y="899.6" width="14.6" height="2.0" fill="#050c13"/><rect x="116.2" y="901.6" width="14.6" height="2.0" fill="#102439"/><rect x="116.2" y="903.6" width="14.6" height="0.9" fill="#102338"/><rect x="116.2" y="909.3" width="14.6" height="2.0" fill="#0d1e30"/><rect x="116.2" y="911.3" width="14.6" height="2.0" fill="#060e16"/><rect x="116.2" y="913.3" width="14.6" height="1.6" fill="#0c1b2b"/><rect x="116.2" y="914.9" width="14.6" height="2.0" fill="#0a1623"/><rect x="116.2" y="916.9" width="14.6" height="0.6" fill="#091420"/><rect x="116.2" y="920.5" width="14.6" height="0.8" fill="#08111b"/><rect x="116.2" y="923.2" width="14.6" height="0.6" fill="#0b1827"/><rect x="116.2" y="928.1" width="14.6" height="1.0" fill="#10253a"/><rect x="116.2" y="930.1" width="14.6" height="1.1" fill="#091420"/><rect x="116.2" y="932.8" width="14.6" height="0.6" fill="#060f17"/><rect x="116.2" y="934.4" width="14.6" height="2.0" fill="#07111b"/><rect x="116.2" y="937.3" width="14.6" height="0.9" fill="#091420"/><rect x="116.2" y="938.8" width="14.6" height="1.1" fill="#091420"/><rect x="116.2" y="944.1" width="14.6" height="2.0" fill="#08121c"/><rect x="116.2" y="946.9" width="14.6" height="1.3" fill="#0b1826"/><rect x="116.2" y="948.2" width="14.6" height="1.0" fill="#07111a"/><rect x="116.2" y="951.5" width="14.6" height="1.4" fill="#0e2134"/>
<rect x="130.8" y="889.1" width="14.6" height="0.9" fill="#04090f"/><rect x="130.8" y="890.9" width="14.6" height="1.3" fill="#0b1927"/><rect x="130.8" y="892.2" width="14.6" height="1.1" fill="#071019"/><rect x="130.8" y="898.6" width="14.6" height="1.0" fill="#08131e"/><rect x="130.8" y="899.6" width="14.6" height="4.0" fill="#0a1623"/><rect x="130.8" y="903.6" width="14.6" height="0.9" fill="#0c1c2d"/><rect x="130.8" y="909.3" width="14.6" height="2.0" fill="#0d1e2f"/><rect x="130.8" y="913.3" width="14.6" height="1.6" fill="#091521"/><rect x="130.8" y="916.9" width="14.6" height="0.6" fill="#0c1c2d"/><rect x="130.8" y="922.4" width="14.6" height="0.8" fill="#040a10"/><rect x="130.8" y="923.2" width="14.6" height="0.6" fill="#0b1927"/><rect x="130.8" y="925.4" width="14.6" height="0.9" fill="#0b1a29"/><rect x="130.8" y="926.3" width="14.6" height="1.0" fill="#0a1623"/><rect x="130.8" y="930.1" width="14.6" height="1.1" fill="#050b11"/><rect x="130.8" y="932.8" width="14.6" height="0.6" fill="#060f17"/><rect x="130.8" y="933.4" width="14.6" height="1.0" fill="#071019"/><rect x="130.8" y="938.2" width="14.6" height="0.6" fill="#070f18"/><rect x="130.8" y="946.9" width="14.6" height="1.3" fill="#0d1e2f"/>
<rect x="28" y="887.20" width="1.8" height="65.70" fill="#000"/>
<rect x="148.60" y="601.30" width="54.20" height="65.70" fill="#fff"/>
<rect x="149.50" y="601.30" width="34.30" height="65.70" fill="#9dbfdf"/>
<line x1="148.60" y1="634.40" x2="202.80" y2="634.40" stroke="#111" stroke-width="2.4" stroke-dasharray="7.8,8" stroke-dashoffset="1"/>
<polyline points="149.5,619.5 173.6,634.4 184.5,645.8 194.0,643.9 202.3,636.6" fill="none" stroke="#1ecfa2" stroke-width="2.2" stroke-linejoin="round"/>
<rect x="148.60" y="601.30" width="54.20" height="65.70" fill="none" stroke="#000" stroke-width="1.8"/>
<rect x="203.70" y="601.50" width="15.80" height="65.30" fill="#fff" stroke="#000" stroke-width="2"/>
<text transform="translate(208.00,634.15) rotate(90)" font-size="10.4" stroke="#000" stroke-width="0.25" text-anchor="middle" textLength="40.6" lengthAdjust="spacingAndGlyphs">Cluster 1</text>
<text transform="translate(223.90,633.15) rotate(90)" font-size="15.2" font-weight="bold" text-anchor="middle">236</text>
<rect x="148.60" y="672.80" width="54.20" height="65.70" fill="#fff"/>
<rect x="149.50" y="672.80" width="11.20" height="65.70" fill="#9dbfdf"/>
<line x1="148.60" y1="705.90" x2="202.80" y2="705.90" stroke="#111" stroke-width="2.4" stroke-dasharray="7.8,8" stroke-dashoffset="1"/>
<polyline points="149.5,694.2 164.1,706.6 172.8,707.0 187.4,704.1 197.0,705.5 202.3,705.5" fill="none" stroke="#1ecfa2" stroke-width="2.2" stroke-linejoin="round"/>
<rect x="148.60" y="672.80" width="54.20" height="65.70" fill="none" stroke="#000" stroke-width="1.8"/>
<rect x="203.70" y="673.00" width="15.80" height="65.30" fill="#fff" stroke="#000" stroke-width="2"/>
<text transform="translate(208.00,705.65) rotate(90)" font-size="10.4" stroke="#000" stroke-width="0.25" text-anchor="middle" textLength="40.6" lengthAdjust="spacingAndGlyphs">Cluster 2</text>
<text transform="translate(223.90,707.65) rotate(90)" font-size="15.2" font-weight="bold" text-anchor="middle">408</text>
<rect x="148.60" y="744.30" width="54.20" height="65.70" fill="#fff"/>
<rect x="149.50" y="744.30" width="10.90" height="65.70" fill="#9dbfdf"/>
<rect x="171.00" y="744.30" width="8.70" height="65.70" fill="#9dbfdf"/>
<line x1="148.60" y1="777.10" x2="202.80" y2="777.10" stroke="#111" stroke-width="2.4" stroke-dasharray="7.8,8" stroke-dashoffset="1"/>
<polyline points="149.5,759.9 163.8,769.0 171.4,760.6 179.4,771.9 187.4,768.4 187.4,776.2 202.3,775.2" fill="none" stroke="#1ecfa2" stroke-width="2.2" stroke-linejoin="round"/>
<rect x="148.60" y="744.30" width="54.20" height="65.70" fill="none" stroke="#000" stroke-width="1.8"/>
<rect x="203.70" y="744.50" width="15.80" height="65.30" fill="#fff" stroke="#000" stroke-width="2"/>
<text transform="translate(208.00,777.15) rotate(90)" font-size="10.4" stroke="#000" stroke-width="0.25" text-anchor="middle" textLength="40.6" lengthAdjust="spacingAndGlyphs">Cluster 3</text>
<text transform="translate(223.90,777.15) rotate(90)" font-size="15.2" font-weight="bold" text-anchor="middle">72</text>
<rect x="148.60" y="815.80" width="54.20" height="65.70" fill="#fff"/>
<rect x="163.00" y="815.80" width="17.10" height="65.70" fill="#9fdcd6"/>
<line x1="148.60" y1="848.70" x2="202.80" y2="848.70" stroke="#111" stroke-width="2.4" stroke-dasharray="7.8,8" stroke-dashoffset="1"/>
<polyline points="149.5,856.0 163.4,843.3 179.1,839.5 202.3,848.2" fill="none" stroke="#1ecfa2" stroke-width="2.2" stroke-linejoin="round"/>
<rect x="148.60" y="815.80" width="54.20" height="65.70" fill="none" stroke="#000" stroke-width="1.8"/>
<rect x="203.70" y="816.00" width="15.80" height="65.30" fill="#fff" stroke="#000" stroke-width="2"/>
<text transform="translate(208.00,848.65) rotate(90)" font-size="10.4" stroke="#000" stroke-width="0.25" text-anchor="middle" textLength="40.6" lengthAdjust="spacingAndGlyphs">Cluster 4</text>
<text transform="translate(223.90,846.65) rotate(90)" font-size="15.2" font-weight="bold" text-anchor="middle">201</text>
<rect x="148.60" y="887.20" width="54.20" height="65.70" fill="#fff"/>
<rect x="156.00" y="887.20" width="8.50" height="65.70" fill="#9fdcd6"/>
<line x1="148.60" y1="919.70" x2="202.80" y2="919.70" stroke="#111" stroke-width="2.4" stroke-dasharray="7.8,8" stroke-dashoffset="1"/>
<polyline points="149.5,927.0 163.8,914.3 179.4,922.3 202.3,924.5" fill="none" stroke="#1ecfa2" stroke-width="2.2" stroke-linejoin="round"/>
<rect x="148.60" y="887.20" width="54.20" height="65.70" fill="none" stroke="#000" stroke-width="1.8"/>
<rect x="203.70" y="887.40" width="15.80" height="65.30" fill="#fff" stroke="#000" stroke-width="2"/>
<text transform="translate(208.00,920.05) rotate(90)" font-size="10.4" stroke="#000" stroke-width="0.25" text-anchor="middle" textLength="40.6" lengthAdjust="spacingAndGlyphs">Cluster 5</text>
<text transform="translate(223.90,917.05) rotate(90)" font-size="15.2" font-weight="bold" text-anchor="middle">331</text>
<text x="241.0" y="621.2" font-size="18.6">Log<tspan font-size="11.2">2</tspan>FC</text>
<rect x="242.10" y="636.00" width="14.20" height="12.80" fill="#d9efd6" />
<text x="301.00" y="648.00" font-size="16.9" text-anchor="end" fill="#1a1a1a" >10.0</text>
<rect x="242.10" y="652.98" width="14.20" height="12.80" fill="#98d394" />
<text x="301.00" y="664.98" font-size="16.9" text-anchor="end" fill="#1a1a1a" >5.0</text>
<rect x="242.10" y="669.96" width="14.20" height="12.80" fill="#3a9a5a" />
<text x="301.00" y="681.96" font-size="16.9" text-anchor="end" fill="#1a1a1a" >2.5</text>
<rect x="242.10" y="686.94" width="14.20" height="12.80" fill="#1f4d2c" />
<text x="301.00" y="698.94" font-size="16.9" text-anchor="end" fill="#1a1a1a" >1.0</text>
<rect x="242.10" y="703.92" width="14.20" height="12.80" fill="#000000" />
<rect x="242.10" y="720.90" width="14.20" height="12.80" fill="#1f3f66" />
<text x="304.60" y="732.90" font-size="16.9" text-anchor="end" fill="#1a1a1a" >&#8722;1.0</text>
<rect x="242.10" y="737.88" width="14.20" height="12.80" fill="#3a7ebf" />
<text x="304.60" y="749.88" font-size="16.9" text-anchor="end" fill="#1a1a1a" >&#8722;2.5</text>
<rect x="242.10" y="754.86" width="14.20" height="12.80" fill="#96bfdf" />
<text x="304.60" y="766.86" font-size="16.9" text-anchor="end" fill="#1a1a1a" >&#8722;5.0</text>
<rect x="242.10" y="771.84" width="14.20" height="12.80" fill="#dbe7f5" />
<text x="304.60" y="783.84" font-size="16.9" text-anchor="end" fill="#1a1a1a" >&#8722;10.0</text>
<line x1="35.90" y1="953.5" x2="35.90" y2="955.5" stroke="#888" stroke-width="1"/>
<line x1="50.50" y1="953.5" x2="50.50" y2="955.5" stroke="#888" stroke-width="1"/>
<line x1="65.10" y1="953.5" x2="65.10" y2="955.5" stroke="#888" stroke-width="1"/>
<line x1="79.70" y1="953.5" x2="79.70" y2="955.5" stroke="#888" stroke-width="1"/>
<line x1="94.30" y1="953.5" x2="94.30" y2="955.5" stroke="#888" stroke-width="1"/>
<line x1="108.90" y1="953.5" x2="108.90" y2="955.5" stroke="#888" stroke-width="1"/>
<line x1="123.50" y1="953.5" x2="123.50" y2="955.5" stroke="#888" stroke-width="1"/>
<line x1="138.10" y1="953.5" x2="138.10" y2="955.5" stroke="#888" stroke-width="1"/>
<text x="36.20" y="966.60" font-size="11.8" text-anchor="middle" fill="#1a1a1a" >0</text>
<text x="50.70" y="966.60" font-size="11.8" text-anchor="middle" fill="#1a1a1a" >15</text>
<text x="65.20" y="966.60" font-size="11.8" text-anchor="middle" fill="#1a1a1a" >30</text>
<text x="80.20" y="966.60" font-size="11.8" text-anchor="middle" fill="#1a1a1a" >60</text>
<text x="109.70" y="966.60" font-size="11.8" text-anchor="middle" fill="#1a1a1a" >120</text>
<text x="138.00" y="966.60" font-size="11.8" text-anchor="middle" fill="#1a1a1a" >360</text>
<text x="85.20" y="986.60" font-size="15.5" text-anchor="middle" fill="#1a1a1a" >Time (min)</text>
<text x="362.00" y="569.50" font-size="34" text-anchor="start" fill="#000" >e</text>
<rect x="390.20" y="574.60" width="291.00" height="23.80" fill="#7caa6f" />
<text x="411.90" y="593.00" font-size="21.8" text-anchor="start" fill="#000" textLength="247.8" lengthAdjust="spacingAndGlyphs" >Recovery Specific Genes</text>
<rect x="391.20" y="600.50" width="128.00" height="113.50" fill="#000"/>
<rect x="391.2" y="601.1" width="16.0" height="1.1" fill="#050b12"/><rect x="391.2" y="604.2" width="16.0" height="2.0" fill="#0d2915"/><rect x="391.2" y="606.2" width="16.0" height="1.0" fill="#091420"/><rect x="391.2" y="608.8" width="16.0" height="0.8" fill="#040d07"/><rect x="391.2" y="611.5" width="16.0" height="0.9" fill="#0d1d2f"/><rect x="391.2" y="612.4" width="16.0" height="1.6" fill="#070f19"/><rect x="391.2" y="616.8" width="16.0" height="1.3" fill="#06140a"/><rect x="391.2" y="619.2" width="16.0" height="1.0" fill="#050f08"/><rect x="391.2" y="621.5" width="16.0" height="1.1" fill="#091420"/><rect x="391.2" y="626.2" width="16.0" height="1.1" fill="#0a1f10"/><rect x="391.2" y="633.2" width="16.0" height="2.0" fill="#050b11"/><rect x="391.2" y="642.6" width="16.0" height="0.6" fill="#06140a"/><rect x="391.2" y="643.2" width="16.0" height="0.8" fill="#040e07"/><rect x="391.2" y="646.8" width="16.0" height="0.8" fill="#0e1f32"/><rect x="391.2" y="652.4" width="16.0" height="2.0" fill="#050c13"/><rect x="391.2" y="662.3" width="16.0" height="1.6" fill="#10253b"/><rect x="391.2" y="663.9" width="16.0" height="1.6" fill="#07111a"/><rect x="391.2" y="666.4" width="16.0" height="2.0" fill="#07170c"/><rect x="391.2" y="668.4" width="16.0" height="2.0" fill="#08121c"/><rect x="391.2" y="676.3" width="16.0" height="0.8" fill="#051109"/><rect x="391.2" y="679.1" width="16.0" height="1.0" fill="#07150b"/><rect x="391.2" y="680.1" width="16.0" height="2.0" fill="#050c12"/><rect x="391.2" y="685.1" width="16.0" height="1.3" fill="#040d07"/><rect x="391.2" y="690.7" width="16.0" height="1.0" fill="#07160b"/><rect x="391.2" y="691.7" width="16.0" height="2.0" fill="#154122"/><rect x="391.2" y="694.8" width="16.0" height="0.8" fill="#164424"/><rect x="391.2" y="695.6" width="16.0" height="0.9" fill="#123a1e"/><rect x="391.2" y="696.5" width="16.0" height="0.8" fill="#123b1e"/><rect x="391.2" y="698.3" width="16.0" height="0.8" fill="#1c522c"/><rect x="391.2" y="699.1" width="16.0" height="0.9" fill="#174625"/><rect x="391.2" y="701.3" width="16.0" height="0.9" fill="#225f34"/><rect x="391.2" y="704.2" width="16.0" height="0.8" fill="#174726"/><rect x="391.2" y="705.0" width="16.0" height="0.8" fill="#164524"/><rect x="391.2" y="705.8" width="16.0" height="1.0" fill="#0c2513"/><rect x="391.2" y="706.8" width="16.0" height="1.0" fill="#1a4d29"/><rect x="391.2" y="707.8" width="16.0" height="2.0" fill="#154022"/><rect x="391.2" y="710.9" width="16.0" height="0.9" fill="#0e2c17"/><rect x="391.2" y="711.8" width="16.0" height="1.6" fill="#11371c"/>
<rect x="407.2" y="601.1" width="16.0" height="1.1" fill="#11371d"/><rect x="407.2" y="602.2" width="16.0" height="2.0" fill="#0a2211"/><rect x="407.2" y="607.2" width="16.0" height="1.6" fill="#0e2e18"/><rect x="407.2" y="615.3" width="16.0" height="0.9" fill="#07160b"/><rect x="407.2" y="619.2" width="16.0" height="1.0" fill="#0e2e18"/><rect x="407.2" y="621.5" width="16.0" height="1.1" fill="#060e16"/><rect x="407.2" y="624.2" width="16.0" height="2.0" fill="#184927"/><rect x="407.2" y="627.3" width="16.0" height="1.3" fill="#164524"/><rect x="407.2" y="628.6" width="16.0" height="1.0" fill="#0a2011"/><rect x="407.2" y="629.6" width="16.0" height="1.6" fill="#194927"/><rect x="407.2" y="633.2" width="16.0" height="2.0" fill="#0d2915"/><rect x="407.2" y="636.3" width="16.0" height="1.1" fill="#0f2236"/><rect x="407.2" y="638.0" width="16.0" height="2.0" fill="#174524"/><rect x="407.2" y="641.6" width="16.0" height="1.0" fill="#0c2714"/><rect x="407.2" y="642.6" width="16.0" height="0.6" fill="#07150b"/><rect x="407.2" y="643.2" width="16.0" height="0.8" fill="#07180c"/><rect x="407.2" y="644.8" width="16.0" height="2.0" fill="#144021"/><rect x="407.2" y="649.5" width="16.0" height="1.0" fill="#0a2111"/><rect x="407.2" y="650.5" width="16.0" height="1.3" fill="#07160c"/><rect x="407.2" y="651.8" width="16.0" height="0.6" fill="#143e21"/><rect x="407.2" y="657.4" width="16.0" height="2.0" fill="#143f21"/><rect x="407.2" y="661.4" width="16.0" height="0.9" fill="#0e2c17"/><rect x="407.2" y="662.3" width="16.0" height="1.6" fill="#276b3b"/><rect x="407.2" y="663.9" width="16.0" height="1.6" fill="#2d7942"/><rect x="407.2" y="665.5" width="16.0" height="0.9" fill="#1e572f"/><rect x="407.2" y="666.4" width="16.0" height="2.0" fill="#296f3d"/><rect x="407.2" y="668.4" width="16.0" height="2.0" fill="#2c7640"/><rect x="407.2" y="670.4" width="16.0" height="1.3" fill="#368d4c"/><rect x="407.2" y="671.7" width="16.0" height="1.0" fill="#348849"/><rect x="407.2" y="672.7" width="16.0" height="1.6" fill="#2e7b43"/><rect x="407.2" y="674.3" width="16.0" height="0.9" fill="#2d7942"/><rect x="407.2" y="675.2" width="16.0" height="1.1" fill="#154223"/><rect x="407.2" y="676.3" width="16.0" height="0.8" fill="#226035"/><rect x="407.2" y="677.1" width="16.0" height="2.0" fill="#368d4c"/><rect x="407.2" y="679.1" width="16.0" height="1.0" fill="#256638"/><rect x="407.2" y="680.1" width="16.0" height="2.0" fill="#2b733f"/><rect x="407.2" y="682.1" width="16.0" height="0.6" fill="#3b9951"/><rect x="407.2" y="682.7" width="16.0" height="1.3" fill="#378f4c"/><rect x="407.2" y="684.0" width="16.0" height="1.1" fill="#328447"/><rect x="407.2" y="685.1" width="16.0" height="1.3" fill="#338648"/><rect x="407.2" y="686.4" width="16.0" height="1.6" fill="#308045"/><rect x="407.2" y="688.0" width="16.0" height="1.0" fill="#286e3d"/><rect x="407.2" y="689.0" width="16.0" height="0.8" fill="#296f3d"/><rect x="407.2" y="689.8" width="16.0" height="0.9" fill="#205b32"/><rect x="407.2" y="690.7" width="16.0" height="1.0" fill="#1c522c"/><rect x="407.2" y="691.7" width="16.0" height="2.0" fill="#29703d"/><rect x="407.2" y="693.7" width="16.0" height="1.1" fill="#205b32"/><rect x="407.2" y="694.8" width="16.0" height="0.8" fill="#194927"/><rect x="407.2" y="695.6" width="16.0" height="0.9" fill="#174625"/><rect x="407.2" y="696.5" width="16.0" height="0.8" fill="#143e21"/><rect x="407.2" y="697.3" width="16.0" height="1.0" fill="#215e34"/><rect x="407.2" y="698.3" width="16.0" height="0.8" fill="#246537"/><rect x="407.2" y="699.1" width="16.0" height="0.9" fill="#26683a"/><rect x="407.2" y="700.0" width="16.0" height="1.3" fill="#154222"/><rect x="407.2" y="701.3" width="16.0" height="0.9" fill="#1d532d"/><rect x="407.2" y="702.2" width="16.0" height="2.0" fill="#0f3119"/><rect x="407.2" y="704.2" width="16.0" height="0.8" fill="#1b4f2b"/><rect x="407.2" y="705.8" width="16.0" height="1.0" fill="#1f5830"/><rect x="407.2" y="706.8" width="16.0" height="1.0" fill="#10341b"/><rect x="407.2" y="707.8" width="16.0" height="2.0" fill="#133c1f"/><rect x="407.2" y="709.8" width="16.0" height="1.1" fill="#04090f"/><rect x="407.2" y="710.9" width="16.0" height="0.9" fill="#164424"/><rect x="407.2" y="713.4" width="16.0" height="0.6" fill="#266a3a"/>
<rect x="423.2" y="600.5" width="16.0" height="0.6" fill="#2d7a42"/><rect x="423.2" y="601.1" width="16.0" height="1.1" fill="#0d2915"/><rect x="423.2" y="602.2" width="16.0" height="2.0" fill="#296f3d"/><rect x="423.2" y="604.2" width="16.0" height="2.0" fill="#0f3019"/><rect x="423.2" y="606.2" width="16.0" height="1.0" fill="#236236"/><rect x="423.2" y="607.2" width="16.0" height="1.6" fill="#236135"/><rect x="423.2" y="608.8" width="16.0" height="0.8" fill="#236236"/><rect x="423.2" y="609.6" width="16.0" height="1.1" fill="#276b3b"/><rect x="423.2" y="610.7" width="16.0" height="0.8" fill="#215e33"/><rect x="423.2" y="611.5" width="16.0" height="0.9" fill="#286c3c"/><rect x="423.2" y="612.4" width="16.0" height="1.6" fill="#184927"/><rect x="423.2" y="614.0" width="16.0" height="1.3" fill="#2d7942"/><rect x="423.2" y="615.3" width="16.0" height="0.9" fill="#2b7440"/><rect x="423.2" y="616.2" width="16.0" height="0.6" fill="#1d532d"/><rect x="423.2" y="616.8" width="16.0" height="1.3" fill="#276c3b"/><rect x="423.2" y="618.1" width="16.0" height="1.1" fill="#164323"/><rect x="423.2" y="619.2" width="16.0" height="1.0" fill="#226035"/><rect x="423.2" y="620.2" width="16.0" height="1.3" fill="#215d33"/><rect x="423.2" y="621.5" width="16.0" height="1.1" fill="#1b502b"/><rect x="423.2" y="622.6" width="16.0" height="0.6" fill="#286d3c"/><rect x="423.2" y="623.2" width="16.0" height="1.0" fill="#1e562f"/><rect x="423.2" y="624.2" width="16.0" height="2.0" fill="#2e7a42"/><rect x="423.2" y="626.2" width="16.0" height="1.1" fill="#194a27"/><rect x="423.2" y="627.3" width="16.0" height="1.3" fill="#2e7b43"/><rect x="423.2" y="628.6" width="16.0" height="1.0" fill="#338548"/><rect x="423.2" y="629.6" width="16.0" height="1.6" fill="#1f5930"/><rect x="423.2" y="631.2" width="16.0" height="2.0" fill="#154022"/><rect x="423.2" y="633.2" width="16.0" height="2.0" fill="#2a733f"/><rect x="423.2" y="635.2" width="16.0" height="1.1" fill="#1c512c"/><rect x="423.2" y="636.3" width="16.0" height="1.1" fill="#184826"/><rect x="423.2" y="637.4" width="16.0" height="0.6" fill="#143e20"/><rect x="423.2" y="638.0" width="16.0" height="2.0" fill="#2f7d44"/><rect x="423.2" y="640.0" width="16.0" height="1.6" fill="#184927"/><rect x="423.2" y="641.6" width="16.0" height="1.0" fill="#2d7942"/><rect x="423.2" y="642.6" width="16.0" height="0.6" fill="#276c3b"/><rect x="423.2" y="643.2" width="16.0" height="0.8" fill="#276b3b"/><rect x="423.2" y="644.0" width="16.0" height="0.8" fill="#2a713e"/><rect x="423.2" y="644.8" width="16.0" height="2.0" fill="#226035"/><rect x="423.2" y="646.8" width="16.0" height="0.8" fill="#174524"/><rect x="423.2" y="647.6" width="16.0" height="1.0" fill="#256839"/><rect x="423.2" y="648.6" width="16.0" height="0.9" fill="#133d20"/><rect x="423.2" y="649.5" width="16.0" height="1.0" fill="#215e33"/><rect x="423.2" y="650.5" width="16.0" height="1.3" fill="#174525"/><rect x="423.2" y="651.8" width="16.0" height="0.6" fill="#246437"/><rect x="423.2" y="652.4" width="16.0" height="2.0" fill="#205b32"/><rect x="423.2" y="654.4" width="16.0" height="0.6" fill="#1a4d29"/><rect x="423.2" y="655.0" width="16.0" height="0.9" fill="#276b3b"/><rect x="423.2" y="655.9" width="16.0" height="0.9" fill="#205a31"/><rect x="423.2" y="656.8" width="16.0" height="0.6" fill="#2c7640"/><rect x="423.2" y="657.4" width="16.0" height="2.0" fill="#2f7e44"/><rect x="423.2" y="659.4" width="16.0" height="2.0" fill="#328447"/><rect x="423.2" y="661.4" width="16.0" height="0.9" fill="#205b32"/><rect x="423.2" y="662.3" width="16.0" height="1.6" fill="#338648"/><rect x="423.2" y="663.9" width="16.0" height="1.6" fill="#276c3b"/><rect x="423.2" y="665.5" width="16.0" height="0.9" fill="#3a9550"/><rect x="423.2" y="666.4" width="16.0" height="2.0" fill="#26693a"/><rect x="423.2" y="668.4" width="16.0" height="2.0" fill="#266839"/><rect x="423.2" y="670.4" width="16.0" height="1.3" fill="#338548"/><rect x="423.2" y="671.7" width="16.0" height="1.0" fill="#348749"/><rect x="423.2" y="672.7" width="16.0" height="1.6" fill="#39924e"/><rect x="423.2" y="674.3" width="16.0" height="0.9" fill="#378f4c"/><rect x="423.2" y="675.2" width="16.0" height="1.1" fill="#328347"/><rect x="423.2" y="676.3" width="16.0" height="0.8" fill="#378f4c"/><rect x="423.2" y="677.1" width="16.0" height="2.0" fill="#308045"/><rect x="423.2" y="679.1" width="16.0" height="1.0" fill="#2b7540"/><rect x="423.2" y="680.1" width="16.0" height="2.0" fill="#29713e"/><rect x="423.2" y="682.1" width="16.0" height="0.6" fill="#439f56"/><rect x="423.2" y="682.7" width="16.0" height="1.3" fill="#34894a"/><rect x="423.2" y="684.0" width="16.0" height="1.1" fill="#2e7b43"/><rect x="423.2" y="685.1" width="16.0" height="1.3" fill="#2f7e44"/><rect x="423.2" y="686.4" width="16.0" height="1.6" fill="#215e33"/><rect x="423.2" y="688.0" width="16.0" height="1.0" fill="#358a4a"/><rect x="423.2" y="689.0" width="16.0" height="0.8" fill="#286d3c"/><rect x="423.2" y="689.8" width="16.0" height="0.9" fill="#1c522c"/><rect x="423.2" y="690.7" width="16.0" height="1.0" fill="#226035"/><rect x="423.2" y="691.7" width="16.0" height="2.0" fill="#2f7e44"/><rect x="423.2" y="693.7" width="16.0" height="1.1" fill="#2e7a42"/><rect x="423.2" y="694.8" width="16.0" height="0.8" fill="#2c7540"/><rect x="423.2" y="695.6" width="16.0" height="0.9" fill="#286e3c"/><rect x="423.2" y="696.5" width="16.0" height="0.8" fill="#38914e"/><rect x="423.2" y="697.3" width="16.0" height="1.0" fill="#348749"/><rect x="423.2" y="698.3" width="16.0" height="0.8" fill="#358b4b"/><rect x="423.2" y="699.1" width="16.0" height="0.9" fill="#26683a"/><rect x="423.2" y="700.0" width="16.0" height="1.3" fill="#1b502b"/><rect x="423.2" y="701.3" width="16.0" height="0.9" fill="#205b32"/><rect x="423.2" y="702.2" width="16.0" height="2.0" fill="#1f5931"/><rect x="423.2" y="704.2" width="16.0" height="0.8" fill="#1a4d2a"/><rect x="423.2" y="705.0" width="16.0" height="0.8" fill="#194b28"/><rect x="423.2" y="705.8" width="16.0" height="1.0" fill="#1d542e"/><rect x="423.2" y="706.8" width="16.0" height="1.0" fill="#226035"/><rect x="423.2" y="707.8" width="16.0" height="2.0" fill="#276a3b"/><rect x="423.2" y="710.9" width="16.0" height="0.9" fill="#194927"/><rect x="423.2" y="711.8" width="16.0" height="1.6" fill="#0d2915"/><rect x="423.2" y="713.4" width="16.0" height="0.6" fill="#225f34"/>
<rect x="439.2" y="601.1" width="16.0" height="1.1" fill="#0d1d2f"/><rect x="439.2" y="602.2" width="16.0" height="2.0" fill="#1a4d29"/><rect x="439.2" y="606.2" width="16.0" height="1.0" fill="#1b502b"/><rect x="439.2" y="607.2" width="16.0" height="1.6" fill="#0a2111"/><rect x="439.2" y="608.8" width="16.0" height="0.8" fill="#051109"/><rect x="439.2" y="609.6" width="16.0" height="1.1" fill="#143e21"/><rect x="439.2" y="610.7" width="16.0" height="0.8" fill="#1d542d"/><rect x="439.2" y="611.5" width="16.0" height="0.9" fill="#0d2915"/><rect x="439.2" y="614.0" width="16.0" height="1.3" fill="#0f311a"/><rect x="439.2" y="615.3" width="16.0" height="0.9" fill="#15304b"/><rect x="439.2" y="616.2" width="16.0" height="0.6" fill="#174625"/><rect x="439.2" y="616.8" width="16.0" height="1.3" fill="#1f5830"/><rect x="439.2" y="619.2" width="16.0" height="1.0" fill="#205b32"/><rect x="439.2" y="621.5" width="16.0" height="1.1" fill="#10331a"/><rect x="439.2" y="623.2" width="16.0" height="1.0" fill="#154122"/><rect x="439.2" y="624.2" width="16.0" height="2.0" fill="#215d33"/><rect x="439.2" y="626.2" width="16.0" height="1.1" fill="#226035"/><rect x="439.2" y="627.3" width="16.0" height="1.3" fill="#2a713e"/><rect x="439.2" y="628.6" width="16.0" height="1.0" fill="#194a27"/><rect x="439.2" y="629.6" width="16.0" height="1.6" fill="#1a4c29"/><rect x="439.2" y="631.2" width="16.0" height="2.0" fill="#0c2513"/><rect x="439.2" y="633.2" width="16.0" height="2.0" fill="#0c2614"/><rect x="439.2" y="636.3" width="16.0" height="1.1" fill="#07170c"/><rect x="439.2" y="638.0" width="16.0" height="2.0" fill="#1d542d"/><rect x="439.2" y="640.0" width="16.0" height="1.6" fill="#205c32"/><rect x="439.2" y="642.6" width="16.0" height="0.6" fill="#154122"/><rect x="439.2" y="643.2" width="16.0" height="0.8" fill="#1a4d2a"/><rect x="439.2" y="644.0" width="16.0" height="0.8" fill="#144021"/><rect x="439.2" y="647.6" width="16.0" height="1.0" fill="#070f18"/><rect x="439.2" y="648.6" width="16.0" height="0.9" fill="#0b2413"/><rect x="439.2" y="649.5" width="16.0" height="1.0" fill="#1c532d"/><rect x="439.2" y="650.5" width="16.0" height="1.3" fill="#081a0d"/><rect x="439.2" y="652.4" width="16.0" height="2.0" fill="#215d33"/><rect x="439.2" y="654.4" width="16.0" height="0.6" fill="#184826"/><rect x="439.2" y="655.0" width="16.0" height="0.9" fill="#164323"/><rect x="439.2" y="655.9" width="16.0" height="0.9" fill="#154122"/><rect x="439.2" y="656.8" width="16.0" height="0.6" fill="#184927"/><rect x="439.2" y="657.4" width="16.0" height="2.0" fill="#1a4c29"/><rect x="439.2" y="659.4" width="16.0" height="2.0" fill="#164323"/><rect x="439.2" y="661.4" width="16.0" height="0.9" fill="#184726"/><rect x="439.2" y="662.3" width="16.0" height="1.6" fill="#08190d"/><rect x="439.2" y="663.9" width="16.0" height="1.6" fill="#1d532d"/><rect x="439.2" y="665.5" width="16.0" height="0.9" fill="#0d1e2f"/><rect x="439.2" y="666.4" width="16.0" height="2.0" fill="#154022"/><rect x="439.2" y="668.4" width="16.0" height="2.0" fill="#050b12"/><rect x="439.2" y="671.7" width="16.0" height="1.0" fill="#11273e"/><rect x="439.2" y="676.3" width="16.0" height="0.8" fill="#174525"/><rect x="439.2" y="677.1" width="16.0" height="2.0" fill="#226034"/><rect x="439.2" y="679.1" width="16.0" height="1.0" fill="#071019"/><rect x="439.2" y="680.1" width="16.0" height="2.0" fill="#164324"/><rect x="439.2" y="682.1" width="16.0" height="0.6" fill="#184826"/><rect x="439.2" y="682.7" width="16.0" height="1.3" fill="#174625"/><rect x="439.2" y="684.0" width="16.0" height="1.1" fill="#1c522c"/><rect x="439.2" y="685.1" width="16.0" height="1.3" fill="#123a1e"/><rect x="439.2" y="688.0" width="16.0" height="1.0" fill="#1b4e2a"/><rect x="439.2" y="690.7" width="16.0" height="1.0" fill="#0e2f18"/><rect x="439.2" y="691.7" width="16.0" height="2.0" fill="#154223"/><rect x="439.2" y="693.7" width="16.0" height="1.1" fill="#184826"/><rect x="439.2" y="694.8" width="16.0" height="0.8" fill="#11361c"/><rect x="439.2" y="695.6" width="16.0" height="0.9" fill="#0d2a16"/><rect x="439.2" y="696.5" width="16.0" height="0.8" fill="#194b28"/><rect x="439.2" y="697.3" width="16.0" height="1.0" fill="#1e552e"/><rect x="439.2" y="698.3" width="16.0" height="0.8" fill="#133d1f"/><rect x="439.2" y="699.1" width="16.0" height="0.9" fill="#205a31"/><rect x="439.2" y="700.0" width="16.0" height="1.3" fill="#0e2d17"/><rect x="439.2" y="701.3" width="16.0" height="0.9" fill="#133c1f"/><rect x="439.2" y="705.0" width="16.0" height="0.8" fill="#0a2010"/><rect x="439.2" y="705.8" width="16.0" height="1.0" fill="#1d542e"/><rect x="439.2" y="706.8" width="16.0" height="1.0" fill="#091c0e"/><rect x="439.2" y="707.8" width="16.0" height="2.0" fill="#142d47"/><rect x="439.2" y="709.8" width="16.0" height="1.1" fill="#0a1f10"/><rect x="439.2" y="713.4" width="16.0" height="0.6" fill="#1b502b"/>
<rect x="455.2" y="601.1" width="16.0" height="1.1" fill="#040a10"/><rect x="455.2" y="604.2" width="16.0" height="2.0" fill="#0c2815"/><rect x="455.2" y="606.2" width="16.0" height="1.0" fill="#07101a"/><rect x="455.2" y="608.8" width="16.0" height="0.8" fill="#11361c"/><rect x="455.2" y="609.6" width="16.0" height="1.1" fill="#164323"/><rect x="455.2" y="611.5" width="16.0" height="0.9" fill="#0b1826"/><rect x="455.2" y="614.0" width="16.0" height="1.3" fill="#133d20"/><rect x="455.2" y="618.1" width="16.0" height="1.1" fill="#091c0e"/><rect x="455.2" y="619.2" width="16.0" height="1.0" fill="#143e21"/><rect x="455.2" y="620.2" width="16.0" height="1.3" fill="#10321a"/><rect x="455.2" y="621.5" width="16.0" height="1.1" fill="#133e20"/><rect x="455.2" y="626.2" width="16.0" height="1.1" fill="#133c1f"/><rect x="455.2" y="627.3" width="16.0" height="1.3" fill="#174625"/><rect x="455.2" y="628.6" width="16.0" height="1.0" fill="#122941"/><rect x="455.2" y="633.2" width="16.0" height="2.0" fill="#07160b"/><rect x="455.2" y="636.3" width="16.0" height="1.1" fill="#060e16"/><rect x="455.2" y="640.0" width="16.0" height="1.6" fill="#11371c"/><rect x="455.2" y="643.2" width="16.0" height="0.8" fill="#091521"/><rect x="455.2" y="649.5" width="16.0" height="1.0" fill="#09131f"/><rect x="455.2" y="650.5" width="16.0" height="1.3" fill="#070f18"/><rect x="455.2" y="652.4" width="16.0" height="2.0" fill="#154022"/><rect x="455.2" y="659.4" width="16.0" height="2.0" fill="#0f3119"/><rect x="455.2" y="663.9" width="16.0" height="1.6" fill="#04090f"/><rect x="455.2" y="665.5" width="16.0" height="0.9" fill="#0b2312"/><rect x="455.2" y="674.3" width="16.0" height="0.9" fill="#0d2915"/><rect x="455.2" y="675.2" width="16.0" height="1.1" fill="#0e2d18"/><rect x="455.2" y="676.3" width="16.0" height="0.8" fill="#0c2614"/><rect x="455.2" y="677.1" width="16.0" height="2.0" fill="#123a1e"/><rect x="455.2" y="680.1" width="16.0" height="2.0" fill="#07180c"/><rect x="455.2" y="682.7" width="16.0" height="1.3" fill="#0b2413"/><rect x="455.2" y="684.0" width="16.0" height="1.1" fill="#154022"/><rect x="455.2" y="685.1" width="16.0" height="1.3" fill="#07180c"/><rect x="455.2" y="686.4" width="16.0" height="1.6" fill="#07101a"/><rect x="455.2" y="688.0" width="16.0" height="1.0" fill="#0f2f18"/><rect x="455.2" y="690.7" width="16.0" height="1.0" fill="#091d0f"/><rect x="455.2" y="693.7" width="16.0" height="1.1" fill="#08190d"/><rect x="455.2" y="694.8" width="16.0" height="0.8" fill="#174525"/><rect x="455.2" y="699.1" width="16.0" height="0.9" fill="#08111b"/><rect x="455.2" y="705.0" width="16.0" height="0.8" fill="#0d2b16"/><rect x="455.2" y="707.8" width="16.0" height="2.0" fill="#164424"/><rect x="455.2" y="710.9" width="16.0" height="0.9" fill="#050c14"/>
<rect x="471.2" y="606.2" width="16.0" height="1.0" fill="#08121c"/><rect x="471.2" y="614.0" width="16.0" height="1.3" fill="#091d0f"/><rect x="471.2" y="636.3" width="16.0" height="1.1" fill="#10253a"/><rect x="471.2" y="642.6" width="16.0" height="0.6" fill="#07111a"/><rect x="471.2" y="643.2" width="16.0" height="0.8" fill="#04090e"/><rect x="471.2" y="650.5" width="16.0" height="1.3" fill="#060e16"/><rect x="471.2" y="661.4" width="16.0" height="0.9" fill="#050a10"/><rect x="471.2" y="663.9" width="16.0" height="1.6" fill="#071019"/><rect x="471.2" y="675.2" width="16.0" height="1.1" fill="#091521"/><rect x="471.2" y="685.1" width="16.0" height="1.3" fill="#08131e"/><rect x="471.2" y="689.0" width="16.0" height="0.8" fill="#050a11"/><rect x="471.2" y="694.8" width="16.0" height="0.8" fill="#0c1c2d"/><rect x="471.2" y="696.5" width="16.0" height="0.8" fill="#050f08"/><rect x="471.2" y="697.3" width="16.0" height="1.0" fill="#060d14"/><rect x="471.2" y="701.3" width="16.0" height="0.9" fill="#040a10"/><rect x="471.2" y="705.0" width="16.0" height="0.8" fill="#08121c"/><rect x="471.2" y="706.8" width="16.0" height="1.0" fill="#04090e"/><rect x="471.2" y="707.8" width="16.0" height="2.0" fill="#0b1927"/><rect x="471.2" y="710.9" width="16.0" height="0.9" fill="#060d14"/>
<rect x="487.2" y="610.7" width="16.0" height="0.8" fill="#050c14"/><rect x="487.2" y="614.0" width="16.0" height="1.3" fill="#071019"/><rect x="487.2" y="615.3" width="16.0" height="0.9" fill="#0c1b2a"/><rect x="487.2" y="633.2" width="16.0" height="2.0" fill="#091521"/><rect x="487.2" y="640.0" width="16.0" height="1.6" fill="#061209"/><rect x="487.2" y="650.5" width="16.0" height="1.3" fill="#0a1724"/><rect x="487.2" y="656.8" width="16.0" height="0.6" fill="#050c14"/><rect x="487.2" y="668.4" width="16.0" height="2.0" fill="#050b12"/><rect x="487.2" y="690.7" width="16.0" height="1.0" fill="#050b11"/><rect x="487.2" y="691.7" width="16.0" height="2.0" fill="#0a1622"/><rect x="487.2" y="701.3" width="16.0" height="0.9" fill="#091521"/><rect x="487.2" y="705.0" width="16.0" height="0.8" fill="#050c13"/>
<rect x="503.2" y="601.1" width="16.0" height="1.1" fill="#0c1a2a"/><rect x="503.2" y="606.2" width="16.0" height="1.0" fill="#0f2236"/><rect x="503.2" y="609.6" width="16.0" height="1.1" fill="#08121c"/><rect x="503.2" y="612.4" width="16.0" height="1.6" fill="#142d47"/><rect x="503.2" y="626.2" width="16.0" height="1.1" fill="#0e1f31"/><rect x="503.2" y="633.2" width="16.0" height="2.0" fill="#0a1f10"/><rect x="503.2" y="643.2" width="16.0" height="0.8" fill="#060d15"/><rect x="503.2" y="647.6" width="16.0" height="1.0" fill="#15304b"/><rect x="503.2" y="650.5" width="16.0" height="1.3" fill="#0d1e30"/><rect x="503.2" y="662.3" width="16.0" height="1.6" fill="#0a1826"/><rect x="503.2" y="663.9" width="16.0" height="1.6" fill="#163452"/><rect x="503.2" y="665.5" width="16.0" height="0.9" fill="#0f2337"/><rect x="503.2" y="679.1" width="16.0" height="1.0" fill="#163350"/><rect x="503.2" y="680.1" width="16.0" height="2.0" fill="#091522"/><rect x="503.2" y="685.1" width="16.0" height="1.3" fill="#040a0f"/><rect x="503.2" y="689.0" width="16.0" height="0.8" fill="#08131f"/><rect x="503.2" y="691.7" width="16.0" height="2.0" fill="#09141f"/><rect x="503.2" y="693.7" width="16.0" height="1.1" fill="#07180c"/><rect x="503.2" y="694.8" width="16.0" height="0.8" fill="#060d14"/><rect x="503.2" y="705.0" width="16.0" height="0.8" fill="#0e2032"/><rect x="503.2" y="707.8" width="16.0" height="2.0" fill="#0b1826"/><rect x="503.2" y="710.9" width="16.0" height="0.9" fill="#050f08"/>
<rect x="391" y="600.50" width="1.6" height="113.50" fill="#000"/>
<rect x="391.20" y="719.70" width="128.00" height="113.50" fill="#000"/>
<rect x="391.2" y="719.7" width="16.0" height="0.8" fill="#08111b"/><rect x="391.2" y="720.5" width="16.0" height="1.3" fill="#11263c"/><rect x="391.2" y="721.8" width="16.0" height="2.0" fill="#07170c"/><rect x="391.2" y="731.6" width="16.0" height="0.6" fill="#0c2614"/><rect x="391.2" y="732.2" width="16.0" height="1.6" fill="#060d14"/><rect x="391.2" y="736.2" width="16.0" height="1.6" fill="#051109"/><rect x="391.2" y="746.3" width="16.0" height="0.6" fill="#04090e"/><rect x="391.2" y="746.9" width="16.0" height="0.9" fill="#061209"/><rect x="391.2" y="747.8" width="16.0" height="1.0" fill="#060e16"/><rect x="391.2" y="751.4" width="16.0" height="1.3" fill="#0d1e30"/><rect x="391.2" y="757.1" width="16.0" height="0.6" fill="#091d0f"/><rect x="391.2" y="757.7" width="16.0" height="1.3" fill="#051009"/><rect x="391.2" y="759.0" width="16.0" height="1.6" fill="#060d15"/><rect x="391.2" y="764.9" width="16.0" height="1.6" fill="#0a1623"/><rect x="391.2" y="769.3" width="16.0" height="0.9" fill="#070f18"/><rect x="391.2" y="778.4" width="16.0" height="0.6" fill="#07160c"/><rect x="391.2" y="779.0" width="16.0" height="0.6" fill="#1a3e60"/><rect x="391.2" y="781.2" width="16.0" height="1.0" fill="#03070b"/><rect x="391.2" y="782.2" width="16.0" height="0.9" fill="#091e0f"/><rect x="391.2" y="794.6" width="16.0" height="0.6" fill="#071019"/><rect x="391.2" y="797.5" width="16.0" height="1.1" fill="#070f17"/><rect x="391.2" y="802.1" width="16.0" height="2.0" fill="#040c06"/><rect x="391.2" y="806.1" width="16.0" height="0.9" fill="#0a1725"/><rect x="391.2" y="808.8" width="16.0" height="2.0" fill="#06130a"/><rect x="391.2" y="810.8" width="16.0" height="0.9" fill="#051209"/><rect x="391.2" y="811.7" width="16.0" height="0.9" fill="#030a05"/><rect x="391.2" y="814.6" width="16.0" height="2.0" fill="#03070b"/><rect x="391.2" y="816.6" width="16.0" height="0.9" fill="#0a2010"/><rect x="391.2" y="819.7" width="16.0" height="1.1" fill="#0a1623"/><rect x="391.2" y="826.2" width="16.0" height="1.0" fill="#0a2111"/><rect x="391.2" y="831.3" width="16.0" height="1.6" fill="#102439"/>
<rect x="407.2" y="719.7" width="16.0" height="0.8" fill="#0e2033"/><rect x="407.2" y="721.8" width="16.0" height="2.0" fill="#04090f"/><rect x="407.2" y="725.8" width="16.0" height="2.0" fill="#060e16"/><rect x="407.2" y="731.6" width="16.0" height="0.6" fill="#0b2513"/><rect x="407.2" y="732.2" width="16.0" height="1.6" fill="#07170c"/><rect x="407.2" y="734.9" width="16.0" height="1.3" fill="#0b1928"/><rect x="407.2" y="739.4" width="16.0" height="1.1" fill="#0e2c17"/><rect x="407.2" y="742.6" width="16.0" height="1.1" fill="#0e2134"/><rect x="407.2" y="751.4" width="16.0" height="1.3" fill="#040e07"/><rect x="407.2" y="754.3" width="16.0" height="2.0" fill="#0d1c2d"/><rect x="407.2" y="757.1" width="16.0" height="0.6" fill="#07180c"/><rect x="407.2" y="757.7" width="16.0" height="1.3" fill="#050b11"/><rect x="407.2" y="764.9" width="16.0" height="1.6" fill="#08190d"/><rect x="407.2" y="769.3" width="16.0" height="0.9" fill="#091420"/><rect x="407.2" y="771.5" width="16.0" height="1.6" fill="#030b06"/><rect x="407.2" y="775.6" width="16.0" height="0.8" fill="#0a2111"/><rect x="407.2" y="779.0" width="16.0" height="0.6" fill="#06130a"/><rect x="407.2" y="782.2" width="16.0" height="0.9" fill="#0a1622"/><rect x="407.2" y="789.2" width="16.0" height="1.6" fill="#0d2a16"/><rect x="407.2" y="790.8" width="16.0" height="0.9" fill="#0b2412"/><rect x="407.2" y="792.3" width="16.0" height="1.3" fill="#04090e"/><rect x="407.2" y="793.6" width="16.0" height="1.0" fill="#0b1927"/><rect x="407.2" y="795.2" width="16.0" height="1.0" fill="#0f2236"/><rect x="407.2" y="801.1" width="16.0" height="1.0" fill="#060d14"/><rect x="407.2" y="804.1" width="16.0" height="1.1" fill="#08131e"/><rect x="407.2" y="806.1" width="16.0" height="0.9" fill="#091f10"/><rect x="407.2" y="808.8" width="16.0" height="2.0" fill="#060f17"/><rect x="407.2" y="810.8" width="16.0" height="0.9" fill="#133d20"/><rect x="407.2" y="811.7" width="16.0" height="0.9" fill="#08131e"/><rect x="407.2" y="814.6" width="16.0" height="2.0" fill="#0a1623"/><rect x="407.2" y="816.6" width="16.0" height="0.9" fill="#0c1c2c"/><rect x="407.2" y="823.4" width="16.0" height="0.8" fill="#10253b"/><rect x="407.2" y="831.3" width="16.0" height="1.6" fill="#0a2111"/>
<rect x="423.2" y="719.7" width="16.0" height="0.8" fill="#154122"/><rect x="423.2" y="720.5" width="16.0" height="1.3" fill="#11371c"/><rect x="423.2" y="721.8" width="16.0" height="2.0" fill="#1c532d"/><rect x="423.2" y="723.8" width="16.0" height="2.0" fill="#2c7741"/><rect x="423.2" y="725.8" width="16.0" height="2.0" fill="#0c2614"/><rect x="423.2" y="728.8" width="16.0" height="0.8" fill="#1f5830"/><rect x="423.2" y="729.6" width="16.0" height="2.0" fill="#154122"/><rect x="423.2" y="731.6" width="16.0" height="0.6" fill="#2e7a42"/><rect x="423.2" y="732.2" width="16.0" height="1.6" fill="#174726"/><rect x="423.2" y="734.9" width="16.0" height="1.3" fill="#246337"/><rect x="423.2" y="736.2" width="16.0" height="1.6" fill="#091c0e"/><rect x="423.2" y="737.8" width="16.0" height="1.6" fill="#1d532d"/><rect x="423.2" y="739.4" width="16.0" height="1.1" fill="#1f5830"/><rect x="423.2" y="740.5" width="16.0" height="1.0" fill="#1f5930"/><rect x="423.2" y="742.6" width="16.0" height="1.1" fill="#133b1f"/><rect x="423.2" y="743.7" width="16.0" height="1.0" fill="#1e562e"/><rect x="423.2" y="744.7" width="16.0" height="1.6" fill="#194b28"/><rect x="423.2" y="746.3" width="16.0" height="0.6" fill="#1e552e"/><rect x="423.2" y="746.9" width="16.0" height="0.9" fill="#184927"/><rect x="423.2" y="747.8" width="16.0" height="1.0" fill="#256739"/><rect x="423.2" y="749.4" width="16.0" height="2.0" fill="#11361c"/><rect x="423.2" y="751.4" width="16.0" height="1.3" fill="#051109"/><rect x="423.2" y="754.3" width="16.0" height="2.0" fill="#1b4f2a"/><rect x="423.2" y="756.3" width="16.0" height="1.4" fill="#174625"/><rect x="423.2" y="757.7" width="16.0" height="1.3" fill="#205c32"/><rect x="423.2" y="759.0" width="16.0" height="1.6" fill="#215e34"/><rect x="423.2" y="760.6" width="16.0" height="0.9" fill="#184826"/><rect x="423.2" y="761.5" width="16.0" height="1.6" fill="#0e2d17"/><rect x="423.2" y="764.1" width="16.0" height="0.8" fill="#04090e"/><rect x="423.2" y="764.9" width="16.0" height="1.6" fill="#06130a"/><rect x="423.2" y="768.2" width="16.0" height="1.1" fill="#122a42"/><rect x="423.2" y="769.3" width="16.0" height="0.9" fill="#11273e"/><rect x="423.2" y="770.2" width="16.0" height="1.3" fill="#11283f"/><rect x="423.2" y="771.5" width="16.0" height="1.6" fill="#051109"/><rect x="423.2" y="783.1" width="16.0" height="1.6" fill="#091420"/><rect x="423.2" y="795.2" width="16.0" height="1.0" fill="#0c1a2a"/><rect x="423.2" y="796.2" width="16.0" height="1.3" fill="#04090e"/><rect x="423.2" y="800.2" width="16.0" height="0.9" fill="#132c45"/><rect x="423.2" y="801.1" width="16.0" height="1.0" fill="#0a2211"/><rect x="423.2" y="804.1" width="16.0" height="1.1" fill="#040b06"/><rect x="423.2" y="814.6" width="16.0" height="2.0" fill="#04080d"/><rect x="423.2" y="819.1" width="16.0" height="0.6" fill="#091d0f"/><rect x="423.2" y="823.4" width="16.0" height="0.8" fill="#08190d"/><rect x="423.2" y="824.2" width="16.0" height="2.0" fill="#0a1724"/><rect x="423.2" y="826.2" width="16.0" height="1.0" fill="#03070b"/><rect x="423.2" y="829.3" width="16.0" height="2.0" fill="#060e17"/>
<rect x="439.2" y="719.7" width="16.0" height="0.8" fill="#2b743f"/><rect x="439.2" y="720.5" width="16.0" height="1.3" fill="#205c32"/><rect x="439.2" y="721.8" width="16.0" height="2.0" fill="#205a31"/><rect x="439.2" y="723.8" width="16.0" height="2.0" fill="#1a4c29"/><rect x="439.2" y="725.8" width="16.0" height="2.0" fill="#409d54"/><rect x="439.2" y="727.8" width="16.0" height="1.0" fill="#2f7d44"/><rect x="439.2" y="728.8" width="16.0" height="0.8" fill="#184927"/><rect x="439.2" y="729.6" width="16.0" height="2.0" fill="#338648"/><rect x="439.2" y="731.6" width="16.0" height="0.6" fill="#439f56"/><rect x="439.2" y="732.2" width="16.0" height="1.6" fill="#1a4d29"/><rect x="439.2" y="733.8" width="16.0" height="1.1" fill="#1b4f2b"/><rect x="439.2" y="734.9" width="16.0" height="1.3" fill="#35894a"/><rect x="439.2" y="736.2" width="16.0" height="1.6" fill="#307e44"/><rect x="439.2" y="737.8" width="16.0" height="1.6" fill="#3c9952"/><rect x="439.2" y="739.4" width="16.0" height="1.1" fill="#4aa55b"/><rect x="439.2" y="740.5" width="16.0" height="1.0" fill="#236136"/><rect x="439.2" y="741.5" width="16.0" height="1.1" fill="#2c7640"/><rect x="439.2" y="742.6" width="16.0" height="1.1" fill="#2b733f"/><rect x="439.2" y="743.7" width="16.0" height="1.0" fill="#2b7540"/><rect x="439.2" y="744.7" width="16.0" height="1.6" fill="#10341b"/><rect x="439.2" y="746.3" width="16.0" height="0.6" fill="#194b28"/><rect x="439.2" y="746.9" width="16.0" height="0.9" fill="#1d552e"/><rect x="439.2" y="747.8" width="16.0" height="1.0" fill="#215c32"/><rect x="439.2" y="751.4" width="16.0" height="1.3" fill="#132b44"/><rect x="439.2" y="756.3" width="16.0" height="0.8" fill="#174524"/><rect x="439.2" y="757.1" width="16.0" height="0.6" fill="#04090f"/><rect x="439.2" y="757.7" width="16.0" height="1.3" fill="#174625"/><rect x="439.2" y="759.0" width="16.0" height="1.6" fill="#194a28"/><rect x="439.2" y="760.6" width="16.0" height="0.9" fill="#286d3c"/><rect x="439.2" y="761.5" width="16.0" height="1.6" fill="#0d2915"/><rect x="439.2" y="764.1" width="16.0" height="0.8" fill="#236135"/><rect x="439.2" y="764.9" width="16.0" height="1.6" fill="#205b32"/><rect x="439.2" y="767.6" width="16.0" height="0.6" fill="#164324"/><rect x="439.2" y="768.2" width="16.0" height="1.1" fill="#1d532d"/><rect x="439.2" y="769.3" width="16.0" height="2.2" fill="#143f21"/><rect x="439.2" y="771.5" width="16.0" height="1.6" fill="#236336"/><rect x="439.2" y="773.1" width="16.0" height="1.6" fill="#1a4c29"/><rect x="439.2" y="774.7" width="16.0" height="0.9" fill="#11381d"/><rect x="439.2" y="775.6" width="16.0" height="0.8" fill="#0c2714"/><rect x="439.2" y="776.4" width="16.0" height="2.0" fill="#133c1f"/><rect x="439.2" y="778.4" width="16.0" height="0.6" fill="#1e562f"/><rect x="439.2" y="779.0" width="16.0" height="0.6" fill="#08180d"/><rect x="439.2" y="781.2" width="16.0" height="1.0" fill="#1d542d"/><rect x="439.2" y="784.7" width="16.0" height="1.3" fill="#11371c"/><rect x="439.2" y="786.0" width="16.0" height="1.3" fill="#154022"/><rect x="439.2" y="787.9" width="16.0" height="1.3" fill="#1b502b"/><rect x="439.2" y="789.2" width="16.0" height="1.6" fill="#07170c"/><rect x="439.2" y="792.3" width="16.0" height="1.3" fill="#1d542d"/><rect x="439.2" y="794.6" width="16.0" height="0.6" fill="#0e2c17"/><rect x="439.2" y="795.2" width="16.0" height="1.0" fill="#1c522c"/><rect x="439.2" y="796.2" width="16.0" height="1.3" fill="#174625"/><rect x="439.2" y="798.6" width="16.0" height="1.6" fill="#1a4c29"/><rect x="439.2" y="800.2" width="16.0" height="0.9" fill="#123a1e"/><rect x="439.2" y="801.1" width="16.0" height="1.0" fill="#184827"/><rect x="439.2" y="802.1" width="16.0" height="2.0" fill="#144021"/><rect x="439.2" y="804.1" width="16.0" height="1.1" fill="#0f3019"/><rect x="439.2" y="807.0" width="16.0" height="0.9" fill="#0f2f18"/><rect x="439.2" y="807.9" width="16.0" height="0.9" fill="#164223"/><rect x="439.2" y="810.8" width="16.0" height="0.9" fill="#184726"/><rect x="439.2" y="811.7" width="16.0" height="0.9" fill="#215e34"/><rect x="439.2" y="814.6" width="16.0" height="2.0" fill="#1d542d"/><rect x="439.2" y="819.7" width="16.0" height="1.1" fill="#11351c"/><rect x="439.2" y="820.8" width="16.0" height="0.6" fill="#0d2a16"/><rect x="439.2" y="821.4" width="16.0" height="2.0" fill="#133c1f"/><rect x="439.2" y="823.4" width="16.0" height="0.8" fill="#133d20"/><rect x="439.2" y="824.2" width="16.0" height="2.0" fill="#0e2c17"/><rect x="439.2" y="826.2" width="16.0" height="1.0" fill="#143e20"/><rect x="439.2" y="827.2" width="16.0" height="1.3" fill="#07170c"/><rect x="439.2" y="828.5" width="16.0" height="0.8" fill="#318146"/><rect x="439.2" y="829.3" width="16.0" height="2.0" fill="#164424"/><rect x="439.2" y="831.3" width="16.0" height="1.6" fill="#10341b"/>
<rect x="455.2" y="719.7" width="16.0" height="0.8" fill="#328447"/><rect x="455.2" y="720.5" width="16.0" height="1.3" fill="#215d33"/><rect x="455.2" y="721.8" width="16.0" height="2.0" fill="#215e33"/><rect x="455.2" y="723.8" width="16.0" height="2.0" fill="#1b4e2a"/><rect x="455.2" y="725.8" width="16.0" height="2.0" fill="#3a9550"/><rect x="455.2" y="727.8" width="16.0" height="1.0" fill="#26683a"/><rect x="455.2" y="728.8" width="16.0" height="0.8" fill="#154122"/><rect x="455.2" y="729.6" width="16.0" height="2.0" fill="#378e4c"/><rect x="455.2" y="731.6" width="16.0" height="0.6" fill="#307f45"/><rect x="455.2" y="732.2" width="16.0" height="1.6" fill="#154223"/><rect x="455.2" y="733.8" width="16.0" height="1.1" fill="#0a2111"/><rect x="455.2" y="734.9" width="16.0" height="1.3" fill="#0f3119"/><rect x="455.2" y="736.2" width="16.0" height="1.6" fill="#348849"/><rect x="455.2" y="737.8" width="16.0" height="1.6" fill="#2a713e"/><rect x="455.2" y="739.4" width="16.0" height="1.1" fill="#286e3c"/><rect x="455.2" y="740.5" width="16.0" height="1.0" fill="#2a723e"/><rect x="455.2" y="741.5" width="16.0" height="1.1" fill="#276b3b"/><rect x="455.2" y="742.6" width="16.0" height="1.1" fill="#2c7741"/><rect x="455.2" y="743.7" width="16.0" height="1.0" fill="#133c1f"/><rect x="455.2" y="744.7" width="16.0" height="1.6" fill="#1e562e"/><rect x="455.2" y="746.3" width="16.0" height="0.6" fill="#266839"/><rect x="455.2" y="746.9" width="16.0" height="0.9" fill="#154122"/><rect x="455.2" y="747.8" width="16.0" height="1.0" fill="#144021"/><rect x="455.2" y="748.8" width="16.0" height="0.6" fill="#174625"/><rect x="455.2" y="749.4" width="16.0" height="2.0" fill="#174524"/><rect x="455.2" y="751.4" width="16.0" height="1.3" fill="#11371c"/><rect x="455.2" y="757.1" width="16.0" height="0.6" fill="#2c7641"/><rect x="455.2" y="757.7" width="16.0" height="1.3" fill="#07150b"/><rect x="455.2" y="759.0" width="16.0" height="1.6" fill="#266839"/><rect x="455.2" y="761.5" width="16.0" height="1.6" fill="#194c28"/><rect x="455.2" y="763.1" width="16.0" height="1.0" fill="#1a4c29"/><rect x="455.2" y="764.1" width="16.0" height="0.8" fill="#2d7841"/><rect x="455.2" y="764.9" width="16.0" height="1.6" fill="#205b32"/><rect x="455.2" y="766.5" width="16.0" height="1.1" fill="#0f3119"/><rect x="455.2" y="767.6" width="16.0" height="0.6" fill="#0f2f18"/><rect x="455.2" y="768.2" width="16.0" height="1.1" fill="#164424"/><rect x="455.2" y="770.2" width="16.0" height="1.3" fill="#0b2413"/><rect x="455.2" y="771.5" width="16.0" height="1.6" fill="#215e34"/><rect x="455.2" y="773.1" width="16.0" height="1.6" fill="#0c2614"/><rect x="455.2" y="776.4" width="16.0" height="2.0" fill="#194b28"/><rect x="455.2" y="778.4" width="16.0" height="0.6" fill="#1b4e2a"/><rect x="455.2" y="779.0" width="16.0" height="0.6" fill="#07160c"/><rect x="455.2" y="781.2" width="16.0" height="1.0" fill="#174625"/><rect x="455.2" y="782.2" width="16.0" height="0.9" fill="#205c32"/><rect x="455.2" y="783.1" width="16.0" height="1.6" fill="#133d20"/><rect x="455.2" y="784.7" width="16.0" height="1.3" fill="#123a1e"/><rect x="455.2" y="786.0" width="16.0" height="1.3" fill="#0d2b16"/><rect x="455.2" y="787.9" width="16.0" height="1.3" fill="#246437"/><rect x="455.2" y="789.2" width="16.0" height="1.6" fill="#1d532d"/><rect x="455.2" y="790.8" width="16.0" height="0.9" fill="#246437"/><rect x="455.2" y="792.3" width="16.0" height="1.3" fill="#226035"/><rect x="455.2" y="793.6" width="16.0" height="1.0" fill="#1f5830"/><rect x="455.2" y="794.6" width="16.0" height="0.6" fill="#0e2f18"/><rect x="455.2" y="795.2" width="16.0" height="1.0" fill="#256739"/><rect x="455.2" y="796.2" width="16.0" height="1.3" fill="#143f21"/><rect x="455.2" y="797.5" width="16.0" height="1.1" fill="#050f08"/><rect x="455.2" y="798.6" width="16.0" height="1.6" fill="#133d20"/><rect x="455.2" y="800.2" width="16.0" height="0.9" fill="#184927"/><rect x="455.2" y="801.1" width="16.0" height="1.0" fill="#154022"/><rect x="455.2" y="802.1" width="16.0" height="2.0" fill="#1e572f"/><rect x="455.2" y="804.1" width="16.0" height="1.1" fill="#256638"/><rect x="455.2" y="805.2" width="16.0" height="0.9" fill="#184827"/><rect x="455.2" y="807.0" width="16.0" height="0.9" fill="#133d20"/><rect x="455.2" y="808.8" width="16.0" height="2.0" fill="#194a27"/><rect x="455.2" y="810.8" width="16.0" height="0.9" fill="#08180d"/><rect x="455.2" y="811.7" width="16.0" height="0.9" fill="#226034"/><rect x="455.2" y="812.6" width="16.0" height="2.0" fill="#276c3c"/><rect x="455.2" y="814.6" width="16.0" height="2.0" fill="#10331a"/><rect x="455.2" y="819.1" width="16.0" height="0.6" fill="#2d7842"/><rect x="455.2" y="819.7" width="16.0" height="1.1" fill="#1d542d"/><rect x="455.2" y="820.8" width="16.0" height="0.6" fill="#246538"/><rect x="455.2" y="821.4" width="16.0" height="2.0" fill="#1d552e"/><rect x="455.2" y="824.2" width="16.0" height="2.0" fill="#133d20"/><rect x="455.2" y="826.2" width="16.0" height="1.0" fill="#1b4f2a"/><rect x="455.2" y="827.2" width="16.0" height="1.3" fill="#133c1f"/><rect x="455.2" y="828.5" width="16.0" height="0.8" fill="#1c522c"/><rect x="455.2" y="829.3" width="16.0" height="2.0" fill="#1a4c29"/><rect x="455.2" y="831.3" width="16.0" height="1.6" fill="#1c522c"/><rect x="455.2" y="832.9" width="16.0" height="0.3" fill="#154022"/>
<rect x="471.2" y="719.7" width="16.0" height="0.8" fill="#133b1f"/><rect x="471.2" y="720.5" width="16.0" height="1.3" fill="#256638"/><rect x="471.2" y="721.8" width="16.0" height="2.0" fill="#205a31"/><rect x="471.2" y="723.8" width="16.0" height="2.0" fill="#215d33"/><rect x="471.2" y="725.8" width="16.0" height="2.0" fill="#307f45"/><rect x="471.2" y="728.8" width="16.0" height="0.8" fill="#246337"/><rect x="471.2" y="729.6" width="16.0" height="2.0" fill="#3a954f"/><rect x="471.2" y="731.6" width="16.0" height="0.6" fill="#256538"/><rect x="471.2" y="732.2" width="16.0" height="1.6" fill="#133c1f"/><rect x="471.2" y="733.8" width="16.0" height="1.1" fill="#0b2212"/><rect x="471.2" y="734.9" width="16.0" height="1.3" fill="#286f3d"/><rect x="471.2" y="736.2" width="16.0" height="1.6" fill="#154122"/><rect x="471.2" y="737.8" width="16.0" height="1.6" fill="#2d7841"/><rect x="471.2" y="739.4" width="16.0" height="1.1" fill="#194b28"/><rect x="471.2" y="740.5" width="16.0" height="1.0" fill="#154122"/><rect x="471.2" y="742.6" width="16.0" height="1.1" fill="#1b4f2b"/><rect x="471.2" y="743.7" width="16.0" height="1.0" fill="#143f21"/><rect x="471.2" y="744.7" width="16.0" height="1.6" fill="#08190d"/><rect x="471.2" y="746.3" width="16.0" height="0.6" fill="#0d2b16"/><rect x="471.2" y="746.9" width="16.0" height="0.9" fill="#11361c"/><rect x="471.2" y="749.4" width="16.0" height="2.0" fill="#184726"/><rect x="471.2" y="754.3" width="16.0" height="2.0" fill="#0c2614"/><rect x="471.2" y="756.3" width="16.0" height="0.8" fill="#07180c"/><rect x="471.2" y="757.1" width="16.0" height="0.6" fill="#11381d"/><rect x="471.2" y="757.7" width="16.0" height="1.3" fill="#0b2413"/><rect x="471.2" y="759.0" width="16.0" height="1.6" fill="#0e2e18"/><rect x="471.2" y="761.5" width="16.0" height="1.6" fill="#08190d"/><rect x="471.2" y="768.2" width="16.0" height="1.1" fill="#060e16"/><rect x="471.2" y="769.3" width="16.0" height="0.9" fill="#07170c"/><rect x="471.2" y="773.1" width="16.0" height="1.6" fill="#06130a"/><rect x="471.2" y="776.4" width="16.0" height="2.0" fill="#0e2e18"/><rect x="471.2" y="781.2" width="16.0" height="1.0" fill="#0a2011"/><rect x="471.2" y="784.7" width="16.0" height="1.3" fill="#0e2e18"/><rect x="471.2" y="792.3" width="16.0" height="1.3" fill="#091e0f"/><rect x="471.2" y="798.6" width="16.0" height="1.6" fill="#11381d"/><rect x="471.2" y="804.1" width="16.0" height="1.1" fill="#051008"/><rect x="471.2" y="816.6" width="16.0" height="0.9" fill="#050f08"/><rect x="471.2" y="819.7" width="16.0" height="1.1" fill="#060c14"/><rect x="471.2" y="827.2" width="16.0" height="1.3" fill="#091e10"/>
<rect x="487.2" y="719.7" width="16.0" height="0.8" fill="#123b1e"/><rect x="487.2" y="720.5" width="16.0" height="1.3" fill="#0e2c17"/><rect x="487.2" y="721.8" width="16.0" height="2.0" fill="#164424"/><rect x="487.2" y="723.8" width="16.0" height="2.0" fill="#1a4c29"/><rect x="487.2" y="725.8" width="16.0" height="2.0" fill="#0d2a16"/><rect x="487.2" y="727.8" width="16.0" height="1.0" fill="#0d2915"/><rect x="487.2" y="729.6" width="16.0" height="2.0" fill="#11381d"/><rect x="487.2" y="731.6" width="16.0" height="0.6" fill="#1e562f"/><rect x="487.2" y="732.2" width="16.0" height="1.6" fill="#0e2c17"/><rect x="487.2" y="733.8" width="16.0" height="1.1" fill="#12391d"/><rect x="487.2" y="734.9" width="16.0" height="1.3" fill="#246337"/><rect x="487.2" y="736.2" width="16.0" height="1.6" fill="#1d552e"/><rect x="487.2" y="737.8" width="16.0" height="1.6" fill="#236135"/><rect x="487.2" y="739.4" width="16.0" height="1.1" fill="#328347"/><rect x="487.2" y="740.5" width="16.0" height="1.0" fill="#154223"/><rect x="487.2" y="771.5" width="16.0" height="1.6" fill="#0b2212"/><rect x="487.2" y="773.1" width="16.0" height="1.6" fill="#051109"/><rect x="487.2" y="789.2" width="16.0" height="1.6" fill="#0d2a16"/><rect x="487.2" y="814.6" width="16.0" height="2.0" fill="#081b0e"/>
<rect x="503.2" y="719.7" width="16.0" height="0.8" fill="#154122"/><rect x="503.2" y="723.8" width="16.0" height="2.0" fill="#0c2714"/><rect x="503.2" y="725.8" width="16.0" height="2.0" fill="#081b0e"/><rect x="503.2" y="729.6" width="16.0" height="2.0" fill="#164323"/><rect x="503.2" y="731.6" width="16.0" height="0.6" fill="#1d532d"/><rect x="503.2" y="732.2" width="16.0" height="1.6" fill="#0d2b16"/><rect x="503.2" y="734.9" width="16.0" height="1.3" fill="#11381d"/><rect x="503.2" y="736.2" width="16.0" height="1.6" fill="#266839"/><rect x="503.2" y="737.8" width="16.0" height="1.6" fill="#184826"/><rect x="503.2" y="739.4" width="16.0" height="1.1" fill="#123b1e"/><rect x="503.2" y="740.5" width="16.0" height="1.0" fill="#154022"/><rect x="503.2" y="746.3" width="16.0" height="0.6" fill="#051009"/><rect x="503.2" y="757.7" width="16.0" height="1.3" fill="#0f3119"/><rect x="503.2" y="761.5" width="16.0" height="1.6" fill="#06150b"/><rect x="503.2" y="789.2" width="16.0" height="1.6" fill="#051008"/><rect x="503.2" y="806.1" width="16.0" height="0.9" fill="#07150b"/><rect x="503.2" y="831.3" width="16.0" height="1.6" fill="#081a0d"/>
<rect x="391" y="719.70" width="1.6" height="113.50" fill="#000"/>
<rect x="391.20" y="837.40" width="128.00" height="113.50" fill="#000"/>
<rect x="391.2" y="839.0" width="16.0" height="1.6" fill="#071019"/><rect x="391.2" y="845.5" width="16.0" height="1.0" fill="#051008"/><rect x="391.2" y="847.8" width="16.0" height="0.6" fill="#0d2915"/><rect x="391.2" y="849.5" width="16.0" height="0.6" fill="#050c13"/><rect x="391.2" y="854.1" width="16.0" height="1.0" fill="#0e2d17"/><rect x="391.2" y="861.1" width="16.0" height="0.9" fill="#0a1623"/><rect x="391.2" y="862.0" width="16.0" height="0.8" fill="#154022"/><rect x="391.2" y="867.0" width="16.0" height="2.0" fill="#0a1725"/><rect x="391.2" y="869.0" width="16.0" height="1.1" fill="#0a1724"/><rect x="391.2" y="873.0" width="16.0" height="1.3" fill="#0d2915"/><rect x="391.2" y="877.1" width="16.0" height="0.9" fill="#0c1c2c"/><rect x="391.2" y="883.8" width="16.0" height="1.0" fill="#091521"/><rect x="391.2" y="890.3" width="16.0" height="1.6" fill="#04090f"/><rect x="391.2" y="891.9" width="16.0" height="1.6" fill="#0e2d17"/><rect x="391.2" y="898.0" width="16.0" height="1.1" fill="#11371c"/><rect x="391.2" y="900.9" width="16.0" height="1.6" fill="#0a2011"/><rect x="391.2" y="908.1" width="16.0" height="0.9" fill="#0b2312"/><rect x="391.2" y="910.3" width="16.0" height="1.1" fill="#07160b"/><rect x="391.2" y="913.6" width="16.0" height="0.9" fill="#0a2111"/><rect x="391.2" y="916.1" width="16.0" height="0.9" fill="#10341b"/><rect x="391.2" y="917.0" width="16.0" height="1.1" fill="#051008"/><rect x="391.2" y="919.2" width="16.0" height="1.0" fill="#04090e"/><rect x="391.2" y="924.1" width="16.0" height="1.0" fill="#0e2d17"/><rect x="391.2" y="926.1" width="16.0" height="1.6" fill="#071019"/><rect x="391.2" y="931.1" width="16.0" height="0.6" fill="#06130a"/><rect x="391.2" y="933.3" width="16.0" height="0.8" fill="#07150b"/><rect x="391.2" y="939.6" width="16.0" height="1.0" fill="#050f08"/><rect x="391.2" y="941.5" width="16.0" height="0.6" fill="#060e17"/><rect x="391.2" y="942.1" width="16.0" height="0.6" fill="#071019"/><rect x="391.2" y="942.7" width="16.0" height="1.6" fill="#060d14"/><rect x="391.2" y="946.3" width="16.0" height="1.3" fill="#0a2010"/>
<rect x="407.2" y="840.6" width="16.0" height="1.6" fill="#0c1a2a"/><rect x="407.2" y="842.2" width="16.0" height="1.3" fill="#08190d"/><rect x="407.2" y="849.5" width="16.0" height="0.6" fill="#08190d"/><rect x="407.2" y="855.1" width="16.0" height="1.3" fill="#04090f"/><rect x="407.2" y="861.1" width="16.0" height="0.9" fill="#040a0f"/><rect x="407.2" y="862.0" width="16.0" height="0.8" fill="#0c2613"/><rect x="407.2" y="862.8" width="16.0" height="1.3" fill="#091c0e"/><rect x="407.2" y="867.0" width="16.0" height="2.0" fill="#050b11"/><rect x="407.2" y="869.0" width="16.0" height="1.1" fill="#050c13"/><rect x="407.2" y="877.1" width="16.0" height="0.9" fill="#0a1725"/><rect x="407.2" y="882.2" width="16.0" height="1.6" fill="#071019"/><rect x="407.2" y="884.8" width="16.0" height="0.9" fill="#0b1a29"/><rect x="407.2" y="895.2" width="16.0" height="2.0" fill="#050c14"/><rect x="407.2" y="897.2" width="16.0" height="0.8" fill="#0f3019"/><rect x="407.2" y="900.9" width="16.0" height="1.6" fill="#051008"/><rect x="407.2" y="909.0" width="16.0" height="1.3" fill="#0e2032"/><rect x="407.2" y="910.3" width="16.0" height="1.1" fill="#051109"/><rect x="407.2" y="913.0" width="16.0" height="0.6" fill="#07160b"/><rect x="407.2" y="918.1" width="16.0" height="1.1" fill="#0a1725"/><rect x="407.2" y="921.2" width="16.0" height="0.6" fill="#0f3119"/><rect x="407.2" y="927.7" width="16.0" height="1.6" fill="#0e2033"/><rect x="407.2" y="934.1" width="16.0" height="0.8" fill="#0a2011"/><rect x="407.2" y="937.3" width="16.0" height="1.3" fill="#0e2c17"/><rect x="407.2" y="941.5" width="16.0" height="0.6" fill="#06140a"/>
<rect x="423.2" y="839.0" width="16.0" height="1.6" fill="#142f4a"/><rect x="423.2" y="840.6" width="16.0" height="1.6" fill="#0d1d2e"/><rect x="423.2" y="843.5" width="16.0" height="2.0" fill="#142f4a"/><rect x="423.2" y="845.5" width="16.0" height="1.0" fill="#060e17"/><rect x="423.2" y="846.5" width="16.0" height="1.3" fill="#0d1e2f"/><rect x="423.2" y="848.4" width="16.0" height="1.1" fill="#040a10"/><rect x="423.2" y="849.5" width="16.0" height="0.6" fill="#050c13"/><rect x="423.2" y="850.1" width="16.0" height="0.9" fill="#071019"/><rect x="423.2" y="853.1" width="16.0" height="1.0" fill="#0c1c2c"/><rect x="423.2" y="854.1" width="16.0" height="1.0" fill="#10253a"/><rect x="423.2" y="856.4" width="16.0" height="1.1" fill="#102439"/><rect x="423.2" y="857.5" width="16.0" height="1.3" fill="#050c12"/><rect x="423.2" y="858.8" width="16.0" height="1.0" fill="#142e48"/><rect x="423.2" y="859.8" width="16.0" height="1.3" fill="#16334f"/><rect x="423.2" y="861.1" width="16.0" height="0.9" fill="#0f2236"/><rect x="423.2" y="862.8" width="16.0" height="1.3" fill="#08190d"/><rect x="423.2" y="864.1" width="16.0" height="1.6" fill="#091420"/><rect x="423.2" y="867.0" width="16.0" height="2.0" fill="#0c1b2a"/><rect x="423.2" y="869.0" width="16.0" height="1.1" fill="#0a1725"/><rect x="423.2" y="870.1" width="16.0" height="0.9" fill="#060d14"/><rect x="423.2" y="871.0" width="16.0" height="2.0" fill="#183959"/><rect x="423.2" y="873.0" width="16.0" height="1.3" fill="#060e17"/><rect x="423.2" y="874.3" width="16.0" height="2.0" fill="#122940"/><rect x="423.2" y="877.1" width="16.0" height="0.9" fill="#193c5d"/><rect x="423.2" y="878.0" width="16.0" height="0.8" fill="#102439"/><rect x="423.2" y="879.4" width="16.0" height="0.8" fill="#122a42"/><rect x="423.2" y="883.8" width="16.0" height="1.0" fill="#08111c"/><rect x="423.2" y="885.7" width="16.0" height="2.0" fill="#1b4164"/><rect x="423.2" y="887.7" width="16.0" height="1.0" fill="#09141f"/><rect x="423.2" y="890.3" width="16.0" height="1.6" fill="#142d47"/><rect x="423.2" y="891.9" width="16.0" height="1.6" fill="#0f2337"/><rect x="423.2" y="893.5" width="16.0" height="0.9" fill="#122940"/><rect x="423.2" y="894.4" width="16.0" height="0.8" fill="#102338"/><rect x="423.2" y="895.2" width="16.0" height="2.0" fill="#0d1e2f"/><rect x="423.2" y="897.2" width="16.0" height="0.8" fill="#0f2235"/><rect x="423.2" y="898.0" width="16.0" height="1.1" fill="#050b11"/><rect x="423.2" y="899.1" width="16.0" height="0.8" fill="#0d1e30"/><rect x="423.2" y="899.9" width="16.0" height="1.0" fill="#0c1a2a"/><rect x="423.2" y="900.9" width="16.0" height="1.6" fill="#0e2033"/><rect x="423.2" y="902.5" width="16.0" height="1.0" fill="#132b44"/><rect x="423.2" y="903.5" width="16.0" height="1.3" fill="#0f2338"/><rect x="423.2" y="907.1" width="16.0" height="1.0" fill="#1a3d5e"/><rect x="423.2" y="908.1" width="16.0" height="0.9" fill="#0c1a2a"/><rect x="423.2" y="909.0" width="16.0" height="1.3" fill="#183959"/><rect x="423.2" y="910.3" width="16.0" height="1.1" fill="#102338"/><rect x="423.2" y="914.5" width="16.0" height="1.6" fill="#132c45"/><rect x="423.2" y="917.0" width="16.0" height="1.1" fill="#0f2134"/><rect x="423.2" y="918.1" width="16.0" height="1.1" fill="#0d1d2e"/><rect x="423.2" y="921.2" width="16.0" height="0.6" fill="#0f2134"/><rect x="423.2" y="921.8" width="16.0" height="1.0" fill="#16334f"/><rect x="423.2" y="924.1" width="16.0" height="1.0" fill="#0c1b2b"/><rect x="423.2" y="925.1" width="16.0" height="1.0" fill="#0c1b2a"/><rect x="423.2" y="927.7" width="16.0" height="1.6" fill="#0c1c2d"/><rect x="423.2" y="929.3" width="16.0" height="0.8" fill="#0f2338"/><rect x="423.2" y="930.1" width="16.0" height="1.0" fill="#0f2337"/><rect x="423.2" y="931.1" width="16.0" height="0.6" fill="#0d1d2e"/><rect x="423.2" y="934.1" width="16.0" height="0.8" fill="#173755"/><rect x="423.2" y="937.3" width="16.0" height="1.3" fill="#08190d"/><rect x="423.2" y="940.6" width="16.0" height="0.9" fill="#0a1623"/><rect x="423.2" y="942.1" width="16.0" height="0.6" fill="#10253a"/><rect x="423.2" y="942.7" width="16.0" height="1.6" fill="#0a1826"/><rect x="423.2" y="944.3" width="16.0" height="1.1" fill="#11273e"/><rect x="423.2" y="947.6" width="16.0" height="0.6" fill="#15314c"/><rect x="423.2" y="948.2" width="16.0" height="1.6" fill="#091d0f"/>
<rect x="439.2" y="837.4" width="16.0" height="1.6" fill="#183857"/><rect x="439.2" y="839.0" width="16.0" height="1.6" fill="#15314d"/><rect x="439.2" y="840.6" width="16.0" height="1.6" fill="#275a89"/><rect x="439.2" y="842.2" width="16.0" height="1.3" fill="#193a5b"/><rect x="439.2" y="843.5" width="16.0" height="2.0" fill="#23517d"/><rect x="439.2" y="845.5" width="16.0" height="1.0" fill="#173755"/><rect x="439.2" y="846.5" width="16.0" height="1.3" fill="#1c4367"/><rect x="439.2" y="847.8" width="16.0" height="0.6" fill="#193b5c"/><rect x="439.2" y="848.4" width="16.0" height="1.1" fill="#1a3d5f"/><rect x="439.2" y="849.5" width="16.0" height="0.6" fill="#122941"/><rect x="439.2" y="850.1" width="16.0" height="0.9" fill="#1c4265"/><rect x="439.2" y="853.1" width="16.0" height="1.0" fill="#132c44"/><rect x="439.2" y="854.1" width="16.0" height="1.0" fill="#102439"/><rect x="439.2" y="856.4" width="16.0" height="1.1" fill="#132c44"/><rect x="439.2" y="857.5" width="16.0" height="1.3" fill="#1d456b"/><rect x="439.2" y="858.8" width="16.0" height="1.0" fill="#193b5c"/><rect x="439.2" y="859.8" width="16.0" height="1.3" fill="#163350"/><rect x="439.2" y="861.1" width="16.0" height="0.9" fill="#1f4a73"/><rect x="439.2" y="862.0" width="16.0" height="0.8" fill="#08121c"/><rect x="439.2" y="862.8" width="16.0" height="1.3" fill="#10253a"/><rect x="439.2" y="864.1" width="16.0" height="1.6" fill="#122840"/><rect x="439.2" y="867.0" width="16.0" height="2.0" fill="#15314d"/><rect x="439.2" y="869.0" width="16.0" height="1.1" fill="#04090e"/><rect x="439.2" y="870.1" width="16.0" height="0.9" fill="#102439"/><rect x="439.2" y="871.0" width="16.0" height="2.0" fill="#1a3d5f"/><rect x="439.2" y="873.0" width="16.0" height="1.3" fill="#050c12"/><rect x="439.2" y="876.3" width="16.0" height="0.8" fill="#1b4164"/><rect x="439.2" y="877.1" width="16.0" height="0.9" fill="#275988"/><rect x="439.2" y="878.0" width="16.0" height="0.8" fill="#122a42"/><rect x="439.2" y="878.8" width="16.0" height="0.6" fill="#23527d"/><rect x="439.2" y="879.4" width="16.0" height="0.8" fill="#132d47"/><rect x="439.2" y="880.2" width="16.0" height="2.0" fill="#1a3f61"/><rect x="439.2" y="882.2" width="16.0" height="1.6" fill="#11273e"/><rect x="439.2" y="883.8" width="16.0" height="1.0" fill="#132d47"/><rect x="439.2" y="884.8" width="16.0" height="0.9" fill="#0d1d2e"/><rect x="439.2" y="885.7" width="16.0" height="2.0" fill="#142f4a"/><rect x="439.2" y="890.3" width="16.0" height="1.6" fill="#1a3e60"/><rect x="439.2" y="891.9" width="16.0" height="1.6" fill="#1d4469"/><rect x="439.2" y="893.5" width="16.0" height="0.9" fill="#1d456b"/><rect x="439.2" y="894.4" width="16.0" height="0.8" fill="#16324f"/><rect x="439.2" y="895.2" width="16.0" height="2.0" fill="#265886"/><rect x="439.2" y="897.2" width="16.0" height="0.8" fill="#163350"/><rect x="439.2" y="898.0" width="16.0" height="1.1" fill="#122b43"/><rect x="439.2" y="899.1" width="16.0" height="0.8" fill="#1b4063"/><rect x="439.2" y="899.9" width="16.0" height="1.0" fill="#132b44"/><rect x="439.2" y="900.9" width="16.0" height="1.6" fill="#23517c"/><rect x="439.2" y="902.5" width="16.0" height="1.0" fill="#040a10"/><rect x="439.2" y="903.5" width="16.0" height="1.3" fill="#1a3e61"/><rect x="439.2" y="904.8" width="16.0" height="1.0" fill="#15314c"/><rect x="439.2" y="905.8" width="16.0" height="1.3" fill="#1f4a72"/><rect x="439.2" y="907.1" width="16.0" height="1.0" fill="#204c75"/><rect x="439.2" y="908.1" width="16.0" height="0.9" fill="#15314c"/><rect x="439.2" y="909.0" width="16.0" height="1.3" fill="#15324e"/><rect x="439.2" y="910.3" width="16.0" height="1.1" fill="#193c5d"/><rect x="439.2" y="913.0" width="16.0" height="0.6" fill="#173552"/><rect x="439.2" y="913.6" width="16.0" height="0.9" fill="#08180d"/><rect x="439.2" y="914.5" width="16.0" height="2.5" fill="#122941"/><rect x="439.2" y="917.0" width="16.0" height="1.1" fill="#2b6295"/><rect x="439.2" y="918.1" width="16.0" height="1.1" fill="#173755"/><rect x="439.2" y="919.2" width="16.0" height="1.0" fill="#1c4266"/><rect x="439.2" y="921.2" width="16.0" height="0.6" fill="#255784"/><rect x="439.2" y="921.8" width="16.0" height="1.0" fill="#23517c"/><rect x="439.2" y="924.1" width="16.0" height="1.0" fill="#10253b"/><rect x="439.2" y="925.1" width="16.0" height="1.0" fill="#275988"/><rect x="439.2" y="926.1" width="16.0" height="1.6" fill="#132c45"/><rect x="439.2" y="927.7" width="16.0" height="1.6" fill="#204c74"/><rect x="439.2" y="929.3" width="16.0" height="0.8" fill="#214e77"/><rect x="439.2" y="930.1" width="16.0" height="1.0" fill="#04090e"/><rect x="439.2" y="931.1" width="16.0" height="0.6" fill="#1c4266"/><rect x="439.2" y="931.7" width="16.0" height="1.6" fill="#163452"/><rect x="439.2" y="933.3" width="16.0" height="0.8" fill="#183756"/><rect x="439.2" y="934.1" width="16.0" height="0.8" fill="#295d8e"/><rect x="439.2" y="934.9" width="16.0" height="1.3" fill="#1c4368"/><rect x="439.2" y="936.2" width="16.0" height="1.1" fill="#1b4063"/><rect x="439.2" y="937.3" width="16.0" height="1.3" fill="#1c4265"/><rect x="439.2" y="938.6" width="16.0" height="1.0" fill="#0f2236"/><rect x="439.2" y="939.6" width="16.0" height="1.0" fill="#1d456b"/><rect x="439.2" y="940.6" width="16.0" height="0.9" fill="#0f2237"/><rect x="439.2" y="941.5" width="16.0" height="0.6" fill="#122941"/><rect x="439.2" y="942.1" width="16.0" height="0.6" fill="#122b43"/><rect x="439.2" y="942.7" width="16.0" height="1.6" fill="#0e1f32"/><rect x="439.2" y="944.3" width="16.0" height="1.1" fill="#0c1c2c"/><rect x="439.2" y="945.4" width="16.0" height="0.9" fill="#245481"/><rect x="439.2" y="946.3" width="16.0" height="1.3" fill="#183857"/><rect x="439.2" y="947.6" width="16.0" height="0.6" fill="#1a3e60"/><rect x="439.2" y="948.2" width="16.0" height="1.6" fill="#15304b"/><rect x="439.2" y="949.8" width="16.0" height="0.9" fill="#0c1a29"/><rect x="439.2" y="950.7" width="16.0" height="0.2" fill="#132c44"/>
<rect x="455.2" y="837.4" width="16.0" height="1.6" fill="#193a5a"/><rect x="455.2" y="839.0" width="16.0" height="1.6" fill="#214d77"/><rect x="455.2" y="840.6" width="16.0" height="1.6" fill="#23517c"/><rect x="455.2" y="842.2" width="16.0" height="1.3" fill="#0d1e30"/><rect x="455.2" y="843.5" width="16.0" height="2.0" fill="#1e486e"/><rect x="455.2" y="845.5" width="16.0" height="1.0" fill="#204b74"/><rect x="455.2" y="846.5" width="16.0" height="1.3" fill="#16334f"/><rect x="455.2" y="847.8" width="16.0" height="0.6" fill="#15314d"/><rect x="455.2" y="848.4" width="16.0" height="1.1" fill="#1a3f61"/><rect x="455.2" y="849.5" width="16.0" height="0.6" fill="#1e476d"/><rect x="455.2" y="850.1" width="16.0" height="0.9" fill="#09141f"/><rect x="455.2" y="851.0" width="16.0" height="1.1" fill="#183858"/><rect x="455.2" y="852.1" width="16.0" height="1.0" fill="#091522"/><rect x="455.2" y="853.1" width="16.0" height="1.0" fill="#1d456a"/><rect x="455.2" y="854.1" width="16.0" height="1.0" fill="#173653"/><rect x="455.2" y="855.1" width="16.0" height="1.3" fill="#0a1724"/><rect x="455.2" y="856.4" width="16.0" height="2.4" fill="#183959"/><rect x="455.2" y="858.8" width="16.0" height="1.0" fill="#132b44"/><rect x="455.2" y="859.8" width="16.0" height="1.3" fill="#173553"/><rect x="455.2" y="861.1" width="16.0" height="0.9" fill="#1a3e60"/><rect x="455.2" y="862.0" width="16.0" height="0.8" fill="#132c46"/><rect x="455.2" y="862.8" width="16.0" height="1.3" fill="#0c1c2c"/><rect x="455.2" y="864.1" width="16.0" height="1.6" fill="#0c1b2b"/><rect x="455.2" y="867.0" width="16.0" height="2.0" fill="#0a1623"/><rect x="455.2" y="869.0" width="16.0" height="1.1" fill="#091521"/><rect x="455.2" y="870.1" width="16.0" height="0.9" fill="#1b3f62"/><rect x="455.2" y="873.0" width="16.0" height="1.3" fill="#224f7a"/><rect x="455.2" y="877.1" width="16.0" height="0.9" fill="#1b3f61"/><rect x="455.2" y="878.0" width="16.0" height="0.8" fill="#15304c"/><rect x="455.2" y="878.8" width="16.0" height="0.6" fill="#1b4165"/><rect x="455.2" y="879.4" width="16.0" height="0.8" fill="#11273d"/><rect x="455.2" y="882.2" width="16.0" height="1.6" fill="#193b5b"/><rect x="455.2" y="883.8" width="16.0" height="1.0" fill="#1e466d"/><rect x="455.2" y="884.8" width="16.0" height="0.9" fill="#255683"/><rect x="455.2" y="885.7" width="16.0" height="2.0" fill="#285b8b"/><rect x="455.2" y="888.7" width="16.0" height="1.6" fill="#142f49"/><rect x="455.2" y="890.3" width="16.0" height="1.6" fill="#1b4165"/><rect x="455.2" y="891.9" width="16.0" height="1.6" fill="#1c4265"/><rect x="455.2" y="893.5" width="16.0" height="0.9" fill="#132b43"/><rect x="455.2" y="894.4" width="16.0" height="0.8" fill="#22517c"/><rect x="455.2" y="895.2" width="16.0" height="2.0" fill="#1b3f62"/><rect x="455.2" y="897.2" width="16.0" height="0.8" fill="#163552"/><rect x="455.2" y="898.0" width="16.0" height="1.1" fill="#0f2337"/><rect x="455.2" y="899.1" width="16.0" height="0.8" fill="#193c5d"/><rect x="455.2" y="899.9" width="16.0" height="1.0" fill="#142e47"/><rect x="455.2" y="900.9" width="16.0" height="1.6" fill="#142f4a"/><rect x="455.2" y="902.5" width="16.0" height="1.0" fill="#10253a"/><rect x="455.2" y="903.5" width="16.0" height="1.3" fill="#1a3e60"/><rect x="455.2" y="904.8" width="16.0" height="1.0" fill="#142f4a"/><rect x="455.2" y="905.8" width="16.0" height="1.3" fill="#1c4266"/><rect x="455.2" y="907.1" width="16.0" height="1.0" fill="#122940"/><rect x="455.2" y="908.1" width="16.0" height="0.9" fill="#1d4469"/><rect x="455.2" y="909.0" width="16.0" height="1.3" fill="#122b43"/><rect x="455.2" y="910.3" width="16.0" height="1.1" fill="#1a3e60"/><rect x="455.2" y="911.4" width="16.0" height="1.6" fill="#142f49"/><rect x="455.2" y="913.0" width="16.0" height="0.6" fill="#10253a"/><rect x="455.2" y="913.6" width="16.0" height="0.9" fill="#0f2236"/><rect x="455.2" y="914.5" width="16.0" height="1.6" fill="#0c1a2a"/><rect x="455.2" y="916.1" width="16.0" height="0.9" fill="#1e486f"/><rect x="455.2" y="917.0" width="16.0" height="1.1" fill="#183756"/><rect x="455.2" y="918.1" width="16.0" height="1.1" fill="#163451"/><rect x="455.2" y="919.2" width="16.0" height="1.0" fill="#1f4a72"/><rect x="455.2" y="920.2" width="16.0" height="1.0" fill="#1a3e60"/><rect x="455.2" y="921.2" width="16.0" height="0.6" fill="#255582"/><rect x="455.2" y="921.8" width="16.0" height="1.0" fill="#1e476e"/><rect x="455.2" y="922.8" width="16.0" height="1.3" fill="#1b4063"/><rect x="455.2" y="924.1" width="16.0" height="1.0" fill="#193a5a"/><rect x="455.2" y="925.1" width="16.0" height="1.0" fill="#1e476e"/><rect x="455.2" y="926.1" width="16.0" height="1.6" fill="#0c1c2c"/><rect x="455.2" y="929.3" width="16.0" height="0.8" fill="#22507a"/><rect x="455.2" y="930.1" width="16.0" height="1.0" fill="#0c1a2a"/><rect x="455.2" y="931.1" width="16.0" height="0.6" fill="#193a5a"/><rect x="455.2" y="933.3" width="16.0" height="0.8" fill="#122a42"/><rect x="455.2" y="934.1" width="16.0" height="0.8" fill="#1c4165"/><rect x="455.2" y="934.9" width="16.0" height="1.3" fill="#1e466c"/><rect x="455.2" y="936.2" width="16.0" height="1.1" fill="#214d77"/><rect x="455.2" y="937.3" width="16.0" height="1.3" fill="#142e47"/><rect x="455.2" y="938.6" width="16.0" height="1.0" fill="#1b4064"/><rect x="455.2" y="939.6" width="16.0" height="1.0" fill="#0c1c2c"/><rect x="455.2" y="940.6" width="16.0" height="0.9" fill="#1a3e60"/><rect x="455.2" y="941.5" width="16.0" height="0.6" fill="#183959"/><rect x="455.2" y="942.1" width="16.0" height="0.6" fill="#11273e"/><rect x="455.2" y="942.7" width="16.0" height="1.6" fill="#15304b"/><rect x="455.2" y="944.3" width="16.0" height="1.1" fill="#15314d"/><rect x="455.2" y="946.3" width="16.0" height="1.3" fill="#132c46"/><rect x="455.2" y="947.6" width="16.0" height="0.6" fill="#265785"/><rect x="455.2" y="948.2" width="16.0" height="1.6" fill="#0a1825"/><rect x="455.2" y="949.8" width="16.0" height="0.9" fill="#10253a"/><rect x="455.2" y="950.7" width="16.0" height="0.2" fill="#1a3d5e"/>
<rect x="471.2" y="837.4" width="16.0" height="1.6" fill="#183756"/><rect x="471.2" y="839.0" width="16.0" height="1.6" fill="#1a3d5e"/><rect x="471.2" y="840.6" width="16.0" height="1.6" fill="#173755"/><rect x="471.2" y="842.2" width="16.0" height="1.3" fill="#040a10"/><rect x="471.2" y="843.5" width="16.0" height="2.0" fill="#214e78"/><rect x="471.2" y="845.5" width="16.0" height="1.0" fill="#1f4a72"/><rect x="471.2" y="846.5" width="16.0" height="1.3" fill="#1b3f62"/><rect x="471.2" y="847.8" width="16.0" height="0.6" fill="#1d4469"/><rect x="471.2" y="848.4" width="16.0" height="1.1" fill="#1d466c"/><rect x="471.2" y="849.5" width="16.0" height="0.6" fill="#0e1f31"/><rect x="471.2" y="851.0" width="16.0" height="1.1" fill="#1d456a"/><rect x="471.2" y="852.1" width="16.0" height="1.0" fill="#173653"/><rect x="471.2" y="853.1" width="16.0" height="2.0" fill="#204d76"/><rect x="471.2" y="855.1" width="16.0" height="1.3" fill="#132c46"/><rect x="471.2" y="856.4" width="16.0" height="1.1" fill="#15314c"/><rect x="471.2" y="857.5" width="16.0" height="1.3" fill="#163350"/><rect x="471.2" y="858.8" width="16.0" height="1.0" fill="#10253a"/><rect x="471.2" y="859.8" width="16.0" height="1.3" fill="#193a5a"/><rect x="471.2" y="861.1" width="16.0" height="0.9" fill="#1b4164"/><rect x="471.2" y="862.0" width="16.0" height="0.8" fill="#0f2236"/><rect x="471.2" y="864.1" width="16.0" height="1.6" fill="#204c75"/><rect x="471.2" y="867.0" width="16.0" height="2.0" fill="#173654"/><rect x="471.2" y="869.0" width="16.0" height="1.1" fill="#132c45"/><rect x="471.2" y="870.1" width="16.0" height="0.9" fill="#1a3e60"/><rect x="471.2" y="871.0" width="16.0" height="2.0" fill="#132d46"/><rect x="471.2" y="873.0" width="16.0" height="1.3" fill="#15304b"/><rect x="471.2" y="874.3" width="16.0" height="2.0" fill="#132d46"/><rect x="471.2" y="876.3" width="16.0" height="0.8" fill="#1a3d5e"/><rect x="471.2" y="877.1" width="16.0" height="0.9" fill="#23517d"/><rect x="471.2" y="878.0" width="16.0" height="0.8" fill="#204c75"/><rect x="471.2" y="878.8" width="16.0" height="0.6" fill="#11273d"/><rect x="471.2" y="879.4" width="16.0" height="0.8" fill="#0e2034"/><rect x="471.2" y="880.2" width="16.0" height="2.0" fill="#0f2134"/><rect x="471.2" y="883.8" width="16.0" height="1.0" fill="#08131e"/><rect x="471.2" y="890.3" width="16.0" height="1.6" fill="#0f2337"/><rect x="471.2" y="894.4" width="16.0" height="0.8" fill="#0c1b2b"/><rect x="471.2" y="897.2" width="16.0" height="0.8" fill="#0d1d2f"/><rect x="471.2" y="898.0" width="16.0" height="1.1" fill="#091420"/><rect x="471.2" y="899.1" width="16.0" height="0.8" fill="#10253a"/><rect x="471.2" y="900.9" width="16.0" height="1.6" fill="#10253a"/><rect x="471.2" y="902.5" width="16.0" height="1.0" fill="#11273d"/><rect x="471.2" y="903.5" width="16.0" height="1.3" fill="#0a1725"/><rect x="471.2" y="904.8" width="16.0" height="1.0" fill="#0c1b2b"/><rect x="471.2" y="905.8" width="16.0" height="1.3" fill="#08111b"/><rect x="471.2" y="909.0" width="16.0" height="1.3" fill="#060e16"/><rect x="471.2" y="913.6" width="16.0" height="0.9" fill="#04090e"/><rect x="471.2" y="914.5" width="16.0" height="1.6" fill="#060d14"/><rect x="471.2" y="916.1" width="16.0" height="0.9" fill="#0c1b2a"/><rect x="471.2" y="917.0" width="16.0" height="1.1" fill="#050c13"/><rect x="471.2" y="918.1" width="16.0" height="1.1" fill="#0f2235"/><rect x="471.2" y="921.2" width="16.0" height="0.6" fill="#0b1826"/><rect x="471.2" y="925.1" width="16.0" height="1.0" fill="#0b1826"/><rect x="471.2" y="926.1" width="16.0" height="1.6" fill="#0d1e2f"/><rect x="471.2" y="931.1" width="16.0" height="0.6" fill="#0c1c2c"/><rect x="471.2" y="933.3" width="16.0" height="0.8" fill="#122a42"/><rect x="471.2" y="934.1" width="16.0" height="0.8" fill="#0c1c2c"/><rect x="471.2" y="937.3" width="16.0" height="1.3" fill="#04090e"/><rect x="471.2" y="940.6" width="16.0" height="0.9" fill="#102439"/><rect x="471.2" y="942.7" width="16.0" height="1.6" fill="#0f2236"/><rect x="471.2" y="946.3" width="16.0" height="1.3" fill="#08121d"/><rect x="471.2" y="947.6" width="16.0" height="0.6" fill="#0e2033"/><rect x="471.2" y="950.7" width="16.0" height="0.2" fill="#0b1927"/>
<rect x="487.2" y="837.4" width="16.0" height="1.6" fill="#132d46"/><rect x="487.2" y="839.0" width="16.0" height="1.6" fill="#173654"/><rect x="487.2" y="840.6" width="16.0" height="1.6" fill="#0c1a2a"/><rect x="487.2" y="843.5" width="16.0" height="2.0" fill="#122a42"/><rect x="487.2" y="845.5" width="16.0" height="1.0" fill="#091522"/><rect x="487.2" y="846.5" width="16.0" height="1.3" fill="#173553"/><rect x="487.2" y="847.8" width="16.0" height="0.6" fill="#16334f"/><rect x="487.2" y="848.4" width="16.0" height="1.1" fill="#173755"/><rect x="487.2" y="849.5" width="16.0" height="0.6" fill="#07111a"/><rect x="487.2" y="852.1" width="16.0" height="1.0" fill="#102439"/><rect x="487.2" y="853.1" width="16.0" height="1.0" fill="#11283e"/><rect x="487.2" y="854.1" width="16.0" height="1.0" fill="#132d46"/><rect x="487.2" y="856.4" width="16.0" height="1.1" fill="#0c1b2b"/><rect x="487.2" y="858.8" width="16.0" height="1.0" fill="#0e1f32"/><rect x="487.2" y="861.1" width="16.0" height="0.9" fill="#142e48"/><rect x="487.2" y="862.0" width="16.0" height="0.8" fill="#091c0f"/><rect x="487.2" y="862.8" width="16.0" height="1.3" fill="#07170c"/><rect x="487.2" y="864.1" width="16.0" height="1.6" fill="#11273e"/><rect x="487.2" y="867.0" width="16.0" height="2.0" fill="#070f19"/><rect x="487.2" y="869.0" width="16.0" height="1.1" fill="#060d14"/><rect x="487.2" y="870.1" width="16.0" height="0.9" fill="#193b5b"/>
<rect x="503.2" y="839.0" width="16.0" height="1.6" fill="#173553"/><rect x="503.2" y="840.6" width="16.0" height="1.6" fill="#102439"/><rect x="503.2" y="843.5" width="16.0" height="2.0" fill="#132d47"/><rect x="503.2" y="845.5" width="16.0" height="1.0" fill="#11283f"/><rect x="503.2" y="846.5" width="16.0" height="1.3" fill="#0b1928"/><rect x="503.2" y="847.8" width="16.0" height="0.6" fill="#183857"/><rect x="503.2" y="848.4" width="16.0" height="1.1" fill="#204d76"/><rect x="503.2" y="849.5" width="16.0" height="0.6" fill="#1f4a72"/><rect x="503.2" y="853.1" width="16.0" height="1.0" fill="#14304a"/><rect x="503.2" y="854.1" width="16.0" height="1.0" fill="#122a42"/><rect x="503.2" y="857.5" width="16.0" height="1.3" fill="#091421"/><rect x="503.2" y="858.8" width="16.0" height="1.0" fill="#10253a"/><rect x="503.2" y="861.1" width="16.0" height="0.9" fill="#142e47"/><rect x="503.2" y="862.0" width="16.0" height="0.8" fill="#0c2614"/><rect x="503.2" y="862.8" width="16.0" height="1.3" fill="#0d1d2f"/><rect x="503.2" y="864.1" width="16.0" height="1.6" fill="#0d1e2f"/><rect x="503.2" y="865.7" width="16.0" height="1.3" fill="#0b1827"/><rect x="503.2" y="867.0" width="16.0" height="2.0" fill="#08121c"/><rect x="503.2" y="869.0" width="16.0" height="1.1" fill="#091c0f"/><rect x="503.2" y="870.1" width="16.0" height="0.9" fill="#0c1b2a"/>
<rect x="407.20" y="837.90" width="112.00" height="1.20" fill="#4f86bf" />
<rect x="391" y="837.40" width="1.6" height="113.50" fill="#000"/>
<rect x="522.80" y="600.50" width="54.30" height="113.50" fill="#fff"/>
<rect x="523.50" y="600.50" width="16.20" height="113.50" fill="#9fdcd6"/>
<line x1="522.80" y1="657.30" x2="577.10" y2="657.30" stroke="#111" stroke-width="2.4" stroke-dasharray="7.8,8" stroke-dashoffset="1"/>
<polyline points="523.5,656.0 531.2,642.4 538.6,615.1 546.1,641.6 553.7,650.4 569.4,652.8 576.5,655.7" fill="none" stroke="#1ecfa2" stroke-width="2.2" stroke-linejoin="round"/>
<rect x="522.80" y="600.50" width="54.30" height="113.50" fill="none" stroke="#000" stroke-width="1.8"/>
<rect x="578.00" y="600.70" width="15.60" height="113.10" fill="#fff" stroke="#000" stroke-width="2"/>
<text transform="translate(582.20,657.25) rotate(90)" font-size="10.4" stroke="#000" stroke-width="0.25" text-anchor="middle" textLength="40.6" lengthAdjust="spacingAndGlyphs">Cluster 1</text>
<text transform="translate(598.10,658.75) rotate(90)" font-size="15.0" font-weight="bold" text-anchor="middle">712</text>
<rect x="522.80" y="719.70" width="54.30" height="113.50" fill="#fff"/>
<rect x="541.60" y="719.70" width="8.50" height="113.50" fill="#9fdcd6"/>
<line x1="522.80" y1="776.00" x2="577.10" y2="776.00" stroke="#111" stroke-width="2.4" stroke-dasharray="7.8,8" stroke-dashoffset="1"/>
<polyline points="526.0,776.8 539.7,774.7 542.1,774.0 549.0,731.1 556.9,760.8 565.4,768.0 576.5,773.6" fill="none" stroke="#1ecfa2" stroke-width="2.2" stroke-linejoin="round"/>
<rect x="522.80" y="719.70" width="54.30" height="113.50" fill="none" stroke="#000" stroke-width="1.8"/>
<rect x="578.00" y="719.90" width="15.60" height="113.10" fill="#fff" stroke="#000" stroke-width="2"/>
<text transform="translate(582.20,776.45) rotate(90)" font-size="10.4" stroke="#000" stroke-width="0.25" text-anchor="middle" textLength="40.6" lengthAdjust="spacingAndGlyphs">Cluster 2</text>
<text transform="translate(598.10,777.95) rotate(90)" font-size="15.0" font-weight="bold" text-anchor="middle">1216</text>
<rect x="522.80" y="837.40" width="54.30" height="113.50" fill="#fff"/>
<rect x="523.50" y="837.40" width="30.20" height="113.50" fill="#9dbfdf"/>
<line x1="522.80" y1="895.00" x2="577.10" y2="895.00" stroke="#111" stroke-width="2.4" stroke-dasharray="7.8,8" stroke-dashoffset="1"/>
<polyline points="523.5,896.2 538.6,905.5 553.0,907.9 569.4,903.0 576.5,898.3" fill="none" stroke="#1ecfa2" stroke-width="2.2" stroke-linejoin="round"/>
<rect x="522.80" y="837.40" width="54.30" height="113.50" fill="none" stroke="#000" stroke-width="1.8"/>
<rect x="578.00" y="837.60" width="15.60" height="113.10" fill="#fff" stroke="#000" stroke-width="2"/>
<text transform="translate(582.20,894.15) rotate(90)" font-size="10.4" stroke="#000" stroke-width="0.25" text-anchor="middle" textLength="40.6" lengthAdjust="spacingAndGlyphs">Cluster 3</text>
<text transform="translate(598.10,895.65) rotate(90)" font-size="15.0" font-weight="bold" text-anchor="middle">1165</text>
<text x="614.6" y="618.2" font-size="18.6">Log<tspan font-size="11.2">2</tspan>FC</text>
<rect x="616.10" y="633.30" width="14.20" height="12.80" fill="#d9efd6" />
<text x="676.50" y="645.30" font-size="16.9" text-anchor="end" fill="#1a1a1a" >10.0</text>
<rect x="616.10" y="650.28" width="14.20" height="12.80" fill="#98d394" />
<text x="676.50" y="662.28" font-size="16.9" text-anchor="end" fill="#1a1a1a" >5.0</text>
<rect x="616.10" y="667.26" width="14.20" height="12.80" fill="#3a9a5a" />
<text x="676.50" y="679.26" font-size="16.9" text-anchor="end" fill="#1a1a1a" >2.5</text>
<rect x="616.10" y="684.24" width="14.20" height="12.80" fill="#1f4d2c" />
<text x="676.50" y="696.24" font-size="16.9" text-anchor="end" fill="#1a1a1a" >1.0</text>
<rect x="616.10" y="701.22" width="14.20" height="12.80" fill="#000000" />
<rect x="616.10" y="718.20" width="14.20" height="12.80" fill="#1f3f66" />
<text x="680.60" y="730.20" font-size="16.9" text-anchor="end" fill="#1a1a1a" >&#8722;1.0</text>
<rect x="616.10" y="735.18" width="14.20" height="12.80" fill="#3a7ebf" />
<text x="680.60" y="747.18" font-size="16.9" text-anchor="end" fill="#1a1a1a" >&#8722;2.5</text>
<rect x="616.10" y="752.16" width="14.20" height="12.80" fill="#96bfdf" />
<text x="680.60" y="764.16" font-size="16.9" text-anchor="end" fill="#1a1a1a" >&#8722;5.0</text>
<rect x="616.10" y="769.14" width="14.20" height="12.80" fill="#dbe7f5" />
<text x="680.60" y="781.14" font-size="16.9" text-anchor="end" fill="#1a1a1a" >&#8722;10.0</text>
<line x1="399.20" y1="952" x2="399.20" y2="954" stroke="#888" stroke-width="1"/>
<line x1="415.20" y1="952" x2="415.20" y2="954" stroke="#888" stroke-width="1"/>
<line x1="431.20" y1="952" x2="431.20" y2="954" stroke="#888" stroke-width="1"/>
<line x1="447.20" y1="952" x2="447.20" y2="954" stroke="#888" stroke-width="1"/>
<line x1="463.20" y1="952" x2="463.20" y2="954" stroke="#888" stroke-width="1"/>
<line x1="479.20" y1="952" x2="479.20" y2="954" stroke="#888" stroke-width="1"/>
<line x1="495.20" y1="952" x2="495.20" y2="954" stroke="#888" stroke-width="1"/>
<line x1="511.20" y1="952" x2="511.20" y2="954" stroke="#888" stroke-width="1"/>
<text x="400.30" y="963.40" font-size="11.5" text-anchor="middle" fill="#1a1a1a" >0</text>
<text x="414.60" y="963.40" font-size="11.5" text-anchor="middle" fill="#1a1a1a" >15</text>
<text x="431.40" y="963.40" font-size="11.5" text-anchor="middle" fill="#1a1a1a" >30</text>
<text x="448.50" y="963.40" font-size="11.5" text-anchor="middle" fill="#1a1a1a" >60</text>
<text x="480.50" y="963.40" font-size="11.5" text-anchor="middle" fill="#1a1a1a" >120</text>
<text x="512.70" y="963.40" font-size="11.5" text-anchor="middle" fill="#1a1a1a" >360</text>
<text x="458.30" y="986.30" font-size="15.8" text-anchor="middle" fill="#1a1a1a" >Time (min)</text>
</svg>
</body></html>
